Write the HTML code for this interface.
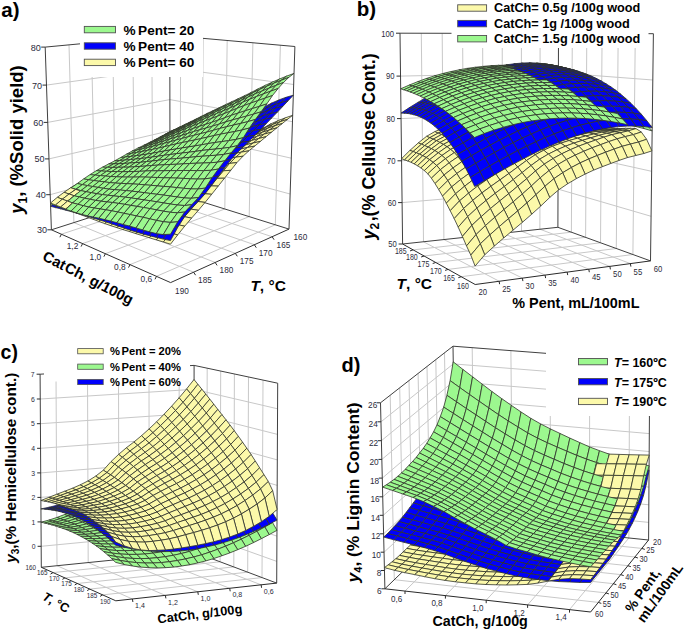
<!DOCTYPE html>
<html><head><meta charset="utf-8"><style>
html,body{margin:0;padding:0;background:#fff;}
svg{display:block;}
text{font-family:"Liberation Sans",sans-serif;}
.g{fill:#9cf88f}.b{fill:#0000fc}.y{fill:#fcf9aa}
</style></head><body>
<svg width="685" height="633" viewBox="0 0 685 633">
<rect width="685" height="633" fill="#fff"/>
<g id="pa">
<path d="M73.9,222.6 L193.6,272.2" stroke="#c8c8c8" stroke-width="1.0" fill="none"/>
<path d="M95.2,215.8 L215.1,262.4" stroke="#c8c8c8" stroke-width="1.0" fill="none"/>
<path d="M115.4,209.3 L235.3,253.3" stroke="#c8c8c8" stroke-width="1.0" fill="none"/>
<path d="M134.5,203.2 L254.3,244.7" stroke="#c8c8c8" stroke-width="1.0" fill="none"/>
<path d="M152.7,197.4 L272.1,236.7" stroke="#c8c8c8" stroke-width="1.0" fill="none"/>
<path d="M61.4,234.2 L180.3,195.1" stroke="#c8c8c8" stroke-width="1.0" fill="none"/>
<path d="M82.6,243.6 L201.8,201.8" stroke="#c8c8c8" stroke-width="1.0" fill="none"/>
<path d="M105.4,253.7 L224.8,209.0" stroke="#c8c8c8" stroke-width="1.0" fill="none"/>
<path d="M130.0,264.6 L249.2,216.6" stroke="#c8c8c8" stroke-width="1.0" fill="none"/>
<path d="M156.5,276.3 L275.3,224.8" stroke="#c8c8c8" stroke-width="1.0" fill="none"/>
<path d="M50.2,194.7 L169.9,161.6" stroke="#c8c8c8" stroke-width="1.0" fill="none"/>
<path d="M49.0,158.9 L169.9,130.8" stroke="#c8c8c8" stroke-width="1.0" fill="none"/>
<path d="M47.7,122.4 L169.9,99.6" stroke="#c8c8c8" stroke-width="1.0" fill="none"/>
<path d="M46.5,85.1 L169.9,67.8" stroke="#c8c8c8" stroke-width="1.0" fill="none"/>
<path d="M73.9,222.6 L69.0,44.9" stroke="#c8c8c8" stroke-width="1.0" fill="none"/>
<path d="M95.2,215.8 L91.4,42.8" stroke="#c8c8c8" stroke-width="1.0" fill="none"/>
<path d="M115.4,209.3 L112.7,40.8" stroke="#c8c8c8" stroke-width="1.0" fill="none"/>
<path d="M134.5,203.2 L132.8,38.9" stroke="#c8c8c8" stroke-width="1.0" fill="none"/>
<path d="M152.7,197.4 L151.8,37.1" stroke="#c8c8c8" stroke-width="1.0" fill="none"/>
<path d="M169.9,161.6 L290.1,194.0" stroke="#c8c8c8" stroke-width="1.0" fill="none"/>
<path d="M169.9,130.8 L291.3,158.2" stroke="#c8c8c8" stroke-width="1.0" fill="none"/>
<path d="M169.9,99.6 L292.5,121.7" stroke="#c8c8c8" stroke-width="1.0" fill="none"/>
<path d="M169.9,67.8 L293.7,84.5" stroke="#c8c8c8" stroke-width="1.0" fill="none"/>
<path d="M180.3,195.1 L180.6,36.4" stroke="#c8c8c8" stroke-width="1.0" fill="none"/>
<path d="M201.8,201.8 L203.2,38.4" stroke="#c8c8c8" stroke-width="1.0" fill="none"/>
<path d="M224.8,209.0 L227.2,40.5" stroke="#c8c8c8" stroke-width="1.0" fill="none"/>
<path d="M249.2,216.6 L252.9,42.8" stroke="#c8c8c8" stroke-width="1.0" fill="none"/>
<path d="M275.3,224.8 L280.4,45.2" stroke="#c8c8c8" stroke-width="1.0" fill="none"/>
<path d="M51.4,229.8 L45.2,47.1" stroke="#404040" stroke-width="1.0" fill="none"/>
<path d="M45.2,47.1 L169.8,35.4" stroke="#404040" stroke-width="1.0" fill="none"/>
<path d="M169.8,35.4 L294.9,46.5" stroke="#404040" stroke-width="1.0" fill="none"/>
<path d="M294.9,46.5 L289.0,229.1" stroke="#404040" stroke-width="1.0" fill="none"/>
<path d="M170.0,191.8 L169.8,35.4" stroke="#404040" stroke-width="1.0" fill="none"/>
<path d="M51.4,229.8 L170.0,191.8" stroke="#404040" stroke-width="1.0" fill="none"/>
<path d="M170.0,191.8 L289.0,229.1" stroke="#404040" stroke-width="1.0" fill="none"/>
<path d="M51.4,229.8 L170.6,282.6" stroke="#303030" stroke-width="1.0" fill="none"/>
<path d="M170.6,282.6 L289.0,229.1" stroke="#303030" stroke-width="1.0" fill="none"/>
<path d="M61.4,234.2 l-1.5,3" stroke="#303030" stroke-width="1"/>
<path d="M82.6,243.6 l-1.5,3" stroke="#303030" stroke-width="1"/>
<path d="M105.4,253.7 l-1.5,3" stroke="#303030" stroke-width="1"/>
<path d="M130.0,264.6 l-1.5,3" stroke="#303030" stroke-width="1"/>
<path d="M156.5,276.3 l-1.5,3" stroke="#303030" stroke-width="1"/>
<path d="M193.6,272.2 l2,3" stroke="#303030" stroke-width="1"/>
<path d="M215.1,262.4 l2,3" stroke="#303030" stroke-width="1"/>
<path d="M235.3,253.3 l2,3" stroke="#303030" stroke-width="1"/>
<path d="M254.3,244.7 l2,3" stroke="#303030" stroke-width="1"/>
<path d="M272.1,236.7 l2,3" stroke="#303030" stroke-width="1"/>
<path d="M51.4,229.8 l-4,0" stroke="#303030" stroke-width="1"/>
<path d="M50.2,194.7 l-4,0" stroke="#303030" stroke-width="1"/>
<path d="M49.0,158.9 l-4,0" stroke="#303030" stroke-width="1"/>
<path d="M47.7,122.4 l-4,0" stroke="#303030" stroke-width="1"/>
<path d="M46.5,85.1 l-4,0" stroke="#303030" stroke-width="1"/>
<path d="M45.2,47.1 l-4,0" stroke="#303030" stroke-width="1"/>
<g stroke="#30332a" stroke-width="0.8">
<path class=y d="M164.8 148.1 169.9 147.9 175.1 146 169.9 146.3z"/>
<path class=b d="M164.8 148.1 169.9 147.3 175.1 145.4 169.9 146.3z"/>
<path class=g d="M164.7 134.5 169.9 132.1 175.1 129.2 169.9 131.6z"/>
<path class=y d="M169.9 147.9 175.2 147.6 180.4 145.6 175.1 146z"/>
<path class=b d="M169.9 147.3 175.2 146.3 180.4 144.3 175.1 145.4z"/>
<path class=g d="M169.9 132.1 175.2 129.7 180.4 126.7 175.1 129.2z"/>
<path class=y d="M159.5 149.9 164.7 149.8 169.9 147.9 164.8 148.1z"/>
<path class=b d="M159.5 150.1 164.7 149.3 169.9 147.3 164.8 148.1z"/>
<path class=g d="M159.5 137.3 164.7 135 169.9 132.1 164.7 134.5z"/>
<path class=y d="M175.2 147.6 180.6 147.2 185.7 145.2 180.4 145.6z"/>
<path class=b d="M175.2 146.3 180.6 145.2 185.7 143 180.4 144.3z"/>
<path class=g d="M175.2 129.7 180.6 127.1 185.8 124.1 180.4 126.7z"/>
<path class=y d="M164.7 149.8 170 149.6 175.2 147.6 169.9 147.9z"/>
<path class=b d="M164.7 149.3 170 148.5 175.2 146.3 169.9 147.3z"/>
<path class=g d="M164.7 135 170 132.7 175.2 129.7 169.9 132.1z"/>
<path class=y d="M154.2 151.8 159.4 151.8 164.7 149.8 159.5 149.9z"/>
<path class=b d="M154.2 152.1 159.4 151.5 164.7 149.3 159.5 150.1z"/>
<path class=g d="M154.1 140.1 159.3 138 164.7 135 159.5 137.3z"/>
<path class=y d="M180.6 147.2 186 146.7 191.2 144.6 185.7 145.2z"/>
<path class=b d="M180.6 145.2 186 143.9 191.2 141.6 185.7 143z"/>
<path class=g d="M180.6 127.1 186.1 124.5 191.3 121.4 185.8 124.1z"/>
<path class=y d="M170 149.6 175.3 149.2 180.6 147.2 175.2 147.6z"/>
<path class=b d="M170 148.5 175.3 147.4 180.6 145.2 175.2 146.3z"/>
<path class=g d="M170 132.7 175.3 130.3 180.6 127.1 175.2 129.7z"/>
<path class=y d="M159.4 151.8 164.6 151.6 170 149.6 164.7 149.8z"/>
<path class=b d="M159.4 151.5 164.6 150.7 170 148.5 164.7 149.3z"/>
<path class=g d="M159.3 138 164.6 135.8 170 132.7 164.7 135z"/>
<path class=b d="M148.8 154.2 154 153.7 159.4 151.5 154.2 152.1z"/>
<path class=y d="M148.8 153.8 154 153.8 159.4 151.8 154.2 151.8z"/>
<path class=g d="M148.7 142.8 153.9 141 159.3 138 154.1 140.1z"/>
<path class=y d="M186 146.7 191.5 146.1 196.7 144 191.2 144.6z"/>
<path class=b d="M186 143.9 191.5 142.4 196.7 139.9 191.2 141.6z"/>
<path class=g d="M186.1 124.5 191.7 121.9 196.9 118.6 191.3 121.4z"/>
<path class=y d="M175.3 149.2 180.7 148.8 186 146.7 180.6 147.2z"/>
<path class=b d="M175.3 147.4 180.8 146.2 186 143.9 180.6 145.2z"/>
<path class=g d="M175.3 130.3 180.8 127.9 186.1 124.5 180.6 127.1z"/>
<path class=y d="M164.6 151.6 170 151.4 175.3 149.2 170 149.6z"/>
<path class=b d="M164.6 150.7 170 149.8 175.3 147.4 170 148.5z"/>
<path class=g d="M164.6 135.8 170 133.6 175.3 130.3 170 132.7z"/>
<path class=y d="M154 153.8 159.2 153.7 164.6 151.6 159.4 151.8z"/>
<path class=b d="M154 153.7 159.2 153 164.6 150.7 159.4 151.5z"/>
<path class=g d="M153.9 141 159.2 139 164.6 135.8 159.3 138z"/>
<path class=b d="M143.3 156.4 148.5 156 154 153.7 148.8 154.2z"/>
<path class=y d="M143.3 155.9 148.5 155.9 154 153.8 148.8 153.8z"/>
<path class=g d="M143.3 145.5 148.4 143.9 153.9 141 148.7 142.8z"/>
<path class=y d="M191.5 146.1 197.1 145.4 202.3 143.2 196.7 144z"/>
<path class=b d="M191.5 142.4 197.2 140.7 202.4 138.2 196.7 139.9z"/>
<path class=g d="M191.7 121.9 197.3 119.1 202.5 115.8 196.9 118.6z"/>
<path class=y d="M180.7 148.8 186.3 148.3 191.5 146.1 186 146.7z"/>
<path class=b d="M180.8 146.2 186.3 144.9 191.5 142.4 186 143.9z"/>
<path class=g d="M180.8 127.9 186.4 125.3 191.7 121.9 186.1 124.5z"/>
<path class=y d="M170 151.4 175.4 151 180.7 148.8 175.3 149.2z"/>
<path class=b d="M170 149.8 175.4 148.7 180.8 146.2 175.3 147.4z"/>
<path class=g d="M170 133.6 175.4 131.3 180.8 127.9 175.3 130.3z"/>
<path class=y d="M159.2 153.7 164.6 153.6 170 151.4 164.6 151.6z"/>
<path class=b d="M159.2 153 164.6 152.2 170 149.8 164.6 150.7z"/>
<path class=g d="M159.2 139 164.5 137 170 133.6 164.6 135.8z"/>
<path class=y d="M148.5 155.9 153.8 155.9 159.2 153.7 154 153.8z"/>
<path class=b d="M148.5 156 153.8 155.4 159.2 153 154 153.7z"/>
<path class=g d="M148.4 143.9 153.7 142.2 159.2 139 153.9 141z"/>
<path class=b d="M137.8 158.7 142.9 158.3 148.5 156 143.3 156.4z"/>
<path class=y d="M137.8 158 142.9 158.1 148.5 155.9 143.3 155.9z"/>
<path class=g d="M137.7 148.2 142.8 146.9 148.4 143.9 143.3 145.5z"/>
<path class=y d="M197.1 145.4 202.9 144.7 208 142.4 202.3 143.2z"/>
<path class=b d="M197.2 140.7 202.9 138.9 208.1 136.2 202.4 138.2z"/>
<path class=g d="M197.3 119.1 203.1 116.3 208.3 112.9 202.5 115.8z"/>
<path class=y d="M186.3 148.3 191.9 147.7 197.1 145.4 191.5 146.1z"/>
<path class=b d="M186.3 144.9 191.9 143.4 197.2 140.7 191.5 142.4z"/>
<path class=g d="M186.4 125.3 192 122.7 197.3 119.1 191.7 121.9z"/>
<path class=y d="M175.4 151 180.9 150.6 186.3 148.3 180.7 148.8z"/>
<path class=b d="M175.4 148.7 181 147.5 186.3 144.9 180.8 146.2z"/>
<path class=g d="M175.4 131.3 181 128.9 186.4 125.3 180.8 127.9z"/>
<path class=y d="M164.6 153.6 170 153.3 175.4 151 170 151.4z"/>
<path class=b d="M164.6 152.2 170 151.2 175.4 148.7 170 149.8z"/>
<path class=g d="M164.5 137 170 134.9 175.4 131.3 170 133.6z"/>
<path class=y d="M153.8 155.9 159.1 155.8 164.6 153.6 159.2 153.7z"/>
<path class=b d="M153.8 155.4 159.1 154.7 164.6 152.2 159.2 153z"/>
<path class=g d="M153.7 142.2 159 140.5 164.5 137 159.2 139z"/>
<path class=y d="M142.9 158.1 148.2 158.2 153.8 155.9 148.5 155.9z"/>
<path class=b d="M142.9 158.3 148.2 157.8 153.8 155.4 148.5 156z"/>
<path class=g d="M142.8 146.9 148.1 145.5 153.7 142.2 148.4 143.9z"/>
<path class=b d="M132.1 161.1 137.3 160.8 142.9 158.3 137.8 158.7z"/>
<path class=y d="M132.1 160.1 137.3 160.3 142.9 158.1 137.8 158z"/>
<path class=g d="M132 151.1 137.2 150 142.8 146.9 137.7 148.2z"/>
<path class=y d="M202.9 144.7 208.7 143.9 213.9 141.5 208 142.4z"/>
<path class=b d="M202.9 138.9 208.7 136.9 213.9 134 208.1 136.2z"/>
<path class=g d="M203.1 116.3 209 113.5 214.2 110.1 208.3 112.9z"/>
<path class=y d="M191.9 147.7 197.6 147.1 202.9 144.7 197.1 145.4z"/>
<path class=b d="M191.9 143.4 197.6 141.7 202.9 138.9 197.2 140.7z"/>
<path class=g d="M192 122.7 197.8 120 203.1 116.3 197.3 119.1z"/>
<path class=y d="M180.9 150.6 186.6 150.1 191.9 147.7 186.3 148.3z"/>
<path class=b d="M181 147.5 186.6 146.1 191.9 143.4 186.3 144.9z"/>
<path class=g d="M181 128.9 186.7 126.4 192 122.7 186.4 125.3z"/>
<path class=y d="M170 153.3 175.5 153 180.9 150.6 175.4 151z"/>
<path class=b d="M170 151.2 175.5 150.1 181 147.5 175.4 148.7z"/>
<path class=g d="M170 134.9 175.5 132.7 181 128.9 175.4 131.3z"/>
<path class=y d="M159.1 155.8 164.5 155.7 170 153.3 164.6 153.6z"/>
<path class=b d="M159.1 154.7 164.5 153.8 170 151.2 164.6 152.2z"/>
<path class=g d="M159 140.5 164.5 138.7 170 134.9 164.5 137z"/>
<path class=y d="M148.2 158.2 153.5 158.2 159.1 155.8 153.8 155.9z"/>
<path class=b d="M148.2 157.8 153.5 157.2 159.1 154.7 153.8 155.4z"/>
<path class=g d="M148.1 145.5 153.4 144 159 140.5 153.7 142.2z"/>
<path class=b d="M137.3 160.8 142.5 160.4 148.2 157.8 142.9 158.3z"/>
<path class=y d="M137.3 160.3 142.5 160.5 148.2 158.2 142.9 158.1z"/>
<path class=g d="M137.2 150 142.4 148.8 148.1 145.5 142.8 146.9z"/>
<path class=b d="M126.4 163.5 131.6 163.3 137.3 160.8 132.1 161.1z"/>
<path class=y d="M126.4 162.4 131.6 162.6 137.3 160.3 132.1 160.1z"/>
<path class=g d="M126.3 154.3 131.4 153.4 137.2 150 132 151.1z"/>
<path class=y d="M208.7 143.9 214.6 143 219.8 140.5 213.9 141.5z"/>
<path class=b d="M208.7 136.9 214.7 134.7 219.9 131.6 213.9 134z"/>
<path class=g d="M209 113.5 215 110.7 220.2 107.2 214.2 110.1z"/>
<path class=y d="M197.6 147.1 203.4 146.4 208.7 143.9 202.9 144.7z"/>
<path class=b d="M197.6 141.7 203.5 139.9 208.7 136.9 202.9 138.9z"/>
<path class=g d="M197.8 120 203.7 117.3 209 113.5 203.1 116.3z"/>
<path class=y d="M186.6 150.1 192.3 149.6 197.6 147.1 191.9 147.7z"/>
<path class=b d="M186.6 146.1 192.3 144.6 197.6 141.7 191.9 143.4z"/>
<path class=g d="M186.7 126.4 192.4 123.9 197.8 120 192 122.7z"/>
<path class=y d="M175.5 153 181.1 152.6 186.6 150.1 180.9 150.6z"/>
<path class=b d="M175.5 150.1 181.2 148.9 186.6 146.1 181 147.5z"/>
<path class=g d="M175.5 132.7 181.2 130.4 186.7 126.4 181 128.9z"/>
<path class=y d="M164.5 155.7 170 155.4 175.5 153 170 153.3z"/>
<path class=b d="M164.5 153.8 170 152.9 175.5 150.1 170 151.2z"/>
<path class=g d="M164.5 138.7 170 136.8 175.5 132.7 170 134.9z"/>
<path class=y d="M153.5 158.2 158.9 158.1 164.5 155.7 159.1 155.8z"/>
<path class=b d="M153.5 157.2 158.9 156.5 164.5 153.8 159.1 154.7z"/>
<path class=g d="M153.4 144 158.9 142.4 164.5 138.7 159 140.5z"/>
<path class=y d="M142.5 160.5 147.9 160.6 153.5 158.2 148.2 158.2z"/>
<path class=b d="M142.5 160.4 147.9 159.9 153.5 157.2 148.2 157.8z"/>
<path class=g d="M142.4 148.8 147.8 147.6 153.4 144 148.1 145.5z"/>
<path class=b d="M131.6 163.3 136.8 163 142.5 160.4 137.3 160.8z"/>
<path class=y d="M131.6 162.6 136.8 162.8 142.5 160.5 137.3 160.3z"/>
<path class=g d="M131.4 153.4 136.7 152.5 142.4 148.8 137.2 150z"/>
<path class=b d="M120.6 166 125.7 165.9 131.6 163.3 126.4 163.5z"/>
<path class=y d="M120.6 164.6 125.7 165 131.6 162.6 126.4 162.4z"/>
<path class=g d="M120.5 157.6 125.6 157 131.4 153.4 126.3 154.3z"/>
<path class=y d="M214.6 143 220.6 142 225.8 139.4 219.8 140.5z"/>
<path class=b d="M214.7 134.7 220.7 132.3 225.9 129 219.9 131.6z"/>
<path class=g d="M215 110.7 221.1 107.8 226.3 104.3 220.2 107.2z"/>
<path class=y d="M203.4 146.4 209.3 145.6 214.6 143 208.7 143.9z"/>
<path class=b d="M203.5 139.9 209.4 137.9 214.7 134.7 208.7 136.9z"/>
<path class=g d="M203.7 117.3 209.7 114.6 215 110.7 209 113.5z"/>
<path class=y d="M192.3 149.6 198.1 148.9 203.4 146.4 197.6 147.1z"/>
<path class=b d="M192.3 144.6 198.1 143 203.5 139.9 197.6 141.7z"/>
<path class=g d="M192.4 123.9 198.3 121.3 203.7 117.3 197.8 120z"/>
<path class=y d="M181.1 152.6 186.9 152.1 192.3 149.6 186.6 150.1z"/>
<path class=b d="M181.2 148.9 186.9 147.6 192.3 144.6 186.6 146.1z"/>
<path class=g d="M181.2 130.4 187 128.1 192.4 123.9 186.7 126.4z"/>
<path class=y d="M170 155.4 175.6 155.1 181.1 152.6 175.5 153z"/>
<path class=b d="M170 152.9 175.6 151.8 181.2 148.9 175.5 150.1z"/>
<path class=g d="M170 136.8 175.7 134.8 181.2 130.4 175.5 132.7z"/>
<path class=y d="M158.9 158.1 164.5 157.9 170 155.4 164.5 155.7z"/>
<path class=b d="M158.9 156.5 164.4 155.7 170 152.9 164.5 153.8z"/>
<path class=g d="M158.9 142.4 164.4 140.8 170 136.8 164.5 138.7z"/>
<path class=y d="M147.9 160.6 153.3 160.6 158.9 158.1 153.5 158.2z"/>
<path class=b d="M147.9 159.9 153.3 159.3 158.9 156.5 153.5 157.2z"/>
<path class=g d="M147.8 147.6 153.2 146.2 158.9 142.4 153.4 144z"/>
<path class=y d="M136.8 162.8 142.1 163 147.9 160.6 142.5 160.5z"/>
<path class=b d="M136.8 163 142.1 162.6 147.9 159.9 142.5 160.4z"/>
<path class=g d="M136.7 152.5 142 151.5 147.8 147.6 142.4 148.8z"/>
<path class=b d="M125.7 165.9 131 165.6 136.8 163 131.6 163.3z"/>
<path class=y d="M125.7 165 131 165.3 136.8 162.8 131.6 162.6z"/>
<path class=g d="M125.6 157 130.9 156.4 136.7 152.5 131.4 153.4z"/>
<path class=b d="M114.7 168.6 119.8 168.5 125.7 165.9 120.6 166z"/>
<path class=y d="M114.7 167 119.8 167.5 125.7 165 120.6 164.6z"/>
<path class=g d="M114.6 160.9 119.7 160.5 125.6 157 120.5 157.6z"/>
<path class=y d="M220.6 142 226.7 140.9 231.9 138.2 225.8 139.4z"/>
<path class=b d="M220.7 132.3 226.9 129.7 232.1 126.2 225.9 129z"/>
<path class=g d="M221.1 107.8 227.3 105 232.5 101.4 226.3 104.3z"/>
<path class=y d="M209.3 145.6 215.4 144.7 220.6 142 214.6 143z"/>
<path class=b d="M209.4 137.9 215.5 135.7 220.7 132.3 214.7 134.7z"/>
<path class=g d="M209.7 114.6 215.7 111.8 221.1 107.8 215 110.7z"/>
<path class=y d="M198.1 148.9 204 148.3 209.3 145.6 203.4 146.4z"/>
<path class=b d="M198.1 143 204.1 141.1 209.4 137.9 203.5 139.9z"/>
<path class=g d="M198.3 121.3 204.3 118.8 209.7 114.6 203.7 117.3z"/>
<path class=y d="M186.9 152.1 192.7 151.6 198.1 148.9 192.3 149.6z"/>
<path class=b d="M186.9 147.6 192.7 146.1 198.1 143 192.3 144.6z"/>
<path class=g d="M187 128.1 192.8 125.8 198.3 121.3 192.4 123.9z"/>
<path class=y d="M175.6 155.1 181.4 154.7 186.9 152.1 181.1 152.6z"/>
<path class=b d="M175.6 151.8 181.4 150.6 186.9 147.6 181.2 148.9z"/>
<path class=g d="M175.7 134.8 181.4 132.7 187 128.1 181.2 130.4z"/>
<path class=y d="M164.5 157.9 170.1 157.7 175.6 155.1 170 155.4z"/>
<path class=b d="M164.4 155.7 170.1 154.7 175.6 151.8 170 152.9z"/>
<path class=g d="M164.4 140.8 170 139 175.7 134.8 170 136.8z"/>
<path class=y d="M153.3 160.6 158.8 160.5 164.5 157.9 158.9 158.1z"/>
<path class=b d="M153.3 159.3 158.8 158.6 164.4 155.7 158.9 156.5z"/>
<path class=g d="M153.2 146.2 158.7 144.8 164.4 140.8 158.9 142.4z"/>
<path class=y d="M142.1 163 147.5 163.1 153.3 160.6 147.9 160.6z"/>
<path class=b d="M142.1 162.6 147.5 162.1 153.3 159.3 147.9 159.9z"/>
<path class=g d="M142 151.5 147.4 150.4 153.2 146.2 147.8 147.6z"/>
<path class=y d="M131 165.3 136.3 165.6 142.1 163 136.8 162.8z"/>
<path class=b d="M131 165.6 136.3 165.3 142.1 162.6 136.8 163z"/>
<path class=g d="M130.9 156.4 136.2 155.7 142 151.5 136.7 152.5z"/>
<path class=b d="M119.8 168.5 125 168.4 131 165.6 125.7 165.9z"/>
<path class=y d="M119.8 167.5 125 167.9 131 165.3 125.7 165z"/>
<path class=g d="M119.7 160.5 124.9 160.1 130.9 156.4 125.6 157z"/>
<path class=b d="M108.7 171.3 113.8 171.3 119.8 168.5 114.7 168.6z"/>
<path class=y d="M108.7 169.3 113.8 170 119.8 167.5 114.7 167z"/>
<path class=g d="M108.6 164 113.7 163.9 119.7 160.5 114.6 160.9z"/>
<path class=y d="M226.7 140.9 233 139.5 238.2 136.7 231.9 138.2z"/>
<path class=b d="M226.9 129.7 233.2 126.8 238.4 123.1 232.1 126.2z"/>
<path class=g d="M227.3 105 233.6 102.1 238.8 98.4 232.5 101.4z"/>
<path class=y d="M215.4 144.7 221.5 143.7 226.7 140.9 220.6 142z"/>
<path class=b d="M215.5 135.7 221.6 133.2 226.9 129.7 220.7 132.3z"/>
<path class=g d="M215.7 111.8 222 109.1 227.3 105 221.1 107.8z"/>
<path class=y d="M204 148.3 210 147.5 215.4 144.7 209.3 145.6z"/>
<path class=b d="M204.1 141.1 210.1 139.1 215.5 135.7 209.4 137.9z"/>
<path class=g d="M204.3 118.8 210.3 116.2 215.7 111.8 209.7 114.6z"/>
<path class=y d="M192.7 151.6 198.6 151 204 148.3 198.1 148.9z"/>
<path class=b d="M192.7 146.1 198.6 144.4 204.1 141.1 198.1 143z"/>
<path class=g d="M192.8 125.8 198.8 123.4 204.3 118.8 198.3 121.3z"/>
<path class=y d="M181.4 154.7 187.2 154.3 192.7 151.6 186.9 152.1z"/>
<path class=b d="M181.4 150.6 187.2 149.3 192.7 146.1 186.9 147.6z"/>
<path class=g d="M181.4 132.7 187.3 130.6 192.8 125.8 187 128.1z"/>
<path class=y d="M170.1 157.7 175.8 157.4 181.4 154.7 175.6 155.1z"/>
<path class=b d="M170.1 154.7 175.8 153.7 181.4 150.6 175.6 151.8z"/>
<path class=g d="M170 139 175.8 137.2 181.4 132.7 175.7 134.8z"/>
<path class=y d="M158.8 160.5 164.4 160.4 170.1 157.7 164.5 157.9z"/>
<path class=b d="M158.8 158.6 164.4 157.8 170.1 154.7 164.4 155.7z"/>
<path class=g d="M158.7 144.8 164.3 143.3 170 139 164.4 140.8z"/>
<path class=y d="M147.5 163.1 153 163.1 158.8 160.5 153.3 160.6z"/>
<path class=b d="M147.5 162.1 153 161.5 158.8 158.6 153.3 159.3z"/>
<path class=g d="M147.4 150.4 152.9 149.3 158.7 144.8 153.2 146.2z"/>
<path class=y d="M136.3 165.6 141.7 165.8 147.5 163.1 142.1 163z"/>
<path class=b d="M136.3 165.3 141.7 164.9 147.5 162.1 142.1 162.6z"/>
<path class=g d="M136.2 155.7 141.6 154.9 147.4 150.4 142 151.5z"/>
<path class=b d="M125 168.4 130.3 168.1 136.3 165.3 131 165.6z"/>
<path class=y d="M125 167.9 130.3 168.3 136.3 165.6 131 165.3z"/>
<path class=g d="M124.9 160.1 130.2 159.6 136.2 155.7 130.9 156.4z"/>
<path class=b d="M113.8 171.3 119 171.3 125 168.4 119.8 168.5z"/>
<path class=y d="M113.8 170 119 170.7 125 167.9 119.8 167.5z"/>
<path class=g d="M113.7 163.9 118.9 163.7 124.9 160.1 119.7 160.5z"/>
<path class=b d="M102.6 174.1 107.7 174.3 113.8 171.3 108.7 171.3z"/>
<path class=y d="M102.6 171.8 107.7 172.7 113.8 170 108.7 169.3z"/>
<path class=g d="M102.5 167.2 107.6 167.3 113.7 163.9 108.6 164z"/>
<path class=y d="M233 139.5 239.3 138 244.5 135.1 238.2 136.7z"/>
<path class=b d="M233.2 126.8 239.6 123.6 244.8 119.7 238.4 123.1z"/>
<path class=g d="M233.6 102.1 240.1 99.1 245.3 95.4 238.8 98.4z"/>
<path class=y d="M221.5 143.7 227.7 142.4 233 139.5 226.7 140.9z"/>
<path class=b d="M221.6 133.2 227.9 130.6 233.2 126.8 226.9 129.7z"/>
<path class=g d="M222 109.1 228.3 106.3 233.6 102.1 227.3 105z"/>
<path class=y d="M210 147.5 216.2 146.5 221.5 143.7 215.4 144.7z"/>
<path class=b d="M210.1 139.1 216.3 136.8 221.6 133.2 215.5 135.7z"/>
<path class=g d="M210.3 116.2 216.5 113.6 222 109.1 215.7 111.8z"/>
<path class=y d="M198.6 151 204.6 150.3 210 147.5 204 148.3z"/>
<path class=b d="M198.6 144.4 204.7 142.6 210.1 139.1 204.1 141.1z"/>
<path class=g d="M198.8 123.4 204.9 121 210.3 116.2 204.3 118.8z"/>
<path class=y d="M187.2 154.3 193.1 153.9 198.6 151 192.7 151.6z"/>
<path class=b d="M187.2 149.3 193.1 147.8 198.6 144.4 192.7 146.1z"/>
<path class=g d="M187.3 130.6 193.2 128.5 198.8 123.4 192.8 125.8z"/>
<path class=y d="M175.8 157.4 181.6 157.1 187.2 154.3 181.4 154.7z"/>
<path class=b d="M175.8 153.7 181.6 152.5 187.2 149.3 181.4 150.6z"/>
<path class=g d="M175.8 137.2 181.6 135.4 187.3 130.6 181.4 132.7z"/>
<path class=y d="M164.4 160.4 170.1 160.2 175.8 157.4 170.1 157.7z"/>
<path class=b d="M164.4 157.8 170.1 156.8 175.8 153.7 170.1 154.7z"/>
<path class=g d="M164.3 143.3 170.1 141.8 175.8 137.2 170 139z"/>
<path class=y d="M153 163.1 158.6 163.1 164.4 160.4 158.8 160.5z"/>
<path class=b d="M153 161.5 158.6 160.8 164.4 157.8 158.8 158.6z"/>
<path class=g d="M152.9 149.3 158.6 148.1 164.3 143.3 158.7 144.8z"/>
<path class=y d="M141.7 165.8 147.2 165.9 153 163.1 147.5 163.1z"/>
<path class=b d="M141.7 164.9 147.2 164.4 153 161.5 147.5 162.1z"/>
<path class=g d="M141.6 154.9 147.1 154.1 152.9 149.3 147.4 150.4z"/>
<path class=y d="M130.3 168.3 135.7 168.7 141.7 165.8 136.3 165.6z"/>
<path class=b d="M130.3 168.1 135.7 167.8 141.7 164.9 136.3 165.3z"/>
<path class=g d="M130.2 159.6 135.6 159.1 141.6 154.9 136.2 155.7z"/>
<path class=b d="M119 171.3 124.3 171.2 130.3 168.1 125 168.4z"/>
<path class=y d="M119 170.7 124.3 171.3 130.3 168.3 125 167.9z"/>
<path class=g d="M118.9 163.7 124.2 163.4 130.2 159.6 124.9 160.1z"/>
<path class=b d="M107.7 174.3 112.9 174.4 119 171.3 113.8 171.3z"/>
<path class=y d="M107.7 172.7 112.9 173.5 119 170.7 113.8 170z"/>
<path class=g d="M107.6 167.3 112.8 167.4 118.9 163.7 113.7 163.9z"/>
<path class=b d="M96.5 177.1 101.5 177.4 107.7 174.3 102.6 174.1z"/>
<path class=y d="M96.4 174.4 101.5 175.5 107.7 172.7 102.6 171.8z"/>
<path class=g d="M96.3 170.7 101.4 171 107.6 167.3 102.5 167.2z"/>
<path class=y d="M239.3 138 245.8 136.2 251 133.1 244.5 135.1z"/>
<path class=b d="M239.6 123.6 246.1 120.1 251.4 115.9 244.8 119.7z"/>
<path class=g d="M240.1 99.1 246.6 95.9 251.9 92.1 245.3 95.4z"/>
<path class=y d="M227.7 142.4 234.1 141 239.3 138 233 139.5z"/>
<path class=b d="M227.9 130.6 234.3 127.7 239.6 123.6 233.2 126.8z"/>
<path class=g d="M228.3 106.3 234.7 103.5 240.1 99.1 233.6 102.1z"/>
<path class=y d="M216.2 146.5 222.4 145.4 227.7 142.4 221.5 143.7z"/>
<path class=b d="M216.3 136.8 222.5 134.4 227.9 130.6 221.6 133.2z"/>
<path class=g d="M216.5 113.6 222.9 111 228.3 106.3 222 109.1z"/>
<path class=y d="M204.6 150.3 210.7 149.5 216.2 146.5 210 147.5z"/>
<path class=b d="M204.7 142.6 210.8 140.5 216.3 136.8 210.1 139.1z"/>
<path class=g d="M204.9 121 211.1 118.6 216.5 113.6 210.3 116.2z"/>
<path class=y d="M193.1 153.9 199.1 153.3 204.6 150.3 198.6 151z"/>
<path class=b d="M193.1 147.8 199.1 146.1 204.7 142.6 198.6 144.4z"/>
<path class=g d="M193.2 128.5 199.3 126.4 204.9 121 198.8 123.4z"/>
<path class=y d="M181.6 157.1 187.5 156.8 193.1 153.9 187.2 154.3z"/>
<path class=b d="M181.6 152.5 187.5 151.2 193.1 147.8 187.2 149.3z"/>
<path class=g d="M181.6 135.4 187.6 133.5 193.2 128.5 187.3 130.6z"/>
<path class=y d="M170.1 160.2 175.9 160 181.6 157.1 175.8 157.4z"/>
<path class=b d="M170.1 156.8 175.9 155.8 181.6 152.5 175.8 153.7z"/>
<path class=g d="M170.1 141.8 175.9 140.1 181.6 135.4 175.8 137.2z"/>
<path class=y d="M158.6 163.1 164.3 163 170.1 160.2 164.4 160.4z"/>
<path class=b d="M158.6 160.8 164.3 160.1 170.1 156.8 164.4 157.8z"/>
<path class=g d="M158.6 148.1 164.3 146.7 170.1 141.8 164.3 143.3z"/>
<path class=y d="M147.2 165.9 152.8 166 158.6 163.1 153 163.1z"/>
<path class=b d="M147.2 164.4 152.7 163.9 158.6 160.8 153 161.5z"/>
<path class=g d="M147.1 154.1 152.7 153.2 158.6 148.1 152.9 149.3z"/>
<path class=y d="M135.7 168.7 141.2 169 147.2 165.9 141.7 165.8z"/>
<path class=b d="M135.7 167.8 141.2 167.5 147.2 164.4 141.7 164.9z"/>
<path class=g d="M135.6 159.1 141.1 158.5 147.1 154.1 141.6 154.9z"/>
<path class=y d="M124.3 171.3 129.7 171.8 135.7 168.7 130.3 168.3z"/>
<path class=b d="M124.3 171.2 129.7 171 135.7 167.8 130.3 168.1z"/>
<path class=g d="M124.2 163.4 129.6 163.1 135.6 159.1 130.2 159.6z"/>
<path class=b d="M112.9 174.4 118.2 174.5 124.3 171.2 119 171.3z"/>
<path class=y d="M112.9 173.5 118.2 174.3 124.3 171.3 119 170.7z"/>
<path class=g d="M112.8 167.4 118.1 167.3 124.2 163.4 118.9 163.7z"/>
<path class=b d="M101.5 177.4 106.7 177.7 112.9 174.4 107.7 174.3z"/>
<path class=y d="M101.5 175.5 106.7 176.5 112.9 173.5 107.7 172.7z"/>
<path class=g d="M101.4 171 106.6 171.3 112.8 167.4 107.6 167.3z"/>
<path class=b d="M90.2 180.2 95.3 180.7 101.5 177.4 96.5 177.1z"/>
<path class=y d="M90.1 177.2 95.2 178.4 101.5 175.5 96.4 174.4z"/>
<path class=g d="M90 174.6 95.1 175.1 101.4 171 96.3 170.7z"/>
<path class=y d="M245.8 136.2 252.4 134 257.6 130.8 251 133.1z"/>
<path class=b d="M246.1 120.1 252.8 115.6 258 111.1 251.4 115.9z"/>
<path class=g d="M246.6 95.9 253.3 92.5 258.6 88.6 251.9 92.1z"/>
<path class=y d="M234.1 141 240.6 139.3 245.8 136.2 239.3 138z"/>
<path class=b d="M234.3 127.7 240.8 124.4 246.1 120.1 239.6 123.6z"/>
<path class=g d="M234.7 103.5 241.3 100.4 246.6 95.9 240.1 99.1z"/>
<path class=y d="M222.4 145.4 228.7 144.1 234.1 141 227.7 142.4z"/>
<path class=b d="M222.5 134.4 228.9 131.7 234.3 127.7 227.9 130.6z"/>
<path class=g d="M222.9 111 229.3 108.3 234.7 103.5 228.3 106.3z"/>
<path class=y d="M210.7 149.5 217 148.5 222.4 145.4 216.2 146.5z"/>
<path class=b d="M210.8 140.5 217.1 138.3 222.5 134.4 216.3 136.8z"/>
<path class=g d="M211.1 118.6 217.4 116.2 222.9 111 216.5 113.6z"/>
<path class=y d="M199.1 153.3 205.2 152.6 210.7 149.5 204.6 150.3z"/>
<path class=b d="M199.1 146.1 205.3 144.3 210.8 140.5 204.7 142.6z"/>
<path class=g d="M199.3 126.4 205.5 124.4 211.1 118.6 204.9 121z"/>
<path class=y d="M187.5 156.8 193.5 156.3 199.1 153.3 193.1 153.9z"/>
<path class=b d="M187.5 151.2 193.5 149.7 199.1 146.1 193.1 147.8z"/>
<path class=g d="M187.6 133.5 193.6 131.6 199.3 126.4 193.2 128.5z"/>
<path class=y d="M175.9 160 181.8 159.7 187.5 156.8 181.6 157.1z"/>
<path class=b d="M175.9 155.8 181.8 154.7 187.5 151.2 181.6 152.5z"/>
<path class=g d="M175.9 140.1 181.8 138.5 187.6 133.5 181.6 135.4z"/>
<path class=y d="M164.3 163 170.1 162.9 175.9 160 170.1 160.2z"/>
<path class=b d="M164.3 160.1 170.1 159.2 175.9 155.8 170.1 156.8z"/>
<path class=g d="M164.3 146.7 170.1 145.3 175.9 140.1 170.1 141.8z"/>
<path class=y d="M152.8 166 158.5 166 164.3 163 158.6 163.1z"/>
<path class=b d="M152.7 163.9 158.4 163.3 164.3 160.1 158.6 160.8z"/>
<path class=g d="M152.7 153.2 158.4 152.1 164.3 146.7 158.6 148.1z"/>
<path class=y d="M141.2 169 146.8 169.2 152.8 166 147.2 165.9z"/>
<path class=b d="M141.2 167.5 146.8 167.1 152.7 163.9 147.2 164.4z"/>
<path class=g d="M141.1 158.5 146.7 157.8 152.7 153.2 147.1 154.1z"/>
<path class=y d="M129.7 171.8 135.2 172.3 141.2 169 135.7 168.7z"/>
<path class=b d="M129.7 171 135.2 170.8 141.2 167.5 135.7 167.8z"/>
<path class=g d="M129.6 163.1 135.1 162.7 141.1 158.5 135.6 159.1z"/>
<path class=y d="M118.2 174.3 123.6 175.1 129.7 171.8 124.3 171.3z"/>
<path class=b d="M118.2 174.5 123.6 174.5 129.7 171 124.3 171.2z"/>
<path class=g d="M118.1 167.3 123.5 167.2 129.6 163.1 124.2 163.4z"/>
<path class=b d="M106.7 177.7 112 177.9 118.2 174.5 112.9 174.4z"/>
<path class=y d="M106.7 176.5 112 177.5 118.2 174.3 112.9 173.5z"/>
<path class=g d="M106.6 171.3 111.9 171.5 118.1 167.3 112.8 167.4z"/>
<path class=b d="M95.3 180.7 100.4 181.1 106.7 177.7 101.5 177.4z"/>
<path class=y d="M95.2 178.4 100.4 179.6 106.7 176.5 101.5 175.5z"/>
<path class=g d="M95.1 175.1 100.3 175.6 106.6 171.3 101.4 171z"/>
<path class=b d="M83.8 183.5 88.9 184.2 95.3 180.7 90.2 180.2z"/>
<path class=y d="M83.7 180.3 88.8 181.7 95.2 178.4 90.1 177.2z"/>
<path class=g d="M83.7 178.9 88.8 179.8 95.1 175.1 90 174.6z"/>
<path class=y d="M252.4 134 259.2 130.8 264.3 127.4 257.6 130.8z"/>
<path class=b d="M252.8 115.6 259.6 111.3 264.9 106.5 258 111.1z"/>
<path class=g d="M253.3 92.5 260.2 89.2 265.4 85.3 258.6 88.6z"/>
<path class=y d="M240.6 139.3 247.2 137.3 252.4 134 245.8 136.2z"/>
<path class=b d="M240.8 124.4 247.5 120.2 252.8 115.6 246.1 120.1z"/>
<path class=g d="M241.3 100.4 248 97.1 253.3 92.5 246.6 95.9z"/>
<path class=y d="M228.7 144.1 235.2 142.5 240.6 139.3 234.1 141z"/>
<path class=b d="M228.9 131.7 235.5 128.8 240.8 124.4 234.3 127.7z"/>
<path class=g d="M229.3 108.3 235.9 105.4 241.3 100.4 234.7 103.5z"/>
<path class=y d="M217 148.5 223.3 147.3 228.7 144.1 222.4 145.4z"/>
<path class=b d="M217.1 138.3 223.5 135.9 228.9 131.7 222.5 134.4z"/>
<path class=g d="M217.4 116.2 223.8 113.8 229.3 108.3 222.9 111z"/>
<path class=y d="M205.2 152.6 211.5 151.7 217 148.5 210.7 149.5z"/>
<path class=b d="M205.3 144.3 211.6 142.3 217.1 138.3 210.8 140.5z"/>
<path class=g d="M205.5 124.4 211.8 122.3 217.4 116.2 211.1 118.6z"/>
<path class=y d="M193.5 156.3 199.6 155.7 205.2 152.6 199.1 153.3z"/>
<path class=b d="M193.5 149.7 199.7 148.1 205.3 144.3 199.1 146.1z"/>
<path class=g d="M193.6 131.6 199.8 129.8 205.5 124.4 199.3 126.4z"/>
<path class=y d="M181.8 159.7 187.8 159.4 193.5 156.3 187.5 156.8z"/>
<path class=b d="M181.8 154.7 187.8 153.4 193.5 149.7 187.5 151.2z"/>
<path class=g d="M181.8 138.5 187.9 136.8 193.6 131.6 187.6 133.5z"/>
<path class=y d="M170.1 162.9 176 162.7 181.8 159.7 175.9 160z"/>
<path class=b d="M170.1 159.2 176 158.2 181.8 154.7 175.9 155.8z"/>
<path class=g d="M170.1 145.3 176 143.9 181.8 138.5 175.9 140.1z"/>
<path class=y d="M158.5 166 164.2 166 170.1 162.9 164.3 163z"/>
<path class=b d="M158.4 163.3 164.2 162.6 170.1 159.2 164.3 160.1z"/>
<path class=g d="M158.4 152.1 164.2 151 170.1 145.3 164.3 146.7z"/>
<path class=y d="M146.8 169.2 152.5 169.4 158.5 166 152.8 166z"/>
<path class=b d="M146.8 167.1 152.5 166.6 158.4 163.3 152.7 163.9z"/>
<path class=g d="M146.7 157.8 152.4 157 158.4 152.1 152.7 153.2z"/>
<path class=y d="M135.2 172.3 140.8 172.8 146.8 169.2 141.2 169z"/>
<path class=b d="M135.2 170.8 140.7 170.5 146.8 167.1 141.2 167.5z"/>
<path class=g d="M135.1 162.7 140.7 162.3 146.7 157.8 141.1 158.5z"/>
<path class=y d="M123.6 175.1 129.1 175.8 135.2 172.3 129.7 171.8z"/>
<path class=b d="M123.6 174.5 129 174.5 135.2 170.8 129.7 171z"/>
<path class=g d="M123.5 167.2 129 167.1 135.1 162.7 129.6 163.1z"/>
<path class=y d="M112 177.5 117.4 178.4 123.6 175.1 118.2 174.3z"/>
<path class=b d="M112 177.9 117.4 178.2 123.6 174.5 118.2 174.5z"/>
<path class=g d="M111.9 171.5 117.3 171.6 123.5 167.2 118.1 167.3z"/>
<path class=b d="M100.4 181.1 105.7 181.6 112 177.9 106.7 177.7z"/>
<path class=y d="M100.4 179.6 105.7 180.8 112 177.5 106.7 176.5z"/>
<path class=g d="M100.3 175.6 105.6 176.1 111.9 171.5 106.6 171.3z"/>
<path class=b d="M88.9 184.2 94 184.8 100.4 181.1 95.3 180.7z"/>
<path class=y d="M88.8 181.7 94 183.1 100.4 179.6 95.2 178.4z"/>
<path class=g d="M88.8 179.8 93.9 180.5 100.3 175.6 95.1 175.1z"/>
<path class=b d="M77.3 187.2 82.4 187.9 88.9 184.2 83.8 183.5z"/>
<path class=y d="M77.3 183.7 82.3 185.3 88.8 181.7 83.7 180.3z"/>
<path class=g d="M77.3 183.5 82.3 184.6 88.8 179.8 83.7 178.9z"/>
<path class=y d="M259.2 130.8 266.1 127.3 271.2 123.7 264.3 127.4z"/>
<path class=b d="M259.6 111.3 266.6 108 271.8 103 264.9 106.5z"/>
<path class=g d="M260.2 89.2 267.1 86.1 272.4 82.1 265.4 85.3z"/>
<path class=y d="M247.2 137.3 253.9 134.3 259.2 130.8 252.4 134z"/>
<path class=b d="M247.5 120.2 254.3 116.2 259.6 111.3 252.8 115.6z"/>
<path class=g d="M248 97.1 254.8 94 260.2 89.2 253.3 92.5z"/>
<path class=y d="M235.2 142.5 241.8 140.7 247.2 137.3 240.6 139.3z"/>
<path class=b d="M235.5 128.8 242.1 124.8 247.5 120.2 240.8 124.4z"/>
<path class=g d="M235.9 105.4 242.6 102.3 248 97.1 241.3 100.4z"/>
<path class=y d="M223.3 147.3 229.8 145.9 235.2 142.5 228.7 144.1z"/>
<path class=b d="M223.5 135.9 230 133.2 235.5 128.8 228.9 131.7z"/>
<path class=g d="M223.8 113.8 230.4 111.1 235.9 105.4 229.3 108.3z"/>
<path class=y d="M211.5 151.7 217.8 150.6 223.3 147.3 217 148.5z"/>
<path class=b d="M211.6 142.3 217.9 140.1 223.5 135.9 217.1 138.3z"/>
<path class=g d="M211.8 122.3 218.2 120.1 223.8 113.8 217.4 116.2z"/>
<path class=y d="M199.6 155.7 205.9 154.9 211.5 151.7 205.2 152.6z"/>
<path class=b d="M199.7 148.1 205.9 146.3 211.6 142.3 205.3 144.3z"/>
<path class=g d="M199.8 129.8 206.1 128 211.8 122.3 205.5 124.4z"/>
<path class=y d="M187.8 159.4 193.9 158.9 199.6 155.7 193.5 156.3z"/>
<path class=b d="M187.8 153.4 194 152 199.7 148.1 193.5 149.7z"/>
<path class=g d="M187.9 136.8 194.1 135.3 199.8 129.8 193.6 131.6z"/>
<path class=y d="M176 162.7 182 162.5 187.8 159.4 181.8 159.7z"/>
<path class=b d="M176 158.2 182 157.1 187.8 153.4 181.8 154.7z"/>
<path class=g d="M176 143.9 182.1 142.6 187.9 136.8 181.8 138.5z"/>
<path class=y d="M164.2 166 170.1 166 176 162.7 170.1 162.9z"/>
<path class=b d="M164.2 162.6 170.1 161.8 176 158.2 170.1 159.2z"/>
<path class=g d="M164.2 151 170.1 149.9 176 143.9 170.1 145.3z"/>
<path class=y d="M152.5 169.4 158.3 169.6 164.2 166 158.5 166z"/>
<path class=b d="M152.5 166.6 158.3 166 164.2 162.6 158.4 163.3z"/>
<path class=g d="M152.4 157 158.2 156.2 164.2 151 158.4 152.1z"/>
<path class=y d="M140.8 172.8 146.4 173.2 152.5 169.4 146.8 169.2z"/>
<path class=b d="M140.7 170.5 146.4 170.2 152.5 166.6 146.8 167.1z"/>
<path class=g d="M140.7 162.3 146.4 161.6 152.4 157 146.7 157.8z"/>
<path class=y d="M129.1 175.8 134.6 176.5 140.8 172.8 135.2 172.3z"/>
<path class=b d="M129 174.5 134.6 174.4 140.7 170.5 135.2 170.8z"/>
<path class=g d="M129 167.1 134.5 166.8 140.7 162.3 135.1 162.7z"/>
<path class=y d="M117.4 178.4 122.8 179.4 129.1 175.8 123.6 175.1z"/>
<path class=b d="M117.4 178.2 122.8 178.4 129 174.5 123.6 174.5z"/>
<path class=g d="M117.3 171.6 122.7 171.7 129 167.1 123.5 167.2z"/>
<path class=b d="M105.7 181.6 111 182 117.4 178.2 112 177.9z"/>
<path class=y d="M105.7 180.8 111 182 117.4 178.4 112 177.5z"/>
<path class=g d="M105.6 176.1 110.9 176.5 117.3 171.6 111.9 171.5z"/>
<path class=b d="M94 184.8 99.3 185.4 105.7 181.6 100.4 181.1z"/>
<path class=y d="M94 183.1 99.3 184.4 105.7 180.8 100.4 179.6z"/>
<path class=g d="M93.9 180.5 99.2 181.3 105.6 176.1 100.3 175.6z"/>
<path class=b d="M82.4 187.9 87.5 188.6 94 184.8 88.9 184.2z"/>
<path class=y d="M82.3 185.3 87.5 186.8 94 183.1 88.8 181.7z"/>
<path class=g d="M82.3 184.6 87.5 185.6 93.9 180.5 88.8 179.8z"/>
<path class=b d="M70.8 191.4 75.8 192.1 82.4 187.9 77.3 187.2z"/>
<path class=y d="M70.7 187.7 75.8 189.4 82.3 185.3 77.3 183.7z"/>
<path class=g d="M70.7 188.2 75.8 189.4 82.3 184.6 77.3 183.5z"/>
<path class=y d="M266.1 127.3 273.1 124.3 278.3 120.6 271.2 123.7z"/>
<path class=b d="M266.6 108 273.6 105.2 278.9 99.9 271.8 103z"/>
<path class=g d="M267.1 86.1 274.2 83.1 279.5 79 272.4 82.1z"/>
<path class=y d="M253.9 134.3 260.8 131 266.1 127.3 259.2 130.8z"/>
<path class=b d="M254.3 116.2 261.3 113.1 266.6 108 259.6 111.3z"/>
<path class=g d="M254.8 94 261.8 91.1 267.1 86.1 260.2 89.2z"/>
<path class=y d="M241.8 140.7 248.6 137.9 253.9 134.3 247.2 137.3z"/>
<path class=b d="M242.1 124.8 248.9 121.1 254.3 116.2 247.5 120.2z"/>
<path class=g d="M242.6 102.3 249.4 99.4 254.8 94 248 97.1z"/>
<path class=y d="M229.8 145.9 236.4 144.2 241.8 140.7 235.2 142.5z"/>
<path class=b d="M230 133.2 236.7 129.5 242.1 124.8 235.5 128.8z"/>
<path class=g d="M230.4 111.1 237 108.3 242.6 102.3 235.9 105.4z"/>
<path class=y d="M217.8 150.6 224.3 149.3 229.8 145.9 223.3 147.3z"/>
<path class=b d="M217.9 140.1 224.5 137.6 230 133.2 223.5 135.9z"/>
<path class=g d="M218.2 120.1 224.7 117.8 230.4 111.1 223.8 113.8z"/>
<path class=y d="M205.9 154.9 212.2 154 217.8 150.6 211.5 151.7z"/>
<path class=b d="M205.9 146.3 212.3 144.4 217.9 140.1 211.6 142.3z"/>
<path class=g d="M206.1 128 212.5 126.1 218.2 120.1 211.8 122.3z"/>
<path class=y d="M193.9 158.9 200.2 158.2 205.9 154.9 199.6 155.7z"/>
<path class=b d="M194 152 200.2 150.4 205.9 146.3 199.7 148.1z"/>
<path class=g d="M194.1 135.3 200.3 133.7 206.1 128 199.8 129.8z"/>
<path class=y d="M182 162.5 188.1 162.1 193.9 158.9 187.8 159.4z"/>
<path class=b d="M182 157.1 188.2 155.9 194 152 187.8 153.4z"/>
<path class=g d="M182.1 142.6 188.2 141.3 194.1 135.3 187.9 136.8z"/>
<path class=y d="M170.1 166 176.1 165.9 182 162.5 176 162.7z"/>
<path class=b d="M170.1 161.8 176.1 160.8 182 157.1 176 158.2z"/>
<path class=g d="M170.1 149.9 176.2 148.9 182.1 142.6 176 143.9z"/>
<path class=y d="M158.3 169.6 164.2 169.8 170.1 166 164.2 166z"/>
<path class=b d="M158.3 166 164.2 165.4 170.1 161.8 164.2 162.6z"/>
<path class=g d="M158.2 156.2 164.1 155.3 170.1 149.9 164.2 151z"/>
<path class=y d="M146.4 173.2 152.2 173.6 158.3 169.6 152.5 169.4z"/>
<path class=b d="M146.4 170.2 152.2 169.8 158.3 166 152.5 166.6z"/>
<path class=g d="M146.4 161.6 152.2 161 158.2 156.2 152.4 157z"/>
<path class=y d="M134.6 176.5 140.3 177.1 146.4 173.2 140.8 172.8z"/>
<path class=b d="M134.6 174.4 140.3 174.3 146.4 170.2 140.7 170.5z"/>
<path class=g d="M134.5 166.8 140.2 166.4 146.4 161.6 140.7 162.3z"/>
<path class=y d="M122.8 179.4 128.4 180.3 134.6 176.5 129.1 175.8z"/>
<path class=b d="M122.8 178.4 128.4 178.5 134.6 174.4 129 174.5z"/>
<path class=g d="M122.7 171.7 128.3 171.7 134.5 166.8 129 167.1z"/>
<path class=y d="M111 182 116.5 183.1 122.8 179.4 117.4 178.4z"/>
<path class=b d="M111 182 116.5 182.4 122.8 178.4 117.4 178.2z"/>
<path class=g d="M110.9 176.5 116.4 176.8 122.7 171.7 117.3 171.6z"/>
<path class=b d="M99.3 185.4 104.6 186 111 182 105.7 181.6z"/>
<path class=y d="M99.3 184.4 104.6 185.8 111 182 105.7 180.8z"/>
<path class=g d="M99.2 181.3 104.5 181.9 110.9 176.5 105.6 176.1z"/>
<path class=b d="M87.5 188.6 92.8 189.3 99.3 185.4 94 184.8z"/>
<path class=y d="M87.5 186.8 92.8 188.4 99.3 184.4 94 183.1z"/>
<path class=g d="M87.5 185.6 92.7 186.5 99.2 181.3 93.9 180.5z"/>
<path class=b d="M75.8 192.1 81 192.9 87.5 188.6 82.4 187.9z"/>
<path class=y d="M75.8 189.4 80.9 191.1 87.5 186.8 82.3 185.3z"/>
<path class=g d="M75.8 189.4 80.9 190.6 87.5 185.6 82.3 184.6z"/>
<path class=b d="M64.2 196.1 69.2 196.9 75.8 192.1 70.8 191.4z"/>
<path class=g d="M64.1 193.2 69.1 194.6 75.8 189.4 70.7 188.2z"/>
<path class=y d="M64 192.3 69.1 194 75.8 189.4 70.7 187.7z"/>
<path class=y d="M273.1 124.3 280.2 121.7 285.4 117.8 278.3 120.6z"/>
<path class=b d="M273.6 105.2 280.8 102.7 286 97.3 278.9 99.9z"/>
<path class=g d="M274.2 83.1 281.5 80.2 286.7 76.1 279.5 79z"/>
<path class=y d="M260.8 131 267.8 128.2 273.1 124.3 266.1 127.3z"/>
<path class=b d="M261.3 113.1 268.3 110.5 273.6 105.2 266.6 108z"/>
<path class=g d="M261.8 91.1 268.9 88.2 274.2 83.1 267.1 86.1z"/>
<path class=y d="M248.6 137.9 255.5 134.8 260.8 131 253.9 134.3z"/>
<path class=b d="M248.9 121.1 255.9 118.2 261.3 113.1 254.3 116.2z"/>
<path class=g d="M249.4 99.4 256.3 96.6 261.8 91.1 254.8 94z"/>
<path class=y d="M236.4 144.2 243.2 141.6 248.6 137.9 241.8 140.7z"/>
<path class=b d="M236.7 129.5 243.5 126.1 248.9 121.1 242.1 124.8z"/>
<path class=g d="M237 108.3 243.9 105.6 249.4 99.4 242.6 102.3z"/>
<path class=y d="M224.3 149.3 230.9 147.7 236.4 144.2 229.8 145.9z"/>
<path class=b d="M224.5 137.6 231.1 134.3 236.7 129.5 230 133.2z"/>
<path class=g d="M224.7 117.8 231.4 115.3 237 108.3 230.4 111.1z"/>
<path class=y d="M212.2 154 218.7 152.8 224.3 149.3 217.8 150.6z"/>
<path class=b d="M212.3 144.4 218.8 142.2 224.5 137.6 217.9 140.1z"/>
<path class=g d="M212.5 126.1 219.1 124.1 224.7 117.8 218.2 120.1z"/>
<path class=y d="M200.2 158.2 206.5 157.4 212.2 154 205.9 154.9z"/>
<path class=b d="M200.2 150.4 206.6 148.7 212.3 144.4 205.9 146.3z"/>
<path class=g d="M200.3 133.7 206.8 132.1 212.5 126.1 206.1 128z"/>
<path class=y d="M188.1 162.1 194.4 161.6 200.2 158.2 193.9 158.9z"/>
<path class=b d="M188.2 155.9 194.4 154.6 200.2 150.4 194 152z"/>
<path class=g d="M188.2 141.3 194.5 140 200.3 133.7 194.1 135.3z"/>
<path class=y d="M176.1 165.9 182.3 165.7 188.1 162.1 182 162.5z"/>
<path class=b d="M176.1 160.8 182.3 159.8 188.2 155.9 182 157.1z"/>
<path class=g d="M176.2 148.9 182.3 147.9 188.2 141.3 182.1 142.6z"/>
<path class=y d="M164.2 169.8 170.2 169.9 176.1 165.9 170.1 166z"/>
<path class=b d="M164.2 165.4 170.2 164.7 176.1 160.8 170.1 161.8z"/>
<path class=g d="M164.1 155.3 170.2 154.5 176.2 148.9 170.1 149.9z"/>
<path class=y d="M152.2 173.6 158.1 174 164.2 169.8 158.3 169.6z"/>
<path class=b d="M152.2 169.8 158.1 169.4 164.2 165.4 158.3 166z"/>
<path class=g d="M152.2 161 158.1 160.3 164.1 155.3 158.2 156.2z"/>
<path class=y d="M140.3 177.1 146.1 177.8 152.2 173.6 146.4 173.2z"/>
<path class=b d="M140.3 174.3 146 174.2 152.2 169.8 146.4 170.2z"/>
<path class=g d="M140.2 166.4 146 166 152.2 161 146.4 161.6z"/>
<path class=y d="M128.4 180.3 134.1 181.2 140.3 177.1 134.6 176.5z"/>
<path class=b d="M128.4 178.5 134 178.7 140.3 174.3 134.6 174.4z"/>
<path class=g d="M128.3 171.7 134 171.5 140.2 166.4 134.5 166.8z"/>
<path class=y d="M116.5 183.1 122.1 184.3 128.4 180.3 122.8 179.4z"/>
<path class=b d="M116.5 182.4 122 182.8 128.4 178.5 122.8 178.4z"/>
<path class=g d="M116.4 176.8 122 177 128.3 171.7 122.7 171.7z"/>
<path class=y d="M104.6 185.8 110.1 187.2 116.5 183.1 111 182z"/>
<path class=b d="M104.6 186 110.1 186.6 116.5 182.4 111 182z"/>
<path class=g d="M104.5 181.9 110 182.6 116.4 176.8 110.9 176.5z"/>
<path class=b d="M92.8 189.3 98.1 190 104.6 186 99.3 185.4z"/>
<path class=y d="M92.8 188.4 98.1 189.9 104.6 185.8 99.3 184.4z"/>
<path class=g d="M92.7 186.5 98.1 187.4 104.5 181.9 99.2 181.3z"/>
<path class=b d="M81 192.9 86.2 193.7 92.8 189.3 87.5 188.6z"/>
<path class=y d="M80.9 191.1 86.2 192.7 92.8 188.4 87.5 186.8z"/>
<path class=g d="M80.9 190.6 86.1 191.7 92.7 186.5 87.5 185.6z"/>
<path class=b d="M69.2 196.9 74.3 197.7 81 192.9 75.8 192.1z"/>
<path class=g d="M69.1 194.6 74.2 195.8 80.9 190.6 75.8 189.4z"/>
<path class=y d="M69.1 194 74.2 195.8 80.9 191.1 75.8 189.4z"/>
<path class=b d="M57.4 201 62.4 202 69.2 196.9 64.2 196.1z"/>
<path class=g d="M57.3 198.4 62.4 200 69.1 194.6 64.1 193.2z"/>
<path class=y d="M57.3 197.3 62.3 199.2 69.1 194 64 192.3z"/>
<path class=y d="M280.2 121.7 287.5 119.3 292.7 115.3 285.4 117.8z"/>
<path class=b d="M280.8 102.7 288.1 100.8 293.3 95.2 286 97.3z"/>
<path class=g d="M281.5 80.2 288.8 77.4 294 73.4 286.7 76.1z"/>
<path class=y d="M267.8 128.2 275 125.7 280.2 121.7 273.1 124.3z"/>
<path class=b d="M268.3 110.5 275.5 108.2 280.8 102.7 273.6 105.2z"/>
<path class=g d="M268.9 88.2 276.1 85.3 281.5 80.2 274.2 83.1z"/>
<path class=y d="M255.5 134.8 262.5 132.2 267.8 128.2 260.8 131z"/>
<path class=b d="M255.9 118.2 262.9 115.8 268.3 110.5 261.3 113.1z"/>
<path class=g d="M256.3 96.6 263.4 93.9 268.9 88.2 261.8 91.1z"/>
<path class=y d="M243.2 141.6 250.1 138.7 255.5 134.8 248.6 137.9z"/>
<path class=b d="M243.5 126.1 250.4 123.4 255.9 118.2 248.9 121.1z"/>
<path class=g d="M243.9 105.6 250.8 103.1 256.3 96.6 249.4 99.4z"/>
<path class=y d="M230.9 147.7 237.6 145.3 243.2 141.6 236.4 144.2z"/>
<path class=b d="M231.1 134.3 237.9 131.1 243.5 126.1 236.7 129.5z"/>
<path class=g d="M231.4 115.3 238.2 113 243.9 105.6 237 108.3z"/>
<path class=y d="M218.7 152.8 225.3 151.4 230.9 147.7 224.3 149.3z"/>
<path class=b d="M218.8 142.2 225.5 139.1 231.1 134.3 224.5 137.6z"/>
<path class=g d="M219.1 124.1 225.7 121.9 231.4 115.3 224.7 117.8z"/>
<path class=y d="M206.5 157.4 213 156.4 218.7 152.8 212.2 154z"/>
<path class=b d="M206.6 148.7 213.1 146.7 218.8 142.2 212.3 144.4z"/>
<path class=g d="M206.8 132.1 213.3 130.3 219.1 124.1 212.5 126.1z"/>
<path class=y d="M194.4 161.6 200.7 160.9 206.5 157.4 200.2 158.2z"/>
<path class=b d="M194.4 154.6 200.8 153.1 206.6 148.7 200.2 150.4z"/>
<path class=g d="M194.5 140 200.9 138.6 206.8 132.1 200.3 133.7z"/>
<path class=y d="M182.3 165.7 188.5 165.3 194.4 161.6 188.1 162.1z"/>
<path class=b d="M182.3 159.8 188.5 158.7 194.4 154.6 188.2 155.9z"/>
<path class=g d="M182.3 147.9 188.6 146.9 194.5 140 188.2 141.3z"/>
<path class=y d="M170.2 169.9 176.3 169.8 182.3 165.7 176.1 165.9z"/>
<path class=b d="M170.2 164.7 176.3 163.8 182.3 159.8 176.1 160.8z"/>
<path class=g d="M170.2 154.5 176.3 153.7 182.3 147.9 176.2 148.9z"/>
<path class=y d="M158.1 174 164.1 174.4 170.2 169.9 164.2 169.8z"/>
<path class=b d="M158.1 169.4 164.1 168.9 170.2 164.7 164.2 165.4z"/>
<path class=g d="M158.1 160.3 164.1 159.6 170.2 154.5 164.1 155.3z"/>
<path class=y d="M146.1 177.8 151.9 178.4 158.1 174 152.2 173.6z"/>
<path class=b d="M146 174.2 151.9 174 158.1 169.4 152.2 169.8z"/>
<path class=g d="M146 166 151.9 165.5 158.1 160.3 152.2 161z"/>
<path class=y d="M134.1 181.2 139.8 182.1 146.1 177.8 140.3 177.1z"/>
<path class=b d="M134 178.7 139.8 178.8 146 174.2 140.3 174.3z"/>
<path class=g d="M134 171.5 139.7 171.3 146 166 140.2 166.4z"/>
<path class=y d="M122.1 184.3 127.7 185.4 134.1 181.2 128.4 180.3z"/>
<path class=b d="M122 182.8 127.7 183.2 134 178.7 128.4 178.5z"/>
<path class=g d="M122 177 127.6 177.1 134 171.5 128.3 171.7z"/>
<path class=y d="M110.1 187.2 115.6 188.5 122.1 184.3 116.5 183.1z"/>
<path class=b d="M110.1 186.6 115.6 187.2 122 182.8 116.5 182.4z"/>
<path class=g d="M110 182.6 115.5 183.1 122 177 116.4 176.8z"/>
<path class=y d="M98.1 189.9 103.5 191.4 110.1 187.2 104.6 185.8z"/>
<path class=b d="M98.1 190 103.5 190.8 110.1 186.6 104.6 186z"/>
<path class=g d="M98.1 187.4 103.5 188.3 110 182.6 104.5 181.9z"/>
<path class=b d="M86.2 193.7 91.5 194.5 98.1 190 92.8 189.3z"/>
<path class=y d="M86.2 192.7 91.5 194.4 98.1 189.9 92.8 188.4z"/>
<path class=g d="M86.1 191.7 91.4 192.7 98.1 187.4 92.7 186.5z"/>
<path class=b d="M74.3 197.7 79.5 198.6 86.2 193.7 81 192.9z"/>
<path class=y d="M74.2 195.8 79.5 197.6 86.2 192.7 80.9 191.1z"/>
<path class=g d="M74.2 195.8 79.4 197 86.1 191.7 80.9 190.6z"/>
<path class=b d="M62.4 202 67.5 203 74.3 197.7 69.2 196.9z"/>
<path class=g d="M62.4 200 67.5 201.5 74.2 195.8 69.1 194.6z"/>
<path class=y d="M62.3 199.2 67.5 201.1 74.2 195.8 69.1 194z"/>
<path class=b d="M50.6 206.3 55.6 207.6 62.4 202 57.4 201z"/>
<path class=g d="M50.5 203.9 55.5 205.8 62.4 200 57.3 198.4z"/>
<path class=y d="M50.5 203 55.5 205 62.3 199.2 57.3 197.3z"/>
<path class=y d="M275 125.7 282.3 123.5 287.5 119.3 280.2 121.7z"/>
<path class=b d="M275.5 108.2 282.8 106.4 288.1 100.8 280.8 102.7z"/>
<path class=g d="M276.1 85.3 283.5 82.5 288.8 77.4 281.5 80.2z"/>
<path class=y d="M262.5 132.2 269.7 129.9 275 125.7 267.8 128.2z"/>
<path class=b d="M262.9 115.8 270.1 113.7 275.5 108.2 268.3 110.5z"/>
<path class=g d="M263.4 93.9 270.7 91.2 276.1 85.3 268.9 88.2z"/>
<path class=y d="M250.1 138.7 257.1 136.3 262.5 132.2 255.5 134.8z"/>
<path class=b d="M250.4 123.4 257.4 121.2 262.9 115.8 255.9 118.2z"/>
<path class=g d="M250.8 103.1 257.9 100.6 263.4 93.9 256.3 96.6z"/>
<path class=y d="M237.6 145.3 244.5 142.7 250.1 138.7 243.2 141.6z"/>
<path class=b d="M237.9 131.1 244.8 128.7 250.4 123.4 243.5 126.1z"/>
<path class=g d="M238.2 113 245.2 110.8 250.8 103.1 243.9 105.6z"/>
<path class=y d="M225.3 151.4 232 149.2 237.6 145.3 230.9 147.7z"/>
<path class=b d="M225.5 139.1 232.3 136.2 237.9 131.1 231.1 134.3z"/>
<path class=g d="M225.7 121.9 232.5 119.9 238.2 113 231.4 115.3z"/>
<path class=y d="M213 156.4 219.6 155.1 225.3 151.4 218.7 152.8z"/>
<path class=b d="M213.1 146.7 219.7 144 225.5 139.1 218.8 142.2z"/>
<path class=g d="M213.3 130.3 219.9 128.4 225.7 121.9 219.1 124.1z"/>
<path class=y d="M200.7 160.9 207.2 160 213 156.4 206.5 157.4z"/>
<path class=b d="M200.8 153.1 207.3 151.4 213.1 146.7 206.6 148.7z"/>
<path class=g d="M200.9 138.6 207.4 137.1 213.3 130.3 206.8 132.1z"/>
<path class=y d="M188.5 165.3 194.8 164.7 200.7 160.9 194.4 161.6z"/>
<path class=b d="M188.5 158.7 194.9 157.4 200.8 153.1 194.4 154.6z"/>
<path class=g d="M188.6 146.9 194.9 145.9 200.9 138.6 194.5 140z"/>
<path class=y d="M176.3 169.8 182.5 169.6 188.5 165.3 182.3 165.7z"/>
<path class=b d="M176.3 163.8 182.5 162.9 188.5 158.7 182.3 159.8z"/>
<path class=g d="M176.3 153.7 182.5 153 188.6 146.9 182.3 147.9z"/>
<path class=y d="M164.1 174.4 170.2 174.6 176.3 169.8 170.2 169.9z"/>
<path class=b d="M164.1 168.9 170.2 168.3 176.3 163.8 170.2 164.7z"/>
<path class=g d="M164.1 159.6 170.2 159.1 176.3 153.7 170.2 154.5z"/>
<path class=y d="M151.9 178.4 157.9 179 164.1 174.4 158.1 174z"/>
<path class=b d="M151.9 174 157.9 173.7 164.1 168.9 158.1 169.4z"/>
<path class=g d="M151.9 165.5 157.9 165.1 164.1 159.6 158.1 160.3z"/>
<path class=y d="M139.8 182.1 145.7 182.9 151.9 178.4 146.1 177.8z"/>
<path class=b d="M139.8 178.8 145.7 178.9 151.9 174 146 174.2z"/>
<path class=g d="M139.7 171.3 145.6 171 151.9 165.5 146 166z"/>
<path class=y d="M127.7 185.4 133.5 186.5 139.8 182.1 134.1 181.2z"/>
<path class=b d="M127.7 183.2 133.4 183.5 139.8 178.8 134 178.7z"/>
<path class=g d="M127.6 177.1 133.4 177.1 139.7 171.3 134 171.5z"/>
<path class=y d="M115.6 188.5 121.3 189.8 127.7 185.4 122.1 184.3z"/>
<path class=b d="M115.6 187.2 121.2 187.8 127.7 183.2 122 182.8z"/>
<path class=g d="M115.5 183.1 121.2 183.4 127.6 177.1 122 177z"/>
<path class=y d="M103.5 191.4 109.1 192.9 115.6 188.5 110.1 187.2z"/>
<path class=b d="M103.5 190.8 109.1 191.5 115.6 187.2 110.1 186.6z"/>
<path class=g d="M103.5 188.3 109 189.1 115.5 183.1 110 182.6z"/>
<path class=y d="M91.5 194.4 96.9 196 103.5 191.4 98.1 189.9z"/>
<path class=b d="M91.5 194.5 96.9 195.3 103.5 190.8 98.1 190z"/>
<path class=g d="M91.4 192.7 96.9 193.7 103.5 188.3 98.1 187.4z"/>
<path class=b d="M79.5 198.6 84.8 199.5 91.5 194.5 86.2 193.7z"/>
<path class=y d="M79.5 197.6 84.8 199.4 91.5 194.4 86.2 192.7z"/>
<path class=g d="M79.4 197 84.7 198.2 91.4 192.7 86.1 191.7z"/>
<path class=b d="M67.5 203 72.7 204.1 79.5 198.6 74.3 197.7z"/>
<path class=y d="M67.5 201.1 72.7 203 79.5 197.6 74.2 195.8z"/>
<path class=g d="M67.5 201.5 72.7 202.9 79.4 197 74.2 195.8z"/>
<path class=b d="M55.6 207.6 60.6 208.8 67.5 203 62.4 202z"/>
<path class=g d="M55.5 205.8 60.6 207.6 67.5 201.5 62.4 200z"/>
<path class=y d="M55.5 205 60.6 207 67.5 201.1 62.3 199.2z"/>
<path class=y d="M269.7 129.9 276.9 127.8 282.3 123.5 275 125.7z"/>
<path class=b d="M270.1 113.7 277.4 112.1 282.8 106.4 275.5 108.2z"/>
<path class=g d="M270.7 91.2 278.1 88.5 283.5 82.5 276.1 85.3z"/>
<path class=y d="M257.1 136.3 264.2 134.1 269.7 129.9 262.5 132.2z"/>
<path class=b d="M257.4 121.2 264.6 119.3 270.1 113.7 262.9 115.8z"/>
<path class=g d="M257.9 100.6 265.1 98.1 270.7 91.2 263.4 93.9z"/>
<path class=y d="M244.5 142.7 251.6 140.5 257.1 136.3 250.1 138.7z"/>
<path class=b d="M244.8 128.7 251.8 126.7 257.4 121.2 250.4 123.4z"/>
<path class=g d="M245.2 110.8 252.2 108.6 257.9 100.6 250.8 103.1z"/>
<path class=y d="M232 149.2 238.9 146.8 244.5 142.7 237.6 145.3z"/>
<path class=b d="M232.3 136.2 239.2 134 244.8 128.7 237.9 131.1z"/>
<path class=g d="M232.5 119.9 239.4 118 245.2 110.8 238.2 113z"/>
<path class=y d="M219.6 155.1 226.3 153.1 232 149.2 225.3 151.4z"/>
<path class=b d="M219.7 144 226.5 141.4 232.3 136.2 225.5 139.1z"/>
<path class=g d="M219.9 128.4 226.7 126.7 232.5 119.9 225.7 121.9z"/>
<path class=y d="M207.2 160 213.8 158.9 219.6 155.1 213 156.4z"/>
<path class=b d="M207.3 151.4 213.9 149 219.7 144 213.1 146.7z"/>
<path class=g d="M207.4 137.1 214.1 135.6 219.9 128.4 213.3 130.3z"/>
<path class=y d="M194.8 164.7 201.3 164 207.2 160 200.7 160.9z"/>
<path class=b d="M194.9 157.4 201.4 156 207.3 151.4 200.8 153.1z"/>
<path class=g d="M194.9 145.9 201.5 144.8 207.4 137.1 200.9 138.6z"/>
<path class=y d="M182.5 169.6 188.8 169.3 194.8 164.7 188.5 165.3z"/>
<path class=b d="M182.5 162.9 188.9 161.9 194.9 157.4 188.5 158.7z"/>
<path class=g d="M182.5 153 188.9 152.2 194.9 145.9 188.6 146.9z"/>
<path class=y d="M170.2 174.6 176.4 174.6 182.5 169.6 176.3 169.8z"/>
<path class=b d="M170.2 168.3 176.4 167.7 182.5 162.9 176.3 163.8z"/>
<path class=g d="M170.2 159.1 176.4 158.6 182.5 153 176.3 153.7z"/>
<path class=y d="M157.9 179 164 179.5 170.2 174.6 164.1 174.4z"/>
<path class=b d="M157.9 173.7 164 173.5 170.2 168.3 164.1 168.9z"/>
<path class=g d="M157.9 165.1 164 164.8 170.2 159.1 164.1 159.6z"/>
<path class=y d="M145.7 182.9 151.7 183.8 157.9 179 151.9 178.4z"/>
<path class=b d="M145.7 178.9 151.6 178.9 157.9 173.7 151.9 174z"/>
<path class=g d="M145.6 171 151.6 170.8 157.9 165.1 151.9 165.5z"/>
<path class=y d="M133.5 186.5 139.3 187.6 145.7 182.9 139.8 182.1z"/>
<path class=b d="M133.4 183.5 139.3 183.9 145.7 178.9 139.8 178.8z"/>
<path class=g d="M133.4 177.1 139.2 177 145.6 171 139.7 171.3z"/>
<path class=y d="M121.3 189.8 127 191.2 133.5 186.5 127.7 185.4z"/>
<path class=b d="M121.2 187.8 127 188.4 133.4 183.5 127.7 183.2z"/>
<path class=g d="M121.2 183.4 126.9 183.7 133.4 177.1 127.6 177.1z"/>
<path class=y d="M109.1 192.9 114.7 194.4 121.3 189.8 115.6 188.5z"/>
<path class=b d="M109.1 191.5 114.7 192.3 121.2 187.8 115.6 187.2z"/>
<path class=g d="M109 189.1 114.6 189.7 121.2 183.4 115.5 183.1z"/>
<path class=y d="M96.9 196 102.4 197.7 109.1 192.9 103.5 191.4z"/>
<path class=b d="M96.9 195.3 102.4 196.1 109.1 191.5 103.5 190.8z"/>
<path class=g d="M96.9 193.7 102.4 194.6 109 189.1 103.5 188.3z"/>
<path class=y d="M84.8 199.4 90.2 201.2 96.9 196 91.5 194.4z"/>
<path class=b d="M84.8 199.5 90.2 200.4 96.9 195.3 91.5 194.5z"/>
<path class=g d="M84.7 198.2 90.1 199.3 96.9 193.7 91.4 192.7z"/>
<path class=b d="M72.7 204.1 78 205.2 84.8 199.5 79.5 198.6z"/>
<path class=y d="M72.7 203 78 204.9 84.8 199.4 79.5 197.6z"/>
<path class=g d="M72.7 202.9 77.9 204.3 84.7 198.2 79.4 197z"/>
<path class=b d="M60.6 208.8 65.8 210.2 72.7 204.1 67.5 203z"/>
<path class=g d="M60.6 207.6 65.8 209.4 72.7 202.9 67.5 201.5z"/>
<path class=y d="M60.6 207 65.8 209 72.7 203 67.5 201.1z"/>
<path class=y d="M264.2 134.1 271.5 132.2 276.9 127.8 269.7 129.9z"/>
<path class=b d="M264.6 119.3 271.9 117.8 277.4 112.1 270.1 113.7z"/>
<path class=g d="M265.1 98.1 272.5 95.5 278.1 88.5 270.7 91.2z"/>
<path class=y d="M251.6 140.5 258.7 138.5 264.2 134.1 257.1 136.3z"/>
<path class=b d="M251.8 126.7 259 124.9 264.6 119.3 257.4 121.2z"/>
<path class=g d="M252.2 108.6 259.5 106.4 265.1 98.1 257.9 100.6z"/>
<path class=y d="M238.9 146.8 245.9 144.8 251.6 140.5 244.5 142.7z"/>
<path class=b d="M239.2 134 246.2 132.2 251.8 126.7 244.8 128.7z"/>
<path class=g d="M239.4 118 246.5 116.1 252.2 108.6 245.2 110.8z"/>
<path class=y d="M226.3 153.1 233.2 150.9 238.9 146.8 232 149.2z"/>
<path class=b d="M226.5 141.4 233.4 139.4 239.2 134 232.3 136.2z"/>
<path class=g d="M226.7 126.7 233.6 125 239.4 118 232.5 119.9z"/>
<path class=y d="M213.8 158.9 220.5 157.1 226.3 153.1 219.6 155.1z"/>
<path class=b d="M213.9 149 220.7 146.6 226.5 141.4 219.7 144z"/>
<path class=g d="M214.1 135.6 220.8 134.1 226.7 126.7 219.9 128.4z"/>
<path class=y d="M201.3 164 207.9 163.1 213.8 158.9 207.2 160z"/>
<path class=b d="M201.4 156 208 153.8 213.9 149 207.3 151.4z"/>
<path class=g d="M201.5 144.8 208.1 143.6 214.1 135.6 207.4 137.1z"/>
<path class=y d="M188.8 169.3 195.3 168.8 201.3 164 194.8 164.7z"/>
<path class=b d="M188.9 161.9 195.4 160.7 201.4 156 194.9 157.4z"/>
<path class=g d="M188.9 152.2 195.4 151.4 201.5 144.8 194.9 145.9z"/>
<path class=y d="M176.4 174.6 182.7 174.6 188.8 169.3 182.5 169.6z"/>
<path class=b d="M176.4 167.7 182.8 166.9 188.9 161.9 182.5 162.9z"/>
<path class=g d="M176.4 158.6 182.8 158 188.9 152.2 182.5 153z"/>
<path class=y d="M164 179.5 170.2 179.8 176.4 174.6 170.2 174.6z"/>
<path class=b d="M164 173.5 170.2 173.1 176.4 167.7 170.2 168.3z"/>
<path class=g d="M164 164.8 170.2 164.5 176.4 158.6 170.2 159.1z"/>
<path class=y d="M151.7 183.8 157.7 184.5 164 179.5 157.9 179z"/>
<path class=b d="M151.6 178.9 157.7 178.9 164 173.5 157.9 173.7z"/>
<path class=g d="M151.6 170.8 157.7 170.8 164 164.8 157.9 165.1z"/>
<path class=y d="M139.3 187.6 145.3 188.7 151.7 183.8 145.7 182.9z"/>
<path class=b d="M139.3 183.9 145.3 184.2 151.6 178.9 145.7 178.9z"/>
<path class=g d="M139.2 177 145.2 177.1 151.6 170.8 145.6 171z"/>
<path class=y d="M127 191.2 132.9 192.5 139.3 187.6 133.5 186.5z"/>
<path class=b d="M127 188.4 132.8 189 139.3 183.9 133.4 183.5z"/>
<path class=g d="M126.9 183.7 132.8 183.9 139.2 177 133.4 177.1z"/>
<path class=y d="M114.7 194.4 120.4 196 127 191.2 121.3 189.8z"/>
<path class=b d="M114.7 192.3 120.4 193.1 127 188.4 121.2 187.8z"/>
<path class=g d="M114.6 189.7 120.4 190.1 126.9 183.7 121.2 183.4z"/>
<path class=y d="M102.4 197.7 108.1 199.4 114.7 194.4 109.1 192.9z"/>
<path class=b d="M102.4 196.1 108 197 114.7 192.3 109.1 191.5z"/>
<path class=g d="M102.4 194.6 108 195.3 114.6 189.7 109 189.1z"/>
<path class=y d="M90.2 201.2 95.7 202.9 102.4 197.7 96.9 196z"/>
<path class=b d="M90.2 200.4 95.7 201.4 102.4 196.1 96.9 195.3z"/>
<path class=g d="M90.1 199.3 95.6 200.4 102.4 194.6 96.9 193.7z"/>
<path class=y d="M78 204.9 83.4 206.8 90.2 201.2 84.8 199.4z"/>
<path class=b d="M78 205.2 83.3 206.4 90.2 200.4 84.8 199.5z"/>
<path class=g d="M77.9 204.3 83.3 205.7 90.1 199.3 84.7 198.2z"/>
<path class=b d="M65.8 210.2 71.1 211.6 78 205.2 72.7 204.1z"/>
<path class=y d="M65.8 209 71.1 211 78 204.9 72.7 203z"/>
<path class=g d="M65.8 209.4 71.1 211.1 77.9 204.3 72.7 202.9z"/>
<path class=y d="M258.7 138.5 266 136.7 271.5 132.2 264.2 134.1z"/>
<path class=b d="M259 124.9 266.3 123.6 271.9 117.8 264.6 119.3z"/>
<path class=g d="M259.5 106.4 266.8 103.9 272.5 95.5 265.1 98.1z"/>
<path class=y d="M245.9 144.8 253.1 143 258.7 138.5 251.6 140.5z"/>
<path class=b d="M246.2 132.2 253.4 130.6 259 124.9 251.8 126.7z"/>
<path class=g d="M246.5 116.1 253.7 114.1 259.5 106.4 252.2 108.6z"/>
<path class=y d="M233.2 150.9 240.2 149.1 245.9 144.8 238.9 146.8z"/>
<path class=b d="M233.4 139.4 240.4 137.8 246.2 132.2 239.2 134z"/>
<path class=g d="M233.6 125 240.7 123.4 246.5 116.1 239.4 118z"/>
<path class=y d="M220.5 157.1 227.4 155.1 233.2 150.9 226.3 153.1z"/>
<path class=b d="M220.7 146.6 227.6 144.9 233.4 139.4 226.5 141.4z"/>
<path class=g d="M220.8 134.1 227.8 132.8 233.6 125 226.7 126.7z"/>
<path class=y d="M207.9 163.1 214.6 161.6 220.5 157.1 213.8 158.9z"/>
<path class=b d="M208 153.8 214.7 151.7 220.7 146.6 213.9 149z"/>
<path class=g d="M208.1 143.6 214.9 142.5 220.8 134.1 214.1 135.6z"/>
<path class=y d="M195.3 168.8 201.9 168.1 207.9 163.1 201.3 164z"/>
<path class=b d="M195.4 160.7 202 158.8 208 153.8 201.4 156z"/>
<path class=g d="M195.4 151.4 202 150.4 208.1 143.6 201.5 144.8z"/>
<path class=y d="M182.7 174.6 189.2 174.4 195.3 168.8 188.8 169.3z"/>
<path class=b d="M182.8 166.9 189.2 166 195.4 160.7 188.9 161.9z"/>
<path class=g d="M182.8 158 189.3 157.4 195.4 151.4 188.9 152.2z"/>
<path class=y d="M170.2 179.8 176.6 180 182.7 174.6 176.4 174.6z"/>
<path class=b d="M170.2 173.1 176.6 172.7 182.8 166.9 176.4 167.7z"/>
<path class=g d="M170.2 164.5 176.6 164.2 182.8 158 176.4 158.6z"/>
<path class=y d="M157.7 184.5 163.9 185.1 170.2 179.8 164 179.5z"/>
<path class=b d="M157.7 178.9 163.9 178.9 170.2 173.1 164 173.5z"/>
<path class=g d="M157.7 170.8 163.9 170.7 170.2 164.5 164 164.8z"/>
<path class=y d="M145.3 188.7 151.4 189.7 157.7 184.5 151.7 183.8z"/>
<path class=b d="M145.3 184.2 151.3 184.5 157.7 178.9 151.6 178.9z"/>
<path class=g d="M145.2 177.1 151.3 177.3 157.7 170.8 151.6 170.8z"/>
<path class=y d="M132.9 192.5 138.8 193.8 145.3 188.7 139.3 187.6z"/>
<path class=b d="M132.8 189 138.8 189.6 145.3 184.2 139.3 183.9z"/>
<path class=g d="M132.8 183.9 138.7 184.3 145.2 177.1 139.2 177z"/>
<path class=y d="M120.4 196 126.3 197.5 132.9 192.5 127 191.2z"/>
<path class=b d="M120.4 193.1 126.2 193.9 132.8 189 127 188.4z"/>
<path class=g d="M120.4 190.1 126.2 190.6 132.8 183.9 126.9 183.7z"/>
<path class=y d="M108.1 199.4 113.8 201.1 120.4 196 114.7 194.4z"/>
<path class=b d="M108 197 113.7 197.9 120.4 193.1 114.7 192.3z"/>
<path class=g d="M108 195.3 113.7 195.9 120.4 190.1 114.6 189.7z"/>
<path class=y d="M95.7 202.9 101.3 204.8 108.1 199.4 102.4 197.7z"/>
<path class=b d="M95.7 201.4 101.3 202.5 108 197 102.4 196.1z"/>
<path class=g d="M95.6 200.4 101.2 201.2 108 195.3 102.4 194.6z"/>
<path class=y d="M83.4 206.8 88.8 208.7 95.7 202.9 90.2 201.2z"/>
<path class=b d="M83.3 206.4 88.8 207.6 95.7 201.4 90.2 200.4z"/>
<path class=g d="M83.3 205.7 88.8 207 95.6 200.4 90.1 199.3z"/>
<path class=b d="M71.1 211.6 76.4 213.1 83.3 206.4 78 205.2z"/>
<path class=y d="M71.1 211 76.4 213.1 83.4 206.8 78 204.9z"/>
<path class=g d="M71.1 211.1 76.4 212.8 83.3 205.7 77.9 204.3z"/>
<path class=y d="M253.1 143 260.4 141.4 266 136.7 258.7 138.5z"/>
<path class=b d="M253.4 130.6 260.7 129.4 266.3 123.6 259 124.9z"/>
<path class=g d="M253.7 114.1 261.1 111.8 266.8 103.9 259.5 106.4z"/>
<path class=y d="M240.2 149.1 247.4 147.5 253.1 143 245.9 144.8z"/>
<path class=b d="M240.4 137.8 247.6 136.4 253.4 130.6 246.2 132.2z"/>
<path class=g d="M240.7 123.4 247.9 121.6 253.7 114.1 246.5 116.1z"/>
<path class=y d="M227.4 155.1 234.4 153.5 240.2 149.1 233.2 150.9z"/>
<path class=b d="M227.6 144.9 234.6 143.4 240.4 137.8 233.4 139.4z"/>
<path class=g d="M227.8 132.8 234.8 131.5 240.7 123.4 233.6 125z"/>
<path class=y d="M214.6 161.6 221.5 159.8 227.4 155.1 220.5 157.1z"/>
<path class=b d="M214.7 151.7 221.6 150.2 227.6 144.9 220.7 146.6z"/>
<path class=g d="M214.9 142.5 221.8 141.6 227.8 132.8 220.8 134.1z"/>
<path class=y d="M201.9 168.1 208.6 166.9 214.6 161.6 207.9 163.1z"/>
<path class=b d="M202 158.8 208.7 157 214.7 151.7 208 153.8z"/>
<path class=g d="M202 150.4 208.8 149.7 214.9 142.5 208.1 143.6z"/>
<path class=y d="M189.2 174.4 195.8 174 201.9 168.1 195.3 168.8z"/>
<path class=b d="M189.2 166 195.9 164.4 202 158.8 195.4 160.7z"/>
<path class=g d="M189.3 157.4 195.9 156.7 202 150.4 195.4 151.4z"/>
<path class=y d="M176.6 180 183 180.1 189.2 174.4 182.7 174.6z"/>
<path class=b d="M176.6 172.7 183 172.1 189.2 166 182.8 166.9z"/>
<path class=g d="M176.6 164.2 183.1 163.9 189.3 157.4 182.8 158z"/>
<path class=y d="M163.9 185.1 170.3 185.5 176.6 180 170.2 179.8z"/>
<path class=b d="M163.9 178.9 170.3 178.8 176.6 172.7 170.2 173.1z"/>
<path class=g d="M163.9 170.7 170.3 170.7 176.6 164.2 170.2 164.5z"/>
<path class=y d="M151.4 189.7 157.6 190.5 163.9 185.1 157.7 184.5z"/>
<path class=b d="M151.3 184.5 157.5 184.8 163.9 178.9 157.7 178.9z"/>
<path class=g d="M151.3 177.3 157.5 177.5 163.9 170.7 157.7 170.8z"/>
<path class=y d="M138.8 193.8 144.9 195 151.4 189.7 145.3 188.7z"/>
<path class=b d="M138.8 189.6 144.8 190.2 151.3 184.5 145.3 184.2z"/>
<path class=g d="M138.7 184.3 144.8 184.8 151.3 177.3 145.2 177.1z"/>
<path class=y d="M126.3 197.5 132.2 199 138.8 193.8 132.9 192.5z"/>
<path class=b d="M126.2 193.9 132.2 194.7 138.8 189.6 132.8 189z"/>
<path class=g d="M126.2 190.6 132.1 191.2 138.7 184.3 132.8 183.9z"/>
<path class=y d="M113.8 201.1 119.6 202.7 126.3 197.5 120.4 196z"/>
<path class=b d="M113.7 197.9 119.6 198.9 126.2 193.9 120.4 193.1z"/>
<path class=g d="M113.7 195.9 119.5 196.5 126.2 190.6 120.4 190.1z"/>
<path class=y d="M101.3 204.8 107 206.6 113.8 201.1 108.1 199.4z"/>
<path class=b d="M101.3 202.5 107 203.5 113.7 197.9 108 197z"/>
<path class=g d="M101.2 201.2 106.9 201.9 113.7 195.9 108 195.3z"/>
<path class=y d="M88.8 208.7 94.4 210.7 101.3 204.8 95.7 202.9z"/>
<path class=b d="M88.8 207.6 94.4 208.9 101.3 202.5 95.7 201.4z"/>
<path class=g d="M88.8 207 94.4 208 101.2 201.2 95.6 200.4z"/>
<path class=y d="M76.4 213.1 81.9 215.1 88.8 208.7 83.4 206.8z"/>
<path class=b d="M76.4 213.1 81.9 214.6 88.8 207.6 83.3 206.4z"/>
<path class=g d="M76.4 212.8 81.9 214.4 88.8 207 83.3 205.7z"/>
<path class=y d="M247.4 147.5 254.7 146.1 260.4 141.4 253.1 143z"/>
<path class=b d="M247.6 136.4 254.9 135.3 260.7 129.4 253.4 130.6z"/>
<path class=g d="M247.9 121.6 255.3 119.5 261.1 111.8 253.7 114.1z"/>
<path class=y d="M234.4 153.5 241.6 152.1 247.4 147.5 240.2 149.1z"/>
<path class=b d="M234.6 143.4 241.8 142.2 247.6 136.4 240.4 137.8z"/>
<path class=g d="M234.8 131.5 242 130 247.9 121.6 240.7 123.4z"/>
<path class=y d="M221.5 159.8 228.5 158.4 234.4 153.5 227.4 155.1z"/>
<path class=b d="M221.6 150.2 228.7 148.9 234.6 143.4 227.6 144.9z"/>
<path class=g d="M221.8 141.6 228.8 140.6 234.8 131.5 227.8 132.8z"/>
<path class=y d="M208.6 166.9 215.5 165.5 221.5 159.8 214.6 161.6z"/>
<path class=b d="M208.7 157 215.6 155.7 221.6 150.2 214.7 151.7z"/>
<path class=g d="M208.8 149.7 215.7 149 221.8 141.6 214.9 142.5z"/>
<path class=y d="M195.8 174 202.5 173.1 208.6 166.9 201.9 168.1z"/>
<path class=b d="M195.9 164.4 202.6 162.9 208.7 157 202 158.8z"/>
<path class=g d="M195.9 156.7 202.6 156.2 208.8 149.7 202 150.4z"/>
<path class=y d="M183 180.1 189.6 180 195.8 174 189.2 174.4z"/>
<path class=b d="M183 172.1 189.6 170.9 195.9 164.4 189.2 166z"/>
<path class=g d="M183.1 163.9 189.7 163.5 195.9 156.7 189.3 157.4z"/>
<path class=y d="M170.3 185.5 176.7 185.9 183 180.1 176.6 180z"/>
<path class=b d="M170.3 178.8 176.7 178.6 183 172.1 176.6 172.7z"/>
<path class=g d="M170.3 170.7 176.7 170.6 183.1 163.9 176.6 164.2z"/>
<path class=y d="M157.6 190.5 163.9 191.3 170.3 185.5 163.9 185.1z"/>
<path class=b d="M157.5 184.8 163.9 185.1 170.3 178.8 163.9 178.9z"/>
<path class=g d="M157.5 177.5 163.8 177.8 170.3 170.7 163.9 170.7z"/>
<path class=y d="M144.9 195 151.1 196.1 157.6 190.5 151.4 189.7z"/>
<path class=b d="M144.8 190.2 151 190.9 157.5 184.8 151.3 184.5z"/>
<path class=g d="M144.8 184.8 151 185.3 157.5 177.5 151.3 177.3z"/>
<path class=y d="M132.2 199 138.3 200.4 144.9 195 138.8 193.8z"/>
<path class=b d="M132.2 194.7 138.2 195.5 144.8 190.2 138.8 189.6z"/>
<path class=g d="M132.1 191.2 138.2 191.9 144.8 184.8 138.7 184.3z"/>
<path class=y d="M119.6 202.7 125.5 204.4 132.2 199 126.3 197.5z"/>
<path class=b d="M119.6 198.9 125.5 199.8 132.2 194.7 126.2 193.9z"/>
<path class=g d="M119.5 196.5 125.4 197.2 132.1 191.2 126.2 190.6z"/>
<path class=y d="M107 206.6 112.8 208.4 119.6 202.7 113.8 201.1z"/>
<path class=b d="M107 203.5 112.8 204.6 119.6 198.9 113.7 197.9z"/>
<path class=g d="M106.9 201.9 112.7 202.5 119.5 196.5 113.7 195.9z"/>
<path class=y d="M94.4 210.7 100.1 212.7 107 206.6 101.3 204.8z"/>
<path class=b d="M94.4 208.9 100.1 210.2 107 203.5 101.3 202.5z"/>
<path class=g d="M94.4 208 100.1 208.9 106.9 201.9 101.2 201.2z"/>
<path class=y d="M81.9 215.1 87.5 217.2 94.4 210.7 88.8 208.7z"/>
<path class=b d="M81.9 214.6 87.5 216.3 94.4 208.9 88.8 207.6z"/>
<path class=g d="M81.9 214.4 87.4 215.8 94.4 208 88.8 207z"/>
<path class=y d="M241.6 152.1 248.9 150.8 254.7 146.1 247.4 147.5z"/>
<path class=b d="M241.8 142.2 249.1 141.3 254.9 135.3 247.6 136.4z"/>
<path class=g d="M242 130 249.4 128 255.3 119.5 247.9 121.6z"/>
<path class=y d="M228.5 158.4 235.7 157.2 241.6 152.1 234.4 153.5z"/>
<path class=b d="M228.7 148.9 235.8 147.9 241.8 142.2 234.6 143.4z"/>
<path class=g d="M228.8 140.6 236 139.4 242 130 234.8 131.5z"/>
<path class=y d="M215.5 165.5 222.5 164.4 228.5 158.4 221.5 159.8z"/>
<path class=b d="M215.6 155.7 222.6 154.6 228.7 148.9 221.6 150.2z"/>
<path class=g d="M215.7 149 222.7 148.3 228.8 140.6 221.8 141.6z"/>
<path class=y d="M202.5 173.1 209.4 172.1 215.5 165.5 208.6 166.9z"/>
<path class=b d="M202.6 162.9 209.5 161.9 215.6 155.7 208.7 157z"/>
<path class=g d="M202.6 156.2 209.5 155.7 215.7 149 208.8 149.7z"/>
<path class=y d="M189.6 180 196.3 179.5 202.5 173.1 195.8 174z"/>
<path class=b d="M189.6 170.9 196.4 169.8 202.6 162.9 195.9 164.4z"/>
<path class=g d="M189.7 163.5 196.4 163.2 202.6 156.2 195.9 156.7z"/>
<path class=y d="M176.7 185.9 183.3 186.2 189.6 180 183 180.1z"/>
<path class=b d="M176.7 178.6 183.3 177.8 189.6 170.9 183 172.1z"/>
<path class=g d="M176.7 170.6 183.3 170.5 189.7 163.5 183.1 163.9z"/>
<path class=y d="M163.9 191.3 170.3 191.9 176.7 185.9 170.3 185.5z"/>
<path class=b d="M163.9 185.1 170.3 185.2 176.7 178.6 170.3 178.8z"/>
<path class=g d="M163.8 177.8 170.3 177.9 176.7 170.6 170.3 170.7z"/>
<path class=y d="M151.1 196.1 157.4 197.1 163.9 191.3 157.6 190.5z"/>
<path class=b d="M151 190.9 157.3 191.5 163.9 185.1 157.5 184.8z"/>
<path class=g d="M151 185.3 157.3 185.9 163.8 177.8 157.5 177.5z"/>
<path class=y d="M138.3 200.4 144.5 201.7 151.1 196.1 144.9 195z"/>
<path class=b d="M138.2 195.5 144.4 196.4 151 190.9 144.8 190.2z"/>
<path class=g d="M138.2 191.9 144.4 192.7 151 185.3 144.8 184.8z"/>
<path class=y d="M125.5 204.4 131.6 206 138.3 200.4 132.2 199z"/>
<path class=b d="M125.5 199.8 131.5 200.8 138.2 195.5 132.2 194.7z"/>
<path class=g d="M125.4 197.2 131.5 198 138.2 191.9 132.1 191.2z"/>
<path class=y d="M112.8 208.4 118.7 210.3 125.5 204.4 119.6 202.7z"/>
<path class=b d="M112.8 204.6 118.7 205.8 125.5 199.8 119.6 198.9z"/>
<path class=g d="M112.7 202.5 118.6 203.4 125.4 197.2 119.5 196.5z"/>
<path class=y d="M100.1 212.7 105.9 214.6 112.8 208.4 107 206.6z"/>
<path class=b d="M100.1 210.2 105.9 211.6 112.8 204.6 107 203.5z"/>
<path class=g d="M100.1 208.9 105.8 209.8 112.7 202.5 106.9 201.9z"/>
<path class=y d="M87.5 217.2 93.2 219.3 100.1 212.7 94.4 210.7z"/>
<path class=b d="M87.5 216.3 93.1 218 100.1 210.2 94.4 208.9z"/>
<path class=g d="M87.4 215.8 93.1 217 100.1 208.9 94.4 208z"/>
<path class=y d="M235.7 157.2 243 156.2 248.9 150.8 241.6 152.1z"/>
<path class=b d="M235.8 147.9 243.1 147 249.1 141.3 241.8 142.2z"/>
<path class=g d="M236 139.4 243.3 137.7 249.4 128 242 130z"/>
<path class=y d="M222.5 164.4 229.6 163.4 235.7 157.2 228.5 158.4z"/>
<path class=b d="M222.6 154.6 229.8 153.7 235.8 147.9 228.7 148.9z"/>
<path class=g d="M222.7 148.3 229.9 147.3 236 139.4 228.8 140.6z"/>
<path class=y d="M209.4 172.1 216.4 171.3 222.5 164.4 215.5 165.5z"/>
<path class=b d="M209.5 161.9 216.5 161 222.6 154.6 215.6 155.7z"/>
<path class=g d="M209.5 155.7 216.5 155.2 222.7 148.3 215.7 149z"/>
<path class=y d="M196.3 179.5 203.1 178.9 209.4 172.1 202.5 173.1z"/>
<path class=b d="M196.4 169.8 203.2 169.1 209.5 161.9 202.6 162.9z"/>
<path class=g d="M196.4 163.2 203.3 163 209.5 155.7 202.6 156.2z"/>
<path class=y d="M183.3 186.2 190 186 196.3 179.5 189.6 180z"/>
<path class=b d="M183.3 177.8 190 177.1 196.4 169.8 189.6 170.9z"/>
<path class=g d="M183.3 170.5 190 170.5 196.4 163.2 189.7 163.5z"/>
<path class=y d="M170.3 191.9 176.9 192.5 183.3 186.2 176.7 185.9z"/>
<path class=b d="M170.3 185.2 176.9 184.9 183.3 177.8 176.7 178.6z"/>
<path class=g d="M170.3 177.9 176.9 178.1 183.3 170.5 176.7 170.6z"/>
<path class=y d="M157.4 197.1 163.8 198 170.3 191.9 163.9 191.3z"/>
<path class=b d="M157.3 191.5 163.8 191.9 170.3 185.2 163.9 185.1z"/>
<path class=g d="M157.3 185.9 163.8 186.4 170.3 177.9 163.8 177.8z"/>
<path class=y d="M144.5 201.7 150.8 203 157.4 197.1 151.1 196.1z"/>
<path class=b d="M144.4 196.4 150.7 197.3 157.3 191.5 151 190.9z"/>
<path class=g d="M144.4 192.7 150.7 193.5 157.3 185.9 151 185.3z"/>
<path class=y d="M131.6 206 137.8 207.5 144.5 201.7 138.3 200.4z"/>
<path class=b d="M131.5 200.8 137.7 201.9 144.4 196.4 138.2 195.5z"/>
<path class=g d="M131.5 198 137.7 198.9 144.4 192.7 138.2 191.9z"/>
<path class=y d="M118.7 210.3 124.8 212 131.6 206 125.5 204.4z"/>
<path class=b d="M118.7 205.8 124.7 207 131.5 200.8 125.5 199.8z"/>
<path class=g d="M118.6 203.4 124.7 204.3 131.5 198 125.4 197.2z"/>
<path class=y d="M105.9 214.6 111.8 216.7 118.7 210.3 112.8 208.4z"/>
<path class=b d="M105.9 211.6 111.8 213.1 118.7 205.8 112.8 204.6z"/>
<path class=g d="M105.8 209.8 111.7 210.8 118.6 203.4 112.7 202.5z"/>
<path class=y d="M93.2 219.3 98.9 221.5 105.9 214.6 100.1 212.7z"/>
<path class=b d="M93.1 218 98.9 219.7 105.9 211.6 100.1 210.2z"/>
<path class=g d="M93.1 217 98.9 218.2 105.8 209.8 100.1 208.9z"/>
<path class=y d="M229.6 163.4 236.9 162.6 243 156.2 235.7 157.2z"/>
<path class=b d="M229.8 153.7 237.1 153 243.1 147 235.8 147.9z"/>
<path class=g d="M229.9 147.3 237.2 145.7 243.3 137.7 236 139.4z"/>
<path class=y d="M216.4 171.3 223.5 170.8 229.6 163.4 222.5 164.4z"/>
<path class=b d="M216.5 161 223.6 160.4 229.8 153.7 222.6 154.6z"/>
<path class=g d="M216.5 155.2 223.7 154.4 229.9 147.3 222.7 148.3z"/>
<path class=y d="M203.1 178.9 210.1 178.5 216.4 171.3 209.4 172.1z"/>
<path class=b d="M203.2 169.1 210.2 168.5 216.5 161 209.5 161.9z"/>
<path class=g d="M203.3 163 210.3 162.8 216.5 155.2 209.5 155.7z"/>
<path class=y d="M190 186 196.8 185.8 203.1 178.9 196.3 179.5z"/>
<path class=b d="M190 177.1 196.9 176.7 203.2 169.1 196.4 169.8z"/>
<path class=g d="M190 170.5 196.9 170.6 203.3 163 196.4 163.2z"/>
<path class=y d="M176.9 192.5 183.5 192.7 190 186 183.3 186.2z"/>
<path class=b d="M176.9 184.9 183.6 184.6 190 177.1 183.3 177.8z"/>
<path class=g d="M176.9 178.1 183.6 178.4 190 170.5 183.3 170.5z"/>
<path class=y d="M163.8 198 170.3 198.9 176.9 192.5 170.3 191.9z"/>
<path class=b d="M163.8 191.9 170.3 192 176.9 184.9 170.3 185.2z"/>
<path class=g d="M163.8 186.4 170.3 186.9 176.9 178.1 170.3 177.9z"/>
<path class=y d="M150.8 203 157.2 204.1 163.8 198 157.4 197.1z"/>
<path class=b d="M150.7 197.3 157.1 198 163.8 191.9 157.3 191.5z"/>
<path class=g d="M150.7 193.5 157.1 194.3 163.8 186.4 157.3 185.9z"/>
<path class=y d="M137.8 207.5 144 208.9 150.8 203 144.5 201.7z"/>
<path class=b d="M137.7 201.9 144 202.9 150.7 197.3 144.4 196.4z"/>
<path class=g d="M137.7 198.9 144 199.9 150.7 193.5 144.4 192.7z"/>
<path class=y d="M124.8 212 130.9 213.7 137.8 207.5 131.6 206z"/>
<path class=b d="M124.7 207 130.9 208.3 137.7 201.9 131.5 200.8z"/>
<path class=g d="M124.7 204.3 130.8 205.4 137.7 198.9 131.5 198z"/>
<path class=y d="M111.8 216.7 117.9 218.6 124.8 212 118.7 210.3z"/>
<path class=b d="M111.8 213.1 117.8 214.7 124.7 207 118.7 205.8z"/>
<path class=g d="M111.7 210.8 117.8 212 124.7 204.3 118.6 203.4z"/>
<path class=y d="M98.9 221.5 104.8 223.6 111.8 216.7 105.9 214.6z"/>
<path class=b d="M98.9 219.7 104.8 221.6 111.8 213.1 105.9 211.6z"/>
<path class=g d="M98.9 218.2 104.8 219.6 111.7 210.8 105.8 209.8z"/>
<path class=y d="M223.5 170.8 230.8 170.3 236.9 162.6 229.6 163.4z"/>
<path class=b d="M223.6 160.4 230.9 159.8 237.1 153 229.8 153.7z"/>
<path class=g d="M223.7 154.4 231 153 237.2 145.7 229.9 147.3z"/>
<path class=y d="M210.1 178.5 217.2 178.3 223.5 170.8 216.4 171.3z"/>
<path class=b d="M210.2 168.5 217.4 168.1 223.6 160.4 216.5 161z"/>
<path class=g d="M210.3 162.8 217.4 162.2 223.7 154.4 216.5 155.2z"/>
<path class=y d="M196.8 185.8 203.8 185.8 210.1 178.5 203.1 178.9z"/>
<path class=b d="M196.9 176.7 203.9 176.5 210.2 168.5 203.2 169.1z"/>
<path class=g d="M196.9 170.6 203.9 170.6 210.3 162.8 203.3 163z"/>
<path class=y d="M183.5 192.7 190.4 192.9 196.8 185.8 190 186z"/>
<path class=b d="M183.6 184.6 190.4 184.5 196.9 176.7 190 177.1z"/>
<path class=g d="M183.6 178.4 190.4 178.8 196.9 170.6 190 170.5z"/>
<path class=y d="M170.3 198.9 177 199.5 183.5 192.7 176.9 192.5z"/>
<path class=b d="M170.3 192 177 192.1 183.6 184.6 176.9 184.9z"/>
<path class=g d="M170.3 186.9 177 187.6 183.6 178.4 176.9 178.1z"/>
<path class=y d="M157.2 204.1 163.7 205.3 170.3 198.9 163.8 198z"/>
<path class=b d="M157.1 198 163.7 198.5 170.3 192 163.8 191.9z"/>
<path class=g d="M157.1 194.3 163.7 195.1 170.3 186.9 163.8 186.4z"/>
<path class=y d="M144 208.9 150.4 210.3 157.2 204.1 150.8 203z"/>
<path class=b d="M144 202.9 150.4 203.9 157.1 198 150.7 197.3z"/>
<path class=g d="M144 199.9 150.4 200.8 157.1 194.3 150.7 193.5z"/>
<path class=y d="M130.9 213.7 137.2 215.3 144 208.9 137.8 207.5z"/>
<path class=b d="M130.9 208.3 137.1 209.6 144 202.9 137.7 201.9z"/>
<path class=g d="M130.8 205.4 137.1 206.4 144 199.9 137.7 198.9z"/>
<path class=y d="M117.9 218.6 124 220.4 130.9 213.7 124.8 212z"/>
<path class=b d="M117.8 214.7 123.9 216.3 130.9 208.3 124.7 207z"/>
<path class=g d="M117.8 212 123.9 213.3 130.8 205.4 124.7 204.3z"/>
<path class=y d="M104.8 223.6 110.8 225.7 117.9 218.6 111.8 216.7z"/>
<path class=b d="M104.8 221.6 110.8 223.6 117.8 214.7 111.8 213.1z"/>
<path class=g d="M104.8 219.6 110.8 221.1 117.8 212 111.7 210.8z"/>
<path class=y d="M217.2 178.3 224.5 178.2 230.8 170.3 223.5 170.8z"/>
<path class=b d="M217.4 168.1 224.7 167.8 230.9 159.8 223.6 160.4z"/>
<path class=g d="M217.4 162.2 224.8 160.8 231 153 223.7 154.4z"/>
<path class=y d="M203.8 185.8 210.9 185.9 217.2 178.3 210.1 178.5z"/>
<path class=b d="M203.9 176.5 211 176.4 217.4 168.1 210.2 168.5z"/>
<path class=g d="M203.9 170.6 211.1 170.3 217.4 162.2 210.3 162.8z"/>
<path class=y d="M190.4 192.9 197.3 193.2 203.8 185.8 196.8 185.8z"/>
<path class=b d="M190.4 184.5 197.4 184.6 203.9 176.5 196.9 176.7z"/>
<path class=g d="M190.4 178.8 197.4 179.1 203.9 170.6 196.9 170.6z"/>
<path class=y d="M177 199.5 183.8 200 190.4 192.9 183.5 192.7z"/>
<path class=b d="M177 192.1 183.9 192.4 190.4 184.5 183.6 184.6z"/>
<path class=g d="M177 187.6 183.9 188.3 190.4 178.8 183.6 178.4z"/>
<path class=y d="M163.7 205.3 170.4 206.2 177 199.5 170.3 198.9z"/>
<path class=b d="M163.7 198.5 170.4 198.8 177 192.1 170.3 192z"/>
<path class=g d="M163.7 195.1 170.4 196 177 187.6 170.3 186.9z"/>
<path class=y d="M150.4 210.3 157 211.7 163.7 205.3 157.2 204.1z"/>
<path class=b d="M150.4 203.9 156.9 204.6 163.7 198.5 157.1 198z"/>
<path class=g d="M150.4 200.8 156.9 201.8 163.7 195.1 157.1 194.3z"/>
<path class=y d="M137.2 215.3 143.6 216.8 150.4 210.3 144 208.9z"/>
<path class=b d="M137.1 209.6 143.5 210.8 150.4 203.9 144 202.9z"/>
<path class=g d="M137.1 206.4 143.5 207.5 150.4 200.8 144 199.9z"/>
<path class=y d="M124 220.4 130.3 222.2 137.2 215.3 130.9 213.7z"/>
<path class=b d="M123.9 216.3 130.2 218 137.1 209.6 130.9 208.3z"/>
<path class=g d="M123.9 213.3 130.2 214.6 137.1 206.4 130.8 205.4z"/>
<path class=y d="M110.8 225.7 117 227.7 124 220.4 117.9 218.6z"/>
<path class=b d="M110.8 223.6 116.9 225.7 123.9 216.3 117.8 214.7z"/>
<path class=g d="M110.8 221.1 116.9 222.7 123.9 213.3 117.8 212z"/>
<path class=y d="M210.9 185.9 218.2 186.1 224.5 178.2 217.2 178.3z"/>
<path class=b d="M211 176.4 218.3 176.3 224.7 167.8 217.4 168.1z"/>
<path class=g d="M211.1 170.3 218.4 169 224.8 160.8 217.4 162.2z"/>
<path class=y d="M197.3 193.2 204.4 193.7 210.9 185.9 203.8 185.8z"/>
<path class=b d="M197.4 184.6 204.5 184.8 211 176.4 203.9 176.5z"/>
<path class=g d="M197.4 179.1 204.6 178.9 211.1 170.3 203.9 170.6z"/>
<path class=y d="M183.8 200 190.8 200.7 197.3 193.2 190.4 192.9z"/>
<path class=b d="M183.9 192.4 190.8 192.8 197.4 184.6 190.4 184.5z"/>
<path class=g d="M183.9 188.3 190.8 188.9 197.4 179.1 190.4 178.8z"/>
<path class=y d="M170.4 206.2 177.2 207.1 183.8 200 177 199.5z"/>
<path class=b d="M170.4 198.8 177.2 199.4 183.9 192.4 177 192.1z"/>
<path class=g d="M170.4 196 177.2 197 183.9 188.3 177 187.6z"/>
<path class=y d="M157 211.7 163.6 212.9 170.4 206.2 163.7 205.3z"/>
<path class=b d="M156.9 204.6 163.6 205.2 170.4 198.8 163.7 198.5z"/>
<path class=g d="M156.9 201.8 163.6 202.9 170.4 196 163.7 195.1z"/>
<path class=y d="M143.6 216.8 150.1 218.4 157 211.7 150.4 210.3z"/>
<path class=b d="M143.5 210.8 150.1 211.9 156.9 204.6 150.4 203.9z"/>
<path class=g d="M143.5 207.5 150 208.6 156.9 201.8 150.4 200.8z"/>
<path class=y d="M130.3 222.2 136.6 224 143.6 216.8 137.2 215.3z"/>
<path class=b d="M130.2 218 136.6 219.6 143.5 210.8 137.1 209.6z"/>
<path class=g d="M130.2 214.6 136.5 215.9 143.5 207.5 137.1 206.4z"/>
<path class=y d="M117 227.7 123.2 229.7 130.3 222.2 124 220.4z"/>
<path class=b d="M116.9 225.7 123.2 227.8 130.2 218 123.9 216.3z"/>
<path class=g d="M116.9 222.7 123.1 224.4 130.2 214.6 123.9 213.3z"/>
<path class=y d="M204.4 193.7 211.7 194.3 218.2 186.1 210.9 185.9z"/>
<path class=b d="M204.5 184.8 211.8 185 218.3 176.3 211 176.4z"/>
<path class=g d="M204.6 178.9 211.9 177.9 218.4 169 211.1 170.3z"/>
<path class=y d="M190.8 200.7 197.9 201.5 204.4 193.7 197.3 193.2z"/>
<path class=b d="M190.8 192.8 197.9 193.2 204.5 184.8 197.4 184.6z"/>
<path class=g d="M190.8 188.9 198 189 204.6 178.9 197.4 179.1z"/>
<path class=y d="M177.2 207.1 184.1 208.1 190.8 200.7 183.8 200z"/>
<path class=b d="M177.2 199.4 184.1 200 190.8 192.8 183.9 192.4z"/>
<path class=g d="M177.2 197 184.2 197.9 190.8 188.9 183.9 188.3z"/>
<path class=y d="M163.6 212.9 170.4 214.1 177.2 207.1 170.4 206.2z"/>
<path class=b d="M163.6 205.2 170.4 206 177.2 199.4 170.4 198.8z"/>
<path class=g d="M163.6 202.9 170.4 204 177.2 197 170.4 196z"/>
<path class=y d="M150.1 218.4 156.8 219.9 163.6 212.9 157 211.7z"/>
<path class=b d="M150.1 211.9 156.7 212.8 163.6 205.2 156.9 204.6z"/>
<path class=g d="M150 208.6 156.7 209.9 163.6 202.9 156.9 201.8z"/>
<path class=y d="M136.6 224 143.1 225.8 150.1 218.4 143.6 216.8z"/>
<path class=b d="M136.6 219.6 143.1 221.1 150.1 211.9 143.5 210.8z"/>
<path class=g d="M136.5 215.9 143.1 217.3 150 208.6 143.5 207.5z"/>
<path class=y d="M123.2 229.7 129.6 231.6 136.6 224 130.3 222.2z"/>
<path class=b d="M123.2 227.8 129.5 230 136.6 219.6 130.2 218z"/>
<path class=g d="M123.1 224.4 129.5 226.1 136.5 215.9 130.2 214.6z"/>
<path class=y d="M197.9 201.5 205.1 202.4 211.7 194.3 204.4 193.7z"/>
<path class=b d="M197.9 193.2 205.2 193.7 211.8 185 204.5 184.8z"/>
<path class=g d="M198 189 205.3 188.1 211.9 177.9 204.6 178.9z"/>
<path class=y d="M184.1 208.1 191.2 209.2 197.9 201.5 190.8 200.7z"/>
<path class=b d="M184.1 200 191.3 200.6 197.9 193.2 190.8 192.8z"/>
<path class=g d="M184.2 197.9 191.3 198.3 198 189 190.8 188.9z"/>
<path class=y d="M170.4 214.1 177.3 215.4 184.1 208.1 177.2 207.1z"/>
<path class=b d="M170.4 206 177.4 206.7 184.1 200 177.2 199.4z"/>
<path class=g d="M170.4 204 177.4 205 184.2 197.9 177.2 197z"/>
<path class=y d="M156.8 219.9 163.5 221.4 170.4 214.1 163.6 212.9z"/>
<path class=b d="M156.7 212.8 163.5 213.7 170.4 206 163.6 205.2z"/>
<path class=g d="M156.7 209.9 163.5 211.2 170.4 204 163.6 202.9z"/>
<path class=y d="M143.1 225.8 149.8 227.5 156.8 219.9 150.1 218.4z"/>
<path class=b d="M143.1 221.1 149.7 222.5 156.7 212.8 150.1 211.9z"/>
<path class=g d="M143.1 217.3 149.7 218.8 156.7 209.9 150 208.6z"/>
<path class=y d="M129.6 231.6 136 233.7 143.1 225.8 136.6 224z"/>
<path class=b d="M129.5 230 136 232 143.1 221.1 136.6 219.6z"/>
<path class=g d="M129.5 226.1 136 227.9 143.1 217.3 136.5 215.9z"/>
<path class=y d="M191.2 209.2 198.4 210.3 205.1 202.4 197.9 201.5z"/>
<path class=b d="M191.3 200.6 198.5 201.2 205.2 193.7 197.9 193.2z"/>
<path class=g d="M191.3 198.3 198.5 197.5 205.3 188.1 198 189z"/>
<path class=y d="M177.3 215.4 184.4 216.7 191.2 209.2 184.1 208.1z"/>
<path class=b d="M177.4 206.7 184.5 207.5 191.3 200.6 184.1 200z"/>
<path class=g d="M177.4 205 184.5 205.5 191.3 198.3 184.2 197.9z"/>
<path class=y d="M163.5 221.4 170.5 223 177.3 215.4 170.4 214.1z"/>
<path class=b d="M163.5 213.7 170.5 214.7 177.4 206.7 170.4 206z"/>
<path class=g d="M163.5 211.2 170.4 212.3 177.4 205 170.4 204z"/>
<path class=y d="M149.8 227.5 156.5 229.3 163.5 221.4 156.8 219.9z"/>
<path class=b d="M149.7 222.5 156.5 223.8 163.5 213.7 156.7 212.8z"/>
<path class=g d="M149.7 218.8 156.5 220.4 163.5 211.2 156.7 209.9z"/>
<path class=y d="M136 233.7 142.7 235.7 149.8 227.5 143.1 225.8z"/>
<path class=b d="M136 232 142.6 233.9 149.7 222.5 143.1 221.1z"/>
<path class=g d="M136 227.9 142.6 229.9 149.7 218.8 143.1 217.3z"/>
<path class=y d="M184.4 216.7 191.6 218.1 198.4 210.3 191.2 209.2z"/>
<path class=b d="M184.5 207.5 191.7 208.1 198.5 201.2 191.3 200.6z"/>
<path class=g d="M184.5 205.5 191.7 204.7 198.5 197.5 191.3 198.3z"/>
<path class=y d="M170.5 223 177.5 224.6 184.4 216.7 177.3 215.4z"/>
<path class=b d="M170.5 214.7 177.5 215.6 184.5 207.5 177.4 206.7z"/>
<path class=g d="M170.4 212.3 177.5 212.8 184.5 205.5 177.4 205z"/>
<path class=y d="M156.5 229.3 163.4 231.1 170.5 223 163.5 221.4z"/>
<path class=b d="M156.5 223.8 163.4 225.1 170.5 214.7 163.5 213.7z"/>
<path class=g d="M156.5 220.4 163.4 221.7 170.4 212.3 163.5 211.2z"/>
<path class=y d="M142.7 235.7 149.4 237.8 156.5 229.3 149.8 227.5z"/>
<path class=b d="M142.6 233.9 149.4 235.7 156.5 223.8 149.7 222.5z"/>
<path class=g d="M142.6 229.9 149.4 231.8 156.5 220.4 149.7 218.8z"/>
<path class=y d="M177.5 224.6 184.7 226.2 191.6 218.1 184.4 216.7z"/>
<path class=b d="M177.5 215.6 184.8 216.4 191.7 208.1 184.5 207.5z"/>
<path class=g d="M177.5 212.8 184.8 212 191.7 204.7 184.5 205.5z"/>
<path class=y d="M163.4 231.1 170.5 233 177.5 224.6 170.5 223z"/>
<path class=b d="M163.4 225.1 170.5 226.3 177.5 215.6 170.5 214.7z"/>
<path class=g d="M163.4 221.7 170.5 222.4 177.5 212.8 170.4 212.3z"/>
<path class=y d="M149.4 237.8 156.3 239.9 163.4 231.1 156.5 229.3z"/>
<path class=b d="M149.4 235.7 156.3 237.4 163.4 225.1 156.5 223.8z"/>
<path class=g d="M149.4 231.8 156.3 233.6 163.4 221.7 156.5 220.4z"/>
<path class=y d="M170.5 233 177.7 234.9 184.7 226.2 177.5 224.6z"/>
<path class=b d="M170.5 226.3 177.7 227.4 184.8 216.4 177.5 215.6z"/>
<path class=g d="M170.5 222.4 177.7 221.8 184.8 212 177.5 212.8z"/>
<path class=y d="M156.3 239.9 163.4 242 170.5 233 163.4 231.1z"/>
<path class=b d="M156.3 237.4 163.3 239.1 170.5 226.3 163.4 225.1z"/>
<path class=g d="M156.3 233.6 163.3 234.6 170.5 222.4 163.4 221.7z"/>
<path class=y d="M163.4 242 170.5 244.2 177.7 234.9 170.5 233z"/>
<path class=b d="M163.3 239.1 170.5 240.6 177.7 227.4 170.5 226.3z"/>
<path class=g d="M163.3 234.6 170.5 234.2 177.7 221.8 170.5 222.4z"/>
</g>
<text x="1.3" y="16.6" font-size="20.5" font-weight="bold">a)</text>
<rect x="80" y="20" width="123" height="57" fill="#fff"/>
<rect x="84.3" y="26.4" width="31.2" height="6.4" fill="#9cf88f" stroke="#505050" stroke-width="0.9"/>
<text x="123.5" y="34.5" font-size="13.6" font-weight="bold">%<tspan dx="2.5">Pent= 20</tspan></text>
<rect x="84.3" y="42.8" width="31.2" height="6.4" fill="#0000fc" stroke="#505050" stroke-width="0.9"/>
<text x="123.5" y="50.9" font-size="13.6" font-weight="bold">%<tspan dx="2.5">Pent= 40</tspan></text>
<rect x="84.3" y="59.2" width="31.2" height="6.4" fill="#fcf9aa" stroke="#505050" stroke-width="0.9"/>
<text x="123.5" y="67.3" font-size="13.6" font-weight="bold">%<tspan dx="2.5">Pent= 60</tspan></text>
<text x="47.0" y="233.2" font-size="9.5" fill="#2a2a3a" text-anchor="end" textLength="10.1" lengthAdjust="spacingAndGlyphs">30</text>
<text x="45.8" y="198.1" font-size="9.5" fill="#2a2a3a" text-anchor="end" textLength="10.1" lengthAdjust="spacingAndGlyphs">40</text>
<text x="44.6" y="162.3" font-size="9.5" fill="#2a2a3a" text-anchor="end" textLength="10.1" lengthAdjust="spacingAndGlyphs">50</text>
<text x="43.3" y="125.8" font-size="9.5" fill="#2a2a3a" text-anchor="end" textLength="10.1" lengthAdjust="spacingAndGlyphs">60</text>
<text x="42.1" y="88.5" font-size="9.5" fill="#2a2a3a" text-anchor="end" textLength="10.1" lengthAdjust="spacingAndGlyphs">70</text>
<text x="40.8" y="50.5" font-size="9.5" fill="#2a2a3a" text-anchor="end" textLength="10.1" lengthAdjust="spacingAndGlyphs">80</text>
<text x="78.3" y="249.4" font-size="9.5" fill="#2a2a3a" text-anchor="end" textLength="11.6" lengthAdjust="spacingAndGlyphs">1,2</text>
<text x="101.1" y="259.5" font-size="9.5" fill="#2a2a3a" text-anchor="end" textLength="11.6" lengthAdjust="spacingAndGlyphs">1,0</text>
<text x="125.7" y="270.4" font-size="9.5" fill="#2a2a3a" text-anchor="end" textLength="11.6" lengthAdjust="spacingAndGlyphs">0,8</text>
<text x="152.2" y="282.1" font-size="9.5" fill="#2a2a3a" text-anchor="end" textLength="11.6" lengthAdjust="spacingAndGlyphs">0,6</text>
<text x="175.1" y="293.6" font-size="9.5" fill="#2a2a3a" textLength="13.7" lengthAdjust="spacingAndGlyphs">190</text>
<text x="198.1" y="283.2" font-size="9.5" fill="#2a2a3a" textLength="13.7" lengthAdjust="spacingAndGlyphs">185</text>
<text x="219.6" y="273.4" font-size="9.5" fill="#2a2a3a" textLength="13.7" lengthAdjust="spacingAndGlyphs">180</text>
<text x="239.8" y="264.3" font-size="9.5" fill="#2a2a3a" textLength="13.7" lengthAdjust="spacingAndGlyphs">175</text>
<text x="258.8" y="255.7" font-size="9.5" fill="#2a2a3a" textLength="13.7" lengthAdjust="spacingAndGlyphs">170</text>
<text x="276.6" y="247.7" font-size="9.5" fill="#2a2a3a" textLength="13.7" lengthAdjust="spacingAndGlyphs">165</text>
<text x="293.5" y="240.1" font-size="9.5" fill="#2a2a3a" textLength="13.7" lengthAdjust="spacingAndGlyphs">160</text>
<text transform="translate(23,213.8) rotate(-90)" font-size="18.5" font-weight="bold"><tspan font-style="italic">y</tspan><tspan font-size="12" dy="4">1</tspan><tspan dy="-4">, (%Solid yield)</tspan></text>
<text transform="translate(41.5,259.5) rotate(27.2)" font-size="14.8" font-weight="bold">Cat<tspan dx="1">Ch, g/100g</tspan></text>
<text x="250.4" y="290.6" font-size="15.5" font-weight="bold"><tspan font-style="italic">T</tspan>, °C</text>
</g>
<g id="pb">
<path d="M413.0,249.9 L571.4,232.2" stroke="#c8c8c8" stroke-width="1.0" fill="none"/>
<path d="M424.1,256.0 L585.6,237.3" stroke="#c8c8c8" stroke-width="1.0" fill="none"/>
<path d="M435.7,262.5 L600.5,242.8" stroke="#c8c8c8" stroke-width="1.0" fill="none"/>
<path d="M448.1,269.4 L616.3,248.5" stroke="#c8c8c8" stroke-width="1.0" fill="none"/>
<path d="M461.3,276.7 L632.9,254.5" stroke="#c8c8c8" stroke-width="1.0" fill="none"/>
<path d="M423.5,241.8 L499.1,281.2" stroke="#c8c8c8" stroke-width="1.0" fill="none"/>
<path d="M443.9,239.6 L522.4,278.1" stroke="#c8c8c8" stroke-width="1.0" fill="none"/>
<path d="M463.9,237.4 L545.1,275.1" stroke="#c8c8c8" stroke-width="1.0" fill="none"/>
<path d="M483.5,235.3 L567.2,272.1" stroke="#c8c8c8" stroke-width="1.0" fill="none"/>
<path d="M502.7,233.2 L588.8,269.2" stroke="#c8c8c8" stroke-width="1.0" fill="none"/>
<path d="M521.5,231.2 L609.9,266.4" stroke="#c8c8c8" stroke-width="1.0" fill="none"/>
<path d="M539.9,229.2 L630.4,263.6" stroke="#c8c8c8" stroke-width="1.0" fill="none"/>
<path d="M402.1,202.6 L558.0,189.1" stroke="#c8c8c8" stroke-width="1.0" fill="none"/>
<path d="M401.5,160.8 L558.1,150.6" stroke="#c8c8c8" stroke-width="1.0" fill="none"/>
<path d="M401.0,118.6 L558.3,111.9" stroke="#c8c8c8" stroke-width="1.0" fill="none"/>
<path d="M400.5,76.1 L558.4,72.8" stroke="#c8c8c8" stroke-width="1.0" fill="none"/>
<path d="M423.5,241.8 L421.3,33.3" stroke="#c8c8c8" stroke-width="1.0" fill="none"/>
<path d="M443.9,239.6 L442.2,33.3" stroke="#c8c8c8" stroke-width="1.0" fill="none"/>
<path d="M463.9,237.4 L462.6,33.3" stroke="#c8c8c8" stroke-width="1.0" fill="none"/>
<path d="M483.5,235.3 L482.6,33.4" stroke="#c8c8c8" stroke-width="1.0" fill="none"/>
<path d="M502.7,233.2 L502.2,33.4" stroke="#c8c8c8" stroke-width="1.0" fill="none"/>
<path d="M521.5,231.2 L521.4,33.4" stroke="#c8c8c8" stroke-width="1.0" fill="none"/>
<path d="M539.9,229.2 L540.1,33.5" stroke="#c8c8c8" stroke-width="1.0" fill="none"/>
<path d="M558.0,189.1 L651.1,216.3" stroke="#c8c8c8" stroke-width="1.0" fill="none"/>
<path d="M558.1,150.6 L651.6,171.3" stroke="#c8c8c8" stroke-width="1.0" fill="none"/>
<path d="M558.3,111.9 L652.2,125.8" stroke="#c8c8c8" stroke-width="1.0" fill="none"/>
<path d="M558.4,72.8 L652.8,80.0" stroke="#c8c8c8" stroke-width="1.0" fill="none"/>
<path d="M571.4,232.2 L572.3,33.5" stroke="#c8c8c8" stroke-width="1.0" fill="none"/>
<path d="M585.6,237.3 L586.8,33.5" stroke="#c8c8c8" stroke-width="1.0" fill="none"/>
<path d="M600.5,242.8 L602.1,33.6" stroke="#c8c8c8" stroke-width="1.0" fill="none"/>
<path d="M616.3,248.5 L618.2,33.6" stroke="#c8c8c8" stroke-width="1.0" fill="none"/>
<path d="M632.9,254.5 L635.3,33.6" stroke="#c8c8c8" stroke-width="1.0" fill="none"/>
<path d="M402.6,244.0 L400.0,33.2" stroke="#404040" stroke-width="1.0" fill="none"/>
<path d="M400.0,33.2 L558.5,33.5" stroke="#404040" stroke-width="1.0" fill="none"/>
<path d="M558.5,33.5 L653.4,33.7" stroke="#404040" stroke-width="1.0" fill="none"/>
<path d="M653.4,33.7 L650.5,260.9" stroke="#404040" stroke-width="1.0" fill="none"/>
<path d="M557.9,227.3 L558.5,33.5" stroke="#404040" stroke-width="1.0" fill="none"/>
<path d="M402.6,244.0 L557.9,227.3" stroke="#404040" stroke-width="1.0" fill="none"/>
<path d="M557.9,227.3 L650.5,260.9" stroke="#404040" stroke-width="1.0" fill="none"/>
<path d="M402.6,244.0 L475.2,284.5" stroke="#2a2a2a" stroke-width="1.0" fill="none"/>
<path d="M475.2,284.5 L650.5,260.9" stroke="#2a2a2a" stroke-width="1.0" fill="none"/>
<path d="M413.0,249.9 l-3,1" stroke="#2a2a2a" stroke-width="1"/>
<path d="M424.1,256.0 l-3,1" stroke="#2a2a2a" stroke-width="1"/>
<path d="M435.7,262.5 l-3,1" stroke="#2a2a2a" stroke-width="1"/>
<path d="M448.1,269.4 l-3,1" stroke="#2a2a2a" stroke-width="1"/>
<path d="M461.3,276.7 l-3,1" stroke="#2a2a2a" stroke-width="1"/>
<path d="M499.1,281.2 l0.5,3" stroke="#2a2a2a" stroke-width="1"/>
<path d="M522.4,278.1 l0.5,3" stroke="#2a2a2a" stroke-width="1"/>
<path d="M545.1,275.1 l0.5,3" stroke="#2a2a2a" stroke-width="1"/>
<path d="M567.2,272.1 l0.5,3" stroke="#2a2a2a" stroke-width="1"/>
<path d="M588.8,269.2 l0.5,3" stroke="#2a2a2a" stroke-width="1"/>
<path d="M609.9,266.4 l0.5,3" stroke="#2a2a2a" stroke-width="1"/>
<path d="M630.4,263.6 l0.5,3" stroke="#2a2a2a" stroke-width="1"/>
<path d="M402.6,244.0 l-4,0" stroke="#2a2a2a" stroke-width="1"/>
<path d="M402.1,202.6 l-4,0" stroke="#2a2a2a" stroke-width="1"/>
<path d="M401.5,160.8 l-4,0" stroke="#2a2a2a" stroke-width="1"/>
<path d="M401.0,118.6 l-4,0" stroke="#2a2a2a" stroke-width="1"/>
<path d="M400.5,76.1 l-4,0" stroke="#2a2a2a" stroke-width="1"/>
<path d="M400.0,33.2 l-4,0" stroke="#2a2a2a" stroke-width="1"/>
<g stroke="#30332a" stroke-width="0.8">
<path class=y d="M551 113.4 555 114.9 562.3 115.3 558.3 113.8z"/>
<path class=g d="M551.1 67.9 555.1 68.7 562.4 69.7 558.4 68.9z"/>
<path class=b d="M551.1 64.9 555.1 65.6 562.5 67.4 558.4 66.6z"/>
<path class=y d="M543.7 113.1 547.7 114.5 555 114.9 551 113.4z"/>
<path class=g d="M543.8 67.1 547.8 67.8 555.1 68.7 551.1 67.9z"/>
<path class=b d="M543.8 63.7 547.8 64.4 555.1 65.6 551.1 64.9z"/>
<path class=y d="M555 114.9 559 116.3 566.4 116.7 562.3 115.3z"/>
<path class=g d="M555.1 68.7 559.2 69.7 566.5 70.7 562.4 69.7z"/>
<path class=b d="M555.1 65.6 559.2 66.5 566.6 68.2 562.5 67.4z"/>
<path class=y d="M536.3 113 540.2 114.3 547.7 114.5 543.7 113.1z"/>
<path class=g d="M536.4 66.4 540.3 67.1 547.8 67.8 543.8 67.1z"/>
<path class=b d="M536.4 63 540.3 63.7 547.8 64.4 543.8 63.7z"/>
<path class=y d="M547.7 114.5 551.7 115.8 559 116.3 555 114.9z"/>
<path class=g d="M547.8 67.8 551.8 68.8 559.2 69.7 555.1 68.7z"/>
<path class=b d="M547.8 64.4 551.8 65.2 559.2 66.5 555.1 65.6z"/>
<path class=y d="M528.9 113.2 532.8 114.4 540.2 114.3 536.3 113z"/>
<path class=g d="M528.9 65.8 532.8 66.5 540.3 67.1 536.4 66.4z"/>
<path class=b d="M528.9 62.8 532.8 63.5 540.3 63.7 536.4 63z"/>
<path class=y d="M559 116.3 563.2 117.6 570.5 118.1 566.4 116.7z"/>
<path class=g d="M559.2 69.7 563.3 70.8 570.7 71.9 566.5 70.7z"/>
<path class=b d="M559.2 66.5 563.3 67.5 570.7 69.2 566.6 68.2z"/>
<path class=y d="M540.2 114.3 544.2 115.6 551.7 115.8 547.7 114.5z"/>
<path class=g d="M540.3 67.1 544.3 68 551.8 68.8 547.8 67.8z"/>
<path class=b d="M540.3 63.7 544.3 64.5 551.8 65.2 547.8 64.4z"/>
<path class=y d="M521.4 113.5 525.2 114.7 532.8 114.4 528.9 113.2z"/>
<path class=g d="M521.4 65.4 525.2 66.1 532.8 66.5 528.9 65.8z"/>
<path class=b d="M521.4 63.1 525.2 63.7 532.8 63.5 528.9 62.8z"/>
<path class=y d="M551.7 115.8 555.7 117.2 563.2 117.6 559 116.3z"/>
<path class=g d="M551.8 68.8 555.9 69.9 563.3 70.8 559.2 69.7z"/>
<path class=b d="M551.8 65.2 555.9 66.2 563.3 67.5 559.2 66.5z"/>
<path class=y d="M532.8 114.4 536.7 115.7 544.2 115.6 540.2 114.3z"/>
<path class=g d="M532.8 66.5 536.8 67.4 544.3 68 540.3 67.1z"/>
<path class=b d="M532.8 63.5 536.8 64.2 544.3 64.5 540.3 63.7z"/>
<path class=y d="M513.9 113.8 517.6 115 525.2 114.7 521.4 113.5z"/>
<path class=g d="M513.8 65.2 517.6 65.9 525.2 66.1 521.4 65.4z"/>
<path class=b d="M513.8 63.8 517.6 64.4 525.2 63.7 521.4 63.1z"/>
<path class=y d="M563.2 117.6 567.3 118.9 574.7 119.4 570.5 118.1z"/>
<path class=g d="M563.3 70.8 567.5 72.1 574.9 73.3 570.7 71.9z"/>
<path class=b d="M563.3 67.5 567.5 68.6 575 70.3 570.7 69.2z"/>
<path class=y d="M544.2 115.6 548.2 116.9 555.7 117.2 551.7 115.8z"/>
<path class=g d="M544.3 68 548.3 69.1 555.9 69.9 551.8 68.8z"/>
<path class=b d="M544.3 64.5 548.4 65.4 555.9 66.2 551.8 65.2z"/>
<path class=y d="M525.2 114.7 529.1 115.9 536.7 115.7 532.8 114.4z"/>
<path class=g d="M525.2 66.1 529.1 67 536.8 67.4 532.8 66.5z"/>
<path class=b d="M525.2 63.7 529.1 64.4 536.8 64.2 532.8 63.5z"/>
<path class=y d="M506.2 114.1 510 115.3 517.6 115 513.9 113.8z"/>
<path class=g d="M506.1 65.2 509.9 65.9 517.6 65.9 513.8 65.2z"/>
<path class=b d="M506.1 64.9 509.9 65.5 517.6 64.4 513.8 63.8z"/>
<path class=y d="M555.7 117.2 559.9 118.4 567.3 118.9 563.2 117.6z"/>
<path class=g d="M555.9 69.9 560 71.2 567.5 72.1 563.3 70.8z"/>
<path class=b d="M555.9 66.2 560 67.3 567.5 68.6 563.3 67.5z"/>
<path class=y d="M536.7 115.7 540.7 116.9 548.2 116.9 544.2 115.6z"/>
<path class=g d="M536.8 67.4 540.8 68.5 548.3 69.1 544.3 68z"/>
<path class=b d="M536.8 64.2 540.8 65.1 548.4 65.4 544.3 64.5z"/>
<path class=y d="M517.6 115 521.5 116.2 529.1 115.9 525.2 114.7z"/>
<path class=g d="M517.6 65.9 521.5 66.7 529.1 67 525.2 66.1z"/>
<path class=b d="M517.6 64.4 521.5 65.1 529.1 64.4 525.2 63.7z"/>
<path class=y d="M498.6 114.5 502.3 115.6 510 115.3 506.2 114.1z"/>
<path class=b d="M498.4 66.5 502.1 67 509.9 65.5 506.1 64.9z"/>
<path class=g d="M498.4 65.3 502.1 66 509.9 65.9 506.1 65.2z"/>
<path class=y d="M567.3 118.9 571.6 120.2 579 120.6 574.7 119.4z"/>
<path class=g d="M567.5 72.1 571.8 73.7 579.2 74.8 574.9 73.3z"/>
<path class=b d="M567.5 68.6 571.8 69.8 579.2 71.6 575 70.3z"/>
<path class=y d="M548.2 116.9 552.3 118.1 559.9 118.4 555.7 117.2z"/>
<path class=g d="M548.3 69.1 552.5 70.4 560 71.2 555.9 69.9z"/>
<path class=b d="M548.4 65.4 552.5 66.5 560 67.3 555.9 66.2z"/>
<path class=y d="M529.1 115.9 533.1 117.1 540.7 116.9 536.7 115.7z"/>
<path class=g d="M529.1 67 533.1 68 540.8 68.5 536.8 67.4z"/>
<path class=b d="M529.1 64.4 533.1 65.3 540.8 65.1 536.8 64.2z"/>
<path class=y d="M510 115.3 513.8 116.4 521.5 116.2 517.6 115z"/>
<path class=g d="M509.9 65.9 513.7 66.7 521.5 66.7 517.6 65.9z"/>
<path class=b d="M509.9 65.5 513.7 66.2 521.5 65.1 517.6 64.4z"/>
<path class=y d="M490.8 115.1 494.5 116.3 502.3 115.6 498.6 114.5z"/>
<path class=b d="M490.6 68.5 494.3 69 502.1 67 498.4 66.5z"/>
<path class=g d="M490.6 65.7 494.3 66.4 502.1 66 498.4 65.3z"/>
<path class=y d="M559.9 118.4 564.1 119.7 571.6 120.2 567.3 118.9z"/>
<path class=g d="M560 71.2 564.2 72.7 571.8 73.7 567.5 72.1z"/>
<path class=b d="M560 67.3 564.2 68.5 571.8 69.8 567.5 68.6z"/>
<path class=y d="M540.7 116.9 544.7 118.1 552.3 118.1 548.2 116.9z"/>
<path class=g d="M540.8 68.5 544.8 69.7 552.5 70.4 548.3 69.1z"/>
<path class=b d="M540.8 65.1 544.8 66.2 552.5 66.5 548.4 65.4z"/>
<path class=y d="M521.5 116.2 525.4 117.3 533.1 117.1 529.1 115.9z"/>
<path class=g d="M521.5 66.7 525.4 67.8 533.1 68 529.1 67z"/>
<path class=b d="M521.5 65.1 525.4 66 533.1 65.3 529.1 64.4z"/>
<path class=y d="M502.3 115.6 506 116.7 513.8 116.4 510 115.3z"/>
<path class=b d="M502.1 67 505.9 67.7 513.7 66.2 509.9 65.5z"/>
<path class=g d="M502.1 66 505.9 66.9 513.7 66.7 509.9 65.9z"/>
<path class=y d="M483 116.4 486.6 117.6 494.5 116.3 490.8 115.1z"/>
<path class=b d="M482.8 70.9 486.4 71.4 494.3 69 490.6 68.5z"/>
<path class=g d="M482.8 66.4 486.4 67.1 494.3 66.4 490.6 65.7z"/>
<path class=y d="M571.6 120.2 575.9 121.3 583.3 121.7 579 120.6z"/>
<path class=g d="M571.8 73.7 576.1 75.4 583.6 76.6 579.2 74.8z"/>
<path class=b d="M571.8 69.8 576.1 71.3 583.6 73.1 579.2 71.6z"/>
<path class=y d="M552.3 118.1 556.5 119.3 564.1 119.7 559.9 118.4z"/>
<path class=g d="M552.5 70.4 556.6 71.8 564.2 72.7 560 71.2z"/>
<path class=b d="M552.5 66.5 556.6 67.8 564.2 68.5 560 67.3z"/>
<path class=y d="M533.1 117.1 537.1 118.3 544.7 118.1 540.7 116.9z"/>
<path class=g d="M533.1 68 537.1 69.2 544.8 69.7 540.8 68.5z"/>
<path class=b d="M533.1 65.3 537.1 66.4 544.8 66.2 540.8 65.1z"/>
<path class=y d="M513.8 116.4 517.6 117.6 525.4 117.3 521.5 116.2z"/>
<path class=g d="M513.7 66.7 517.6 67.7 525.4 67.8 521.5 66.7z"/>
<path class=b d="M513.7 66.2 517.6 67 525.4 66 521.5 65.1z"/>
<path class=y d="M494.5 116.3 498.2 117.4 506 116.7 502.3 115.6z"/>
<path class=b d="M494.3 69 498 69.6 505.9 67.7 502.1 67z"/>
<path class=g d="M494.3 66.4 498 67.3 505.9 66.9 502.1 66z"/>
<path class=y d="M475.1 118.1 478.7 119.2 486.6 117.6 483 116.4z"/>
<path class=b d="M474.9 73.7 478.5 74.1 486.4 71.4 482.8 70.9z"/>
<path class=g d="M474.9 67.3 478.4 68 486.4 67.1 482.8 66.4z"/>
<path class=y d="M564.1 119.7 568.3 120.8 575.9 121.3 571.6 120.2z"/>
<path class=g d="M564.2 72.7 568.5 74.4 576.1 75.4 571.8 73.7z"/>
<path class=b d="M564.2 68.5 568.5 70 576.1 71.3 571.8 69.8z"/>
<path class=y d="M544.7 118.1 548.9 119.3 556.5 119.3 552.3 118.1z"/>
<path class=g d="M544.8 69.7 549 71.1 556.6 71.8 552.5 70.4z"/>
<path class=b d="M544.8 66.2 549 67.4 556.6 67.8 552.5 66.5z"/>
<path class=y d="M525.4 117.3 529.4 118.5 537.1 118.3 533.1 117.1z"/>
<path class=g d="M525.4 67.8 529.4 69 537.1 69.2 533.1 68z"/>
<path class=b d="M525.4 66 529.4 67 537.1 66.4 533.1 65.3z"/>
<path class=y d="M506 116.7 509.8 117.9 517.6 117.6 513.8 116.4z"/>
<path class=b d="M505.9 67.7 509.8 68.5 517.6 67 513.7 66.2z"/>
<path class=g d="M505.9 66.9 509.8 67.9 517.6 67.7 513.7 66.7z"/>
<path class=y d="M486.6 117.6 490.3 118.7 498.2 117.4 494.5 116.3z"/>
<path class=b d="M486.4 71.4 490.1 72 498 69.6 494.3 69z"/>
<path class=g d="M486.4 67.1 490.1 67.9 498 67.3 494.3 66.4z"/>
<path class=y d="M575.9 121.3 580.2 122.5 587.7 122.8 583.3 121.7z"/>
<path class=g d="M576.1 75.4 580.5 77.4 588 78.6 583.6 76.6z"/>
<path class=b d="M576.1 71.3 580.5 73 588 74.7 583.6 73.1z"/>
<path class=y d="M467.2 119.9 470.7 121.1 478.7 119.2 475.1 118.1z"/>
<path class=b d="M466.9 76.8 470.5 77.2 478.5 74.1 474.9 73.7z"/>
<path class=g d="M466.9 68.4 470.4 69.1 478.4 68 474.9 67.3z"/>
<path class=y d="M556.5 119.3 560.7 120.5 568.3 120.8 564.1 119.7z"/>
<path class=g d="M556.6 71.8 560.9 73.5 568.5 74.4 564.2 72.7z"/>
<path class=b d="M556.6 67.8 560.9 69.2 568.5 70 564.2 68.5z"/>
<path class=y d="M537.1 118.3 541.2 119.5 548.9 119.3 544.7 118.1z"/>
<path class=g d="M537.1 69.2 541.2 70.6 549 71.1 544.8 69.7z"/>
<path class=b d="M537.1 66.4 541.2 67.6 549 67.4 544.8 66.2z"/>
<path class=y d="M517.6 117.6 521.6 118.8 529.4 118.5 525.4 117.3z"/>
<path class=g d="M517.6 67.7 521.5 68.9 529.4 69 525.4 67.8z"/>
<path class=b d="M517.6 67 521.5 68.1 529.4 67 525.4 66z"/>
<path class=y d="M498.2 117.4 502 118.6 509.8 117.9 506 116.7z"/>
<path class=b d="M498 69.6 501.8 70.4 509.8 68.5 505.9 67.7z"/>
<path class=g d="M498 67.3 501.8 68.3 509.8 67.9 505.9 66.9z"/>
<path class=y d="M478.7 119.2 482.3 120.4 490.3 118.7 486.6 117.6z"/>
<path class=b d="M478.5 74.1 482.1 74.7 490.1 72 486.4 71.4z"/>
<path class=g d="M478.4 68 482.1 68.8 490.1 67.9 486.4 67.1z"/>
<path class=y d="M568.3 120.8 572.6 122 580.2 122.5 575.9 121.3z"/>
<path class=g d="M568.5 74.4 572.9 76.3 580.5 77.4 576.1 75.4z"/>
<path class=b d="M568.5 70 572.9 71.7 580.5 73 576.1 71.3z"/>
<path class=y d="M459.2 122.1 462.7 123.4 470.7 121.1 467.2 119.9z"/>
<path class=b d="M458.9 80.3 462.4 80.6 470.5 77.2 466.9 76.8z"/>
<path class=g d="M458.8 69.9 462.3 70.6 470.4 69.1 466.9 68.4z"/>
<path class=y d="M548.9 119.3 553 120.5 560.7 120.5 556.5 119.3z"/>
<path class=g d="M549 71.1 553.2 72.8 560.9 73.5 556.6 71.8z"/>
<path class=b d="M549 67.4 553.2 68.9 560.9 69.2 556.6 67.8z"/>
<path class=y d="M529.4 118.5 533.4 119.7 541.2 119.5 537.1 118.3z"/>
<path class=g d="M529.4 69 533.4 70.3 541.2 70.6 537.1 69.2z"/>
<path class=b d="M529.4 67 533.4 68.2 541.2 67.6 537.1 66.4z"/>
<path class=y d="M509.8 117.9 513.7 119.1 521.6 118.8 517.6 117.6z"/>
<path class=g d="M509.8 67.9 513.6 69 521.5 68.9 517.6 67.7z"/>
<path class=b d="M509.8 68.5 513.6 69.5 521.5 68.1 517.6 67z"/>
<path class=y d="M490.3 118.7 494 119.9 502 118.6 498.2 117.4z"/>
<path class=b d="M490.1 72 493.9 72.7 501.8 70.4 498 69.6z"/>
<path class=g d="M490.1 67.9 493.8 68.9 501.8 68.3 498 67.3z"/>
<path class=y d="M580.2 122.5 584.7 123.6 592.2 123.9 587.7 122.8z"/>
<path class=g d="M580.5 77.4 584.9 79.6 592.5 80.9 588 78.6z"/>
<path class=b d="M580.5 73 584.9 74.9 592.5 76.6 588 74.7z"/>
<path class=y d="M470.7 121.1 474.3 122.4 482.3 120.4 478.7 119.2z"/>
<path class=b d="M470.5 77.2 474 77.7 482.1 74.7 478.5 74.1z"/>
<path class=g d="M470.4 69.1 474 70 482.1 68.8 478.4 68z"/>
<path class=y d="M560.7 120.5 565 121.7 572.6 122 568.3 120.8z"/>
<path class=g d="M560.9 73.5 565.2 75.4 572.9 76.3 568.5 74.4z"/>
<path class=b d="M560.9 69.2 565.2 70.9 572.9 71.7 568.5 70z"/>
<path class=y d="M451.1 124.9 454.5 126.2 462.7 123.4 459.2 122.1z"/>
<path class=b d="M450.8 84.1 454.2 84.4 462.4 80.6 458.9 80.3z"/>
<path class=g d="M450.7 71.6 454.2 72.3 462.3 70.6 458.8 69.9z"/>
<path class=y d="M541.2 119.5 545.3 120.7 553 120.5 548.9 119.3z"/>
<path class=g d="M541.2 70.6 545.4 72.2 553.2 72.8 549 71.1z"/>
<path class=b d="M541.2 67.6 545.4 69.1 553.2 68.9 549 67.4z"/>
<path class=y d="M521.6 118.8 525.6 120 533.4 119.7 529.4 118.5z"/>
<path class=g d="M521.5 68.9 525.6 70.2 533.4 70.3 529.4 69z"/>
<path class=b d="M521.5 68.1 525.6 69.3 533.4 68.2 529.4 67z"/>
<path class=y d="M502 118.6 505.8 119.9 513.7 119.1 509.8 117.9z"/>
<path class=b d="M501.8 70.4 505.7 71.4 513.6 69.5 509.8 68.5z"/>
<path class=g d="M501.8 68.3 505.7 69.4 513.6 69 509.8 67.9z"/>
<path class=y d="M482.3 120.4 486 121.7 494 119.9 490.3 118.7z"/>
<path class=b d="M482.1 74.7 485.8 75.4 493.9 72.7 490.1 72z"/>
<path class=g d="M482.1 68.8 485.8 69.8 493.8 68.9 490.1 67.9z"/>
<path class=y d="M572.6 122 577 123.2 584.7 123.6 580.2 122.5z"/>
<path class=g d="M572.9 76.3 577.3 78.5 584.9 79.6 580.5 77.4z"/>
<path class=b d="M572.9 71.7 577.3 73.6 584.9 74.9 580.5 73z"/>
<path class=y d="M462.7 123.4 466.2 124.8 474.3 122.4 470.7 121.1z"/>
<path class=b d="M462.4 80.6 465.9 81.2 474 77.7 470.5 77.2z"/>
<path class=g d="M462.3 70.6 465.9 71.4 474 70 470.4 69.1z"/>
<path class=y d="M553 120.5 557.3 121.7 565 121.7 560.7 120.5z"/>
<path class=g d="M553.2 72.8 557.4 74.6 565.2 75.4 560.9 73.5z"/>
<path class=b d="M553.2 68.9 557.4 70.6 565.2 70.9 560.9 69.2z"/>
<path class=y d="M443 128.1 446.4 129.5 454.5 126.2 451.1 124.9z"/>
<path class=b d="M442.7 88.2 446 88.5 454.2 84.4 450.8 84.1z"/>
<path class=g d="M442.5 73.6 445.9 74.4 454.2 72.3 450.7 71.6z"/>
<path class=y d="M533.4 119.7 537.5 120.9 545.3 120.7 541.2 119.5z"/>
<path class=g d="M533.4 70.3 537.5 71.9 545.4 72.2 541.2 70.6z"/>
<path class=b d="M533.4 68.2 537.5 69.7 545.4 69.1 541.2 67.6z"/>
<path class=y d="M513.7 119.1 517.7 120.4 525.6 120 521.6 118.8z"/>
<path class=g d="M513.6 69 517.6 70.4 525.6 70.2 521.5 68.9z"/>
<path class=b d="M513.6 69.5 517.6 70.8 525.6 69.3 521.5 68.1z"/>
<path class=y d="M494 119.9 497.8 121.2 505.8 119.9 502 118.6z"/>
<path class=b d="M493.9 72.7 497.7 73.7 505.7 71.4 501.8 70.4z"/>
<path class=g d="M493.8 68.9 497.6 70 505.7 69.4 501.8 68.3z"/>
<path class=y d="M584.7 123.6 589.2 124.8 596.8 124.9 592.2 123.9z"/>
<path class=g d="M584.9 79.6 589.4 82 597.1 83.4 592.5 80.9z"/>
<path class=b d="M584.9 74.9 589.5 77 597.1 78.8 592.5 76.6z"/>
<path class=y d="M474.3 122.4 477.9 123.7 486 121.7 482.3 120.4z"/>
<path class=b d="M474 77.7 477.7 78.5 485.8 75.4 482.1 74.7z"/>
<path class=g d="M474 70 477.7 71 485.8 69.8 482.1 68.8z"/>
<path class=y d="M565 121.7 569.4 122.9 577 123.2 572.6 122z"/>
<path class=g d="M565.2 75.4 569.6 77.5 577.3 78.5 572.9 76.3z"/>
<path class=b d="M565.2 70.9 569.6 72.8 577.3 73.6 572.9 71.7z"/>
<path class=y d="M454.5 126.2 458 127.7 466.2 124.8 462.7 123.4z"/>
<path class=b d="M454.2 84.4 457.7 84.9 465.9 81.2 462.4 80.6z"/>
<path class=g d="M454.2 72.3 457.6 73.2 465.9 71.4 462.3 70.6z"/>
<path class=y d="M545.3 120.7 549.5 122 557.3 121.7 553 120.5z"/>
<path class=g d="M545.4 72.2 549.6 74 557.4 74.6 553.2 72.8z"/>
<path class=b d="M545.4 69.1 549.6 70.8 557.4 70.6 553.2 68.9z"/>
<path class=y d="M434.8 131.6 438.1 133.1 446.4 129.5 443 128.1z"/>
<path class=b d="M434.4 92.7 437.8 92.9 446 88.5 442.7 88.2z"/>
<path class=g d="M434.3 75.9 437.6 76.7 445.9 74.4 442.5 73.6z"/>
<path class=y d="M525.6 120 529.6 121.3 537.5 120.9 533.4 119.7z"/>
<path class=g d="M525.6 70.2 529.6 71.8 537.5 71.9 533.4 70.3z"/>
<path class=b d="M525.6 69.3 529.6 70.7 537.5 69.7 533.4 68.2z"/>
<path class=y d="M505.8 119.9 509.7 121.1 517.7 120.4 513.7 119.1z"/>
<path class=b d="M505.7 71.4 509.6 72.6 517.6 70.8 513.6 69.5z"/>
<path class=g d="M505.7 69.4 509.6 70.7 517.6 70.4 513.6 69z"/>
<path class=y d="M486 121.7 489.7 123 497.8 121.2 494 119.9z"/>
<path class=b d="M485.8 75.4 489.6 76.4 497.7 73.7 493.9 72.7z"/>
<path class=g d="M485.8 69.8 489.5 70.9 497.6 70 493.8 68.9z"/>
<path class=y d="M577 123.2 581.5 124.5 589.2 124.8 584.7 123.6z"/>
<path class=g d="M577.3 78.5 581.8 80.8 589.4 82 584.9 79.6z"/>
<path class=b d="M577.3 73.6 581.8 75.8 589.5 77 584.9 74.9z"/>
<path class=y d="M466.2 124.8 469.8 126.3 477.9 123.7 474.3 122.4z"/>
<path class=b d="M465.9 81.2 469.5 81.9 477.7 78.5 474 77.7z"/>
<path class=g d="M465.9 71.4 469.5 72.4 477.7 71 474 70z"/>
<path class=y d="M557.3 121.7 561.6 123.1 569.4 122.9 565 121.7z"/>
<path class=g d="M557.4 74.6 561.8 76.7 569.6 77.5 565.2 75.4z"/>
<path class=b d="M557.4 70.6 561.8 72.5 569.6 72.8 565.2 70.9z"/>
<path class=y d="M446.4 129.5 449.8 131 458 127.7 454.5 126.2z"/>
<path class=b d="M446 88.5 449.5 89 457.7 84.9 454.2 84.4z"/>
<path class=g d="M445.9 74.4 449.4 75.2 457.6 73.2 454.2 72.3z"/>
<path class=y d="M537.5 120.9 541.6 122.3 549.5 122 545.3 120.7z"/>
<path class=g d="M537.5 71.9 541.7 73.7 549.6 74 545.4 72.2z"/>
<path class=b d="M537.5 69.7 541.7 71.4 549.6 70.8 545.4 69.1z"/>
<path class=y d="M426.6 136.3 429.8 137.7 438.1 133.1 434.8 131.6z"/>
<path class=b d="M426.2 97.4 429.4 97.6 437.8 92.9 434.4 92.7z"/>
<path class=g d="M426 78.6 429.3 79.4 437.6 76.7 434.3 75.9z"/>
<path class=y d="M517.7 120.4 521.7 121.7 529.6 121.3 525.6 120z"/>
<path class=g d="M517.6 70.4 521.6 71.9 529.6 71.8 525.6 70.2z"/>
<path class=b d="M517.6 70.8 521.6 72.2 529.6 70.7 525.6 69.3z"/>
<path class=y d="M497.8 121.2 501.6 122.5 509.7 121.1 505.8 119.9z"/>
<path class=b d="M497.7 73.7 501.5 74.9 509.6 72.6 505.7 71.4z"/>
<path class=g d="M497.6 70 501.5 71.3 509.6 70.7 505.7 69.4z"/>
<path class=y d="M589.2 124.8 593.8 126 601.4 125.9 596.8 124.9z"/>
<path class=g d="M589.4 82 594 84.7 601.7 86.1 597.1 83.4z"/>
<path class=b d="M589.5 77 594.1 79.5 601.7 81.2 597.1 78.8z"/>
<path class=y d="M477.9 123.7 481.6 125.2 489.7 123 486 121.7z"/>
<path class=b d="M477.7 78.5 481.4 79.4 489.6 76.4 485.8 75.4z"/>
<path class=g d="M477.7 71 481.4 72.1 489.5 70.9 485.8 69.8z"/>
<path class=y d="M569.4 122.9 573.8 124.3 581.5 124.5 577 123.2z"/>
<path class=g d="M569.6 77.5 574 79.8 581.8 80.8 577.3 78.5z"/>
<path class=b d="M569.6 72.8 574 75 581.8 75.8 577.3 73.6z"/>
<path class=y d="M458 127.7 461.5 129.3 469.8 126.3 466.2 124.8z"/>
<path class=b d="M457.7 84.9 461.3 85.6 469.5 81.9 465.9 81.2z"/>
<path class=g d="M457.6 73.2 461.2 74.2 469.5 72.4 465.9 71.4z"/>
<path class=y d="M549.5 122 553.8 123.4 561.6 123.1 557.3 121.7z"/>
<path class=g d="M549.6 74 553.9 76.1 561.8 76.7 557.4 74.6z"/>
<path class=b d="M549.6 70.8 553.9 72.7 561.8 72.5 557.4 70.6z"/>
<path class=y d="M438.1 133.1 441.5 134.6 449.8 131 446.4 129.5z"/>
<path class=b d="M437.8 92.9 441.1 93.3 449.5 89 446 88.5z"/>
<path class=g d="M437.6 76.7 441 77.6 449.4 75.2 445.9 74.4z"/>
<path class=y d="M529.6 121.3 533.7 122.7 541.6 122.3 537.5 120.9z"/>
<path class=g d="M529.6 71.8 533.8 73.5 541.7 73.7 537.5 71.9z"/>
<path class=b d="M529.6 70.7 533.8 72.4 541.7 71.4 537.5 69.7z"/>
<path class=y d="M418.3 142.9 421.5 144.2 429.8 137.7 426.6 136.3z"/>
<path class=b d="M417.8 102.4 421 102.6 429.4 97.6 426.2 97.4z"/>
<path class=g d="M417.6 81.7 420.8 82.5 429.3 79.4 426 78.6z"/>
<path class=y d="M509.7 121.1 513.6 122.5 521.7 121.7 517.7 120.4z"/>
<path class=b d="M509.6 72.6 513.6 74.1 521.6 72.2 517.6 70.8z"/>
<path class=g d="M509.6 70.7 513.6 72.2 521.6 71.9 517.6 70.4z"/>
<path class=y d="M489.7 123 493.5 124.4 501.6 122.5 497.8 121.2z"/>
<path class=b d="M489.6 76.4 493.4 77.6 501.5 74.9 497.7 73.7z"/>
<path class=g d="M489.5 70.9 493.4 72.2 501.5 71.3 497.6 70z"/>
<path class=y d="M581.5 124.5 586.1 125.9 593.8 126 589.2 124.8z"/>
<path class=g d="M581.8 80.8 586.3 83.5 594 84.7 589.4 82z"/>
<path class=b d="M581.8 75.8 586.3 78.3 594.1 79.5 589.5 77z"/>
<path class=y d="M469.8 126.3 473.4 127.8 481.6 125.2 477.9 123.7z"/>
<path class=b d="M469.5 81.9 473.2 82.8 481.4 79.4 477.7 78.5z"/>
<path class=g d="M469.5 72.4 473.1 73.5 481.4 72.1 477.7 71z"/>
<path class=y d="M561.6 123.1 566 124.6 573.8 124.3 569.4 122.9z"/>
<path class=g d="M561.8 76.7 566.2 79 574 79.8 569.6 77.5z"/>
<path class=b d="M561.8 72.5 566.2 74.8 574 75 569.6 72.8z"/>
<path class=y d="M449.8 131 453.3 132.6 461.5 129.3 458 127.7z"/>
<path class=b d="M449.5 89 453 89.6 461.3 85.6 457.7 84.9z"/>
<path class=g d="M449.4 75.2 452.9 76.2 461.2 74.2 457.6 73.2z"/>
<path class=y d="M541.6 122.3 545.9 123.8 553.8 123.4 549.5 122z"/>
<path class=g d="M541.7 73.7 546 75.6 553.9 76.1 549.6 74z"/>
<path class=b d="M541.7 71.4 546 73.3 553.9 72.7 549.6 70.8z"/>
<path class=y d="M429.8 137.7 433.1 139.2 441.5 134.6 438.1 133.1z"/>
<path class=b d="M429.4 97.6 432.8 98 441.1 93.3 437.8 92.9z"/>
<path class=g d="M429.3 79.4 432.6 80.4 441 77.6 437.6 76.7z"/>
<path class=y d="M521.7 121.7 525.7 123.2 533.7 122.7 529.6 121.3z"/>
<path class=g d="M521.6 71.9 525.7 73.6 533.8 73.5 529.6 71.8z"/>
<path class=b d="M521.6 72.2 525.7 73.9 533.8 72.4 529.6 70.7z"/>
<path class=y d="M409.9 150.4 413.1 151.5 421.5 144.2 418.3 142.9z"/>
<path class=b d="M409.4 107.6 412.6 107.7 421 102.6 417.8 102.4z"/>
<path class=g d="M409.2 85.1 412.3 86 420.8 82.5 417.6 81.7z"/>
<path class=y d="M501.6 122.5 505.5 124 513.6 122.5 509.7 121.1z"/>
<path class=b d="M501.5 74.9 505.4 76.4 513.6 74.1 509.6 72.6z"/>
<path class=g d="M501.5 71.3 505.4 72.8 513.6 72.2 509.6 70.7z"/>
<path class=y d="M593.8 126 598.4 127.2 606.1 126.9 601.4 125.9z"/>
<path class=g d="M594 84.7 598.7 87.7 606.4 89.2 601.7 86.1z"/>
<path class=b d="M594.1 79.5 598.7 82.3 606.4 84 601.7 81.2z"/>
<path class=y d="M481.6 125.2 485.3 126.7 493.5 124.4 489.7 123z"/>
<path class=b d="M481.4 79.4 485.2 80.6 493.4 77.6 489.6 76.4z"/>
<path class=g d="M481.4 72.1 485.1 73.4 493.4 72.2 489.5 70.9z"/>
<path class=y d="M573.8 124.3 578.3 125.9 586.1 125.9 581.5 124.5z"/>
<path class=g d="M574 79.8 578.5 82.4 586.3 83.5 581.8 80.8z"/>
<path class=b d="M574 75 578.5 77.5 586.3 78.3 581.8 75.8z"/>
<path class=y d="M461.5 129.3 465.1 130.9 473.4 127.8 469.8 126.3z"/>
<path class=b d="M461.3 85.6 464.9 86.5 473.2 82.8 469.5 81.9z"/>
<path class=g d="M461.2 74.2 464.8 75.3 473.1 73.5 469.5 72.4z"/>
<path class=y d="M553.8 123.4 558.1 125.1 566 124.6 561.6 123.1z"/>
<path class=g d="M553.9 76.1 558.3 78.3 566.2 79 561.8 76.7z"/>
<path class=b d="M553.9 72.7 558.3 75 566.2 74.8 561.8 72.5z"/>
<path class=y d="M441.5 134.6 444.9 136.2 453.3 132.6 449.8 131z"/>
<path class=b d="M441.1 93.3 444.6 94 453 89.6 449.5 89z"/>
<path class=g d="M441 77.6 444.5 78.7 452.9 76.2 449.4 75.2z"/>
<path class=y d="M533.7 122.7 537.9 124.2 545.9 123.8 541.6 122.3z"/>
<path class=g d="M533.8 73.5 538 75.4 546 75.6 541.7 73.7z"/>
<path class=b d="M533.8 72.4 538 74.4 546 73.3 541.7 71.4z"/>
<path class=y d="M421.5 144.2 424.7 145.6 433.1 139.2 429.8 137.7z"/>
<path class=b d="M421 102.6 424.3 102.9 432.8 98 429.4 97.6z"/>
<path class=g d="M420.8 82.5 424.1 83.5 432.6 80.4 429.3 79.4z"/>
<path class=y d="M513.6 122.5 517.7 124.1 525.7 123.2 521.7 121.7z"/>
<path class=b d="M513.6 74.1 517.6 75.8 525.7 73.9 521.6 72.2z"/>
<path class=g d="M513.6 72.2 517.6 73.9 525.7 73.6 521.6 71.9z"/>
<path class=y d="M401.5 158.7 404.6 159.8 413.1 151.5 409.9 150.4z"/>
<path class=b d="M401 113.1 404 113.2 412.6 107.7 409.4 107.6z"/>
<path class=g d="M400.7 88.8 403.8 89.8 412.3 86 409.2 85.1z"/>
<path class=y d="M493.5 124.4 497.4 125.9 505.5 124 501.6 122.5z"/>
<path class=b d="M493.4 77.6 497.3 79 505.4 76.4 501.5 74.9z"/>
<path class=g d="M493.4 72.2 497.2 73.7 505.4 72.8 501.5 71.3z"/>
<path class=y d="M586.1 125.9 590.7 127.2 598.4 127.2 593.8 126z"/>
<path class=g d="M586.3 83.5 590.9 86.4 598.7 87.7 594 84.7z"/>
<path class=b d="M586.3 78.3 591 81.1 598.7 82.3 594.1 79.5z"/>
<path class=y d="M473.4 127.8 477.1 129.5 485.3 126.7 481.6 125.2z"/>
<path class=b d="M473.2 82.8 476.9 84 485.2 80.6 481.4 79.4z"/>
<path class=g d="M473.1 73.5 476.8 74.8 485.1 73.4 481.4 72.1z"/>
<path class=y d="M566 124.6 570.4 126.3 578.3 125.9 573.8 124.3z"/>
<path class=g d="M566.2 79 570.6 81.5 578.5 82.4 574 79.8z"/>
<path class=b d="M566.2 74.8 570.6 77.3 578.5 77.5 574 75z"/>
<path class=y d="M453.3 132.6 456.8 134.3 465.1 130.9 461.5 129.3z"/>
<path class=b d="M453 89.6 456.5 90.5 464.9 86.5 461.3 85.6z"/>
<path class=g d="M452.9 76.2 456.4 77.4 464.8 75.3 461.2 74.2z"/>
<path class=y d="M545.9 123.8 550.2 125.6 558.1 125.1 553.8 123.4z"/>
<path class=g d="M546 75.6 550.3 77.8 558.3 78.3 553.9 76.1z"/>
<path class=b d="M546 73.3 550.3 75.6 558.3 75 553.9 72.7z"/>
<path class=y d="M433.1 139.2 436.5 140.7 444.9 136.2 441.5 134.6z"/>
<path class=b d="M432.8 98 436.1 98.6 444.6 94 441.1 93.3z"/>
<path class=g d="M432.6 80.4 436 81.4 444.5 78.7 441 77.6z"/>
<path class=y d="M525.7 123.2 529.9 124.9 537.9 124.2 533.7 122.7z"/>
<path class=g d="M525.7 73.6 529.9 75.5 538 75.4 533.8 73.5z"/>
<path class=b d="M525.7 73.9 529.9 75.9 538 74.4 533.8 72.4z"/>
<path class=y d="M413.1 151.5 416.3 152.8 424.7 145.6 421.5 144.2z"/>
<path class=b d="M412.6 107.7 415.8 108.1 424.3 102.9 421 102.6z"/>
<path class=g d="M412.3 86 415.6 86.9 424.1 83.5 420.8 82.5z"/>
<path class=y d="M505.5 124 509.5 125.7 517.7 124.1 513.6 122.5z"/>
<path class=b d="M505.4 76.4 509.4 78.1 517.6 75.8 513.6 74.1z"/>
<path class=g d="M505.4 72.8 509.4 74.4 517.6 73.9 513.6 72.2z"/>
<path class=y d="M598.4 127.2 603.1 128.4 610.9 127.8 606.1 126.9z"/>
<path class=g d="M598.7 87.7 603.4 91 611.2 92.5 606.4 89.2z"/>
<path class=b d="M598.7 82.3 603.5 85.4 611.2 87.1 606.4 84z"/>
<path class=y d="M485.3 126.7 489.2 128.4 497.4 125.9 493.5 124.4z"/>
<path class=b d="M485.2 80.6 489 82 497.3 79 493.4 77.6z"/>
<path class=g d="M485.1 73.4 489 74.8 497.2 73.7 493.4 72.2z"/>
<path class=y d="M578.3 125.9 582.8 127.4 590.7 127.2 586.1 125.9z"/>
<path class=g d="M578.5 82.4 583.1 85.2 590.9 86.4 586.3 83.5z"/>
<path class=b d="M578.5 77.5 583.1 80.4 591 81.1 586.3 78.3z"/>
<path class=y d="M465.1 130.9 468.8 132.7 477.1 129.5 473.4 127.8z"/>
<path class=b d="M464.9 86.5 468.5 87.6 476.9 84 473.2 82.8z"/>
<path class=g d="M464.8 75.3 468.5 76.6 476.8 74.8 473.1 73.5z"/>
<path class=y d="M558.1 125.1 562.5 126.9 570.4 126.3 566 124.6z"/>
<path class=g d="M558.3 78.3 562.7 80.8 570.6 81.5 566.2 79z"/>
<path class=b d="M558.3 75 562.7 77.5 570.6 77.3 566.2 74.8z"/>
<path class=y d="M444.9 136.2 448.4 138 456.8 134.3 453.3 132.6z"/>
<path class=b d="M444.6 94 448.1 94.8 456.5 90.5 453 89.6z"/>
<path class=g d="M444.5 78.7 448 79.8 456.4 77.4 452.9 76.2z"/>
<path class=y d="M537.9 124.2 542.1 126.2 550.2 125.6 545.9 123.8z"/>
<path class=g d="M538 75.4 542.2 77.6 550.3 77.8 546 75.6z"/>
<path class=b d="M538 74.4 542.2 76.7 550.3 75.6 546 73.3z"/>
<path class=y d="M424.7 145.6 428.1 147.1 436.5 140.7 433.1 139.2z"/>
<path class=b d="M424.3 102.9 427.6 103.5 436.1 98.6 432.8 98z"/>
<path class=g d="M424.1 83.5 427.4 84.5 436 81.4 432.6 80.4z"/>
<path class=y d="M517.7 124.1 521.7 125.9 529.9 124.9 525.7 123.2z"/>
<path class=b d="M517.6 75.8 521.7 77.8 529.9 75.9 525.7 73.9z"/>
<path class=g d="M517.6 73.9 521.7 75.8 529.9 75.5 525.7 73.6z"/>
<path class=y d="M404.6 159.8 407.8 161 416.3 152.8 413.1 151.5z"/>
<path class=b d="M404 113.2 407.2 113.4 415.8 108.1 412.6 107.7z"/>
<path class=g d="M403.8 89.8 406.9 90.8 415.6 86.9 412.3 86z"/>
<path class=y d="M497.4 125.9 501.3 127.8 509.5 125.7 505.5 124z"/>
<path class=b d="M497.3 79 501.2 80.7 509.4 78.1 505.4 76.4z"/>
<path class=g d="M497.2 73.7 501.2 75.3 509.4 74.4 505.4 72.8z"/>
<path class=y d="M590.7 127.2 595.4 128.6 603.1 128.4 598.4 127.2z"/>
<path class=g d="M590.9 86.4 595.6 89.6 603.4 91 598.7 87.7z"/>
<path class=b d="M591 81.1 595.7 84.3 603.5 85.4 598.7 82.3z"/>
<path class=y d="M477.1 129.5 480.9 131.4 489.2 128.4 485.3 126.7z"/>
<path class=b d="M476.9 84 480.7 85.4 489 82 485.2 80.6z"/>
<path class=g d="M476.8 74.8 480.6 76.2 489 74.8 485.1 73.4z"/>
<path class=y d="M570.4 126.3 575 128 582.8 127.4 578.3 125.9z"/>
<path class=g d="M570.6 81.5 575.2 84.3 583.1 85.2 578.5 82.4z"/>
<path class=b d="M570.6 77.3 575.2 80.2 583.1 80.4 578.5 77.5z"/>
<path class=y d="M456.8 134.3 460.4 136.2 468.8 132.7 465.1 130.9z"/>
<path class=b d="M456.5 90.5 460.1 91.6 468.5 87.6 464.9 86.5z"/>
<path class=g d="M456.4 77.4 460 78.7 468.5 76.6 464.8 75.3z"/>
<path class=y d="M550.2 125.6 554.5 127.6 562.5 126.9 558.1 125.1z"/>
<path class=g d="M550.3 77.8 554.7 80.3 562.7 80.8 558.3 78.3z"/>
<path class=b d="M550.3 75.6 554.7 78.2 562.7 77.5 558.3 75z"/>
<path class=y d="M436.5 140.7 439.9 142.5 448.4 138 444.9 136.2z"/>
<path class=b d="M436.1 98.6 439.6 99.4 448.1 94.8 444.6 94z"/>
<path class=g d="M436 81.4 439.4 82.6 448 79.8 444.5 78.7z"/>
<path class=y d="M529.9 124.9 534.1 127 542.1 126.2 537.9 124.2z"/>
<path class=g d="M529.9 75.5 534.1 77.6 542.2 77.6 538 75.4z"/>
<path class=b d="M529.9 75.9 534.1 78.2 542.2 76.7 538 74.4z"/>
<path class=y d="M416.3 152.8 419.5 154.2 428.1 147.1 424.7 145.6z"/>
<path class=b d="M415.8 108.1 419 108.6 427.6 103.5 424.3 102.9z"/>
<path class=g d="M415.6 86.9 418.8 88.1 427.4 84.5 424.1 83.5z"/>
<path class=y d="M509.5 125.7 513.6 127.6 521.7 125.9 517.7 124.1z"/>
<path class=b d="M509.4 78.1 513.5 80.1 521.7 77.8 517.6 75.8z"/>
<path class=g d="M509.4 74.4 513.5 76.3 521.7 75.8 517.6 73.9z"/>
<path class=y d="M603.1 128.4 608 129.4 615.7 128.5 610.9 127.8z"/>
<path class=g d="M603.4 91 608.2 94.5 616 96.1 611.2 92.5z"/>
<path class=b d="M603.5 85.4 608.3 88.9 616.1 90.5 611.2 87.1z"/>
<path class=y d="M489.2 128.4 493 130.4 501.3 127.8 497.4 125.9z"/>
<path class=b d="M489 82 492.9 83.7 501.2 80.7 497.3 79z"/>
<path class=g d="M489 74.8 492.9 76.4 501.2 75.3 497.2 73.7z"/>
<path class=y d="M582.8 127.4 587.5 129 595.4 128.6 590.7 127.2z"/>
<path class=g d="M583.1 85.2 587.7 88.4 595.6 89.6 590.9 86.4z"/>
<path class=b d="M583.1 80.4 587.8 83.6 595.7 84.3 591 81.1z"/>
<path class=y d="M468.8 132.7 472.5 134.8 480.9 131.4 477.1 129.5z"/>
<path class=b d="M468.5 87.6 472.2 89.1 480.7 85.4 476.9 84z"/>
<path class=g d="M468.5 76.6 472.2 78 480.6 76.2 476.8 74.8z"/>
<path class=y d="M562.5 126.9 567 128.9 575 128 570.4 126.3z"/>
<path class=g d="M562.7 80.8 567.2 83.5 575.2 84.3 570.6 81.5z"/>
<path class=b d="M562.7 77.5 567.2 80.4 575.2 80.2 570.6 77.3z"/>
<path class=y d="M448.4 138 451.9 139.9 460.4 136.2 456.8 134.3z"/>
<path class=b d="M448.1 94.8 451.6 95.9 460.1 91.6 456.5 90.5z"/>
<path class=g d="M448 79.8 451.5 81.1 460 78.7 456.4 77.4z"/>
<path class=y d="M542.1 126.2 546.5 128.5 554.5 127.6 550.2 125.6z"/>
<path class=g d="M542.2 77.6 546.6 80 554.7 80.3 550.3 77.8z"/>
<path class=b d="M542.2 76.7 546.6 79.3 554.7 78.2 550.3 75.6z"/>
<path class=y d="M428.1 147.1 431.4 148.7 439.9 142.5 436.5 140.7z"/>
<path class=b d="M427.6 103.5 431 104.3 439.6 99.4 436.1 98.6z"/>
<path class=g d="M427.4 84.5 430.8 85.7 439.4 82.6 436 81.4z"/>
<path class=y d="M521.7 125.9 525.9 128.2 534.1 127 529.9 124.9z"/>
<path class=b d="M521.7 77.8 525.9 80.1 534.1 78.2 529.9 75.9z"/>
<path class=g d="M521.7 75.8 525.9 77.8 534.1 77.6 529.9 75.5z"/>
<path class=y d="M407.8 161 411 162.3 419.5 154.2 416.3 152.8z"/>
<path class=b d="M407.2 113.4 410.4 113.9 419 108.6 415.8 108.1z"/>
<path class=g d="M406.9 90.8 410.1 92 418.8 88.1 415.6 86.9z"/>
<path class=y d="M501.3 127.8 505.3 129.9 513.6 127.6 509.5 125.7z"/>
<path class=b d="M501.2 80.7 505.2 82.7 513.5 80.1 509.4 78.1z"/>
<path class=g d="M501.2 75.3 505.2 77.1 513.5 76.3 509.4 74.4z"/>
<path class=y d="M595.4 128.6 600.1 129.9 608 129.4 603.1 128.4z"/>
<path class=g d="M595.6 89.6 600.4 93.1 608.2 94.5 603.4 91z"/>
<path class=b d="M595.7 84.3 600.4 87.8 608.3 88.9 603.5 85.4z"/>
<path class=y d="M480.9 131.4 484.7 133.7 493 130.4 489.2 128.4z"/>
<path class=b d="M480.7 85.4 484.5 87.1 492.9 83.7 489 82z"/>
<path class=g d="M480.6 76.2 484.5 77.9 492.9 76.4 489 74.8z"/>
<path class=y d="M575 128 579.6 129.8 587.5 129 582.8 127.4z"/>
<path class=g d="M575.2 84.3 579.8 87.3 587.7 88.4 583.1 85.2z"/>
<path class=b d="M575.2 80.2 579.8 83.4 587.8 83.6 583.1 80.4z"/>
<path class=y d="M460.4 136.2 464.1 138.4 472.5 134.8 468.8 132.7z"/>
<path class=b d="M460.1 91.6 463.8 93.1 472.2 89.1 468.5 87.6z"/>
<path class=g d="M460 78.7 463.7 80.1 472.2 78 468.5 76.6z"/>
<path class=y d="M554.5 127.6 559 129.8 567 128.9 562.5 126.9z"/>
<path class=g d="M554.7 80.3 559.1 83 567.2 83.5 562.7 80.8z"/>
<path class=b d="M554.7 78.2 559.1 81.1 567.2 80.4 562.7 77.5z"/>
<path class=y d="M439.9 142.5 443.4 144.4 451.9 139.9 448.4 138z"/>
<path class=b d="M439.6 99.4 443.1 100.5 451.6 95.9 448.1 94.8z"/>
<path class=g d="M439.4 82.6 442.9 83.9 451.5 81.1 448 79.8z"/>
<path class=y d="M534.1 127 538.3 129.5 546.5 128.5 542.1 126.2z"/>
<path class=g d="M534.1 77.6 538.4 79.9 546.6 80 542.2 77.6z"/>
<path class=b d="M534.1 78.2 538.4 80.8 546.6 79.3 542.2 76.7z"/>
<path class=y d="M419.5 154.2 422.8 155.7 431.4 148.7 428.1 147.1z"/>
<path class=b d="M419 108.6 422.4 109.4 431 104.3 427.6 103.5z"/>
<path class=g d="M418.8 88.1 422.2 89.3 430.8 85.7 427.4 84.5z"/>
<path class=y d="M513.6 127.6 517.7 130.1 525.9 128.2 521.7 125.9z"/>
<path class=b d="M513.5 80.1 517.6 82.4 525.9 80.1 521.7 77.8z"/>
<path class=g d="M513.5 76.3 517.6 78.4 525.9 77.8 521.7 75.8z"/>
<path class=y d="M608 129.4 612.9 129.7 620.7 128.5 615.7 128.5z"/>
<path class=g d="M608.2 94.5 613.1 98.4 620.9 100 616 96.1z"/>
<path class=b d="M608.3 88.9 613.2 92.8 621 94.4 616.1 90.5z"/>
<path class=y d="M493 130.4 497 132.7 505.3 129.9 501.3 127.8z"/>
<path class=b d="M492.9 83.7 496.8 85.8 505.2 82.7 501.2 80.7z"/>
<path class=g d="M492.9 76.4 496.8 78.2 505.2 77.1 501.2 75.3z"/>
<path class=y d="M587.5 129 592.2 130.5 600.1 129.9 595.4 128.6z"/>
<path class=g d="M587.7 88.4 592.5 91.8 600.4 93.1 595.6 89.6z"/>
<path class=b d="M587.8 83.6 592.5 87.2 600.4 87.8 595.7 84.3z"/>
<path class=y d="M472.5 134.8 476.3 137.2 484.7 133.7 480.9 131.4z"/>
<path class=b d="M472.2 89.1 476 90.8 484.5 87.1 480.7 85.4z"/>
<path class=g d="M472.2 78 476 79.6 484.5 77.9 480.6 76.2z"/>
<path class=y d="M567 128.9 571.5 130.9 579.6 129.8 575 128z"/>
<path class=g d="M567.2 83.5 571.7 86.5 579.8 87.3 575.2 84.3z"/>
<path class=b d="M567.2 80.4 571.8 83.7 579.8 83.4 575.2 80.2z"/>
<path class=y d="M451.9 139.9 455.6 142.1 464.1 138.4 460.4 136.2z"/>
<path class=b d="M451.6 95.9 455.2 97.3 463.8 93.1 460.1 91.6z"/>
<path class=g d="M451.5 81.1 455.1 82.5 463.7 80.1 460 78.7z"/>
<path class=y d="M546.5 128.5 550.8 130.8 559 129.8 554.5 127.6z"/>
<path class=g d="M546.6 80 551 82.6 559.1 83 554.7 80.3z"/>
<path class=b d="M546.6 79.3 551 82.3 559.1 81.1 554.7 78.2z"/>
<path class=y d="M431.4 148.7 434.9 150.6 443.4 144.4 439.9 142.5z"/>
<path class=b d="M431 104.3 434.4 105.3 443.1 100.5 439.6 99.4z"/>
<path class=g d="M430.8 85.7 434.3 87.1 442.9 83.9 439.4 82.6z"/>
<path class=y d="M525.9 128.2 530.1 131 538.3 129.5 534.1 127z"/>
<path class=b d="M525.9 80.1 530.1 82.8 538.4 80.8 534.1 78.2z"/>
<path class=g d="M525.9 77.8 530.1 80.2 538.4 79.9 534.1 77.6z"/>
<path class=y d="M411 162.3 414.2 163.9 422.8 155.7 419.5 154.2z"/>
<path class=b d="M410.4 113.9 413.7 114.7 422.4 109.4 419 108.6z"/>
<path class=g d="M410.1 92 413.4 93.2 422.2 89.3 418.8 88.1z"/>
<path class=y d="M505.3 129.9 509.4 132.5 517.7 130.1 513.6 127.6z"/>
<path class=b d="M505.2 82.7 509.3 85.1 517.6 82.4 513.5 80.1z"/>
<path class=g d="M505.2 77.1 509.3 79.2 517.6 78.4 513.5 76.3z"/>
<path class=y d="M600.1 129.9 605 130.5 612.9 129.7 608 129.4z"/>
<path class=g d="M600.4 93.1 605.2 96.8 613.1 98.4 608.2 94.5z"/>
<path class=b d="M600.4 87.8 605.3 91.8 613.2 92.8 608.3 88.9z"/>
<path class=y d="M484.7 133.7 488.6 136.2 497 132.7 493 130.4z"/>
<path class=b d="M484.5 87.1 488.4 89.1 496.8 85.8 492.9 83.7z"/>
<path class=g d="M484.5 77.9 488.4 79.7 496.8 78.2 492.9 76.4z"/>
<path class=y d="M579.6 129.8 584.2 131.6 592.2 130.5 587.5 129z"/>
<path class=g d="M579.8 87.3 584.5 90.7 592.5 91.8 587.7 88.4z"/>
<path class=b d="M579.8 83.4 584.5 87.1 592.5 87.2 587.8 83.6z"/>
<path class=y d="M464.1 138.4 467.8 140.9 476.3 137.2 472.5 134.8z"/>
<path class=b d="M463.8 93.1 467.5 94.8 476 90.8 472.2 89.1z"/>
<path class=g d="M463.7 80.1 467.4 81.7 476 79.6 472.2 78z"/>
<path class=y d="M559 129.8 563.5 132.1 571.5 130.9 567 128.9z"/>
<path class=g d="M559.1 83 563.6 85.9 571.7 86.5 567.2 83.5z"/>
<path class=b d="M559.1 81.1 563.6 84.5 571.8 83.7 567.2 80.4z"/>
<path class=y d="M443.4 144.4 447 146.7 455.6 142.1 451.9 139.9z"/>
<path class=b d="M443.1 100.5 446.6 101.9 455.2 97.3 451.6 95.9z"/>
<path class=g d="M442.9 83.9 446.5 85.4 455.1 82.5 451.5 81.1z"/>
<path class=y d="M538.3 129.5 542.7 132.1 550.8 130.8 546.5 128.5z"/>
<path class=b d="M538.4 80.8 542.7 83.9 551 82.3 546.6 79.3z"/>
<path class=g d="M538.4 79.9 542.7 82.5 551 82.6 546.6 80z"/>
<path class=y d="M422.8 155.7 426.2 157.5 434.9 150.6 431.4 148.7z"/>
<path class=b d="M422.4 109.4 425.7 110.4 434.4 105.3 431 104.3z"/>
<path class=g d="M422.2 89.3 425.5 90.6 434.3 87.1 430.8 85.7z"/>
<path class=y d="M517.7 130.1 521.8 133.1 530.1 131 525.9 128.2z"/>
<path class=b d="M517.6 82.4 521.8 85.1 530.1 82.8 525.9 80.1z"/>
<path class=g d="M517.6 78.4 521.8 80.6 530.1 80.2 525.9 77.8z"/>
<path class=y d="M612.9 129.7 617.8 129.8 625.7 128.3 620.7 128.5z"/>
<path class=g d="M613.1 98.4 618.1 102.5 625.9 104.3 620.9 100z"/>
<path class=b d="M613.2 92.8 618.1 97.2 626 98.7 621 94.4z"/>
<path class=y d="M497 132.7 501 135.7 509.4 132.5 505.3 129.9z"/>
<path class=b d="M496.8 85.8 500.9 88.1 509.3 85.1 505.2 82.7z"/>
<path class=g d="M496.8 78.2 500.8 80.2 509.3 79.2 505.2 77.1z"/>
<path class=y d="M592.2 130.5 597 131.4 605 130.5 600.1 129.9z"/>
<path class=g d="M592.5 91.8 597.3 95.5 605.2 96.8 600.4 93.1z"/>
<path class=b d="M592.5 87.2 597.3 91.2 605.3 91.8 600.4 87.8z"/>
<path class=y d="M476.3 137.2 480.1 139.9 488.6 136.2 484.7 133.7z"/>
<path class=b d="M476 90.8 479.9 92.8 488.4 89.1 484.5 87.1z"/>
<path class=g d="M476 79.6 479.8 81.4 488.4 79.7 484.5 77.9z"/>
<path class=y d="M571.5 130.9 576.2 133 584.2 131.6 579.6 129.8z"/>
<path class=g d="M571.7 86.5 576.4 89.8 584.5 90.7 579.8 87.3z"/>
<path class=b d="M571.8 83.7 576.4 87.4 584.5 87.1 579.8 83.4z"/>
<path class=y d="M455.6 142.1 459.2 144.8 467.8 140.9 464.1 138.4z"/>
<path class=b d="M455.2 97.3 458.9 99 467.5 94.8 463.8 93.1z"/>
<path class=g d="M455.1 82.5 458.8 84.1 467.4 81.7 463.7 80.1z"/>
<path class=y d="M550.8 130.8 555.3 133.4 563.5 132.1 559 129.8z"/>
<path class=g d="M551 82.6 555.4 85.5 563.6 85.9 559.1 83z"/>
<path class=b d="M551 82.3 555.4 85.7 563.6 84.5 559.1 81.1z"/>
<path class=y d="M434.9 150.6 438.3 152.8 447 146.7 443.4 144.4z"/>
<path class=b d="M434.4 105.3 437.9 106.7 446.6 101.9 443.1 100.5z"/>
<path class=g d="M434.3 87.1 437.8 88.5 446.5 85.4 442.9 83.9z"/>
<path class=y d="M530.1 131 534.4 133.8 542.7 132.1 538.3 129.5z"/>
<path class=b d="M530.1 82.8 534.4 85.8 542.7 83.9 538.4 80.8z"/>
<path class=g d="M530.1 80.2 534.5 82.7 542.7 82.5 538.4 79.9z"/>
<path class=y d="M414.2 163.9 417.5 165.7 426.2 157.5 422.8 155.7z"/>
<path class=b d="M413.7 114.7 417 115.7 425.7 110.4 422.4 109.4z"/>
<path class=g d="M413.4 93.2 416.7 94.6 425.5 90.6 422.2 89.3z"/>
<path class=y d="M509.4 132.5 513.5 135.8 521.8 133.1 517.7 130.1z"/>
<path class=b d="M509.3 85.1 513.4 87.8 521.8 85.1 517.6 82.4z"/>
<path class=g d="M509.3 79.2 513.4 81.4 521.8 80.6 517.6 78.4z"/>
<path class=y d="M605 130.5 609.9 131 617.8 129.8 612.9 129.7z"/>
<path class=g d="M605.2 96.8 610.2 100.9 618.1 102.5 613.1 98.4z"/>
<path class=b d="M605.3 91.8 610.2 96.2 618.1 97.2 613.2 92.8z"/>
<path class=y d="M488.6 136.2 492.5 139.5 501 135.7 497 132.7z"/>
<path class=b d="M488.4 89.1 492.4 91.5 500.9 88.1 496.8 85.8z"/>
<path class=g d="M488.4 79.7 492.3 81.6 500.8 80.2 496.8 78.2z"/>
<path class=y d="M584.2 131.6 589 132.8 597 131.4 592.2 130.5z"/>
<path class=g d="M584.5 90.7 589.2 94.3 597.3 95.5 592.5 91.8z"/>
<path class=b d="M584.5 87.1 589.3 91.2 597.3 91.2 592.5 87.2z"/>
<path class=y d="M467.8 140.9 471.6 143.8 480.1 139.9 476.3 137.2z"/>
<path class=b d="M467.5 94.8 471.3 96.8 479.9 92.8 476 90.8z"/>
<path class=g d="M467.4 81.7 471.2 83.5 479.8 81.4 476 79.6z"/>
<path class=y d="M563.5 132.1 568 134.4 576.2 133 571.5 130.9z"/>
<path class=g d="M563.6 85.9 568.2 89.1 576.4 89.8 571.7 86.5z"/>
<path class=b d="M563.6 84.5 568.2 88.2 576.4 87.4 571.8 83.7z"/>
<path class=y d="M447 146.7 450.6 149.4 459.2 144.8 455.6 142.1z"/>
<path class=b d="M446.6 101.9 450.2 103.6 458.9 99 455.2 97.3z"/>
<path class=g d="M446.5 85.4 450.1 87 458.8 84.1 455.1 82.5z"/>
<path class=y d="M542.7 132.1 547.1 134.9 555.3 133.4 550.8 130.8z"/>
<path class=b d="M542.7 83.9 547.2 87.3 555.4 85.7 551 82.3z"/>
<path class=g d="M542.7 82.5 547.2 85.4 555.4 85.5 551 82.6z"/>
<path class=y d="M426.2 157.5 429.6 159.7 438.3 152.8 434.9 150.6z"/>
<path class=b d="M425.7 110.4 429.2 111.8 437.9 106.7 434.4 105.3z"/>
<path class=g d="M425.5 90.6 429 92.1 437.8 88.5 434.3 87.1z"/>
<path class=y d="M521.8 133.1 526.1 136.2 534.4 133.8 530.1 131z"/>
<path class=b d="M521.8 85.1 526.1 88.2 534.4 85.8 530.1 82.8z"/>
<path class=g d="M521.8 80.6 526.1 83.1 534.5 82.7 530.1 80.2z"/>
<path class=y d="M617.8 129.8 622.9 130.3 630.8 128.3 625.7 128.3z"/>
<path class=g d="M618.1 102.5 623.1 107 631 108.9 625.9 104.3z"/>
<path class=b d="M618.1 97.2 623.2 102 631.1 103.4 626 98.7z"/>
<path class=y d="M501 135.7 505 139.3 513.5 135.8 509.4 132.5z"/>
<path class=b d="M500.9 88.1 504.9 90.9 513.4 87.8 509.3 85.1z"/>
<path class=g d="M500.8 80.2 504.9 82.5 513.4 81.4 509.3 79.2z"/>
<path class=y d="M597 131.4 601.9 132.2 609.9 131 605 130.5z"/>
<path class=g d="M597.3 95.5 602.2 99.5 610.2 100.9 605.2 96.8z"/>
<path class=b d="M597.3 91.2 602.2 95.7 610.2 96.2 605.3 91.8z"/>
<path class=y d="M480.1 139.9 484 143.4 492.5 139.5 488.6 136.2z"/>
<path class=b d="M479.9 92.8 483.8 95.2 492.4 91.5 488.4 89.1z"/>
<path class=g d="M479.8 81.4 483.8 83.4 492.3 81.6 488.4 79.7z"/>
<path class=y d="M576.2 133 580.9 134.5 589 132.8 584.2 131.6z"/>
<path class=g d="M576.4 89.8 581.1 93.3 589.2 94.3 584.5 90.7z"/>
<path class=b d="M576.4 87.4 581.1 91.6 589.3 91.2 584.5 87.1z"/>
<path class=y d="M459.2 144.8 462.9 147.9 471.6 143.8 467.8 140.9z"/>
<path class=b d="M458.9 99 462.6 101.1 471.3 96.8 467.5 94.8z"/>
<path class=g d="M458.8 84.1 462.6 85.9 471.2 83.5 467.4 81.7z"/>
<path class=y d="M555.3 133.4 559.8 136 568 134.4 563.5 132.1z"/>
<path class=g d="M555.4 85.5 560 88.7 568.2 89.1 563.6 85.9z"/>
<path class=b d="M555.4 85.7 560 89.5 568.2 88.2 563.6 84.5z"/>
<path class=y d="M438.3 152.8 441.9 155.5 450.6 149.4 447 146.7z"/>
<path class=b d="M437.9 106.7 441.5 108.4 450.2 103.6 446.6 101.9z"/>
<path class=g d="M437.8 88.5 441.3 90.2 450.1 87 446.5 85.4z"/>
<path class=y d="M534.4 133.8 538.8 137 547.1 134.9 542.7 132.1z"/>
<path class=b d="M534.4 85.8 538.8 89.3 547.2 87.3 542.7 83.9z"/>
<path class=g d="M534.5 82.7 538.8 85.5 547.2 85.4 542.7 82.5z"/>
<path class=y d="M417.5 165.7 420.9 167.9 429.6 159.7 426.2 157.5z"/>
<path class=b d="M417 115.7 420.4 117 429.2 111.8 425.7 110.4z"/>
<path class=g d="M416.7 94.6 420.1 96.1 429 92.1 425.5 90.6z"/>
<path class=y d="M513.5 135.8 517.7 139.2 526.1 136.2 521.8 133.1z"/>
<path class=b d="M513.4 87.8 517.6 90.9 526.1 88.2 521.8 85.1z"/>
<path class=g d="M513.4 81.4 517.6 83.9 526.1 83.1 521.8 80.6z"/>
<path class=y d="M609.9 131 614.9 131.7 622.9 130.3 617.8 129.8z"/>
<path class=g d="M610.2 100.9 615.2 105.3 623.1 107 618.1 102.5z"/>
<path class=b d="M610.2 96.2 615.2 101.1 623.2 102 618.1 97.2z"/>
<path class=y d="M492.5 139.5 496.5 143.4 505 139.3 501 135.7z"/>
<path class=b d="M492.4 91.5 496.4 94.3 504.9 90.9 500.9 88.1z"/>
<path class=g d="M492.3 81.6 496.4 83.8 504.9 82.5 500.8 80.2z"/>
<path class=y d="M589 132.8 593.8 134 601.9 132.2 597 131.4z"/>
<path class=g d="M589.2 94.3 594.1 98.2 602.2 99.5 597.3 95.5z"/>
<path class=b d="M589.3 91.2 594.1 95.7 602.2 95.7 597.3 91.2z"/>
<path class=y d="M471.6 143.8 475.4 147.6 484 143.4 480.1 139.9z"/>
<path class=b d="M471.3 96.8 475.2 99.2 483.8 95.2 479.9 92.8z"/>
<path class=g d="M471.2 83.5 475.1 85.4 483.8 83.4 479.8 81.4z"/>
<path class=y d="M568 134.4 572.7 136.3 580.9 134.5 576.2 133z"/>
<path class=g d="M568.2 89.1 572.9 92.6 581.1 93.3 576.4 89.8z"/>
<path class=b d="M568.2 88.2 572.9 92.4 581.1 91.6 576.4 87.4z"/>
<path class=y d="M450.6 149.4 454.3 152.6 462.9 147.9 459.2 144.8z"/>
<path class=b d="M450.2 103.6 453.9 105.7 462.6 101.1 458.9 99z"/>
<path class=g d="M450.1 87 453.8 88.7 462.6 85.9 458.8 84.1z"/>
<path class=y d="M547.1 134.9 551.6 137.9 559.8 136 555.3 133.4z"/>
<path class=b d="M547.2 87.3 551.7 91.1 560 89.5 555.4 85.7z"/>
<path class=g d="M547.2 85.4 551.7 88.5 560 88.7 555.4 85.5z"/>
<path class=y d="M429.6 159.7 433.1 162.4 441.9 155.5 438.3 152.8z"/>
<path class=b d="M429.2 111.8 432.7 113.5 441.5 108.4 437.9 106.7z"/>
<path class=g d="M429 92.1 432.5 93.8 441.3 90.2 437.8 88.5z"/>
<path class=y d="M526.1 136.2 530.4 139.6 538.8 137 534.4 133.8z"/>
<path class=b d="M526.1 88.2 530.4 91.7 538.8 89.3 534.4 85.8z"/>
<path class=g d="M526.1 83.1 530.4 85.9 538.8 85.5 534.5 82.7z"/>
<path class=y d="M622.9 130.3 628.1 130.9 636 128.6 630.8 128.3z"/>
<path class=g d="M623.1 107 628.2 111.9 636.2 113.8 631 108.9z"/>
<path class=b d="M623.2 102 628.3 107.3 636.2 108.6 631.1 103.4z"/>
<path class=y d="M505 139.3 509.2 143.1 517.7 139.2 513.5 135.8z"/>
<path class=b d="M504.9 90.9 509.1 94 517.6 90.9 513.4 87.8z"/>
<path class=g d="M504.9 82.5 509.1 84.9 517.6 83.9 513.4 81.4z"/>
<path class=y d="M601.9 132.2 606.9 133.3 614.9 131.7 609.9 131z"/>
<path class=g d="M602.2 99.5 607.1 103.8 615.2 105.3 610.2 100.9z"/>
<path class=b d="M602.2 95.7 607.1 100.7 615.2 101.1 610.2 96.2z"/>
<path class=y d="M484 143.4 488 147.7 496.5 143.4 492.5 139.5z"/>
<path class=b d="M483.8 95.2 487.8 98 496.4 94.3 492.4 91.5z"/>
<path class=g d="M483.8 83.4 487.7 85.5 496.4 83.8 492.3 81.6z"/>
<path class=y d="M580.9 134.5 585.7 136 593.8 134 589 132.8z"/>
<path class=g d="M581.1 93.3 585.9 97.2 594.1 98.2 589.2 94.3z"/>
<path class=b d="M581.1 91.6 585.9 96.2 594.1 95.7 589.3 91.2z"/>
<path class=y d="M462.9 147.9 466.7 151.8 475.4 147.6 471.6 143.8z"/>
<path class=b d="M462.6 101.1 466.5 103.5 475.2 99.2 471.3 96.8z"/>
<path class=g d="M462.6 85.9 466.4 87.9 475.1 85.4 471.2 83.5z"/>
<path class=y d="M559.8 136 564.5 138.2 572.7 136.3 568 134.4z"/>
<path class=b d="M560 89.5 564.6 93.7 572.9 92.4 568.2 88.2z"/>
<path class=g d="M560 88.7 564.6 92.1 572.9 92.6 568.2 89.1z"/>
<path class=y d="M441.9 155.5 445.5 158.7 454.3 152.6 450.6 149.4z"/>
<path class=b d="M441.5 108.4 445.1 110.5 453.9 105.7 450.2 103.6z"/>
<path class=g d="M441.3 90.2 445 91.9 453.8 88.7 450.1 87z"/>
<path class=y d="M538.8 137 543.2 140.3 551.6 137.9 547.1 134.9z"/>
<path class=b d="M538.8 89.3 543.3 93.2 551.7 91.1 547.2 87.3z"/>
<path class=g d="M538.8 85.5 543.3 88.5 551.7 88.5 547.2 85.4z"/>
<path class=y d="M420.9 167.9 424.3 170.6 433.1 162.4 429.6 159.7z"/>
<path class=b d="M420.4 117 423.8 118.7 432.7 113.5 429.2 111.8z"/>
<path class=g d="M420.1 96.1 423.6 97.8 432.5 93.8 429 92.1z"/>
<path class=y d="M517.7 139.2 521.9 143 530.4 139.6 526.1 136.2z"/>
<path class=b d="M517.6 90.9 521.9 94.5 530.4 91.7 526.1 88.2z"/>
<path class=g d="M517.6 83.9 521.9 86.6 530.4 85.9 526.1 83.1z"/>
<path class=y d="M614.9 131.7 620 132.8 628.1 130.9 622.9 130.3z"/>
<path class=g d="M615.2 105.3 620.2 110.1 628.2 111.9 623.1 107z"/>
<path class=b d="M615.2 101.1 620.3 106.5 628.3 107.3 623.2 102z"/>
<path class=y d="M496.5 143.4 500.6 147.6 509.2 143.1 505 139.3z"/>
<path class=b d="M496.4 94.3 500.5 97.5 509.1 94 504.9 90.9z"/>
<path class=g d="M496.4 83.8 500.5 86.2 509.1 84.9 504.9 82.5z"/>
<path class=y d="M593.8 134 598.8 135.4 606.9 133.3 601.9 132.2z"/>
<path class=g d="M594.1 98.2 599 102.5 607.1 103.8 602.2 99.5z"/>
<path class=b d="M594.1 95.7 599 100.8 607.1 100.7 602.2 95.7z"/>
<path class=y d="M475.4 147.6 479.3 152.1 488 147.7 484 143.4z"/>
<path class=b d="M475.2 99.2 479.1 102 487.8 98 483.8 95.2z"/>
<path class=g d="M475.1 85.4 479 87.6 487.7 85.5 483.8 83.4z"/>
<path class=y d="M572.7 136.3 577.5 138.2 585.7 136 580.9 134.5z"/>
<path class=g d="M572.9 92.6 577.7 96.4 585.9 97.2 581.1 93.3z"/>
<path class=b d="M572.9 92.4 577.7 97.1 585.9 96.2 581.1 91.6z"/>
<path class=y d="M454.3 152.6 458 156.7 466.7 151.8 462.9 147.9z"/>
<path class=b d="M453.9 105.7 457.7 108.1 466.5 103.5 462.6 101.1z"/>
<path class=g d="M453.8 88.7 457.5 90.7 466.4 87.9 462.6 85.9z"/>
<path class=y d="M551.6 137.9 556.1 140.5 564.5 138.2 559.8 136z"/>
<path class=b d="M551.7 91.1 556.3 95.4 564.6 93.7 560 89.5z"/>
<path class=g d="M551.7 88.5 556.3 91.8 564.6 92.1 560 88.7z"/>
<path class=y d="M433.1 162.4 436.7 165.5 445.5 158.7 441.9 155.5z"/>
<path class=b d="M432.7 113.5 436.2 115.5 445.1 110.5 441.5 108.4z"/>
<path class=g d="M432.5 93.8 436.1 95.6 445 91.9 441.3 90.2z"/>
<path class=y d="M530.4 139.6 534.8 143.3 543.2 140.3 538.8 137z"/>
<path class=b d="M530.4 91.7 534.8 95.6 543.3 93.2 538.8 89.3z"/>
<path class=g d="M530.4 85.9 534.8 88.9 543.3 88.5 538.8 85.5z"/>
<path class=y d="M628.1 130.9 633.3 134.6 641.3 132 636 128.6z"/>
<path class=g d="M628.2 111.9 633.5 117.1 641.4 119.1 636.2 113.8z"/>
<path class=b d="M628.3 107.3 633.5 113.1 641.5 114.4 636.2 108.6z"/>
<path class=y d="M509.2 143.1 513.4 147.2 521.9 143 517.7 139.2z"/>
<path class=b d="M509.1 94 513.3 97.6 521.9 94.5 517.6 90.9z"/>
<path class=g d="M509.1 84.9 513.3 87.6 521.9 86.6 517.6 83.9z"/>
<path class=y d="M606.9 133.3 611.9 134.7 620 132.8 614.9 131.7z"/>
<path class=g d="M607.1 103.8 612.2 108.5 620.2 110.1 615.2 105.3z"/>
<path class=b d="M607.1 100.7 612.2 106.2 620.3 106.5 615.2 101.1z"/>
<path class=y d="M488 147.7 492 152.2 500.6 147.6 496.5 143.4z"/>
<path class=b d="M487.8 98 491.8 101.2 500.5 97.5 496.4 94.3z"/>
<path class=g d="M487.7 85.5 491.8 87.9 500.5 86.2 496.4 83.8z"/>
<path class=y d="M585.7 136 590.6 137.9 598.8 135.4 593.8 134z"/>
<path class=g d="M585.9 97.2 590.8 101.4 599 102.5 594.1 98.2z"/>
<path class=b d="M585.9 96.2 590.8 101.3 599 100.8 594.1 95.7z"/>
<path class=y d="M466.7 151.8 470.6 156.6 479.3 152.1 475.4 147.6z"/>
<path class=b d="M466.5 103.5 470.3 106.3 479.1 102 475.2 99.2z"/>
<path class=g d="M466.4 87.9 470.2 90 479 87.6 475.1 85.4z"/>
<path class=y d="M564.5 138.2 569.1 140.5 577.5 138.2 572.7 136.3z"/>
<path class=b d="M564.6 93.7 569.3 98.5 577.7 97.1 572.9 92.4z"/>
<path class=g d="M564.6 92.1 569.3 95.8 577.7 96.4 572.9 92.6z"/>
<path class=y d="M445.5 158.7 449.2 162.8 458 156.7 454.3 152.6z"/>
<path class=b d="M445.1 110.5 448.8 112.9 457.7 108.1 453.9 105.7z"/>
<path class=g d="M445 91.9 448.7 93.9 457.5 90.7 453.8 88.7z"/>
<path class=y d="M543.2 140.3 547.7 143.2 556.1 140.5 551.6 137.9z"/>
<path class=b d="M543.3 93.2 547.8 97.6 556.3 95.4 551.7 91.1z"/>
<path class=g d="M543.3 88.5 547.8 91.8 556.3 91.8 551.7 88.5z"/>
<path class=y d="M424.3 170.6 427.8 173.8 436.7 165.5 433.1 162.4z"/>
<path class=b d="M423.8 118.7 427.3 120.8 436.2 115.5 432.7 113.5z"/>
<path class=g d="M423.6 97.8 427.1 99.6 436.1 95.6 432.5 93.8z"/>
<path class=y d="M521.9 143 526.3 147 534.8 143.3 530.4 139.6z"/>
<path class=b d="M521.9 94.5 526.3 98.5 534.8 95.6 530.4 91.7z"/>
<path class=g d="M521.9 86.6 526.3 89.5 534.8 88.9 530.4 85.9z"/>
<path class=y d="M620 132.8 625.2 136.6 633.3 134.6 628.1 130.9z"/>
<path class=g d="M620.2 110.1 625.4 115.2 633.5 117.1 628.2 111.9z"/>
<path class=b d="M620.3 106.5 625.4 112.4 633.5 113.1 628.3 107.3z"/>
<path class=y d="M500.6 147.6 504.8 152.2 513.4 147.2 509.2 143.1z"/>
<path class=b d="M500.5 97.5 504.7 101.1 513.3 97.6 509.1 94z"/>
<path class=g d="M500.5 86.2 504.7 88.9 513.3 87.6 509.1 84.9z"/>
<path class=y d="M598.8 135.4 603.8 137.2 611.9 134.7 606.9 133.3z"/>
<path class=g d="M599 102.5 604 107.1 612.2 108.5 607.1 103.8z"/>
<path class=b d="M599 100.8 604 106.3 612.2 106.2 607.1 100.7z"/>
<path class=y d="M479.3 152.1 483.3 157 492 152.2 488 147.7z"/>
<path class=b d="M479.1 102 483.1 105.3 491.8 101.2 487.8 98z"/>
<path class=g d="M479 87.6 483 90 491.8 87.9 487.7 85.5z"/>
<path class=y d="M577.5 138.2 582.3 140.4 590.6 137.9 585.7 136z"/>
<path class=b d="M577.7 97.1 582.5 102.3 590.8 101.3 585.9 96.2z"/>
<path class=g d="M577.7 96.4 582.5 100.5 590.8 101.4 585.9 97.2z"/>
<path class=y d="M458 156.7 461.8 161.7 470.6 156.6 466.7 151.8z"/>
<path class=b d="M457.7 108.1 461.5 110.9 470.3 106.3 466.5 103.5z"/>
<path class=g d="M457.5 90.7 461.4 92.8 470.2 90 466.4 87.9z"/>
<path class=y d="M556.1 140.5 560.8 143.2 569.1 140.5 564.5 138.2z"/>
<path class=b d="M556.3 95.4 560.9 100.3 569.3 98.5 564.6 93.7z"/>
<path class=g d="M556.3 91.8 560.9 95.5 569.3 95.8 564.6 92.1z"/>
<path class=y d="M436.7 165.5 440.3 169.7 449.2 162.8 445.5 158.7z"/>
<path class=b d="M436.2 115.5 439.9 118 448.8 112.9 445.1 110.5z"/>
<path class=g d="M436.1 95.6 439.7 97.5 448.7 93.9 445 91.9z"/>
<path class=y d="M534.8 143.3 539.2 146.6 547.7 143.2 543.2 140.3z"/>
<path class=b d="M534.8 95.6 539.3 100.1 547.8 97.6 543.3 93.2z"/>
<path class=g d="M534.8 88.9 539.3 92.1 547.8 91.8 543.3 88.5z"/>
<path class=y d="M633.3 134.6 638.5 142 646.6 139.3 641.3 132z"/>
<path class=g d="M633.5 117.1 638.7 122.7 646.7 124.8 641.4 119.1z"/>
<path class=b d="M633.5 113.1 638.8 119.6 646.8 120.7 641.5 114.4z"/>
<path class=y d="M513.4 147.2 517.7 151.7 526.3 147 521.9 143z"/>
<path class=b d="M513.3 97.6 517.6 101.7 526.3 98.5 521.9 94.5z"/>
<path class=g d="M513.3 87.6 517.6 90.5 526.3 89.5 521.9 86.6z"/>
<path class=y d="M611.9 134.7 617.1 138.8 625.2 136.6 620 132.8z"/>
<path class=g d="M612.2 108.5 617.3 113.5 625.4 115.2 620.2 110.1z"/>
<path class=b d="M612.2 106.2 617.3 112.2 625.4 112.4 620.3 106.5z"/>
<path class=y d="M492 152.2 496.1 157.2 504.8 152.2 500.6 147.6z"/>
<path class=b d="M491.8 101.2 496 104.9 504.7 101.1 500.5 97.5z"/>
<path class=g d="M491.8 87.9 495.9 90.5 504.7 88.9 500.5 86.2z"/>
<path class=y d="M590.6 137.9 595.5 140.1 603.8 137.2 598.8 135.4z"/>
<path class=g d="M590.8 101.4 595.7 105.9 604 107.1 599 102.5z"/>
<path class=b d="M590.8 101.3 595.7 107 604 106.3 599 100.8z"/>
<path class=y d="M470.6 156.6 474.5 161.8 483.3 157 479.3 152.1z"/>
<path class=b d="M470.3 106.3 474.3 109.6 483.1 105.3 479.1 102z"/>
<path class=g d="M470.2 90 474.2 92.4 483 90 479 87.6z"/>
<path class=y d="M569.1 140.5 573.9 143.1 582.3 140.4 577.5 138.2z"/>
<path class=b d="M569.3 98.5 574.1 103.8 582.5 102.3 577.7 97.1z"/>
<path class=g d="M569.3 95.8 574.1 99.8 582.5 100.5 577.7 96.4z"/>
<path class=y d="M449.2 162.8 452.9 168 461.8 161.7 458 156.7z"/>
<path class=b d="M448.8 112.9 452.6 115.8 461.5 110.9 457.7 108.1z"/>
<path class=g d="M448.7 93.9 452.4 96 461.4 92.8 457.5 90.7z"/>
<path class=y d="M547.7 143.2 552.3 146.3 560.8 143.2 556.1 140.5z"/>
<path class=b d="M547.8 97.6 552.4 102.5 560.9 100.3 556.3 95.4z"/>
<path class=g d="M547.8 91.8 552.4 95.4 560.9 95.5 556.3 91.8z"/>
<path class=y d="M427.8 173.8 431.4 178.2 440.3 169.7 436.7 165.5z"/>
<path class=b d="M427.3 120.8 430.9 123.2 439.9 118 436.2 115.5z"/>
<path class=g d="M427.1 99.6 430.7 101.6 439.7 97.5 436.1 95.6z"/>
<path class=y d="M526.3 147 530.7 150.8 539.2 146.6 534.8 143.3z"/>
<path class=b d="M526.3 98.5 530.7 103 539.3 100.1 534.8 95.6z"/>
<path class=g d="M526.3 89.5 530.7 92.7 539.3 92.1 534.8 88.9z"/>
<path class=y d="M625.2 136.6 630.4 144.1 638.5 142 633.3 134.6z"/>
<path class=g d="M625.4 115.2 630.7 120.7 638.7 122.7 633.5 117.1z"/>
<path class=b d="M625.4 112.4 630.7 118.9 638.8 119.6 633.5 113.1z"/>
<path class=y d="M504.8 152.2 509 157.1 517.7 151.7 513.4 147.2z"/>
<path class=b d="M504.7 101.1 508.9 105.2 517.6 101.7 513.3 97.6z"/>
<path class=g d="M504.7 88.9 508.9 91.7 517.6 90.5 513.3 87.6z"/>
<path class=y d="M603.8 137.2 608.8 141.6 617.1 138.8 611.9 134.7z"/>
<path class=g d="M604 107.1 609.1 112 617.3 113.5 612.2 108.5z"/>
<path class=b d="M604 106.3 609.1 112.5 617.3 112.2 612.2 106.2z"/>
<path class=y d="M483.3 157 487.4 162.3 496.1 157.2 492 152.2z"/>
<path class=b d="M483.1 105.3 487.2 109 496 104.9 491.8 101.2z"/>
<path class=g d="M483 90 487.1 92.5 495.9 90.5 491.8 87.9z"/>
<path class=y d="M582.3 140.4 587.2 143 595.5 140.1 590.6 137.9z"/>
<path class=b d="M582.5 102.3 587.4 108.1 595.7 107 590.8 101.3z"/>
<path class=g d="M582.5 100.5 587.4 104.9 595.7 105.9 590.8 101.4z"/>
<path class=y d="M461.8 161.7 465.7 167.1 474.5 161.8 470.6 156.6z"/>
<path class=b d="M461.5 110.9 465.4 114.2 474.3 109.6 470.3 106.3z"/>
<path class=g d="M461.4 92.8 465.2 95.2 474.2 92.4 470.2 90z"/>
<path class=y d="M560.8 143.2 565.5 146.2 573.9 143.1 569.1 140.5z"/>
<path class=b d="M560.9 100.3 565.6 105.6 574.1 103.8 569.3 98.5z"/>
<path class=g d="M560.9 95.5 565.7 99.5 574.1 99.8 569.3 95.8z"/>
<path class=y d="M440.3 169.7 444 175 452.9 168 449.2 162.8z"/>
<path class=b d="M439.9 118 443.6 120.8 452.6 115.8 448.8 112.9z"/>
<path class=g d="M439.7 97.5 443.4 99.7 452.4 96 448.7 93.9z"/>
<path class=y d="M539.2 146.6 543.8 150.2 552.3 146.3 547.7 143.2z"/>
<path class=b d="M539.3 100.1 543.8 105 552.4 102.5 547.8 97.6z"/>
<path class=g d="M539.3 92.1 543.9 95.7 552.4 95.4 547.8 91.8z"/>
<path class=y d="M638.5 142 643.8 153.5 651.9 150.9 646.6 139.3z"/>
<path class=g d="M638.7 122.7 644.1 128.6 652.1 130.9 646.7 124.8z"/>
<path class=b d="M638.8 119.6 644.1 126.6 652.2 127.6 646.8 120.7z"/>
<path class=y d="M517.7 151.7 522 156 530.7 150.8 526.3 147z"/>
<path class=b d="M517.6 101.7 522 106.2 530.7 103 526.3 98.5z"/>
<path class=g d="M517.6 90.5 522 93.6 530.7 92.7 526.3 89.5z"/>
<path class=y d="M617.1 138.8 622.2 146.3 630.4 144.1 625.2 136.6z"/>
<path class=g d="M617.3 113.5 622.5 118.9 630.7 120.7 625.4 115.2z"/>
<path class=b d="M617.3 112.2 622.5 118.8 630.7 118.9 625.4 112.4z"/>
<path class=y d="M496.1 157.2 500.3 162.6 509 157.1 504.8 152.2z"/>
<path class=b d="M496 104.9 500.2 109 508.9 105.2 504.7 101.1z"/>
<path class=g d="M495.9 90.5 500.1 93.4 508.9 91.7 504.7 88.9z"/>
<path class=y d="M595.5 140.1 600.5 144.7 608.8 141.6 603.8 137.2z"/>
<path class=b d="M595.7 107 600.8 113.2 609.1 112.5 604 106.3z"/>
<path class=g d="M595.7 105.9 600.8 110.7 609.1 112 604 107.1z"/>
<path class=y d="M474.5 161.8 478.5 167.4 487.4 162.3 483.3 157z"/>
<path class=b d="M474.3 109.6 478.3 113.3 487.2 109 483.1 105.3z"/>
<path class=g d="M474.2 92.4 478.2 94.9 487.1 92.5 483 90z"/>
<path class=y d="M573.9 143.1 578.8 146.1 587.2 143 582.3 140.4z"/>
<path class=b d="M574.1 103.8 579 109.6 587.4 108.1 582.5 102.3z"/>
<path class=g d="M574.1 99.8 579 104.2 587.4 104.9 582.5 100.5z"/>
<path class=y d="M452.9 168 456.8 173.5 465.7 167.1 461.8 161.7z"/>
<path class=b d="M452.6 115.8 456.4 119.1 465.4 114.2 461.5 110.9z"/>
<path class=g d="M452.4 96 456.2 98.4 465.2 95.2 461.4 92.8z"/>
<path class=y d="M552.3 146.3 557 149.8 565.5 146.2 560.8 143.2z"/>
<path class=b d="M552.4 102.5 557.1 107.9 565.6 105.6 560.9 100.3z"/>
<path class=g d="M552.4 95.4 557.1 99.3 565.7 99.5 560.9 95.5z"/>
<path class=y d="M431.4 178.2 435 183.6 444 175 440.3 169.7z"/>
<path class=b d="M430.9 123.2 434.5 126.1 443.6 120.8 439.9 118z"/>
<path class=g d="M430.7 101.6 434.3 103.7 443.4 99.7 439.7 97.5z"/>
<path class=y d="M530.7 150.8 535.2 154.8 543.8 150.2 539.2 146.6z"/>
<path class=b d="M530.7 103 535.2 108 543.8 105 539.3 100.1z"/>
<path class=g d="M530.7 92.7 535.2 96.2 543.9 95.7 539.3 92.1z"/>
<path class=y d="M630.4 144.1 635.7 155.5 643.8 153.5 638.5 142z"/>
<path class=g d="M630.7 120.7 636 126.6 644.1 128.6 638.7 122.7z"/>
<path class=b d="M630.7 118.9 636 126.1 644.1 126.6 638.8 119.6z"/>
<path class=y d="M509 157.1 513.3 161.9 522 156 517.7 151.7z"/>
<path class=b d="M508.9 105.2 513.3 109.8 522 106.2 517.6 101.7z"/>
<path class=g d="M508.9 91.7 513.2 94.9 522 93.6 517.6 90.5z"/>
<path class=y d="M608.8 141.6 614 149.1 622.2 146.3 617.1 138.8z"/>
<path class=b d="M609.1 112.5 614.2 119.2 622.5 118.8 617.3 112.2z"/>
<path class=g d="M609.1 112 614.2 117.3 622.5 118.9 617.3 113.5z"/>
<path class=y d="M487.4 162.3 491.5 168 500.3 162.6 496.1 157.2z"/>
<path class=b d="M487.2 109 491.3 113.1 500.2 109 496 104.9z"/>
<path class=g d="M487.1 92.5 491.2 95.4 500.1 93.4 495.9 90.5z"/>
<path class=y d="M587.2 143 592.1 147.8 600.5 144.7 595.5 140.1z"/>
<path class=b d="M587.4 108.1 592.4 114.4 600.8 113.2 595.7 107z"/>
<path class=g d="M587.4 104.9 592.4 109.7 600.8 110.7 595.7 105.9z"/>
<path class=y d="M465.7 167.1 469.6 173 478.5 167.4 474.5 161.8z"/>
<path class=b d="M465.4 114.2 469.3 118 478.3 113.3 474.3 109.6z"/>
<path class=g d="M465.2 95.2 469.2 97.7 478.2 94.9 474.2 92.4z"/>
<path class=y d="M565.5 146.2 570.3 149.7 578.8 146.1 573.9 143.1z"/>
<path class=b d="M565.6 105.6 570.4 111.5 579 109.6 574.1 103.8z"/>
<path class=g d="M565.7 99.5 570.5 103.7 579 104.2 574.1 99.8z"/>
<path class=y d="M444 175 447.8 180.6 456.8 173.5 452.9 168z"/>
<path class=b d="M443.6 120.8 447.3 124.2 456.4 119.1 452.6 115.8z"/>
<path class=g d="M443.4 99.7 447.2 102 456.2 98.4 452.4 96z"/>
<path class=y d="M543.8 150.2 548.4 154.1 557 149.8 552.3 146.3z"/>
<path class=b d="M543.8 105 548.5 110.5 557.1 107.9 552.4 102.5z"/>
<path class=g d="M543.9 95.7 548.5 99.5 557.1 99.3 552.4 95.4z"/>
<path class=y d="M522 156 526.5 160.5 535.2 154.8 530.7 150.8z"/>
<path class=b d="M522 106.2 526.5 111.3 535.2 108 530.7 103z"/>
<path class=g d="M522 93.6 526.5 97.1 535.2 96.2 530.7 92.7z"/>
<path class=y d="M622.2 146.3 627.4 157.6 635.7 155.5 630.4 144.1z"/>
<path class=g d="M622.5 118.9 627.8 124.7 636 126.6 630.7 120.7z"/>
<path class=b d="M622.5 118.8 627.8 126.1 636 126.1 630.7 118.9z"/>
<path class=y d="M500.3 162.6 504.5 167.9 513.3 161.9 509 157.1z"/>
<path class=b d="M500.2 109 504.4 113.7 513.3 109.8 508.9 105.2z"/>
<path class=g d="M500.1 93.4 504.4 96.5 513.2 94.9 508.9 91.7z"/>
<path class=y d="M600.5 144.7 605.6 152.2 614 149.1 608.8 141.6z"/>
<path class=b d="M600.8 113.2 605.9 120 614.2 119.2 609.1 112.5z"/>
<path class=g d="M600.8 110.7 605.9 115.9 614.2 117.3 609.1 112z"/>
<path class=y d="M478.5 167.4 482.6 173.5 491.5 168 487.4 162.3z"/>
<path class=b d="M478.3 113.3 482.4 117.6 491.3 113.1 487.2 109z"/>
<path class=g d="M478.2 94.9 482.3 97.7 491.2 95.4 487.1 92.5z"/>
<path class=y d="M578.8 146.1 583.7 151.3 592.1 147.8 587.2 143z"/>
<path class=b d="M579 109.6 583.9 116 592.4 114.4 587.4 108.1z"/>
<path class=g d="M579 104.2 583.9 108.9 592.4 109.7 587.4 104.9z"/>
<path class=y d="M456.8 173.5 460.6 179.6 469.6 173 465.7 167.1z"/>
<path class=b d="M456.4 119.1 460.3 122.9 469.3 118 465.4 114.2z"/>
<path class=g d="M456.2 98.4 460.1 100.9 469.2 97.7 465.2 95.2z"/>
<path class=y d="M557 149.8 561.7 153.8 570.3 149.7 565.5 146.2z"/>
<path class=b d="M557.1 107.9 561.9 113.9 570.4 111.5 565.6 105.6z"/>
<path class=g d="M557.1 99.3 561.9 103.5 570.5 103.7 565.7 99.5z"/>
<path class=y d="M435 183.6 438.7 189.5 447.8 180.6 444 175z"/>
<path class=b d="M434.5 126.1 438.2 129.4 447.3 124.2 443.6 120.8z"/>
<path class=g d="M434.3 103.7 438 106.1 447.2 102 443.4 99.7z"/>
<path class=y d="M535.2 154.8 539.7 159.2 548.4 154.1 543.8 150.2z"/>
<path class=b d="M535.2 108 539.8 113.6 548.5 110.5 543.8 105z"/>
<path class=g d="M535.2 96.2 539.8 100 548.5 99.5 543.9 95.7z"/>
<path class=y d="M513.3 161.9 517.7 167 526.5 160.5 522 156z"/>
<path class=b d="M513.3 109.8 517.7 114.9 526.5 111.3 522 106.2z"/>
<path class=g d="M513.2 94.9 517.6 98.3 526.5 97.1 522 93.6z"/>
<path class=y d="M614 149.1 619.1 160.4 627.4 157.6 622.2 146.3z"/>
<path class=b d="M614.2 119.2 619.5 126.6 627.8 126.1 622.5 118.8z"/>
<path class=g d="M614.2 117.3 619.5 123 627.8 124.7 622.5 118.9z"/>
<path class=y d="M491.5 168 495.7 173.8 504.5 167.9 500.3 162.6z"/>
<path class=b d="M491.3 113.1 495.5 117.9 504.4 113.7 500.2 109z"/>
<path class=g d="M491.2 95.4 495.4 98.4 504.4 96.5 500.1 93.4z"/>
<path class=y d="M592.1 147.8 597.2 155.5 605.6 152.2 600.5 144.7z"/>
<path class=b d="M592.4 114.4 597.4 121.3 605.9 120 600.8 113.2z"/>
<path class=g d="M592.4 109.7 597.5 114.8 605.9 115.9 600.8 110.7z"/>
<path class=y d="M469.6 173 473.6 179.4 482.6 173.5 478.5 167.4z"/>
<path class=b d="M469.3 118 473.3 122.2 482.4 117.6 478.3 113.3z"/>
<path class=g d="M469.2 97.7 473.2 100.5 482.3 97.7 478.2 94.9z"/>
<path class=y d="M570.3 149.7 575.2 155.1 583.7 151.3 578.8 146.1z"/>
<path class=b d="M570.4 111.5 575.3 118 583.9 116 579 109.6z"/>
<path class=g d="M570.5 103.7 575.4 108.3 583.9 108.9 579 104.2z"/>
<path class=y d="M447.8 180.6 451.6 186.9 460.6 179.6 456.8 173.5z"/>
<path class=b d="M447.3 124.2 451.2 128 460.3 122.9 456.4 119.1z"/>
<path class=g d="M447.2 102 451 104.5 460.1 100.9 456.2 98.4z"/>
<path class=y d="M548.4 154.1 553.1 158.5 561.7 153.8 557 149.8z"/>
<path class=b d="M548.5 110.5 553.2 116.6 561.9 113.9 557.1 107.9z"/>
<path class=g d="M548.5 99.5 553.2 103.6 561.9 103.5 557.1 99.3z"/>
<path class=y d="M526.5 160.5 531 165.5 539.7 159.2 535.2 154.8z"/>
<path class=b d="M526.5 111.3 531 116.9 539.8 113.6 535.2 108z"/>
<path class=g d="M526.5 97.1 531 100.8 539.8 100 535.2 96.2z"/>
<path class=y d="M504.5 167.9 508.9 173.5 517.7 167 513.3 161.9z"/>
<path class=b d="M504.4 113.7 508.8 118.9 517.7 114.9 513.3 109.8z"/>
<path class=g d="M504.4 96.5 508.7 99.8 517.6 98.3 513.2 94.9z"/>
<path class=y d="M605.6 152.2 610.7 163.5 619.1 160.4 614 149.1z"/>
<path class=b d="M605.9 120 611.1 127.5 619.5 126.6 614.2 119.2z"/>
<path class=g d="M605.9 115.9 611.1 121.5 619.5 123 614.2 117.3z"/>
<path class=y d="M482.6 173.5 486.7 179.7 495.7 173.8 491.5 168z"/>
<path class=b d="M482.4 117.6 486.5 122.3 495.5 117.9 491.3 113.1z"/>
<path class=g d="M482.3 97.7 486.4 100.8 495.4 98.4 491.2 95.4z"/>
<path class=y d="M583.7 151.3 588.7 159 597.2 155.5 592.1 147.8z"/>
<path class=b d="M583.9 116 588.9 123.1 597.4 121.3 592.4 114.4z"/>
<path class=g d="M583.9 108.9 589 113.9 597.5 114.8 592.4 109.7z"/>
<path class=y d="M460.6 179.6 464.6 186.2 473.6 179.4 469.6 173z"/>
<path class=b d="M460.3 122.9 464.2 127.2 473.3 122.2 469.3 118z"/>
<path class=g d="M460.1 100.9 464.1 103.7 473.2 100.5 469.2 97.7z"/>
<path class=y d="M561.7 153.8 566.5 159.5 575.2 155.1 570.3 149.7z"/>
<path class=b d="M561.9 113.9 566.7 120.5 575.3 118 570.4 111.5z"/>
<path class=g d="M561.9 103.5 566.7 108.1 575.4 108.3 570.5 103.7z"/>
<path class=y d="M438.7 189.5 442.5 196.1 451.6 186.9 447.8 180.6z"/>
<path class=b d="M438.2 129.4 442 133.3 451.2 128 447.3 124.2z"/>
<path class=g d="M438 106.1 441.8 108.6 451 104.5 447.2 102z"/>
<path class=y d="M539.7 159.2 544.3 164.1 553.1 158.5 548.4 154.1z"/>
<path class=b d="M539.8 113.6 544.4 119.7 553.2 116.6 548.5 110.5z"/>
<path class=g d="M539.8 100 544.5 104.1 553.2 103.6 548.5 99.5z"/>
<path class=y d="M517.7 167 522.1 172.6 531 165.5 526.5 160.5z"/>
<path class=b d="M517.7 114.9 522.1 120.7 531 116.9 526.5 111.3z"/>
<path class=g d="M517.6 98.3 522.1 101.9 531 100.8 526.5 97.1z"/>
<path class=y d="M495.7 173.8 499.9 179.9 508.9 173.5 504.5 167.9z"/>
<path class=b d="M495.5 117.9 499.8 123.1 508.8 118.9 504.4 113.7z"/>
<path class=g d="M495.4 98.4 499.7 101.7 508.7 99.8 504.4 96.5z"/>
<path class=y d="M597.2 155.5 602.3 166.7 610.7 163.5 605.6 152.2z"/>
<path class=b d="M597.4 121.3 602.6 128.9 611.1 127.5 605.9 120z"/>
<path class=g d="M597.5 114.8 602.6 120.3 611.1 121.5 605.9 115.9z"/>
<path class=y d="M473.6 179.4 477.7 186 486.7 179.7 482.6 173.5z"/>
<path class=b d="M473.3 122.2 477.4 127.1 486.5 122.3 482.4 117.6z"/>
<path class=g d="M473.2 100.5 477.3 103.5 486.4 100.8 482.3 97.7z"/>
<path class=y d="M575.2 155.1 580.1 162.9 588.7 159 583.7 151.3z"/>
<path class=b d="M575.3 118 580.3 125.2 588.9 123.1 583.9 116z"/>
<path class=g d="M575.4 108.3 580.4 113.3 589 113.9 583.9 108.9z"/>
<path class=y d="M451.6 186.9 455.5 193.8 464.6 186.2 460.6 179.6z"/>
<path class=b d="M451.2 128 455.1 132.3 464.2 127.2 460.3 122.9z"/>
<path class=g d="M451 104.5 454.9 107.3 464.1 103.7 460.1 100.9z"/>
<path class=y d="M553.1 158.5 557.8 164.6 566.5 159.5 561.7 153.8z"/>
<path class=b d="M553.2 116.6 558 123.3 566.7 120.5 561.9 113.9z"/>
<path class=g d="M553.2 103.6 558 108.1 566.7 108.1 561.9 103.5z"/>
<path class=y d="M531 165.5 535.5 170.9 544.3 164.1 539.7 159.2z"/>
<path class=b d="M531 116.9 535.6 123.2 544.4 119.7 539.8 113.6z"/>
<path class=g d="M531 100.8 535.6 104.8 544.5 104.1 539.8 100z"/>
<path class=y d="M508.9 173.5 513.2 179.6 522.1 172.6 517.7 167z"/>
<path class=b d="M508.8 118.9 513.2 124.7 522.1 120.7 517.7 114.9z"/>
<path class=g d="M508.7 99.8 513.1 103.4 522.1 101.9 517.6 98.3z"/>
<path class=y d="M486.7 179.7 490.9 186.3 499.9 179.9 495.7 173.8z"/>
<path class=b d="M486.5 122.3 490.7 127.7 499.8 123.1 495.5 117.9z"/>
<path class=g d="M486.4 100.8 490.6 104 499.7 101.7 495.4 98.4z"/>
<path class=y d="M588.7 159 593.7 170.1 602.3 166.7 597.2 155.5z"/>
<path class=b d="M588.9 123.1 594 130.8 602.6 128.9 597.4 121.3z"/>
<path class=g d="M589 113.9 594.1 119.3 602.6 120.3 597.5 114.8z"/>
<path class=y d="M464.6 186.2 468.6 193.1 477.7 186 473.6 179.4z"/>
<path class=b d="M464.2 127.2 468.3 132 477.4 127.1 473.3 122.2z"/>
<path class=g d="M464.1 103.7 468.1 106.7 477.3 103.5 473.2 100.5z"/>
<path class=y d="M566.5 159.5 571.4 167.5 580.1 162.9 575.2 155.1z"/>
<path class=b d="M566.7 120.5 571.6 127.8 580.3 125.2 575.3 118z"/>
<path class=g d="M566.7 108.1 571.7 112.9 580.4 113.3 575.4 108.3z"/>
<path class=y d="M442.5 196.1 446.3 203.2 455.5 193.8 451.6 186.9z"/>
<path class=b d="M442 133.3 445.8 137.7 455.1 132.3 451.2 128z"/>
<path class=g d="M441.8 108.6 445.6 111.3 454.9 107.3 451 104.5z"/>
<path class=y d="M544.3 164.1 549.1 170.5 557.8 164.6 553.1 158.5z"/>
<path class=b d="M544.4 119.7 549.2 126.5 558 123.3 553.2 116.6z"/>
<path class=g d="M544.5 104.1 549.2 108.5 558 108.1 553.2 103.6z"/>
<path class=y d="M522.1 172.6 526.7 178.7 535.5 170.9 531 165.5z"/>
<path class=b d="M522.1 120.7 526.7 127 535.6 123.2 531 116.9z"/>
<path class=g d="M522.1 101.9 526.7 105.9 535.6 104.8 531 100.8z"/>
<path class=y d="M499.9 179.9 504.3 186.5 513.2 179.6 508.9 173.5z"/>
<path class=b d="M499.8 123.1 504.1 129 513.2 124.7 508.8 118.9z"/>
<path class=g d="M499.7 101.7 504.1 105.3 513.1 103.4 508.7 99.8z"/>
<path class=y d="M477.7 186 481.9 192.9 490.9 186.3 486.7 179.7z"/>
<path class=b d="M477.4 127.1 481.6 132.5 490.7 127.7 486.5 122.3z"/>
<path class=g d="M477.3 103.5 481.5 106.7 490.6 104 486.4 100.8z"/>
<path class=y d="M580.1 162.9 585.1 174.1 593.7 170.1 588.7 159z"/>
<path class=b d="M580.3 125.2 585.3 133 594 130.8 588.9 123.1z"/>
<path class=g d="M580.4 113.3 585.4 118.6 594.1 119.3 589 113.9z"/>
<path class=y d="M455.5 193.8 459.5 200.9 468.6 193.1 464.6 186.2z"/>
<path class=b d="M455.1 132.3 459 137.2 468.3 132 464.2 127.2z"/>
<path class=g d="M454.9 107.3 458.8 110.3 468.1 106.7 464.1 103.7z"/>
<path class=y d="M557.8 164.6 562.7 172.7 571.4 167.5 566.5 159.5z"/>
<path class=b d="M558 123.3 562.8 130.7 571.6 127.8 566.7 120.5z"/>
<path class=g d="M558 108.1 562.9 112.9 571.7 112.9 566.7 108.1z"/>
<path class=y d="M535.5 170.9 540.2 177.8 549.1 170.5 544.3 164.1z"/>
<path class=b d="M535.6 123.2 540.3 130.1 549.2 126.5 544.4 119.7z"/>
<path class=g d="M535.6 104.8 540.3 109.1 549.2 108.5 544.5 104.1z"/>
<path class=y d="M513.2 179.6 517.7 186.2 526.7 178.7 522.1 172.6z"/>
<path class=b d="M513.2 124.7 517.7 131.1 526.7 127 522.1 120.7z"/>
<path class=g d="M513.1 103.4 517.6 107.3 526.7 105.9 522.1 101.9z"/>
<path class=y d="M490.9 186.3 495.2 193.3 504.3 186.5 499.9 179.9z"/>
<path class=b d="M490.7 127.7 495 133.6 504.1 129 499.8 123.1z"/>
<path class=g d="M490.6 104 494.9 107.6 504.1 105.3 499.7 101.7z"/>
<path class=y d="M468.6 193.1 472.7 200.4 481.9 192.9 477.7 186z"/>
<path class=b d="M468.3 132 472.4 137.5 481.6 132.5 477.4 127.1z"/>
<path class=g d="M468.1 106.7 472.2 109.9 481.5 106.7 477.3 103.5z"/>
<path class=y d="M571.4 167.5 576.4 178.6 585.1 174.1 580.1 162.9z"/>
<path class=b d="M571.6 127.8 576.6 135.7 585.3 133 580.3 125.2z"/>
<path class=g d="M571.7 112.9 576.7 118.2 585.4 118.6 580.4 113.3z"/>
<path class=y d="M446.3 203.2 450.2 210.7 459.5 200.9 455.5 193.8z"/>
<path class=b d="M445.8 137.7 449.7 142.6 459 137.2 455.1 132.3z"/>
<path class=g d="M445.6 111.3 449.5 114.3 458.8 110.3 454.9 107.3z"/>
<path class=y d="M549.1 170.5 553.9 178.7 562.7 172.7 557.8 164.6z"/>
<path class=b d="M549.2 126.5 554 134 562.8 130.7 558 123.3z"/>
<path class=g d="M549.2 108.5 554 113.2 562.9 112.9 558 108.1z"/>
<path class=y d="M526.7 178.7 531.3 186 540.2 177.8 535.5 170.9z"/>
<path class=b d="M526.7 127 531.3 134 540.3 130.1 535.6 123.2z"/>
<path class=g d="M526.7 105.9 531.3 110.2 540.3 109.1 535.6 104.8z"/>
<path class=y d="M504.3 186.5 508.7 193.7 517.7 186.2 513.2 179.6z"/>
<path class=b d="M504.1 129 508.6 135.5 517.7 131.1 513.2 124.7z"/>
<path class=g d="M504.1 105.3 508.5 109.2 517.6 107.3 513.1 103.4z"/>
<path class=y d="M481.9 192.9 486.1 200.4 495.2 193.3 490.9 186.3z"/>
<path class=b d="M481.6 132.5 485.8 138.5 495 133.6 490.7 127.7z"/>
<path class=g d="M481.5 106.7 485.7 110.3 494.9 107.6 490.6 104z"/>
<path class=y d="M459.5 200.9 463.5 208.5 472.7 200.4 468.6 193.1z"/>
<path class=b d="M459 137.2 463.1 142.8 472.4 137.5 468.3 132z"/>
<path class=g d="M458.8 110.3 462.9 113.5 472.2 109.9 468.1 106.7z"/>
<path class=y d="M562.7 172.7 567.6 183.8 576.4 178.6 571.4 167.5z"/>
<path class=b d="M562.8 130.7 567.8 138.8 576.6 135.7 571.6 127.8z"/>
<path class=g d="M562.9 112.9 567.9 118 576.7 118.2 571.7 112.9z"/>
<path class=y d="M540.2 177.8 544.9 186.3 553.9 178.7 549.1 170.5z"/>
<path class=b d="M540.3 130.1 545 137.7 554 134 549.2 126.5z"/>
<path class=g d="M540.3 109.1 545.1 113.8 554 113.2 549.2 108.5z"/>
<path class=y d="M517.7 186.2 522.3 194 531.3 186 526.7 178.7z"/>
<path class=b d="M517.7 131.1 522.2 138.2 531.3 134 526.7 127z"/>
<path class=g d="M517.6 107.3 522.2 111.5 531.3 110.2 526.7 105.9z"/>
<path class=y d="M495.2 193.3 499.6 201 508.7 193.7 504.3 186.5z"/>
<path class=b d="M495 133.6 499.4 140.2 508.6 135.5 504.1 129z"/>
<path class=g d="M494.9 107.6 499.3 111.4 508.5 109.2 504.1 105.3z"/>
<path class=y d="M472.7 200.4 476.9 208.1 486.1 200.4 481.9 192.9z"/>
<path class=b d="M472.4 137.5 476.6 143.6 485.8 138.5 481.6 132.5z"/>
<path class=g d="M472.2 109.9 476.4 113.4 485.7 110.3 481.5 106.7z"/>
<path class=y d="M450.2 210.7 454.2 218.6 463.5 208.5 459.5 200.9z"/>
<path class=b d="M449.7 142.6 453.7 148.2 463.1 142.8 459 137.2z"/>
<path class=g d="M449.5 114.3 453.5 117.5 462.9 113.5 458.8 110.3z"/>
<path class=y d="M553.9 178.7 558.7 189.8 567.6 183.8 562.7 172.7z"/>
<path class=b d="M554 134 558.9 142.2 567.8 138.8 562.8 130.7z"/>
<path class=g d="M554 113.2 558.9 118.2 567.9 118 562.9 112.9z"/>
<path class=y d="M531.3 186 535.9 194.7 544.9 186.3 540.2 177.8z"/>
<path class=b d="M531.3 134 536 141.7 545 137.7 540.3 130.1z"/>
<path class=g d="M531.3 110.2 536 114.7 545.1 113.8 540.3 109.1z"/>
<path class=y d="M508.7 193.7 513.2 201.8 522.3 194 517.7 186.2z"/>
<path class=b d="M508.6 135.5 513.1 142.7 522.2 138.2 517.7 131.1z"/>
<path class=g d="M508.5 109.2 513.1 113.3 522.2 111.5 517.6 107.3z"/>
<path class=y d="M486.1 200.4 490.4 208.6 499.6 201 495.2 193.3z"/>
<path class=b d="M485.8 138.5 490.2 145.2 499.4 140.2 495 133.6z"/>
<path class=g d="M485.7 110.3 490 114 499.3 111.4 494.9 107.6z"/>
<path class=y d="M463.5 208.5 467.6 216.6 476.9 208.1 472.7 200.4z"/>
<path class=b d="M463.1 142.8 467.2 148.9 476.6 143.6 472.4 137.5z"/>
<path class=g d="M462.9 113.5 467 116.9 476.4 113.4 472.2 109.9z"/>
<path class=y d="M544.9 186.3 549.7 197.5 558.7 189.8 553.9 178.7z"/>
<path class=b d="M545 137.7 549.9 146 558.9 142.2 554 134z"/>
<path class=g d="M545.1 113.8 549.9 118.8 558.9 118.2 554 113.2z"/>
<path class=y d="M522.3 194 526.9 202.9 535.9 194.7 531.3 186z"/>
<path class=b d="M522.2 138.2 526.9 146 536 141.7 531.3 134z"/>
<path class=g d="M522.2 111.5 526.9 116.1 536 114.7 531.3 110.2z"/>
<path class=y d="M499.6 201 504 209.5 513.2 201.8 508.7 193.7z"/>
<path class=b d="M499.4 140.2 503.9 147.5 513.1 142.7 508.6 135.5z"/>
<path class=g d="M499.3 111.4 503.8 115.5 513.1 113.3 508.5 109.2z"/>
<path class=y d="M476.9 208.1 481.1 216.7 490.4 208.6 486.1 200.4z"/>
<path class=b d="M476.6 143.6 480.8 150.3 490.2 145.2 485.8 138.5z"/>
<path class=g d="M476.4 113.4 480.7 117.1 490 114 485.7 110.3z"/>
<path class=y d="M454.2 218.6 458.2 227.1 467.6 216.6 463.5 208.5z"/>
<path class=b d="M453.7 148.2 457.7 154.4 467.2 148.9 463.1 142.8z"/>
<path class=g d="M453.5 117.5 457.5 121 467 116.9 462.9 113.5z"/>
<path class=y d="M535.9 194.7 540.7 206.1 549.7 197.5 544.9 186.3z"/>
<path class=b d="M536 141.7 540.8 150.1 549.9 146 545 137.7z"/>
<path class=g d="M536 114.7 540.8 119.7 549.9 118.8 545.1 113.8z"/>
<path class=y d="M513.2 201.8 517.7 210.9 526.9 202.9 522.3 194z"/>
<path class=b d="M513.1 142.7 517.7 150.6 526.9 146 522.2 138.2z"/>
<path class=g d="M513.1 113.3 517.7 117.8 526.9 116.1 522.2 111.5z"/>
<path class=y d="M490.4 208.6 494.8 217.3 504 209.5 499.6 201z"/>
<path class=b d="M490.2 145.2 494.5 152.5 503.9 147.5 499.4 140.2z"/>
<path class=g d="M490 114 494.4 118.1 503.8 115.5 499.3 111.4z"/>
<path class=y d="M467.6 216.6 471.8 225.4 481.1 216.7 476.9 208.1z"/>
<path class=b d="M467.2 148.9 471.4 155.7 480.8 150.3 476.6 143.6z"/>
<path class=g d="M467 116.9 471.2 120.7 480.7 117.1 476.4 113.4z"/>
<path class=y d="M526.9 202.9 531.6 214.3 540.7 206.1 535.9 194.7z"/>
<path class=b d="M526.9 146 531.6 154.6 540.8 150.1 536 141.7z"/>
<path class=g d="M526.9 116.1 531.6 120.9 540.8 119.7 536 114.7z"/>
<path class=y d="M504 209.5 508.5 218.7 517.7 210.9 513.2 201.8z"/>
<path class=b d="M503.9 147.5 508.4 155.5 517.7 150.6 513.1 142.7z"/>
<path class=g d="M503.8 115.5 508.3 119.9 517.7 117.8 513.1 113.3z"/>
<path class=y d="M481.1 216.7 485.4 225.6 494.8 217.3 490.4 208.6z"/>
<path class=b d="M480.8 150.3 485.1 157.8 494.5 152.5 490.2 145.2z"/>
<path class=g d="M480.7 117.1 485 121.1 494.4 118.1 490 114z"/>
<path class=y d="M458.2 227.1 462.4 236.4 471.8 225.4 467.6 216.6z"/>
<path class=b d="M457.7 154.4 461.9 161.3 471.4 155.7 467.2 148.9z"/>
<path class=g d="M457.5 121 461.6 124.7 471.2 120.7 467 116.9z"/>
<path class=y d="M517.7 210.9 522.4 222.3 531.6 214.3 526.9 202.9z"/>
<path class=b d="M517.7 150.6 522.4 159.3 531.6 154.6 526.9 146z"/>
<path class=g d="M517.7 117.8 522.3 122.6 531.6 120.9 526.9 116.1z"/>
<path class=y d="M494.8 217.3 499.2 226.6 508.5 218.7 504 209.5z"/>
<path class=b d="M494.5 152.5 499 160.6 508.4 155.5 503.9 147.5z"/>
<path class=g d="M494.4 118.1 498.9 122.5 508.3 119.9 503.8 115.5z"/>
<path class=y d="M471.8 225.4 476 234.6 485.4 225.6 481.1 216.7z"/>
<path class=b d="M471.4 155.7 475.7 163.3 485.1 157.8 480.8 150.3z"/>
<path class=g d="M471.2 120.7 475.5 124.7 485 121.1 480.7 117.1z"/>
<path class=y d="M508.5 218.7 513.1 230.1 522.4 222.3 517.7 210.9z"/>
<path class=b d="M508.4 155.5 513 164.3 522.4 159.3 517.7 150.6z"/>
<path class=g d="M508.3 119.9 513 124.7 522.3 122.6 517.7 117.8z"/>
<path class=y d="M485.4 225.6 489.8 234.9 499.2 226.6 494.8 217.3z"/>
<path class=b d="M485.1 157.8 489.6 166 499 160.6 494.5 152.5z"/>
<path class=g d="M485 121.1 489.4 125.5 498.9 122.5 494.4 118.1z"/>
<path class=y d="M462.4 236.4 466.5 245.9 476 234.6 471.8 225.4z"/>
<path class=b d="M461.9 161.3 466.1 169 475.7 163.3 471.4 155.7z"/>
<path class=g d="M461.6 124.7 465.8 128.6 475.5 124.7 471.2 120.7z"/>
<path class=y d="M499.2 226.6 503.7 238 513.1 230.1 508.5 218.7z"/>
<path class=b d="M499 160.6 503.6 169.5 513 164.3 508.4 155.5z"/>
<path class=g d="M498.9 122.5 503.5 127.2 513 124.7 508.3 119.9z"/>
<path class=y d="M476 234.6 480.3 243.8 489.8 234.9 485.4 225.6z"/>
<path class=b d="M475.7 163.3 480 171.6 489.6 166 485.1 157.8z"/>
<path class=g d="M475.5 124.7 479.8 128.9 489.4 125.5 485 121.1z"/>
<path class=y d="M489.8 234.9 494.3 246.1 503.7 238 499.2 226.6z"/>
<path class=b d="M489.6 166 494 175 503.6 169.5 499 160.6z"/>
<path class=g d="M489.4 125.5 493.9 130.1 503.5 127.2 498.9 122.5z"/>
<path class=y d="M466.5 245.9 470.8 255.1 480.3 243.8 476 234.6z"/>
<path class=b d="M466.1 169 470.4 177.4 480 171.6 475.7 163.3z"/>
<path class=g d="M465.8 128.6 470.1 132.9 479.8 128.9 475.5 124.7z"/>
<path class=y d="M480.3 243.8 484.7 254.8 494.3 246.1 489.8 234.9z"/>
<path class=b d="M480 171.6 484.4 180.7 494 175 489.6 166z"/>
<path class=g d="M479.8 128.9 484.2 133.5 493.9 130.1 489.4 125.5z"/>
<path class=y d="M470.8 255.1 475.1 266.1 484.7 254.8 480.3 243.8z"/>
<path class=b d="M470.4 177.4 474.7 186.6 484.4 180.7 480 171.6z"/>
<path class=g d="M470.1 132.9 474.5 137.5 484.2 133.5 479.8 128.9z"/>
</g>
<text x="356.8" y="15.8" font-size="20.5" font-weight="bold">b)</text>
<rect x="451.5" y="0" width="197" height="48" fill="#fff"/>
<rect x="457.7" y="4.8" width="28.9" height="6.4" fill="#fcf9aa" stroke="#505050" stroke-width="0.9"/>
<text x="494" y="12.4" font-size="12.7" font-weight="bold">CatCh= 0.5g /100g wood</text>
<rect x="457.7" y="20.4" width="28.9" height="6.4" fill="#0000fc" stroke="#505050" stroke-width="0.9"/>
<text x="494" y="28.0" font-size="12.7" font-weight="bold">CatCh= 1g /100g wood</text>
<rect x="457.7" y="35.5" width="28.9" height="6.4" fill="#9cf88f" stroke="#505050" stroke-width="0.9"/>
<text x="494" y="43.1" font-size="12.7" font-weight="bold">CatCh= 1.5g /100g wood</text>
<text x="396.7" y="247.3" font-size="9.2" fill="#2a2a3a" text-anchor="end" textLength="8.5" lengthAdjust="spacingAndGlyphs">50</text>
<text x="396.2" y="205.9" font-size="9.2" fill="#2a2a3a" text-anchor="end" textLength="8.5" lengthAdjust="spacingAndGlyphs">60</text>
<text x="395.6" y="164.1" font-size="9.2" fill="#2a2a3a" text-anchor="end" textLength="8.5" lengthAdjust="spacingAndGlyphs">70</text>
<text x="395.1" y="121.9" font-size="9.2" fill="#2a2a3a" text-anchor="end" textLength="8.5" lengthAdjust="spacingAndGlyphs">80</text>
<text x="394.6" y="79.4" font-size="9.2" fill="#2a2a3a" text-anchor="end" textLength="8.5" lengthAdjust="spacingAndGlyphs">90</text>
<text x="394.1" y="36.5" font-size="9.2" fill="#2a2a3a" text-anchor="end" textLength="12.8" lengthAdjust="spacingAndGlyphs">100</text>
<text x="406.6" y="254.0" font-size="9.0" fill="#2a2a3a" text-anchor="end" textLength="11.7" lengthAdjust="spacingAndGlyphs">185</text>
<text x="417.7" y="260.1" font-size="9.0" fill="#2a2a3a" text-anchor="end" textLength="11.7" lengthAdjust="spacingAndGlyphs">180</text>
<text x="429.3" y="266.6" font-size="9.0" fill="#2a2a3a" text-anchor="end" textLength="11.7" lengthAdjust="spacingAndGlyphs">175</text>
<text x="441.7" y="273.5" font-size="9.0" fill="#2a2a3a" text-anchor="end" textLength="11.7" lengthAdjust="spacingAndGlyphs">170</text>
<text x="454.9" y="280.8" font-size="9.0" fill="#2a2a3a" text-anchor="end" textLength="11.7" lengthAdjust="spacingAndGlyphs">165</text>
<text x="468.8" y="288.6" font-size="9.0" fill="#2a2a3a" text-anchor="end" textLength="11.7" lengthAdjust="spacingAndGlyphs">160</text>
<text x="478.4" y="295.4" font-size="9.2" fill="#2a2a3a" textLength="8.6" lengthAdjust="spacingAndGlyphs">20</text>
<text x="502.3" y="292.1" font-size="9.2" fill="#2a2a3a" textLength="8.6" lengthAdjust="spacingAndGlyphs">25</text>
<text x="525.6" y="289.0" font-size="9.2" fill="#2a2a3a" textLength="8.6" lengthAdjust="spacingAndGlyphs">30</text>
<text x="548.3" y="286.0" font-size="9.2" fill="#2a2a3a" textLength="8.6" lengthAdjust="spacingAndGlyphs">35</text>
<text x="570.4" y="283.0" font-size="9.2" fill="#2a2a3a" textLength="8.6" lengthAdjust="spacingAndGlyphs">40</text>
<text x="592.0" y="280.1" font-size="9.2" fill="#2a2a3a" textLength="8.6" lengthAdjust="spacingAndGlyphs">45</text>
<text x="613.1" y="277.3" font-size="9.2" fill="#2a2a3a" textLength="8.6" lengthAdjust="spacingAndGlyphs">50</text>
<text x="633.6" y="274.5" font-size="9.2" fill="#2a2a3a" textLength="8.6" lengthAdjust="spacingAndGlyphs">55</text>
<text x="653.7" y="271.8" font-size="9.2" fill="#2a2a3a" textLength="8.6" lengthAdjust="spacingAndGlyphs">60</text>
<text transform="translate(374.5,239.5) rotate(-90)" font-size="17.9" font-weight="bold"><tspan font-style="italic">y</tspan><tspan font-size="12" dy="4">2</tspan><tspan dy="-4" dx="1.5">,(% Cellulose Cont.)</tspan></text>
<text x="512.3" y="307.6" font-size="14.4" font-weight="bold">% Pent, mL/100mL</text>
<text x="396.6" y="289.2" font-size="15.5" font-weight="bold"><tspan font-style="italic">T</tspan>, °C</text>
</g>
<g id="pc">
<path d="M53.0,572.6 L206.8,556.8" stroke="#c8c8c8" stroke-width="1.0" fill="none"/>
<path d="M64.9,577.9 L220.1,561.8" stroke="#c8c8c8" stroke-width="1.0" fill="none"/>
<path d="M77.2,583.5 L233.8,566.9" stroke="#c8c8c8" stroke-width="1.0" fill="none"/>
<path d="M89.7,589.1 L247.7,572.2" stroke="#c8c8c8" stroke-width="1.0" fill="none"/>
<path d="M102.6,594.9 L262.0,577.6" stroke="#c8c8c8" stroke-width="1.0" fill="none"/>
<path d="M57.0,565.7 L132.4,599.0" stroke="#c8c8c8" stroke-width="1.0" fill="none"/>
<path d="M88.2,562.6 L165.4,595.4" stroke="#c8c8c8" stroke-width="1.0" fill="none"/>
<path d="M118.9,559.5 L197.8,591.8" stroke="#c8c8c8" stroke-width="1.0" fill="none"/>
<path d="M149.2,556.4 L229.7,588.3" stroke="#c8c8c8" stroke-width="1.0" fill="none"/>
<path d="M179.0,553.4 L261.1,584.8" stroke="#c8c8c8" stroke-width="1.0" fill="none"/>
<path d="M41.1,546.3 L193.8,531.7" stroke="#c8c8c8" stroke-width="1.0" fill="none"/>
<path d="M41.0,521.9 L193.9,508.1" stroke="#c8c8c8" stroke-width="1.0" fill="none"/>
<path d="M40.9,497.4 L193.9,484.4" stroke="#c8c8c8" stroke-width="1.0" fill="none"/>
<path d="M40.7,472.9 L193.9,460.7" stroke="#c8c8c8" stroke-width="1.0" fill="none"/>
<path d="M40.6,448.3 L194.0,437.0" stroke="#c8c8c8" stroke-width="1.0" fill="none"/>
<path d="M40.4,423.7 L194.0,413.2" stroke="#c8c8c8" stroke-width="1.0" fill="none"/>
<path d="M40.3,399.0 L194.0,389.3" stroke="#c8c8c8" stroke-width="1.0" fill="none"/>
<path d="M57.0,565.7 L56.0,373.3" stroke="#c8c8c8" stroke-width="1.0" fill="none"/>
<path d="M88.2,562.6 L87.5,371.5" stroke="#c8c8c8" stroke-width="1.0" fill="none"/>
<path d="M118.9,559.5 L118.5,369.7" stroke="#c8c8c8" stroke-width="1.0" fill="none"/>
<path d="M149.2,556.4 L149.0,368.0" stroke="#c8c8c8" stroke-width="1.0" fill="none"/>
<path d="M179.0,553.4 L179.2,366.3" stroke="#c8c8c8" stroke-width="1.0" fill="none"/>
<path d="M193.8,531.7 L276.8,561.4" stroke="#c8c8c8" stroke-width="1.0" fill="none"/>
<path d="M193.9,508.1 L276.9,536.1" stroke="#c8c8c8" stroke-width="1.0" fill="none"/>
<path d="M193.9,484.4 L277.1,510.8" stroke="#c8c8c8" stroke-width="1.0" fill="none"/>
<path d="M193.9,460.7 L277.2,485.4" stroke="#c8c8c8" stroke-width="1.0" fill="none"/>
<path d="M194.0,437.0 L277.3,459.9" stroke="#c8c8c8" stroke-width="1.0" fill="none"/>
<path d="M194.0,413.2 L277.5,434.4" stroke="#c8c8c8" stroke-width="1.0" fill="none"/>
<path d="M194.0,389.3 L277.6,408.8" stroke="#c8c8c8" stroke-width="1.0" fill="none"/>
<path d="M206.8,556.8 L207.2,368.2" stroke="#c8c8c8" stroke-width="1.0" fill="none"/>
<path d="M220.1,561.8 L220.7,371.1" stroke="#c8c8c8" stroke-width="1.0" fill="none"/>
<path d="M233.8,566.9 L234.4,374.0" stroke="#c8c8c8" stroke-width="1.0" fill="none"/>
<path d="M247.7,572.2 L248.5,377.0" stroke="#c8c8c8" stroke-width="1.0" fill="none"/>
<path d="M262.0,577.6 L263.0,380.0" stroke="#c8c8c8" stroke-width="1.0" fill="none"/>
<path d="M41.3,567.3 L40.1,374.2" stroke="#404040" stroke-width="1.0" fill="none"/>
<path d="M40.1,374.2 L194.1,365.4" stroke="#404040" stroke-width="1.0" fill="none"/>
<path d="M194.1,365.4 L277.7,383.2" stroke="#404040" stroke-width="1.0" fill="none"/>
<path d="M277.7,383.2 L276.7,583.1" stroke="#404040" stroke-width="1.0" fill="none"/>
<path d="M193.8,551.9 L194.1,365.4" stroke="#404040" stroke-width="1.0" fill="none"/>
<path d="M41.3,567.3 L193.8,551.9" stroke="#404040" stroke-width="1.0" fill="none"/>
<path d="M193.8,551.9 L276.7,583.1" stroke="#404040" stroke-width="1.0" fill="none"/>
<path d="M41.3,567.3 L115.8,600.8" stroke="#2a2a2a" stroke-width="1.0" fill="none"/>
<path d="M115.8,600.8 L276.7,583.1" stroke="#2a2a2a" stroke-width="1.0" fill="none"/>
<path d="M53.0,572.6 l-2.5,1.5" stroke="#2a2a2a" stroke-width="1"/>
<path d="M64.9,577.9 l-2.5,1.5" stroke="#2a2a2a" stroke-width="1"/>
<path d="M77.2,583.5 l-2.5,1.5" stroke="#2a2a2a" stroke-width="1"/>
<path d="M89.7,589.1 l-2.5,1.5" stroke="#2a2a2a" stroke-width="1"/>
<path d="M102.6,594.9 l-2.5,1.5" stroke="#2a2a2a" stroke-width="1"/>
<path d="M132.4,599.0 l0.5,3" stroke="#2a2a2a" stroke-width="1"/>
<path d="M165.4,595.4 l0.5,3" stroke="#2a2a2a" stroke-width="1"/>
<path d="M197.8,591.8 l0.5,3" stroke="#2a2a2a" stroke-width="1"/>
<path d="M229.7,588.3 l0.5,3" stroke="#2a2a2a" stroke-width="1"/>
<path d="M261.1,584.8 l0.5,3" stroke="#2a2a2a" stroke-width="1"/>
<path d="M41.1,546.3 l-3.5,0" stroke="#2a2a2a" stroke-width="1"/>
<path d="M41.0,521.9 l-3.5,0" stroke="#2a2a2a" stroke-width="1"/>
<path d="M40.9,497.4 l-3.5,0" stroke="#2a2a2a" stroke-width="1"/>
<path d="M40.7,472.9 l-3.5,0" stroke="#2a2a2a" stroke-width="1"/>
<path d="M40.6,448.3 l-3.5,0" stroke="#2a2a2a" stroke-width="1"/>
<path d="M40.4,423.7 l-3.5,0" stroke="#2a2a2a" stroke-width="1"/>
<path d="M40.3,399.0 l-3.5,0" stroke="#2a2a2a" stroke-width="1"/>
<path d="M40.1,374.2 l-3.5,0" stroke="#2a2a2a" stroke-width="1"/>
<g stroke="#30332a" stroke-width="0.8">
<path class=b d="M186.6 424.1 190.4 427.4 197.9 420.4 194 417z"/>
<path class=g d="M186.6 421.6 190.4 425.8 197.9 418.2 194 413.8z"/>
<path class=y d="M186.6 388.9 190.5 393.6 197.9 384.3 194 379.5z"/>
<path class=b d="M179.1 431 183 434.2 190.4 427.4 186.6 424.1z"/>
<path class=g d="M179.1 429.2 183 433.3 190.4 425.8 186.6 421.6z"/>
<path class=y d="M179.1 397.8 183 402.3 190.5 393.6 186.6 388.9z"/>
<path class=b d="M190.4 427.4 194.3 430.8 201.8 424 197.9 420.4z"/>
<path class=g d="M190.4 425.8 194.3 430.2 201.8 422.7 197.9 418.2z"/>
<path class=y d="M190.5 393.6 194.4 398.3 201.9 389.2 197.9 384.3z"/>
<path class=b d="M171.6 437.7 175.5 440.7 183 434.2 179.1 431z"/>
<path class=g d="M171.6 436.7 175.5 440.6 183 433.3 179.1 429.2z"/>
<path class=y d="M171.6 406.2 175.5 410.5 183 402.3 179.1 397.8z"/>
<path class=b d="M183 434.2 186.9 437.4 194.3 430.8 190.4 427.4z"/>
<path class=g d="M183 433.3 186.9 437.5 194.3 430.2 190.4 425.8z"/>
<path class=y d="M183 402.3 186.9 406.9 194.4 398.3 190.5 393.6z"/>
<path class=b d="M164.1 444.2 168 447 175.5 440.7 171.6 437.7z"/>
<path class=g d="M164.1 444 168 447.8 175.5 440.6 171.6 436.7z"/>
<path class=y d="M164.1 414.2 168 418.3 175.5 410.5 171.6 406.2z"/>
<path class=b d="M194.3 430.8 198.3 434.3 205.8 427.7 201.8 424z"/>
<path class=g d="M194.3 430.2 198.3 434.6 205.8 427.3 201.8 422.7z"/>
<path class=y d="M194.4 398.3 198.3 403.1 205.8 394.1 201.9 389.2z"/>
<path class=g d="M175.5 440.6 179.3 444.6 186.9 437.5 183 433.3z"/>
<path class=b d="M175.5 440.7 179.3 443.8 186.9 437.4 183 434.2z"/>
<path class=y d="M175.5 410.5 179.4 414.9 186.9 406.9 183 402.3z"/>
<path class=g d="M156.6 451.1 160.4 454.7 168 447.8 164.1 444z"/>
<path class=b d="M156.6 450.4 160.4 453 168 447 164.1 444.2z"/>
<path class=y d="M156.6 421.8 160.4 425.7 168 418.3 164.1 414.2z"/>
<path class=g d="M186.9 437.5 190.8 441.7 198.3 434.6 194.3 430.2z"/>
<path class=b d="M186.9 437.4 190.8 440.8 198.3 434.3 194.3 430.8z"/>
<path class=y d="M186.9 406.9 190.8 411.5 198.3 403.1 194.4 398.3z"/>
<path class=g d="M168 447.8 171.8 451.6 179.3 444.6 175.5 440.6z"/>
<path class=b d="M168 447 171.8 449.9 179.3 443.8 175.5 440.7z"/>
<path class=y d="M168 418.3 171.8 422.5 179.4 414.9 175.5 410.5z"/>
<path class=g d="M149.1 458 152.9 461.4 160.4 454.7 156.6 451.1z"/>
<path class=b d="M149.1 456.3 152.9 458.8 160.4 453 156.6 450.4z"/>
<path class=y d="M149.1 428.9 152.9 432.7 160.4 425.7 156.6 421.8z"/>
<path class=g d="M198.3 434.6 202.2 439.1 209.7 432 205.8 427.3z"/>
<path class=b d="M198.3 434.3 202.2 438 209.7 431.5 205.8 427.7z"/>
<path class=y d="M198.3 403.1 202.3 408 209.8 399.1 205.8 394.1z"/>
<path class=g d="M179.3 444.6 183.2 448.7 190.8 441.7 186.9 437.5z"/>
<path class=b d="M179.3 443.8 183.2 447 190.8 440.8 186.9 437.4z"/>
<path class=y d="M179.4 414.9 183.3 419.4 190.8 411.5 186.9 406.9z"/>
<path class=g d="M160.4 454.7 164.3 458.3 171.8 451.6 168 447.8z"/>
<path class=b d="M160.4 453 164.3 455.8 171.8 449.9 168 447z"/>
<path class=y d="M160.4 425.7 164.3 429.7 171.8 422.5 168 418.3z"/>
<path class=g d="M141.5 464.6 145.3 467.8 152.9 461.4 149.1 458z"/>
<path class=b d="M141.5 462 145.3 464.4 152.9 458.8 149.1 456.3z"/>
<path class=y d="M141.5 435.7 145.3 439.3 152.9 432.7 149.1 428.9z"/>
<path class=g d="M190.8 441.7 194.7 446.1 202.2 439.1 198.3 434.6z"/>
<path class=b d="M190.8 440.8 194.7 444.4 202.2 438 198.3 434.3z"/>
<path class=y d="M190.8 411.5 194.7 416.3 202.3 408 198.3 403.1z"/>
<path class=g d="M171.8 451.6 175.7 455.5 183.2 448.7 179.3 444.6z"/>
<path class=b d="M171.8 449.9 175.7 453 183.2 447 179.3 443.8z"/>
<path class=y d="M171.8 422.5 175.7 426.8 183.3 419.4 179.4 414.9z"/>
<path class=g d="M152.9 461.4 156.7 464.8 164.3 458.3 160.4 454.7z"/>
<path class=b d="M152.9 458.8 156.7 461.5 164.3 455.8 160.4 453z"/>
<path class=y d="M152.9 432.7 156.7 436.5 164.3 429.7 160.4 425.7z"/>
<path class=g d="M133.9 471 137.7 474 145.3 467.8 141.5 464.6z"/>
<path class=b d="M133.9 467.4 137.7 469.6 145.3 464.4 141.5 462z"/>
<path class=y d="M133.9 442 137.7 445.3 145.3 439.3 141.5 435.7z"/>
<path class=g d="M202.2 439.1 206.2 443.8 213.7 436.8 209.7 432z"/>
<path class=b d="M202.2 438 206.2 441.9 213.7 435.5 209.7 431.5z"/>
<path class=y d="M202.3 408 206.3 413 213.8 404.2 209.8 399.1z"/>
<path class=g d="M183.2 448.7 187.2 452.9 194.7 446.1 190.8 441.7z"/>
<path class=b d="M183.2 447 187.2 450.4 194.7 444.4 190.8 440.8z"/>
<path class=y d="M183.3 419.4 187.2 424 194.7 416.3 190.8 411.5z"/>
<path class=g d="M164.3 458.3 168.1 462.1 175.7 455.5 171.8 451.6z"/>
<path class=b d="M164.3 455.8 168.1 458.8 175.7 453 171.8 449.9z"/>
<path class=y d="M164.3 429.7 168.1 433.8 175.7 426.8 171.8 422.5z"/>
<path class=g d="M145.3 467.8 149.1 471.1 156.7 464.8 152.9 461.4z"/>
<path class=b d="M145.3 464.4 149.1 466.8 156.7 461.5 152.9 458.8z"/>
<path class=y d="M145.3 439.3 149.1 442.9 156.7 436.5 152.9 432.7z"/>
<path class=g d="M126.3 477.1 130.1 480 137.7 474 133.9 471z"/>
<path class=b d="M126.3 472.6 130.1 474.6 137.7 469.6 133.9 467.4z"/>
<path class=y d="M126.3 447.8 130 451 137.7 445.3 133.9 442z"/>
<path class=g d="M194.7 446.1 198.7 450.6 206.2 443.8 202.2 439.1z"/>
<path class=b d="M194.7 444.4 198.7 448.1 206.2 441.9 202.2 438z"/>
<path class=y d="M194.7 416.3 198.7 421.1 206.3 413 202.3 408z"/>
<path class=g d="M175.7 455.5 179.6 459.5 187.2 452.9 183.2 448.7z"/>
<path class=b d="M175.7 453 179.6 456.3 187.2 450.4 183.2 447z"/>
<path class=y d="M175.7 426.8 179.6 431.2 187.2 424 183.3 419.4z"/>
<path class=g d="M156.7 464.8 160.5 468.4 168.1 462.1 164.3 458.3z"/>
<path class=b d="M156.7 461.5 160.5 464.3 168.1 458.8 164.3 455.8z"/>
<path class=y d="M156.7 436.5 160.5 440.4 168.1 433.8 164.3 429.7z"/>
<path class=g d="M137.7 474 141.5 477.1 149.1 471.1 145.3 467.8z"/>
<path class=b d="M137.7 469.6 141.4 472 149.1 466.8 145.3 464.4z"/>
<path class=y d="M137.7 445.3 141.4 448.7 149.1 442.9 145.3 439.3z"/>
<path class=g d="M118.7 482.9 122.4 485.6 130.1 480 126.3 477.1z"/>
<path class=b d="M118.7 477.4 122.4 479.3 130.1 474.6 126.3 472.6z"/>
<path class=y d="M118.6 454.4 122.4 457.3 130 451 126.3 447.8z"/>
<path class=g d="M206.2 443.8 210.2 448.6 217.8 441.8 213.7 436.8z"/>
<path class=b d="M206.2 441.9 210.2 445.9 217.8 439.7 213.7 435.5z"/>
<path class=y d="M206.3 413 210.3 418 217.8 409.4 213.8 404.2z"/>
<path class=g d="M187.2 452.9 191.1 457.2 198.7 450.6 194.7 446.1z"/>
<path class=b d="M187.2 450.4 191.1 454 198.7 448.1 194.7 444.4z"/>
<path class=y d="M187.2 424 191.1 428.6 198.7 421.1 194.7 416.3z"/>
<path class=g d="M168.1 462.1 172 465.9 179.6 459.5 175.7 455.5z"/>
<path class=b d="M168.1 458.8 172 461.9 179.6 456.3 175.7 453z"/>
<path class=y d="M168.1 433.8 172 438 179.6 431.2 175.7 426.8z"/>
<path class=g d="M149.1 471.1 152.9 474.5 160.5 468.4 156.7 464.8z"/>
<path class=b d="M149.1 466.8 152.9 469.5 160.5 464.3 156.7 461.5z"/>
<path class=y d="M149.1 442.9 152.9 446.6 160.5 440.4 156.7 436.5z"/>
<path class=g d="M130.1 480 133.8 482.9 141.5 477.1 137.7 474z"/>
<path class=b d="M130.1 474.6 133.8 476.8 141.4 472 137.7 469.6z"/>
<path class=y d="M130 451 133.8 454.3 141.4 448.7 137.7 445.3z"/>
<path class=g d="M111.1 488.5 114.7 491 122.4 485.6 118.7 482.9z"/>
<path class=b d="M111 482 114.7 483.7 122.4 479.3 118.7 477.4z"/>
<path class=y d="M111 461.6 114.7 464.2 122.4 457.3 118.6 454.4z"/>
<path class=g d="M198.7 450.6 202.7 455.2 210.2 448.6 206.2 443.8z"/>
<path class=b d="M198.7 448.1 202.7 451.9 210.2 445.9 206.2 441.9z"/>
<path class=y d="M198.7 421.1 202.7 426 210.3 418 206.3 413z"/>
<path class=g d="M179.6 459.5 183.5 463.6 191.1 457.2 187.2 452.9z"/>
<path class=b d="M179.6 456.3 183.5 459.7 191.1 454 187.2 450.4z"/>
<path class=y d="M179.6 431.2 183.5 435.7 191.1 428.6 187.2 424z"/>
<path class=g d="M160.5 468.4 164.4 472.1 172 465.9 168.1 462.1z"/>
<path class=b d="M160.5 464.3 164.4 467.2 172 461.9 168.1 458.8z"/>
<path class=y d="M160.5 440.4 164.4 444.4 172 438 168.1 433.8z"/>
<path class=g d="M141.5 477.1 145.2 480.3 152.9 474.5 149.1 471.1z"/>
<path class=b d="M141.4 472 145.2 474.4 152.9 469.5 149.1 466.8z"/>
<path class=y d="M141.4 448.7 145.2 452.3 152.9 446.6 149.1 442.9z"/>
<path class=g d="M122.4 485.6 126.1 488.4 133.8 482.9 130.1 480z"/>
<path class=b d="M122.4 479.3 126.1 481.3 133.8 476.8 130.1 474.6z"/>
<path class=y d="M122.4 457.3 126.1 460.3 133.8 454.3 130 451z"/>
<path class=g d="M103.4 493.7 107 496 114.7 491 111.1 488.5z"/>
<path class=b d="M103.4 486.3 107 487.9 114.7 483.7 111 482z"/>
<path class=y d="M103.3 470.2 107 472.5 114.7 464.2 111 461.6z"/>
<path class=g d="M210.2 448.6 214.2 453.5 221.8 446.9 217.8 441.8z"/>
<path class=b d="M210.2 445.9 214.3 450.1 221.8 444.1 217.8 439.7z"/>
<path class=y d="M210.3 418 214.3 423.1 221.9 414.6 217.8 409.4z"/>
<path class=g d="M191.1 457.2 195.1 461.7 202.7 455.2 198.7 450.6z"/>
<path class=b d="M191.1 454 195.1 457.7 202.7 451.9 198.7 448.1z"/>
<path class=y d="M191.1 428.6 195.1 433.3 202.7 426 198.7 421.1z"/>
<path class=g d="M172 465.9 175.9 469.9 183.5 463.6 179.6 459.5z"/>
<path class=b d="M172 461.9 175.9 465.1 183.5 459.7 179.6 456.3z"/>
<path class=y d="M172 438 175.9 442.3 183.5 435.7 179.6 431.2z"/>
<path class=g d="M152.9 474.5 156.7 478 164.4 472.1 160.5 468.4z"/>
<path class=b d="M152.9 469.5 156.7 472.3 164.4 467.2 160.5 464.3z"/>
<path class=y d="M152.9 446.6 156.7 450.4 164.4 444.4 160.5 440.4z"/>
<path class=g d="M133.8 482.9 137.6 485.9 145.2 480.3 141.5 477.1z"/>
<path class=b d="M133.8 476.8 137.6 479.1 145.2 474.4 141.4 472z"/>
<path class=y d="M133.8 454.3 137.5 457.6 145.2 452.3 141.4 448.7z"/>
<path class=g d="M114.7 491 118.4 493.5 126.1 488.4 122.4 485.6z"/>
<path class=b d="M114.7 483.7 118.4 485.6 126.1 481.3 122.4 479.3z"/>
<path class=y d="M114.7 464.2 118.4 467 126.1 460.3 122.4 457.3z"/>
<path class=g d="M95.7 498.6 99.3 500.7 107 496 103.4 493.7z"/>
<path class=b d="M95.6 490.3 99.3 491.7 107 487.9 103.4 486.3z"/>
<path class=y d="M95.6 476.2 99.2 478.3 107 472.5 103.3 470.2z"/>
<path class=g d="M202.7 455.2 206.7 460 214.2 453.5 210.2 448.6z"/>
<path class=b d="M202.7 451.9 206.7 456 214.3 450.1 210.2 445.9z"/>
<path class=y d="M202.7 426 206.7 430.9 214.3 423.1 210.3 418z"/>
<path class=g d="M183.5 463.6 187.5 467.9 195.1 461.7 191.1 457.2z"/>
<path class=b d="M183.5 459.7 187.5 463.2 195.1 457.7 191.1 454z"/>
<path class=y d="M183.5 435.7 187.5 440.2 195.1 433.3 191.1 428.6z"/>
<path class=g d="M164.4 472.1 168.3 475.8 175.9 469.9 172 465.9z"/>
<path class=b d="M164.4 467.2 168.3 470.3 175.9 465.1 172 461.9z"/>
<path class=y d="M164.4 444.4 168.3 448.5 175.9 442.3 172 438z"/>
<path class=g d="M145.2 480.3 149.1 483.7 156.7 478 152.9 474.5z"/>
<path class=b d="M145.2 474.4 149.1 477.1 156.7 472.3 152.9 469.5z"/>
<path class=y d="M145.2 452.3 149 455.9 156.7 450.4 152.9 446.6z"/>
<path class=g d="M126.1 488.4 129.9 491.2 137.6 485.9 133.8 482.9z"/>
<path class=b d="M126.1 481.3 129.9 483.5 137.6 479.1 133.8 476.8z"/>
<path class=y d="M126.1 460.3 129.8 463.4 137.5 457.6 133.8 454.3z"/>
<path class=g d="M107 496 110.7 498.4 118.4 493.5 114.7 491z"/>
<path class=b d="M107 487.9 110.7 489.6 118.4 485.6 114.7 483.7z"/>
<path class=y d="M107 472.5 110.7 474.9 118.4 467 114.7 464.2z"/>
<path class=g d="M87.9 503.1 91.6 505.1 99.3 500.7 95.7 498.6z"/>
<path class=b d="M87.9 493.9 91.5 495.2 99.3 491.7 95.6 490.3z"/>
<path class=y d="M87.9 481 91.5 482.9 99.2 478.3 95.6 476.2z"/>
<path class=g d="M214.2 453.5 218.3 458.6 225.9 452.1 221.8 446.9z"/>
<path class=b d="M214.3 450.1 218.3 454.5 225.9 448.6 221.8 444.1z"/>
<path class=y d="M214.3 423.1 218.4 428.2 226 419.8 221.9 414.6z"/>
<path class=g d="M195.1 461.7 199.1 466.2 206.7 460 202.7 455.2z"/>
<path class=b d="M195.1 457.7 199.1 461.6 206.7 456 202.7 451.9z"/>
<path class=y d="M195.1 433.3 199.1 438.1 206.7 430.9 202.7 426z"/>
<path class=g d="M175.9 469.9 179.8 473.9 187.5 467.9 183.5 463.6z"/>
<path class=b d="M175.9 465.1 179.8 468.5 187.5 463.2 183.5 459.7z"/>
<path class=y d="M175.9 442.3 179.8 446.7 187.5 440.2 183.5 435.7z"/>
<path class=g d="M156.7 478 160.6 481.6 168.3 475.8 164.4 472.1z"/>
<path class=b d="M156.7 472.3 160.6 475.2 168.3 470.3 164.4 467.2z"/>
<path class=y d="M156.7 450.4 160.6 454.3 168.3 448.5 164.4 444.4z"/>
<path class=g d="M137.6 485.9 141.4 489 149.1 483.7 145.2 480.3z"/>
<path class=b d="M137.6 479.1 141.4 481.6 149.1 477.1 145.2 474.4z"/>
<path class=y d="M137.5 457.6 141.3 461 149 455.9 145.2 452.3z"/>
<path class=g d="M118.4 493.5 122.2 496.2 129.9 491.2 126.1 488.4z"/>
<path class=b d="M118.4 485.6 122.2 487.6 129.9 483.5 126.1 481.3z"/>
<path class=y d="M118.4 467 122.1 469.8 129.8 463.4 126.1 460.3z"/>
<path class=g d="M99.3 500.7 103 502.9 110.7 498.4 107 496z"/>
<path class=b d="M99.3 491.7 102.9 493.2 110.7 489.6 107 487.9z"/>
<path class=y d="M99.2 478.3 102.9 480.5 110.7 474.9 107 472.5z"/>
<path class=g d="M80.2 507.3 83.8 509.1 91.6 505.1 87.9 503.1z"/>
<path class=b d="M80.2 497.3 83.7 498.4 91.5 495.2 87.9 493.9z"/>
<path class=y d="M80.1 484.9 83.7 486.7 91.5 482.9 87.9 481z"/>
<path class=g d="M206.7 460 210.7 464.8 218.3 458.6 214.2 453.5z"/>
<path class=b d="M206.7 456 210.7 460.2 218.3 454.5 214.3 450.1z"/>
<path class=y d="M206.7 430.9 210.8 435.9 218.4 428.2 214.3 423.1z"/>
<path class=g d="M187.5 467.9 191.4 472.3 199.1 466.2 195.1 461.7z"/>
<path class=b d="M187.5 463.2 191.4 467 199.1 461.6 195.1 457.7z"/>
<path class=y d="M187.5 440.2 191.5 444.8 199.1 438.1 195.1 433.3z"/>
<path class=g d="M168.3 475.8 172.2 479.7 179.8 473.9 175.9 469.9z"/>
<path class=b d="M168.3 470.3 172.2 473.5 179.8 468.5 175.9 465.1z"/>
<path class=y d="M168.3 448.5 172.2 452.7 179.8 446.7 175.9 442.3z"/>
<path class=g d="M149.1 483.7 152.9 487.1 160.6 481.6 156.7 478z"/>
<path class=b d="M149.1 477.1 152.9 479.8 160.6 475.2 156.7 472.3z"/>
<path class=y d="M149 455.9 152.9 459.6 160.6 454.3 156.7 450.4z"/>
<path class=g d="M129.9 491.2 133.7 494.2 141.4 489 137.6 485.9z"/>
<path class=b d="M129.9 483.5 133.7 485.8 141.4 481.6 137.6 479.1z"/>
<path class=y d="M129.8 463.4 133.6 466.6 141.3 461 137.5 457.6z"/>
<path class=g d="M110.7 498.4 114.4 500.9 122.2 496.2 118.4 493.5z"/>
<path class=b d="M110.7 489.6 114.4 491.4 122.2 487.6 118.4 485.6z"/>
<path class=y d="M110.7 474.9 114.4 477.4 122.1 469.8 118.4 467z"/>
<path class=g d="M91.6 505.1 95.2 507.1 103 502.9 99.3 500.7z"/>
<path class=b d="M91.5 495.2 95.2 496.5 102.9 493.2 99.3 491.7z"/>
<path class=y d="M91.5 482.9 95.1 484.8 102.9 480.5 99.2 478.3z"/>
<path class=g d="M72.4 511.1 76 512.7 83.8 509.1 80.2 507.3z"/>
<path class=b d="M72.4 500.3 75.9 501.2 83.7 498.4 80.2 497.3z"/>
<path class=y d="M72.3 488.3 75.9 489.9 83.7 486.7 80.1 484.9z"/>
<path class=g d="M218.3 458.6 222.4 463.8 230 457.5 225.9 452.1z"/>
<path class=b d="M218.3 454.5 222.4 459.1 230 453.3 225.9 448.6z"/>
<path class=y d="M218.4 428.2 222.5 433.5 230.1 425.1 226 419.8z"/>
<path class=g d="M199.1 466.2 203.1 470.9 210.7 464.8 206.7 460z"/>
<path class=b d="M199.1 461.6 203.1 465.7 210.7 460.2 206.7 456z"/>
<path class=y d="M199.1 438.1 203.1 442.9 210.8 435.9 206.7 430.9z"/>
<path class=g d="M179.8 473.9 183.8 478.1 191.4 472.3 187.5 467.9z"/>
<path class=b d="M179.8 468.5 183.8 472.1 191.4 467 187.5 463.2z"/>
<path class=y d="M179.8 446.7 183.8 451.1 191.5 444.8 187.5 440.2z"/>
<path class=g d="M160.6 481.6 164.5 485.3 172.2 479.7 168.3 475.8z"/>
<path class=b d="M160.6 475.2 164.5 478.3 172.2 473.5 168.3 470.3z"/>
<path class=y d="M160.6 454.3 164.5 458.3 172.2 452.7 168.3 448.5z"/>
<path class=g d="M141.4 489 145.2 492.3 152.9 487.1 149.1 483.7z"/>
<path class=b d="M141.4 481.6 145.2 484.2 152.9 479.8 149.1 477.1z"/>
<path class=y d="M141.3 461 145.2 464.6 152.9 459.6 149 455.9z"/>
<path class=g d="M122.2 496.2 125.9 499 133.7 494.2 129.9 491.2z"/>
<path class=b d="M122.2 487.6 125.9 489.7 133.7 485.8 129.9 483.5z"/>
<path class=y d="M122.1 469.8 125.9 472.7 133.6 466.6 129.8 463.4z"/>
<path class=g d="M103 502.9 106.7 505.2 114.4 500.9 110.7 498.4z"/>
<path class=b d="M102.9 493.2 106.6 494.9 114.4 491.4 110.7 489.6z"/>
<path class=y d="M102.9 480.5 106.6 482.7 114.4 477.4 110.7 474.9z"/>
<path class=g d="M83.8 509.1 87.4 510.9 95.2 507.1 91.6 505.1z"/>
<path class=b d="M83.7 498.4 87.4 499.6 95.2 496.5 91.5 495.2z"/>
<path class=y d="M83.7 486.7 87.3 488.5 95.1 484.8 91.5 482.9z"/>
<path class=g d="M64.6 514.5 68.1 515.9 76 512.7 72.4 511.1z"/>
<path class=b d="M64.5 503 68.1 503.7 75.9 501.2 72.4 500.3z"/>
<path class=y d="M64.5 491.3 68 492.7 75.9 489.9 72.3 488.3z"/>
<path class=g d="M210.7 464.8 214.8 469.9 222.4 463.8 218.3 458.6z"/>
<path class=b d="M210.7 460.2 214.8 464.7 222.4 459.1 218.3 454.5z"/>
<path class=y d="M210.8 435.9 214.8 440.9 222.5 433.5 218.4 428.2z"/>
<path class=g d="M191.4 472.3 195.4 476.8 203.1 470.9 199.1 466.2z"/>
<path class=b d="M191.4 467 195.4 470.9 203.1 465.7 199.1 461.6z"/>
<path class=y d="M191.5 444.8 195.5 449.4 203.1 442.9 199.1 438.1z"/>
<path class=g d="M172.2 479.7 176.1 483.8 183.8 478.1 179.8 473.9z"/>
<path class=b d="M172.2 473.5 176.1 477 183.8 472.1 179.8 468.5z"/>
<path class=y d="M172.2 452.7 176.1 456.9 183.8 451.1 179.8 446.7z"/>
<path class=g d="M152.9 487.1 156.8 490.6 164.5 485.3 160.6 481.6z"/>
<path class=b d="M152.9 479.8 156.8 482.8 164.5 478.3 160.6 475.2z"/>
<path class=y d="M152.9 459.6 156.8 463.4 164.5 458.3 160.6 454.3z"/>
<path class=g d="M133.7 494.2 137.5 497.2 145.2 492.3 141.4 489z"/>
<path class=b d="M133.7 485.8 137.5 488.3 145.2 484.2 141.4 481.6z"/>
<path class=y d="M133.6 466.6 137.4 470 145.2 464.6 141.3 461z"/>
<path class=g d="M114.4 500.9 118.2 503.4 125.9 499 122.2 496.2z"/>
<path class=b d="M114.4 491.4 118.1 493.4 125.9 489.7 122.2 487.6z"/>
<path class=y d="M114.4 477.4 118.1 480 125.9 472.7 122.1 469.8z"/>
<path class=g d="M95.2 507.1 98.9 509.2 106.7 505.2 103 502.9z"/>
<path class=b d="M95.2 496.5 98.8 498.1 106.6 494.9 102.9 493.2z"/>
<path class=y d="M95.1 484.8 98.8 486.9 106.6 482.7 102.9 480.5z"/>
<path class=g d="M76 512.7 79.6 514.3 87.4 510.9 83.8 509.1z"/>
<path class=b d="M75.9 501.2 79.5 502.2 87.4 499.6 83.7 498.4z"/>
<path class=y d="M75.9 489.9 79.5 491.6 87.3 488.5 83.7 486.7z"/>
<path class=g d="M56.8 517.5 60.3 518.7 68.1 515.9 64.6 514.5z"/>
<path class=b d="M56.7 505.3 60.2 505.9 68.1 503.7 64.5 503z"/>
<path class=y d="M56.6 494.3 60.2 495.5 68 492.7 64.5 491.3z"/>
<path class=g d="M222.4 463.8 226.5 469.2 234.1 463.1 230 457.5z"/>
<path class=b d="M222.4 459.1 226.5 463.9 234.1 458.3 230 453.3z"/>
<path class=y d="M222.5 433.5 226.6 438.9 234.2 430.6 230.1 425.1z"/>
<path class=g d="M203.1 470.9 207.1 475.8 214.8 469.9 210.7 464.8z"/>
<path class=b d="M203.1 465.7 207.1 470 214.8 464.7 210.7 460.2z"/>
<path class=y d="M203.1 442.9 207.2 447.8 214.8 440.9 210.8 435.9z"/>
<path class=g d="M183.8 478.1 187.8 482.5 195.4 476.8 191.4 472.3z"/>
<path class=b d="M183.8 472.1 187.8 475.9 195.4 470.9 191.4 467z"/>
<path class=y d="M183.8 451.1 187.8 455.5 195.5 449.4 191.5 444.8z"/>
<path class=g d="M164.5 485.3 168.4 489.2 176.1 483.8 172.2 479.7z"/>
<path class=b d="M164.5 478.3 168.4 481.6 176.1 477 172.2 473.5z"/>
<path class=y d="M164.5 458.3 168.4 462.3 176.1 456.9 172.2 452.7z"/>
<path class=g d="M145.2 492.3 149.1 495.6 156.8 490.6 152.9 487.1z"/>
<path class=b d="M145.2 484.2 149 487 156.8 482.8 152.9 479.8z"/>
<path class=y d="M145.2 464.6 149 468.2 156.8 463.4 152.9 459.6z"/>
<path class=g d="M125.9 499 129.7 501.8 137.5 497.2 133.7 494.2z"/>
<path class=b d="M125.9 489.7 129.7 492 137.5 488.3 133.7 485.8z"/>
<path class=y d="M125.9 472.7 129.7 475.8 137.4 470 133.6 466.6z"/>
<path class=g d="M106.7 505.2 110.4 507.6 118.2 503.4 114.4 500.9z"/>
<path class=b d="M106.6 494.9 110.3 496.7 118.1 493.4 114.4 491.4z"/>
<path class=y d="M106.6 482.7 110.3 485.1 118.1 480 114.4 477.4z"/>
<path class=g d="M87.4 510.9 91 512.8 98.9 509.2 95.2 507.1z"/>
<path class=b d="M87.4 499.6 91 500.9 98.8 498.1 95.2 496.5z"/>
<path class=y d="M87.3 488.5 91 490.4 98.8 486.9 95.1 484.8z"/>
<path class=g d="M68.1 515.9 71.7 517.3 79.6 514.3 76 512.7z"/>
<path class=b d="M68.1 503.7 71.7 504.6 79.5 502.2 75.9 501.2z"/>
<path class=y d="M68 492.7 71.6 494.2 79.5 491.6 75.9 489.9z"/>
<path class=g d="M48.9 520.1 52.4 521.1 60.3 518.7 56.8 517.5z"/>
<path class=b d="M48.8 507.3 52.3 507.7 60.2 505.9 56.7 505.3z"/>
<path class=y d="M48.8 497.4 52.3 498.3 60.2 495.5 56.6 494.3z"/>
<path class=g d="M214.8 469.9 218.9 475.1 226.5 469.2 222.4 463.8z"/>
<path class=b d="M214.8 464.7 218.9 469.3 226.5 463.9 222.4 459.1z"/>
<path class=y d="M214.8 440.9 218.9 446.2 226.6 438.9 222.5 433.5z"/>
<path class=g d="M195.4 476.8 199.5 481.5 207.1 475.8 203.1 470.9z"/>
<path class=b d="M195.4 470.9 199.5 475 207.1 470 203.1 465.7z"/>
<path class=y d="M195.5 449.4 199.5 454.2 207.2 447.8 203.1 442.9z"/>
<path class=g d="M176.1 483.8 180.1 487.9 187.8 482.5 183.8 478.1z"/>
<path class=b d="M176.1 477 180.1 480.6 187.8 475.9 183.8 472.1z"/>
<path class=y d="M176.1 456.9 180.1 461.2 187.8 455.5 183.8 451.1z"/>
<path class=g d="M156.8 490.6 160.7 494.3 168.4 489.2 164.5 485.3z"/>
<path class=b d="M156.8 482.8 160.7 485.9 168.4 481.6 164.5 478.3z"/>
<path class=y d="M156.8 463.4 160.7 467.3 168.4 462.3 164.5 458.3z"/>
<path class=g d="M137.5 497.2 141.3 500.4 149.1 495.6 145.2 492.3z"/>
<path class=b d="M137.5 488.3 141.3 490.9 149 487 145.2 484.2z"/>
<path class=y d="M137.4 470 141.3 473.4 149 468.2 145.2 464.6z"/>
<path class=g d="M118.2 503.4 121.9 506.1 129.7 501.8 125.9 499z"/>
<path class=b d="M118.1 493.4 121.9 495.5 129.7 492 125.9 489.7z"/>
<path class=y d="M118.1 480 121.9 482.7 129.7 475.8 125.9 472.7z"/>
<path class=g d="M98.9 509.2 102.6 511.4 110.4 507.6 106.7 505.2z"/>
<path class=b d="M98.8 498.1 102.5 499.7 110.3 496.7 106.6 494.9z"/>
<path class=y d="M98.8 486.9 102.5 489.1 110.3 485.1 106.6 482.7z"/>
<path class=g d="M79.6 514.3 83.2 516 91 512.8 87.4 510.9z"/>
<path class=b d="M79.5 502.2 83.2 503.4 91 500.9 87.4 499.6z"/>
<path class=y d="M79.5 491.6 83.1 493.3 91 490.4 87.3 488.5z"/>
<path class=g d="M60.3 518.7 63.8 520 71.7 517.3 68.1 515.9z"/>
<path class=b d="M60.2 505.9 63.8 506.6 71.7 504.6 68.1 503.7z"/>
<path class=y d="M60.2 495.5 63.7 496.8 71.6 494.2 68 492.7z"/>
<path class=g d="M41 522.2 44.5 523 52.4 521.1 48.9 520.1z"/>
<path class=b d="M40.9 508.9 44.4 509.1 52.3 507.7 48.8 507.3z"/>
<path class=y d="M40.9 500.5 44.4 501.1 52.3 498.3 48.8 497.4z"/>
<path class=g d="M226.5 469.2 230.6 474.8 238.3 468.9 234.1 463.1z"/>
<path class=b d="M226.5 463.9 230.7 468.9 238.3 463.4 234.1 458.3z"/>
<path class=y d="M226.6 438.9 230.7 444.4 238.4 436.3 234.2 430.6z"/>
<path class=g d="M207.1 475.8 211.2 480.8 218.9 475.1 214.8 469.9z"/>
<path class=b d="M207.1 470 211.2 474.4 218.9 469.3 214.8 464.7z"/>
<path class=y d="M207.2 447.8 211.3 452.8 218.9 446.2 214.8 440.9z"/>
<path class=g d="M187.8 482.5 191.8 487 199.5 481.5 195.4 476.8z"/>
<path class=b d="M187.8 475.9 191.8 479.8 199.5 475 195.4 470.9z"/>
<path class=y d="M187.8 455.5 191.8 460.1 199.5 454.2 195.5 449.4z"/>
<path class=g d="M168.4 489.2 172.3 493.1 180.1 487.9 176.1 483.8z"/>
<path class=b d="M168.4 481.6 172.4 485 180.1 480.6 176.1 477z"/>
<path class=y d="M168.4 462.3 172.4 466.4 180.1 461.2 176.1 456.9z"/>
<path class=g d="M149.1 495.6 152.9 499.1 160.7 494.3 156.8 490.6z"/>
<path class=b d="M149 487 152.9 489.9 160.7 485.9 156.8 482.8z"/>
<path class=y d="M149 468.2 152.9 471.8 160.7 467.3 156.8 463.4z"/>
<path class=g d="M129.7 501.8 133.5 504.8 141.3 500.4 137.5 497.2z"/>
<path class=b d="M129.7 492 133.5 494.5 141.3 490.9 137.5 488.3z"/>
<path class=y d="M129.7 475.8 133.5 478.9 141.3 473.4 137.4 470z"/>
<path class=g d="M110.4 507.6 114.1 510.1 121.9 506.1 118.2 503.4z"/>
<path class=b d="M110.3 496.7 114.1 498.7 121.9 495.5 118.1 493.4z"/>
<path class=y d="M110.3 485.1 114.1 487.6 121.9 482.7 118.1 480z"/>
<path class=g d="M91 512.8 94.7 514.8 102.6 511.4 98.9 509.2z"/>
<path class=b d="M91 500.9 94.7 502.4 102.5 499.7 98.8 498.1z"/>
<path class=y d="M91 490.4 94.6 492.4 102.5 489.1 98.8 486.9z"/>
<path class=g d="M71.7 517.3 75.3 518.9 83.2 516 79.6 514.3z"/>
<path class=b d="M71.7 504.6 75.3 505.6 83.2 503.4 79.5 502.2z"/>
<path class=y d="M71.6 494.2 75.2 495.8 83.1 493.3 79.5 491.6z"/>
<path class=g d="M52.4 521.1 55.9 522.1 63.8 520 60.3 518.7z"/>
<path class=b d="M52.3 507.7 55.9 508.2 63.8 506.6 60.2 505.9z"/>
<path class=y d="M52.3 498.3 55.8 499.3 63.7 496.8 60.2 495.5z"/>
<path class=g d="M218.9 475.1 223 480.5 230.6 474.8 226.5 469.2z"/>
<path class=b d="M218.9 469.3 223 474.1 230.7 468.9 226.5 463.9z"/>
<path class=y d="M218.9 446.2 223.1 451.6 230.7 444.4 226.6 438.9z"/>
<path class=g d="M199.5 481.5 203.5 486.4 211.2 480.8 207.1 475.8z"/>
<path class=b d="M199.5 475 203.5 479.3 211.2 474.4 207.1 470z"/>
<path class=y d="M199.5 454.2 203.6 459 211.3 452.8 207.2 447.8z"/>
<path class=g d="M180.1 487.9 184.1 492.3 191.8 487 187.8 482.5z"/>
<path class=b d="M180.1 480.6 184.1 484.4 191.8 479.8 187.8 475.9z"/>
<path class=y d="M180.1 461.2 184.1 465.5 191.8 460.1 187.8 455.5z"/>
<path class=g d="M160.7 494.3 164.6 498.1 172.3 493.1 168.4 489.2z"/>
<path class=b d="M160.7 485.9 164.6 489.2 172.4 485 168.4 481.6z"/>
<path class=y d="M160.7 467.3 164.6 471.2 172.4 466.4 168.4 462.3z"/>
<path class=g d="M141.3 500.4 145.2 503.7 152.9 499.1 149.1 495.6z"/>
<path class=b d="M141.3 490.9 145.1 493.7 152.9 489.9 149 487z"/>
<path class=y d="M141.3 473.4 145.1 476.8 152.9 471.8 149 468.2z"/>
<path class=g d="M121.9 506.1 125.7 508.9 133.5 504.8 129.7 501.8z"/>
<path class=b d="M121.9 495.5 125.7 497.8 133.5 494.5 129.7 492z"/>
<path class=y d="M121.9 482.7 125.7 485.5 133.5 478.9 129.7 475.8z"/>
<path class=g d="M102.6 511.4 106.3 513.7 114.1 510.1 110.4 507.6z"/>
<path class=b d="M102.5 499.7 106.2 501.5 114.1 498.7 110.3 496.7z"/>
<path class=y d="M102.5 489.1 106.2 491.4 114.1 487.6 110.3 485.1z"/>
<path class=g d="M83.2 516 86.8 517.9 94.7 514.8 91 512.8z"/>
<path class=b d="M83.2 503.4 86.8 504.7 94.7 502.4 91 500.9z"/>
<path class=y d="M83.1 493.3 86.8 495.2 94.6 492.4 91 490.4z"/>
<path class=g d="M63.8 520 67.4 521.3 75.3 518.9 71.7 517.3z"/>
<path class=b d="M63.8 506.6 67.4 507.4 75.3 505.6 71.7 504.6z"/>
<path class=y d="M63.7 496.8 67.3 498.2 75.2 495.8 71.6 494.2z"/>
<path class=g d="M44.5 523 48 523.9 55.9 522.1 52.4 521.1z"/>
<path class=b d="M44.4 509.1 47.9 509.5 55.9 508.2 52.3 507.7z"/>
<path class=y d="M44.4 501.1 47.9 501.8 55.8 499.3 52.3 498.3z"/>
<path class=g d="M230.6 474.8 234.8 480.5 242.5 474.8 238.3 468.9z"/>
<path class=b d="M230.7 468.9 234.8 474.1 242.5 468.7 238.3 463.4z"/>
<path class=y d="M230.7 444.4 234.9 450.2 242.6 442.2 238.4 436.3z"/>
<path class=g d="M211.2 480.8 215.3 486.1 223 480.5 218.9 475.1z"/>
<path class=b d="M211.2 474.4 215.3 479.1 223 474.1 218.9 469.3z"/>
<path class=y d="M211.3 452.8 215.4 458.1 223.1 451.6 218.9 446.2z"/>
<path class=g d="M191.8 487 195.8 491.7 203.5 486.4 199.5 481.5z"/>
<path class=b d="M191.8 479.8 195.8 484 203.5 479.3 199.5 475z"/>
<path class=y d="M191.8 460.1 195.9 464.8 203.6 459 199.5 454.2z"/>
<path class=g d="M172.3 493.1 176.3 497.3 184.1 492.3 180.1 487.9z"/>
<path class=b d="M172.4 485 176.3 488.6 184.1 484.4 180.1 480.6z"/>
<path class=y d="M172.4 466.4 176.3 470.6 184.1 465.5 180.1 461.2z"/>
<path class=g d="M152.9 499.1 156.8 502.7 164.6 498.1 160.7 494.3z"/>
<path class=b d="M152.9 489.9 156.8 493 164.6 489.2 160.7 485.9z"/>
<path class=y d="M152.9 471.8 156.8 475.6 164.6 471.2 160.7 467.3z"/>
<path class=g d="M133.5 504.8 137.4 507.9 145.2 503.7 141.3 500.4z"/>
<path class=b d="M133.5 494.5 137.3 497.1 145.1 493.7 141.3 490.9z"/>
<path class=y d="M133.5 478.9 137.3 482.1 145.1 476.8 141.3 473.4z"/>
<path class=g d="M114.1 510.1 117.9 512.7 125.7 508.9 121.9 506.1z"/>
<path class=b d="M114.1 498.7 117.9 500.8 125.7 497.8 121.9 495.5z"/>
<path class=y d="M114.1 487.6 117.8 490.2 125.7 485.5 121.9 482.7z"/>
<path class=g d="M94.7 514.8 98.4 516.9 106.3 513.7 102.6 511.4z"/>
<path class=b d="M94.7 502.4 98.4 504 106.2 501.5 102.5 499.7z"/>
<path class=y d="M94.6 492.4 98.3 494.6 106.2 491.4 102.5 489.1z"/>
<path class=g d="M75.3 518.9 78.9 520.5 86.8 517.9 83.2 516z"/>
<path class=b d="M75.3 505.6 78.9 506.7 86.8 504.7 83.2 503.4z"/>
<path class=y d="M75.2 495.8 78.9 497.5 86.8 495.2 83.1 493.3z"/>
<path class=g d="M55.9 522.1 59.5 523.3 67.4 521.3 63.8 520z"/>
<path class=b d="M55.9 508.2 59.4 508.9 67.4 507.4 63.8 506.6z"/>
<path class=y d="M55.8 499.3 59.4 500.4 67.3 498.2 63.7 496.8z"/>
<path class=g d="M223 480.5 227.1 486.1 234.8 480.5 230.6 474.8z"/>
<path class=b d="M223 474.1 227.2 479.1 234.8 474.1 230.7 468.9z"/>
<path class=y d="M223.1 451.6 227.2 457.2 234.9 450.2 230.7 444.4z"/>
<path class=g d="M203.5 486.4 207.6 491.4 215.3 486.1 211.2 480.8z"/>
<path class=b d="M203.5 479.3 207.6 483.8 215.3 479.1 211.2 474.4z"/>
<path class=y d="M203.6 459 207.7 464.1 215.4 458.1 211.3 452.8z"/>
<path class=g d="M184.1 492.3 188.1 496.8 195.8 491.7 191.8 487z"/>
<path class=b d="M184.1 484.4 188.1 488.4 195.8 484 191.8 479.8z"/>
<path class=y d="M184.1 465.5 188.1 470 195.9 464.8 191.8 460.1z"/>
<path class=g d="M164.6 498.1 168.6 502 176.3 497.3 172.3 493.1z"/>
<path class=b d="M164.6 489.2 168.6 492.6 176.3 488.6 172.4 485z"/>
<path class=y d="M164.6 471.2 168.6 475.1 176.3 470.6 172.4 466.4z"/>
<path class=g d="M145.2 503.7 149 507.1 156.8 502.7 152.9 499.1z"/>
<path class=b d="M145.1 493.7 149 496.6 156.8 493 152.9 489.9z"/>
<path class=y d="M145.1 476.8 149 480.3 156.8 475.6 152.9 471.8z"/>
<path class=g d="M125.7 508.9 129.5 511.8 137.4 507.9 133.5 504.8z"/>
<path class=b d="M125.7 497.8 129.5 500.2 137.3 497.1 133.5 494.5z"/>
<path class=y d="M125.7 485.5 129.5 488.3 137.3 482.1 133.5 478.9z"/>
<path class=g d="M106.3 513.7 110 516.1 117.9 512.7 114.1 510.1z"/>
<path class=b d="M106.2 501.5 110 503.4 117.9 500.8 114.1 498.7z"/>
<path class=y d="M106.2 491.4 110 493.8 117.8 490.2 114.1 487.6z"/>
<path class=g d="M86.8 517.9 90.5 519.8 98.4 516.9 94.7 514.8z"/>
<path class=b d="M86.8 504.7 90.5 506.2 98.4 504 94.7 502.4z"/>
<path class=y d="M86.8 495.2 90.4 497.3 98.3 494.6 94.6 492.4z"/>
<path class=g d="M67.4 521.3 71 522.7 78.9 520.5 75.3 518.9z"/>
<path class=b d="M67.4 507.4 71 508.4 78.9 506.7 75.3 505.6z"/>
<path class=y d="M67.3 498.2 70.9 499.7 78.9 497.5 75.2 495.8z"/>
<path class=g d="M48 523.9 51.5 524.8 59.5 523.3 55.9 522.1z"/>
<path class=b d="M47.9 509.5 51.4 509.9 59.4 508.9 55.9 508.2z"/>
<path class=y d="M47.9 501.8 51.4 502.6 59.4 500.4 55.8 499.3z"/>
<path class=g d="M234.8 480.5 239 486.5 246.7 480.9 242.5 474.8z"/>
<path class=b d="M234.8 474.1 239 479.5 246.7 474.3 242.5 468.7z"/>
<path class=y d="M234.9 450.2 239.1 456.1 246.8 448.2 242.6 442.2z"/>
<path class=g d="M215.3 486.1 219.4 491.4 227.1 486.1 223 480.5z"/>
<path class=b d="M215.3 479.1 219.5 484 227.2 479.1 223 474.1z"/>
<path class=y d="M215.4 458.1 219.5 463.5 227.2 457.2 223.1 451.6z"/>
<path class=g d="M195.8 491.7 199.9 496.5 207.6 491.4 203.5 486.4z"/>
<path class=b d="M195.8 484 199.9 488.3 207.6 483.8 203.5 479.3z"/>
<path class=y d="M195.9 464.8 199.9 469.6 207.7 464.1 203.6 459z"/>
<path class=g d="M176.3 497.3 180.3 501.6 188.1 496.8 184.1 492.3z"/>
<path class=b d="M176.3 488.6 180.3 492.5 188.1 488.4 184.1 484.4z"/>
<path class=y d="M176.3 470.6 180.3 474.8 188.1 470 184.1 465.5z"/>
<path class=g d="M156.8 502.7 160.8 506.5 168.6 502 164.6 498.1z"/>
<path class=b d="M156.8 493 160.8 496.4 168.6 492.6 164.6 489.2z"/>
<path class=y d="M156.8 475.6 160.8 479.3 168.6 475.1 164.6 471.2z"/>
<path class=g d="M137.4 507.9 141.2 511.2 149 507.1 145.2 503.7z"/>
<path class=b d="M137.3 497.1 141.2 499.9 149 496.6 145.1 493.7z"/>
<path class=y d="M137.3 482.1 141.2 485.3 149 480.3 145.1 476.8z"/>
<path class=g d="M117.9 512.7 121.7 515.4 129.5 511.8 125.7 508.9z"/>
<path class=b d="M117.9 500.8 121.7 503.1 129.5 500.2 125.7 497.8z"/>
<path class=y d="M117.8 490.2 121.6 492.8 129.5 488.3 125.7 485.5z"/>
<path class=g d="M98.4 516.9 102.1 519.1 110 516.1 106.3 513.7z"/>
<path class=b d="M98.4 504 102.1 505.8 110 503.4 106.2 501.5z"/>
<path class=y d="M98.3 494.6 102.1 496.8 110 493.8 106.2 491.4z"/>
<path class=g d="M78.9 520.5 82.6 522.2 90.5 519.8 86.8 517.9z"/>
<path class=b d="M78.9 506.7 82.5 508 90.5 506.2 86.8 504.7z"/>
<path class=y d="M78.9 497.5 82.5 499.4 90.4 497.3 86.8 495.2z"/>
<path class=g d="M59.5 523.3 63.1 524.5 71 522.7 67.4 521.3z"/>
<path class=b d="M59.4 508.9 63 509.6 71 508.4 67.4 507.4z"/>
<path class=y d="M59.4 500.4 63 501.7 70.9 499.7 67.3 498.2z"/>
<path class=g d="M227.1 486.1 231.3 491.9 239 486.5 234.8 480.5z"/>
<path class=b d="M227.2 479.1 231.3 484.4 239 479.5 234.8 474.1z"/>
<path class=y d="M227.2 457.2 231.4 463 239.1 456.1 234.9 450.2z"/>
<path class=g d="M207.6 491.4 211.7 496.6 219.4 491.4 215.3 486.1z"/>
<path class=b d="M207.6 483.8 211.7 488.6 219.5 484 215.3 479.1z"/>
<path class=y d="M207.7 464.1 211.8 469.4 219.5 463.5 215.4 458.1z"/>
<path class=g d="M188.1 496.8 192.1 501.4 199.9 496.5 195.8 491.7z"/>
<path class=b d="M188.1 488.4 192.1 492.6 199.9 488.3 195.8 484z"/>
<path class=y d="M188.1 470 192.2 474.7 199.9 469.6 195.9 464.8z"/>
<path class=g d="M168.6 502 172.5 506.2 180.3 501.6 176.3 497.3z"/>
<path class=b d="M168.6 492.6 172.5 496.3 180.3 492.5 176.3 488.6z"/>
<path class=y d="M168.6 475.1 172.5 479.2 180.3 474.8 176.3 470.6z"/>
<path class=g d="M149 507.1 152.9 510.7 160.8 506.5 156.8 502.7z"/>
<path class=b d="M149 496.6 152.9 499.8 160.8 496.4 156.8 493z"/>
<path class=y d="M149 480.3 152.9 483.8 160.8 479.3 156.8 475.6z"/>
<path class=g d="M129.5 511.8 133.4 514.9 141.2 511.2 137.4 507.9z"/>
<path class=b d="M129.5 500.2 133.4 502.9 141.2 499.9 137.3 497.1z"/>
<path class=y d="M129.5 488.3 133.3 491.2 141.2 485.3 137.3 482.1z"/>
<path class=g d="M110 516.1 113.8 518.6 121.7 515.4 117.9 512.7z"/>
<path class=b d="M110 503.4 113.8 505.6 121.7 503.1 117.9 500.8z"/>
<path class=y d="M110 493.8 113.7 496.3 121.6 492.8 117.8 490.2z"/>
<path class=g d="M90.5 519.8 94.2 521.8 102.1 519.1 98.4 516.9z"/>
<path class=b d="M90.5 506.2 94.2 507.8 102.1 505.8 98.4 504z"/>
<path class=y d="M90.4 497.3 94.1 499.4 102.1 496.8 98.3 494.6z"/>
<path class=g d="M71 522.7 74.7 524.2 82.6 522.2 78.9 520.5z"/>
<path class=b d="M71 508.4 74.6 509.5 82.5 508 78.9 506.7z"/>
<path class=y d="M70.9 499.7 74.6 501.4 82.5 499.4 78.9 497.5z"/>
<path class=g d="M51.5 524.8 55.1 525.8 63.1 524.5 59.5 523.3z"/>
<path class=b d="M51.4 509.9 55 510.6 63 509.6 59.4 508.9z"/>
<path class=y d="M51.4 502.6 55 503.5 63 501.7 59.4 500.4z"/>
<path class=g d="M239 486.5 243.2 492.6 250.9 487.3 246.7 480.9z"/>
<path class=b d="M239 479.5 243.3 485.1 251 480.1 246.7 474.3z"/>
<path class=y d="M239.1 456.1 243.3 462.3 251.1 454.5 246.8 448.2z"/>
<path class=g d="M219.4 491.4 223.6 497 231.3 491.9 227.1 486.1z"/>
<path class=b d="M219.5 484 223.6 489.1 231.3 484.4 227.2 479.1z"/>
<path class=y d="M219.5 463.5 223.7 469.2 231.4 463 227.2 457.2z"/>
<path class=g d="M199.9 496.5 204 501.6 211.7 496.6 207.6 491.4z"/>
<path class=b d="M199.9 488.3 204 492.9 211.7 488.6 207.6 483.8z"/>
<path class=y d="M199.9 469.6 204 474.7 211.8 469.4 207.7 464.1z"/>
<path class=g d="M180.3 501.6 184.3 506.1 192.1 501.4 188.1 496.8z"/>
<path class=b d="M180.3 492.5 184.4 496.5 192.1 492.6 188.1 488.4z"/>
<path class=y d="M180.3 474.8 184.4 479.3 192.2 474.7 188.1 470z"/>
<path class=g d="M160.8 506.5 164.7 510.5 172.5 506.2 168.6 502z"/>
<path class=b d="M160.8 496.4 164.7 499.9 172.5 496.3 168.6 492.6z"/>
<path class=y d="M160.8 479.3 164.7 483.2 172.5 479.2 168.6 475.1z"/>
<path class=g d="M141.2 511.2 145.1 514.6 152.9 510.7 149 507.1z"/>
<path class=b d="M141.2 499.9 145.1 502.9 152.9 499.8 149 496.6z"/>
<path class=y d="M141.2 485.3 145.1 488.6 152.9 483.8 149 480.3z"/>
<path class=g d="M121.7 515.4 125.5 518.3 133.4 514.9 129.5 511.8z"/>
<path class=b d="M121.7 503.1 125.5 505.5 133.4 502.9 129.5 500.2z"/>
<path class=y d="M121.6 492.8 125.5 495.5 133.3 491.2 129.5 488.3z"/>
<path class=g d="M102.1 519.1 105.9 521.5 113.8 518.6 110 516.1z"/>
<path class=b d="M102.1 505.8 105.8 507.7 113.8 505.6 110 503.4z"/>
<path class=y d="M102.1 496.8 105.8 499.1 113.7 496.3 110 493.8z"/>
<path class=g d="M82.6 522.2 86.3 524 94.2 521.8 90.5 519.8z"/>
<path class=b d="M82.5 508 86.2 509.4 94.2 507.8 90.5 506.2z"/>
<path class=y d="M82.5 499.4 86.2 501.3 94.1 499.4 90.4 497.3z"/>
<path class=g d="M63.1 524.5 66.7 525.8 74.7 524.2 71 522.7z"/>
<path class=b d="M63 509.6 66.6 510.6 74.6 509.5 71 508.4z"/>
<path class=y d="M63 501.7 66.6 503.1 74.6 501.4 70.9 499.7z"/>
<path class=g d="M231.3 491.9 235.5 497.8 243.2 492.6 239 486.5z"/>
<path class=b d="M231.3 484.4 235.5 489.9 243.3 485.1 239 479.5z"/>
<path class=y d="M231.4 463 235.6 469 243.3 462.3 239.1 456.1z"/>
<path class=g d="M211.7 496.6 215.9 502 223.6 497 219.4 491.4z"/>
<path class=b d="M211.7 488.6 215.9 493.5 223.6 489.1 219.5 484z"/>
<path class=y d="M211.8 469.4 215.9 474.8 223.7 469.2 219.5 463.5z"/>
<path class=g d="M192.1 501.4 196.2 506.3 204 501.6 199.9 496.5z"/>
<path class=b d="M192.1 492.6 196.2 497 204 492.9 199.9 488.3z"/>
<path class=y d="M192.2 474.7 196.2 479.6 204 474.7 199.9 469.6z"/>
<path class=g d="M172.5 506.2 176.5 510.5 184.3 506.1 180.3 501.6z"/>
<path class=b d="M172.5 496.3 176.5 500.2 184.4 496.5 180.3 492.5z"/>
<path class=y d="M172.5 479.2 176.6 483.5 184.4 479.3 180.3 474.8z"/>
<path class=g d="M152.9 510.7 156.9 514.4 164.7 510.5 160.8 506.5z"/>
<path class=b d="M152.9 499.8 156.9 503.1 164.7 499.9 160.8 496.4z"/>
<path class=y d="M152.9 483.8 156.9 487.5 164.7 483.2 160.8 479.3z"/>
<path class=g d="M133.4 514.9 137.2 518.1 145.1 514.6 141.2 511.2z"/>
<path class=b d="M133.4 502.9 137.2 505.7 145.1 502.9 141.2 499.9z"/>
<path class=y d="M133.3 491.2 137.2 494.2 145.1 488.6 141.2 485.3z"/>
<path class=g d="M113.8 518.6 117.6 521.3 125.5 518.3 121.7 515.4z"/>
<path class=b d="M113.8 505.6 117.6 507.9 125.5 505.5 121.7 503.1z"/>
<path class=y d="M113.7 496.3 117.5 498.7 125.5 495.5 121.6 492.8z"/>
<path class=g d="M94.2 521.8 98 524 105.9 521.5 102.1 519.1z"/>
<path class=b d="M94.2 507.8 97.9 509.6 105.8 507.7 102.1 505.8z"/>
<path class=y d="M94.1 499.4 97.9 501.5 105.8 499.1 102.1 496.8z"/>
<path class=g d="M74.7 524.2 78.3 525.9 86.3 524 82.6 522.2z"/>
<path class=b d="M74.6 509.5 78.2 510.7 86.2 509.4 82.5 508z"/>
<path class=y d="M74.6 501.4 78.2 503.1 86.2 501.3 82.5 499.4z"/>
<path class=g d="M55.1 525.8 58.7 527 66.7 525.8 63.1 524.5z"/>
<path class=b d="M55 510.6 58.6 511.3 66.6 510.6 63 509.6z"/>
<path class=y d="M55 503.5 58.5 504.6 66.6 503.1 63 501.7z"/>
<path class=g d="M243.2 492.6 247.5 499 255.2 493.8 250.9 487.3z"/>
<path class=b d="M243.3 485.1 247.5 491 255.2 486.1 251 480.1z"/>
<path class=y d="M243.3 462.3 247.6 468.7 255.3 461 251.1 454.5z"/>
<path class=g d="M223.6 497 227.8 502.8 235.5 497.8 231.3 491.9z"/>
<path class=b d="M223.6 489.1 227.8 494.4 235.5 489.9 231.3 484.4z"/>
<path class=y d="M223.7 469.2 227.9 475 235.6 469 231.4 463z"/>
<path class=g d="M204 501.6 208.1 506.8 215.9 502 211.7 496.6z"/>
<path class=b d="M204 492.9 208.1 497.7 215.9 493.5 211.7 488.6z"/>
<path class=y d="M204 474.7 208.1 480.1 215.9 474.8 211.8 469.4z"/>
<path class=g d="M184.3 506.1 188.4 510.7 196.2 506.3 192.1 501.4z"/>
<path class=b d="M184.4 496.5 188.4 500.7 196.2 497 192.1 492.6z"/>
<path class=y d="M184.4 479.3 188.4 484 196.2 479.6 192.2 474.7z"/>
<path class=g d="M164.7 510.5 168.7 514.6 176.5 510.5 172.5 506.2z"/>
<path class=b d="M164.7 499.9 168.7 503.6 176.5 500.2 172.5 496.3z"/>
<path class=y d="M164.7 483.2 168.7 487.3 176.6 483.5 172.5 479.2z"/>
<path class=g d="M145.1 514.6 149 518.1 156.9 514.4 152.9 510.7z"/>
<path class=b d="M145.1 502.9 149 506.1 156.9 503.1 152.9 499.8z"/>
<path class=y d="M145.1 488.6 149 492 156.9 487.5 152.9 483.8z"/>
<path class=g d="M125.5 518.3 129.3 521.3 137.2 518.1 133.4 514.9z"/>
<path class=b d="M125.5 505.5 129.3 508.2 137.2 505.7 133.4 502.9z"/>
<path class=y d="M125.5 495.5 129.3 498.2 137.2 494.2 133.3 491.2z"/>
<path class=g d="M105.9 521.5 109.7 524 117.6 521.3 113.8 518.6z"/>
<path class=b d="M105.8 507.7 109.6 509.9 117.6 507.9 113.8 505.6z"/>
<path class=y d="M105.8 499.1 109.6 501.4 117.5 498.7 113.7 496.3z"/>
<path class=g d="M86.3 524 90 526 98 524 94.2 521.8z"/>
<path class=b d="M86.2 509.4 89.9 511 97.9 509.6 94.2 507.8z"/>
<path class=y d="M86.2 501.3 89.9 503.3 97.9 501.5 94.1 499.4z"/>
<path class=g d="M66.7 525.8 70.3 527.3 78.3 525.9 74.7 524.2z"/>
<path class=b d="M66.6 510.6 70.2 511.7 78.2 510.7 74.6 509.5z"/>
<path class=y d="M66.6 503.1 70.2 504.6 78.2 503.1 74.6 501.4z"/>
<path class=g d="M235.5 497.8 239.8 504 247.5 499 243.2 492.6z"/>
<path class=b d="M235.5 489.9 239.8 495.6 247.5 491 243.3 485.1z"/>
<path class=y d="M235.6 469 239.9 475.3 247.6 468.7 243.3 462.3z"/>
<path class=g d="M215.9 502 220 507.6 227.8 502.8 223.6 497z"/>
<path class=b d="M215.9 493.5 220 498.7 227.8 494.4 223.6 489.1z"/>
<path class=y d="M215.9 474.8 220.1 480.6 227.9 475 223.7 469.2z"/>
<path class=g d="M196.2 506.3 200.3 511.3 208.1 506.8 204 501.6z"/>
<path class=b d="M196.2 497 200.3 501.6 208.1 497.7 204 492.9z"/>
<path class=y d="M196.2 479.6 200.3 484.8 208.1 480.1 204 474.7z"/>
<path class=g d="M176.5 510.5 180.6 514.9 188.4 510.7 184.3 506.1z"/>
<path class=b d="M176.5 500.2 180.6 504.2 188.4 500.7 184.4 496.5z"/>
<path class=y d="M176.6 483.5 180.6 488.1 188.4 484 184.4 479.3z"/>
<path class=g d="M156.9 514.4 160.9 518.4 168.7 514.6 164.7 510.5z"/>
<path class=b d="M156.9 503.1 160.8 506.6 168.7 503.6 164.7 499.9z"/>
<path class=y d="M156.9 487.5 160.8 491.3 168.7 487.3 164.7 483.2z"/>
<path class=g d="M137.2 518.1 141.1 521.5 149 518.1 145.1 514.6z"/>
<path class=b d="M137.2 505.7 141.1 508.7 149 506.1 145.1 502.9z"/>
<path class=y d="M137.2 494.2 141.1 497.2 149 492 145.1 488.6z"/>
<path class=g d="M117.6 521.3 121.4 524.1 129.3 521.3 125.5 518.3z"/>
<path class=b d="M117.6 507.9 121.4 510.3 129.3 508.2 125.5 505.5z"/>
<path class=y d="M117.5 498.7 121.4 501.3 129.3 498.2 125.5 495.5z"/>
<path class=g d="M98 524 101.7 526.2 109.7 524 105.9 521.5z"/>
<path class=b d="M97.9 509.6 101.7 511.5 109.6 509.9 105.8 507.7z"/>
<path class=y d="M97.9 501.5 101.6 503.7 109.6 501.4 105.8 499.1z"/>
<path class=g d="M78.3 525.9 82 527.6 90 526 86.3 524z"/>
<path class=b d="M78.2 510.7 81.9 512.2 89.9 511 86.2 509.4z"/>
<path class=y d="M78.2 503.1 81.9 504.9 89.9 503.3 86.2 501.3z"/>
<path class=g d="M58.7 527 62.3 528.2 70.3 527.3 66.7 525.8z"/>
<path class=b d="M58.6 511.3 62.2 512.2 70.2 511.7 66.6 510.6z"/>
<path class=y d="M58.5 504.6 62.2 505.8 70.2 504.6 66.6 503.1z"/>
<path class=g d="M247.5 499 251.8 505.6 259.5 500.6 255.2 493.8z"/>
<path class=b d="M247.5 491 251.8 497.1 259.5 492.4 255.2 486.1z"/>
<path class=y d="M247.6 468.7 251.9 475.4 259.6 467.8 255.3 461z"/>
<path class=g d="M227.8 502.8 232 508.9 239.8 504 235.5 497.8z"/>
<path class=b d="M227.8 494.4 232 500 239.8 495.6 235.5 489.9z"/>
<path class=y d="M227.9 475 232.1 481.2 239.9 475.3 235.6 469z"/>
<path class=g d="M208.1 506.8 212.2 512.2 220 507.6 215.9 502z"/>
<path class=b d="M208.1 497.7 212.3 502.7 220 498.7 215.9 493.5z"/>
<path class=y d="M208.1 480.1 212.3 485.6 220.1 480.6 215.9 474.8z"/>
<path class=g d="M188.4 510.7 192.5 515.6 200.3 511.3 196.2 506.3z"/>
<path class=b d="M188.4 500.7 192.5 505.2 200.3 501.6 196.2 497z"/>
<path class=y d="M188.4 484 192.5 489 200.3 484.8 196.2 479.6z"/>
<path class=g d="M168.7 514.6 172.7 518.8 180.6 514.9 176.5 510.5z"/>
<path class=b d="M168.7 503.6 172.7 507.5 180.6 504.2 176.5 500.2z"/>
<path class=y d="M168.7 487.3 172.7 491.7 180.6 488.1 176.6 483.5z"/>
<path class=g d="M149 518.1 153 521.8 160.9 518.4 156.9 514.4z"/>
<path class=b d="M149 506.1 153 509.4 160.8 506.6 156.9 503.1z"/>
<path class=y d="M149 492 153 495.5 160.8 491.3 156.9 487.5z"/>
<path class=g d="M129.3 521.3 133.2 524.5 141.1 521.5 137.2 518.1z"/>
<path class=b d="M129.3 508.2 133.2 511 141.1 508.7 137.2 505.7z"/>
<path class=y d="M129.3 498.2 133.2 501 141.1 497.2 137.2 494.2z"/>
<path class=g d="M109.7 524 113.5 526.6 121.4 524.1 117.6 521.3z"/>
<path class=b d="M109.6 509.9 113.4 512.2 121.4 510.3 117.6 507.9z"/>
<path class=y d="M109.6 501.4 113.4 503.8 121.4 501.3 117.5 498.7z"/>
<path class=g d="M90 526 93.7 528.1 101.7 526.2 98 524z"/>
<path class=b d="M89.9 511 93.7 512.8 101.7 511.5 97.9 509.6z"/>
<path class=y d="M89.9 503.3 93.6 505.3 101.6 503.7 97.9 501.5z"/>
<path class=g d="M70.3 527.3 74 528.8 82 527.6 78.3 525.9z"/>
<path class=b d="M70.2 511.7 73.9 512.9 81.9 512.2 78.2 510.7z"/>
<path class=y d="M70.2 504.6 73.9 506.1 81.9 504.9 78.2 503.1z"/>
<path class=g d="M239.8 504 244 510.5 251.8 505.6 247.5 499z"/>
<path class=b d="M239.8 495.6 244 501.5 251.8 497.1 247.5 491z"/>
<path class=y d="M239.9 475.3 244.1 481.9 251.9 475.4 247.6 468.7z"/>
<path class=g d="M220 507.6 224.2 513.5 232 508.9 227.8 502.8z"/>
<path class=b d="M220 498.7 224.2 504.1 232 500 227.8 494.4z"/>
<path class=y d="M220.1 480.6 224.3 486.5 232.1 481.2 227.9 475z"/>
<path class=g d="M200.3 511.3 204.4 516.6 212.2 512.2 208.1 506.8z"/>
<path class=b d="M200.3 501.6 204.4 506.4 212.3 502.7 208.1 497.7z"/>
<path class=y d="M200.3 484.8 204.5 490.2 212.3 485.6 208.1 480.1z"/>
<path class=g d="M180.6 514.9 184.6 519.6 192.5 515.6 188.4 510.7z"/>
<path class=b d="M180.6 504.2 184.6 508.5 192.5 505.2 188.4 500.7z"/>
<path class=y d="M180.6 488.1 184.7 492.9 192.5 489 188.4 484z"/>
<path class=g d="M160.9 518.4 164.8 522.5 172.7 518.8 168.7 514.6z"/>
<path class=b d="M160.8 506.6 164.8 510.4 172.7 507.5 168.7 503.6z"/>
<path class=y d="M160.8 491.3 164.8 495.5 172.7 491.7 168.7 487.3z"/>
<path class=g d="M141.1 521.5 145.1 525 153 521.8 149 518.1z"/>
<path class=b d="M141.1 508.7 145 511.9 153 509.4 149 506.1z"/>
<path class=y d="M141.1 497.2 145 500.4 153 495.5 149 492z"/>
<path class=g d="M121.4 524.1 125.3 527.1 133.2 524.5 129.3 521.3z"/>
<path class=b d="M121.4 510.3 125.2 513 133.2 511 129.3 508.2z"/>
<path class=y d="M121.4 501.3 125.2 503.9 133.2 501 129.3 498.2z"/>
<path class=g d="M101.7 526.2 105.5 528.7 113.5 526.6 109.7 524z"/>
<path class=b d="M101.7 511.5 105.4 513.6 113.4 512.2 109.6 509.9z"/>
<path class=y d="M101.6 503.7 105.4 506 113.4 503.8 109.6 501.4z"/>
<path class=g d="M82 527.6 85.7 529.5 93.7 528.1 90 526z"/>
<path class=b d="M81.9 512.2 85.6 513.8 93.7 512.8 89.9 511z"/>
<path class=y d="M81.9 504.9 85.6 506.7 93.6 505.3 89.9 503.3z"/>
<path class=g d="M62.3 528.2 65.9 529.5 74 528.8 70.3 527.3z"/>
<path class=b d="M62.2 512.2 65.8 513.3 73.9 512.9 70.2 511.7z"/>
<path class=y d="M62.2 505.8 65.8 507 73.9 506.1 70.2 504.6z"/>
<path class=g d="M251.8 505.6 256.1 512.5 263.8 507.7 259.5 500.6z"/>
<path class=b d="M251.8 497.1 256.1 503.5 263.9 498.9 259.5 492.4z"/>
<path class=y d="M251.9 475.4 256.2 482.1 264 474.6 259.6 467.8z"/>
<path class=g d="M232 508.9 236.2 515.1 244 510.5 239.8 504z"/>
<path class=b d="M232 500 236.3 505.8 244 501.5 239.8 495.6z"/>
<path class=y d="M232.1 481.2 236.3 487.6 244.1 481.9 239.9 475.3z"/>
<path class=g d="M212.2 512.2 216.4 517.9 224.2 513.5 220 507.6z"/>
<path class=b d="M212.3 502.7 216.4 507.9 224.2 504.1 220 498.7z"/>
<path class=y d="M212.3 485.6 216.5 491.4 224.3 486.5 220.1 480.6z"/>
<path class=g d="M192.5 515.6 196.6 520.6 204.4 516.6 200.3 511.3z"/>
<path class=b d="M192.5 505.2 196.6 509.9 204.4 506.4 200.3 501.6z"/>
<path class=y d="M192.5 489 196.6 494.3 204.5 490.2 200.3 484.8z"/>
<path class=g d="M172.7 518.8 176.8 523.3 184.6 519.6 180.6 514.9z"/>
<path class=b d="M172.7 507.5 176.8 511.6 184.6 508.5 180.6 504.2z"/>
<path class=y d="M172.7 491.7 176.8 496.4 184.7 492.9 180.6 488.1z"/>
<path class=g d="M153 521.8 156.9 525.7 164.8 522.5 160.9 518.4z"/>
<path class=b d="M153 509.4 156.9 513 164.8 510.4 160.8 506.6z"/>
<path class=y d="M153 495.5 156.9 499.5 164.8 495.5 160.8 491.3z"/>
<path class=g d="M133.2 524.5 137.1 527.8 145.1 525 141.1 521.5z"/>
<path class=b d="M133.2 511 137.1 514 145 511.9 141.1 508.7z"/>
<path class=y d="M133.2 501 137.1 504 145 500.4 141.1 497.2z"/>
<path class=g d="M113.5 526.6 117.3 529.4 125.3 527.1 121.4 524.1z"/>
<path class=b d="M113.4 512.2 117.3 514.6 125.2 513 121.4 510.3z"/>
<path class=y d="M113.4 503.8 117.2 506.3 125.2 503.9 121.4 501.3z"/>
<path class=g d="M93.7 528.1 97.5 530.3 105.5 528.7 101.7 526.2z"/>
<path class=b d="M93.7 512.8 97.4 514.8 105.4 513.6 101.7 511.5z"/>
<path class=y d="M93.6 505.3 97.4 507.4 105.4 506 101.6 503.7z"/>
<path class=g d="M74 528.8 77.6 530.5 85.7 529.5 82 527.6z"/>
<path class=b d="M73.9 512.9 77.6 514.3 85.6 513.8 81.9 512.2z"/>
<path class=y d="M73.9 506.1 77.6 507.7 85.6 506.7 81.9 504.9z"/>
<path class=g d="M244 510.5 248.3 517.1 256.1 512.5 251.8 505.6z"/>
<path class=b d="M244 501.5 248.3 507.8 256.1 503.5 251.8 497.1z"/>
<path class=y d="M244.1 481.9 248.4 488.4 256.2 482.1 251.9 475.4z"/>
<path class=g d="M224.2 513.5 228.4 519.5 236.2 515.1 232 508.9z"/>
<path class=b d="M224.2 504.1 228.5 509.7 236.3 505.8 232 500z"/>
<path class=y d="M224.3 486.5 228.5 492.8 236.3 487.6 232.1 481.2z"/>
<path class=g d="M204.4 516.6 208.6 522 216.4 517.9 212.2 512.2z"/>
<path class=b d="M204.4 506.4 208.6 511.5 216.4 507.9 212.3 502.7z"/>
<path class=y d="M204.5 490.2 208.6 495.8 216.5 491.4 212.3 485.6z"/>
<path class=g d="M184.6 519.6 188.7 524.5 196.6 520.6 192.5 515.6z"/>
<path class=b d="M184.6 508.5 188.7 513 196.6 509.9 192.5 505.2z"/>
<path class=y d="M184.7 492.9 188.8 498 196.6 494.3 192.5 489z"/>
<path class=g d="M164.8 522.5 168.9 526.7 176.8 523.3 172.7 518.8z"/>
<path class=b d="M164.8 510.4 168.9 514.3 176.8 511.6 172.7 507.5z"/>
<path class=y d="M164.8 495.5 168.9 500 176.8 496.4 172.7 491.7z"/>
<path class=g d="M145.1 525 149 528.7 156.9 525.7 153 521.8z"/>
<path class=b d="M145 511.9 149 515.3 156.9 513 153 509.4z"/>
<path class=y d="M145 500.4 149 504 156.9 499.5 153 495.5z"/>
<path class=g d="M125.3 527.1 129.2 530.3 137.1 527.8 133.2 524.5z"/>
<path class=b d="M125.2 513 129.1 515.8 137.1 514 133.2 511z"/>
<path class=y d="M125.2 503.9 129.1 506.7 137.1 504 133.2 501z"/>
<path class=g d="M105.5 528.7 109.3 531.2 117.3 529.4 113.5 526.6z"/>
<path class=b d="M105.4 513.6 109.3 515.9 117.3 514.6 113.4 512.2z"/>
<path class=y d="M105.4 506 109.2 508.3 117.2 506.3 113.4 503.8z"/>
<path class=g d="M85.7 529.5 89.4 531.5 97.5 530.3 93.7 528.1z"/>
<path class=b d="M85.6 513.8 89.4 515.5 97.4 514.8 93.7 512.8z"/>
<path class=y d="M85.6 506.7 89.4 508.6 97.4 507.4 93.6 505.3z"/>
<path class=g d="M65.9 529.5 69.6 531 77.6 530.5 74 528.8z"/>
<path class=b d="M65.8 513.3 69.5 514.5 77.6 514.3 73.9 512.9z"/>
<path class=y d="M65.8 507 69.5 508.2 77.6 507.7 73.9 506.1z"/>
<path class=g d="M256.1 512.5 260.4 519.6 268.2 515 263.8 507.7z"/>
<path class=b d="M256.1 503.5 260.4 510.1 268.2 505.7 263.9 498.9z"/>
<path class=y d="M256.2 482.1 260.5 488.9 268.3 481.5 264 474.6z"/>
<path class=g d="M236.2 515.1 240.5 521.6 248.3 517.1 244 510.5z"/>
<path class=b d="M236.3 505.8 240.5 511.8 248.3 507.8 244 501.5z"/>
<path class=y d="M236.3 487.6 240.6 494 248.4 488.4 244.1 481.9z"/>
<path class=g d="M216.4 517.9 220.6 523.7 228.4 519.5 224.2 513.5z"/>
<path class=b d="M216.4 507.9 220.6 513.4 228.5 509.7 224.2 504.1z"/>
<path class=y d="M216.5 491.4 220.7 497.5 228.5 492.8 224.3 486.5z"/>
<path class=g d="M196.6 520.6 200.7 525.9 208.6 522 204.4 516.6z"/>
<path class=b d="M196.6 509.9 200.7 514.8 208.6 511.5 204.4 506.4z"/>
<path class=y d="M196.6 494.3 200.8 499.7 208.6 495.8 204.5 490.2z"/>
<path class=g d="M176.8 523.3 180.8 528 188.7 524.5 184.6 519.6z"/>
<path class=b d="M176.8 511.6 180.8 515.9 188.7 513 184.6 508.5z"/>
<path class=y d="M176.8 496.4 180.9 501.3 188.8 498 184.7 492.9z"/>
<path class=g d="M156.9 525.7 160.9 529.8 168.9 526.7 164.8 522.5z"/>
<path class=b d="M156.9 513 160.9 516.8 168.9 514.3 164.8 510.4z"/>
<path class=y d="M156.9 499.5 160.9 503.7 168.9 500 164.8 495.5z"/>
<path class=g d="M137.1 527.8 141 531.3 149 528.7 145.1 525z"/>
<path class=b d="M137.1 514 141 517.3 149 515.3 145 511.9z"/>
<path class=y d="M137.1 504 141 507.3 149 504 145 500.4z"/>
<path class=g d="M117.3 529.4 121.2 532.3 129.2 530.3 125.3 527.1z"/>
<path class=b d="M117.3 514.6 121.1 517.3 129.1 515.8 125.2 513z"/>
<path class=y d="M117.2 506.3 121.1 508.9 129.1 506.7 125.2 503.9z"/>
<path class=g d="M97.5 530.3 101.3 532.7 109.3 531.2 105.5 528.7z"/>
<path class=b d="M97.4 514.8 101.2 516.9 109.3 515.9 105.4 513.6z"/>
<path class=y d="M97.4 507.4 101.2 509.6 109.2 508.3 105.4 506z"/>
<path class=g d="M77.6 530.5 81.4 532.3 89.4 531.5 85.7 529.5z"/>
<path class=b d="M77.6 514.3 81.3 515.9 89.4 515.5 85.6 513.8z"/>
<path class=y d="M77.6 507.7 81.3 509.3 89.4 508.6 85.6 506.7z"/>
<path class=g d="M248.3 517.1 252.6 524 260.4 519.6 256.1 512.5z"/>
<path class=b d="M248.3 507.8 252.7 514.2 260.4 510.1 256.1 503.5z"/>
<path class=y d="M248.4 488.4 252.7 495.1 260.5 488.9 256.2 482.1z"/>
<path class=g d="M228.4 519.5 232.7 525.8 240.5 521.6 236.2 515.1z"/>
<path class=b d="M228.5 509.7 232.7 515.6 240.5 511.8 236.3 505.8z"/>
<path class=y d="M228.5 492.8 232.8 499 240.6 494 236.3 487.6z"/>
<path class=g d="M208.6 522 212.8 527.7 220.6 523.7 216.4 517.9z"/>
<path class=b d="M208.6 511.5 212.8 516.8 220.6 513.4 216.4 507.9z"/>
<path class=y d="M208.6 495.8 212.8 501.6 220.7 497.5 216.5 491.4z"/>
<path class=g d="M188.7 524.5 192.8 529.5 200.7 525.9 196.6 520.6z"/>
<path class=b d="M188.7 513 192.9 517.8 200.7 514.8 196.6 509.9z"/>
<path class=y d="M188.8 498 192.9 503.2 200.8 499.7 196.6 494.3z"/>
<path class=g d="M168.9 526.7 172.9 531.2 180.8 528 176.8 523.3z"/>
<path class=b d="M168.9 514.3 172.9 518.5 180.8 515.9 176.8 511.6z"/>
<path class=y d="M168.9 500 172.9 504.7 180.9 501.3 176.8 496.4z"/>
<path class=g d="M149 528.7 153 532.6 160.9 529.8 156.9 525.7z"/>
<path class=b d="M149 515.3 153 518.9 160.9 516.8 156.9 513z"/>
<path class=y d="M149 504 153 507.9 160.9 503.7 156.9 499.5z"/>
<path class=g d="M129.2 530.3 133.1 533.6 141 531.3 137.1 527.8z"/>
<path class=b d="M129.1 515.8 133 518.9 141 517.3 137.1 514z"/>
<path class=y d="M129.1 506.7 133 509.9 141 507.3 137.1 504z"/>
<path class=g d="M109.3 531.2 113.1 534 121.2 532.3 117.3 529.4z"/>
<path class=b d="M109.3 515.9 113.1 518.4 121.1 517.3 117.3 514.6z"/>
<path class=y d="M109.2 508.3 113.1 510.7 121.1 508.9 117.2 506.3z"/>
<path class=g d="M89.4 531.5 93.2 533.7 101.3 532.7 97.5 530.3z"/>
<path class=b d="M89.4 515.5 93.1 517.5 101.2 516.9 97.4 514.8z"/>
<path class=y d="M89.4 508.6 93.1 510.5 101.2 509.6 97.4 507.4z"/>
<path class=g d="M69.6 531 73.3 532.6 81.4 532.3 77.6 530.5z"/>
<path class=b d="M69.5 514.5 73.2 515.9 81.3 515.9 77.6 514.3z"/>
<path class=y d="M69.5 508.2 73.2 509.5 81.3 509.3 77.6 507.7z"/>
<path class=g d="M260.4 519.6 264.8 527 272.5 522.5 268.2 515z"/>
<path class=b d="M260.4 510.1 264.8 517 272.6 512.8 268.2 505.7z"/>
<path class=y d="M260.5 488.9 264.9 498 272.7 490.7 268.3 481.5z"/>
<path class=g d="M240.5 521.6 244.8 528.3 252.6 524 248.3 517.1z"/>
<path class=b d="M240.5 511.8 244.8 518.1 252.7 514.2 248.3 507.8z"/>
<path class=y d="M240.6 494 244.9 500.6 252.7 495.1 248.4 488.4z"/>
<path class=g d="M220.6 523.7 224.8 529.8 232.7 525.8 228.4 519.5z"/>
<path class=b d="M220.6 513.4 224.9 519.1 232.7 515.6 228.5 509.7z"/>
<path class=y d="M220.7 497.5 224.9 503.6 232.8 499 228.5 492.8z"/>
<path class=g d="M200.7 525.9 204.9 531.4 212.8 527.7 208.6 522z"/>
<path class=b d="M200.7 514.8 204.9 519.9 212.8 516.8 208.6 511.5z"/>
<path class=y d="M200.8 499.7 204.9 505.4 212.8 501.6 208.6 495.8z"/>
<path class=g d="M180.8 528 184.9 532.9 192.8 529.5 188.7 524.5z"/>
<path class=b d="M180.8 515.9 184.9 520.5 192.9 517.8 188.7 513z"/>
<path class=y d="M180.9 501.3 185 506.4 192.9 503.2 188.8 498z"/>
<path class=g d="M160.9 529.8 165 534.1 172.9 531.2 168.9 526.7z"/>
<path class=b d="M160.9 516.8 165 520.8 172.9 518.5 168.9 514.3z"/>
<path class=y d="M160.9 503.7 165 508.2 172.9 504.7 168.9 500z"/>
<path class=g d="M141 531.3 145 535 153 532.6 149 528.7z"/>
<path class=b d="M141 517.3 145 520.7 153 518.9 149 515.3z"/>
<path class=y d="M141 507.3 145 511 153 507.9 149 504z"/>
<path class=g d="M121.2 532.3 125 535.4 133.1 533.6 129.2 530.3z"/>
<path class=b d="M121.1 517.3 125 520.2 133 518.9 129.1 515.8z"/>
<path class=y d="M121.1 508.9 125 512 133 509.9 129.1 506.7z"/>
<path class=g d="M101.3 532.7 105.1 535.2 113.1 534 109.3 531.2z"/>
<path class=b d="M101.2 516.9 105 519.2 113.1 518.4 109.3 515.9z"/>
<path class=y d="M101.2 509.6 105 511.9 113.1 510.7 109.2 508.3z"/>
<path class=g d="M81.4 532.3 85.1 534.3 93.2 533.7 89.4 531.5z"/>
<path class=b d="M81.3 515.9 85 517.7 93.1 517.5 89.4 515.5z"/>
<path class=y d="M81.3 509.3 85 511 93.1 510.5 89.4 508.6z"/>
<path class=g d="M252.6 524 257 531.2 264.8 527 260.4 519.6z"/>
<path class=b d="M252.7 514.2 257 521 264.8 517 260.4 510.1z"/>
<path class=y d="M252.7 495.1 257.1 504 264.9 498 260.5 488.9z"/>
<path class=g d="M232.7 525.8 237 532.4 244.8 528.3 240.5 521.6z"/>
<path class=b d="M232.7 515.6 237 521.7 244.8 518.1 240.5 511.8z"/>
<path class=y d="M232.8 499 237.1 505.5 244.9 500.6 240.6 494z"/>
<path class=g d="M212.8 527.7 217 533.6 224.8 529.8 220.6 523.7z"/>
<path class=b d="M212.8 516.8 217 522.4 224.9 519.1 220.6 513.4z"/>
<path class=y d="M212.8 501.6 217 507.6 224.9 503.6 220.7 497.5z"/>
<path class=g d="M192.8 529.5 197 534.8 204.9 531.4 200.7 525.9z"/>
<path class=b d="M192.9 517.8 197 522.8 204.9 519.9 200.7 514.8z"/>
<path class=y d="M192.9 503.2 197 508.7 204.9 505.4 200.8 499.7z"/>
<path class=g d="M172.9 531.2 177 535.9 184.9 532.9 180.8 528z"/>
<path class=b d="M172.9 518.5 177 522.9 184.9 520.5 180.8 515.9z"/>
<path class=y d="M172.9 504.7 177 509.6 185 506.4 180.9 501.3z"/>
<path class=g d="M153 532.6 157 536.7 165 534.1 160.9 529.8z"/>
<path class=b d="M153 518.9 157 522.7 165 520.8 160.9 516.8z"/>
<path class=y d="M153 507.9 157 512 165 508.2 160.9 503.7z"/>
<path class=g d="M133.1 533.6 137 537.1 145 535 141 531.3z"/>
<path class=b d="M133 518.9 137 522.2 145 520.7 141 517.3z"/>
<path class=y d="M133 509.9 137 513.4 145 511 141 507.3z"/>
<path class=g d="M113.1 534 117 536.9 125 535.4 121.2 532.3z"/>
<path class=b d="M113.1 518.4 117 521.1 125 520.2 121.1 517.3z"/>
<path class=y d="M113.1 510.7 116.9 513.6 125 512 121.1 508.9z"/>
<path class=g d="M93.2 533.7 97 536 105.1 535.2 101.3 532.7z"/>
<path class=b d="M93.1 517.5 96.9 519.6 105 519.2 101.2 516.9z"/>
<path class=y d="M93.1 510.5 96.9 512.6 105 511.9 101.2 509.6z"/>
<path class=g d="M73.3 532.6 77 534.4 85.1 534.3 81.4 532.3z"/>
<path class=b d="M73.2 515.9 76.9 517.5 85 517.7 81.3 515.9z"/>
<path class=y d="M73.2 509.5 76.9 510.9 85 511 81.3 509.3z"/>
<path class=g d="M264.8 527 269.2 534.6 277 530.3 272.5 522.5z"/>
<path class=b d="M264.8 517 269.2 524.2 277 520.1 272.6 512.8z"/>
<path class=y d="M264.9 498 269.2 516.3 277.1 509.5 272.7 490.7z"/>
<path class=g d="M244.8 528.3 249.1 535.3 257 531.2 252.6 524z"/>
<path class=b d="M244.8 518.1 249.2 524.7 257 521 252.7 514.2z"/>
<path class=y d="M244.9 500.6 249.2 509.2 257.1 504 252.7 495.1z"/>
<path class=g d="M224.8 529.8 229.1 536.2 237 532.4 232.7 525.8z"/>
<path class=b d="M224.9 519.1 229.1 525.1 237 521.7 232.7 515.6z"/>
<path class=y d="M224.9 503.6 229.2 509.9 237.1 505.5 232.8 499z"/>
<path class=g d="M204.9 531.4 209.1 537.1 217 533.6 212.8 527.7z"/>
<path class=b d="M204.9 519.9 209.1 525.3 217 522.4 212.8 516.8z"/>
<path class=y d="M204.9 505.4 209.1 511.2 217 507.6 212.8 501.6z"/>
<path class=g d="M184.9 532.9 189.1 538 197 534.8 192.8 529.5z"/>
<path class=b d="M184.9 520.5 189.1 525.3 197 522.8 192.9 517.8z"/>
<path class=y d="M185 506.4 189.1 511.7 197 508.7 192.9 503.2z"/>
<path class=g d="M165 534.1 169 538.6 177 535.9 172.9 531.2z"/>
<path class=b d="M165 520.8 169 525 177 522.9 172.9 518.5z"/>
<path class=y d="M165 508.2 169 512.8 177 509.6 172.9 504.7z"/>
<path class=g d="M145 535 149 538.9 157 536.7 153 532.6z"/>
<path class=b d="M145 520.7 149 524.4 157 522.7 153 518.9z"/>
<path class=y d="M145 511 149 515 157 512 153 507.9z"/>
<path class=g d="M125 535.4 129 538.7 137 537.1 133.1 533.6z"/>
<path class=b d="M125 520.2 128.9 523.3 137 522.2 133 518.9z"/>
<path class=y d="M125 512 128.9 515.4 137 513.4 133 509.9z"/>
<path class=g d="M105.1 535.2 108.9 537.9 117 536.9 113.1 534z"/>
<path class=b d="M105 519.2 108.9 521.7 117 521.1 113.1 518.4z"/>
<path class=y d="M105 511.9 108.9 514.6 116.9 513.6 113.1 510.7z"/>
<path class=g d="M85.1 534.3 88.9 536.4 97 536 93.2 533.7z"/>
<path class=b d="M85 517.7 88.8 519.6 96.9 519.6 93.1 517.5z"/>
<path class=y d="M85 511 88.8 512.8 96.9 512.6 93.1 510.5z"/>
<path class=g d="M257 531.2 261.3 538.7 269.2 534.6 264.8 527z"/>
<path class=b d="M257 521 261.4 528 269.2 524.2 264.8 517z"/>
<path class=y d="M257.1 504 261.4 521.7 269.2 516.3 264.9 498z"/>
<path class=g d="M237 532.4 241.3 539.2 249.1 535.3 244.8 528.3z"/>
<path class=b d="M237 521.7 241.3 528.1 249.2 524.7 244.8 518.1z"/>
<path class=y d="M237.1 505.5 241.4 513.9 249.2 509.2 244.9 500.6z"/>
<path class=g d="M217 533.6 221.2 539.8 229.1 536.2 224.8 529.8z"/>
<path class=b d="M217 522.4 221.3 528.2 229.1 525.1 224.9 519.1z"/>
<path class=y d="M217 507.6 221.3 513.8 229.2 509.9 224.9 503.6z"/>
<path class=g d="M197 534.8 201.2 540.4 209.1 537.1 204.9 531.4z"/>
<path class=b d="M197 522.8 201.2 528 209.1 525.3 204.9 519.9z"/>
<path class=y d="M197 508.7 201.2 514.4 209.1 511.2 204.9 505.4z"/>
<path class=g d="M177 535.9 181.1 540.8 189.1 538 184.9 532.9z"/>
<path class=b d="M177 522.9 181.1 527.6 189.1 525.3 184.9 520.5z"/>
<path class=y d="M177 509.6 181.1 514.7 189.1 511.7 185 506.4z"/>
<path class=g d="M157 536.7 161 541 169 538.6 165 534.1z"/>
<path class=b d="M157 522.7 161 526.8 169 525 165 520.8z"/>
<path class=y d="M157 512 161 516.3 169 512.8 165 508.2z"/>
<path class=g d="M137 537.1 141 540.8 149 538.9 145 535z"/>
<path class=b d="M137 522.2 140.9 525.6 149 524.4 145 520.7z"/>
<path class=y d="M137 513.4 140.9 517.2 149 515 145 511z"/>
<path class=g d="M117 536.9 120.9 540 129 538.7 125 535.4z"/>
<path class=b d="M117 521.1 120.9 524.1 128.9 523.3 125 520.2z"/>
<path class=y d="M116.9 513.6 120.8 516.9 128.9 515.4 125 512z"/>
<path class=g d="M97 536 100.8 538.5 108.9 537.9 105.1 535.2z"/>
<path class=b d="M96.9 519.6 100.8 522 108.9 521.7 105 519.2z"/>
<path class=y d="M96.9 512.6 100.7 515.2 108.9 514.6 105 511.9z"/>
<path class=g d="M77 534.4 80.7 536.3 88.9 536.4 85.1 534.3z"/>
<path class=b d="M76.9 517.5 80.6 519.3 88.8 519.6 85 517.7z"/>
<path class=y d="M76.9 510.9 80.6 512.4 88.8 512.8 85 511z"/>
<path class=g d="M249.1 535.3 253.5 542.6 261.3 538.7 257 531.2z"/>
<path class=b d="M249.2 524.7 253.5 531.5 261.4 528 257 521z"/>
<path class=y d="M249.2 509.2 253.6 526.3 261.4 521.7 257.1 504z"/>
<path class=g d="M229.1 536.2 233.4 542.8 241.3 539.2 237 532.4z"/>
<path class=b d="M229.1 525.1 233.4 531.3 241.3 528.1 237 521.7z"/>
<path class=y d="M229.2 509.9 233.5 518.1 241.4 513.9 237.1 505.5z"/>
<path class=g d="M209.1 537.1 213.3 543.1 221.2 539.8 217 533.6z"/>
<path class=b d="M209.1 525.3 213.3 531 221.3 528.2 217 522.4z"/>
<path class=y d="M209.1 511.2 213.4 517.2 221.3 513.8 217 507.6z"/>
<path class=g d="M189.1 538 193.2 543.3 201.2 540.4 197 534.8z"/>
<path class=b d="M189.1 525.3 193.2 530.4 201.2 528 197 522.8z"/>
<path class=y d="M189.1 511.7 193.2 517.2 201.2 514.4 197 508.7z"/>
<path class=g d="M169 538.6 173.1 543.3 181.1 540.8 177 535.9z"/>
<path class=b d="M169 525 173.1 529.5 181.1 527.6 177 522.9z"/>
<path class=y d="M169 512.8 173.1 517.6 181.1 514.7 177 509.6z"/>
<path class=g d="M149 538.9 153 543 161 541 157 536.7z"/>
<path class=b d="M149 524.4 153 528.2 161 526.8 157 522.7z"/>
<path class=y d="M149 515 153 519 161 516.3 157 512z"/>
<path class=g d="M129 538.7 132.9 542.2 141 540.8 137 537.1z"/>
<path class=b d="M128.9 523.3 132.9 526.6 140.9 525.6 137 522.2z"/>
<path class=y d="M128.9 515.4 132.9 519 140.9 517.2 137 513.4z"/>
<path class=g d="M108.9 537.9 112.8 540.8 120.9 540 117 536.9z"/>
<path class=b d="M108.9 521.7 112.7 524.5 120.9 524.1 117 521.1z"/>
<path class=y d="M108.9 514.6 112.7 517.8 120.8 516.9 116.9 513.6z"/>
<path class=g d="M88.9 536.4 92.7 538.7 100.8 538.5 97 536z"/>
<path class=b d="M88.8 519.6 92.6 521.8 100.8 522 96.9 519.6z"/>
<path class=y d="M88.8 512.8 92.6 515.1 100.7 515.2 96.9 512.6z"/>
<path class=g d="M241.3 539.2 245.6 546.3 253.5 542.6 249.1 535.3z"/>
<path class=b d="M241.3 528.1 245.7 534.8 253.5 531.5 249.2 524.7z"/>
<path class=y d="M241.4 513.9 245.7 530.4 253.6 526.3 249.2 509.2z"/>
<path class=g d="M221.2 539.8 225.5 546.2 233.4 542.8 229.1 536.2z"/>
<path class=b d="M221.3 528.2 225.5 534.3 233.4 531.3 229.1 525.1z"/>
<path class=y d="M221.3 513.8 225.6 521.8 233.5 518.1 229.2 509.9z"/>
<path class=g d="M201.2 540.4 205.4 546.2 213.3 543.1 209.1 537.1z"/>
<path class=b d="M201.2 528 205.4 533.5 213.3 531 209.1 525.3z"/>
<path class=y d="M201.2 514.4 205.4 520.2 213.4 517.2 209.1 511.2z"/>
<path class=g d="M181.1 540.8 185.2 546 193.2 543.3 189.1 538z"/>
<path class=b d="M181.1 527.6 185.2 532.4 193.2 530.4 189.1 525.3z"/>
<path class=y d="M181.1 514.7 185.3 519.9 193.2 517.2 189.1 511.7z"/>
<path class=g d="M161 541 165.1 545.5 173.1 543.3 169 538.6z"/>
<path class=b d="M161 526.8 165.1 531.1 173.1 529.5 169 525z"/>
<path class=y d="M161 516.3 165.1 520.8 173.1 517.6 169 512.8z"/>
<path class=g d="M141 540.8 145 544.7 153 543 149 538.9z"/>
<path class=b d="M140.9 525.6 144.9 529.4 153 528.2 149 524.4z"/>
<path class=y d="M140.9 517.2 144.9 521.1 153 519 149 515z"/>
<path class=g d="M120.9 540 124.8 543.3 132.9 542.2 129 538.7z"/>
<path class=b d="M120.9 524.1 124.8 527.2 132.9 526.6 128.9 523.3z"/>
<path class=y d="M120.8 516.9 124.8 520.5 132.9 519 128.9 515.4z"/>
<path class=g d="M100.8 538.5 104.7 541.2 112.8 540.8 108.9 537.9z"/>
<path class=b d="M100.8 522 104.6 524.5 112.7 524.5 108.9 521.7z"/>
<path class=y d="M100.7 515.2 104.6 518.1 112.7 517.8 108.9 514.6z"/>
<path class=g d="M80.7 536.3 84.5 538.4 92.7 538.7 88.9 536.4z"/>
<path class=b d="M80.6 519.3 84.4 521.3 92.6 521.8 88.8 519.6z"/>
<path class=y d="M80.6 512.4 84.4 514.3 92.6 515.1 88.8 512.8z"/>
<path class=g d="M233.4 542.8 237.7 549.7 245.6 546.3 241.3 539.2z"/>
<path class=b d="M233.4 531.3 237.8 537.9 245.7 534.8 241.3 528.1z"/>
<path class=y d="M233.5 518.1 237.8 534 245.7 530.4 241.4 513.9z"/>
<path class=g d="M213.3 543.1 217.6 549.3 225.5 546.2 221.2 539.8z"/>
<path class=b d="M213.3 531 217.6 536.9 225.5 534.3 221.3 528.2z"/>
<path class=y d="M213.4 517.2 217.6 525 225.6 521.8 221.3 513.8z"/>
<path class=g d="M193.2 543.3 197.4 548.9 205.4 546.2 201.2 540.4z"/>
<path class=b d="M193.2 530.4 197.4 535.7 205.4 533.5 201.2 528z"/>
<path class=y d="M193.2 517.2 197.4 522.9 205.4 520.2 201.2 514.4z"/>
<path class=g d="M173.1 543.3 177.2 548.3 185.2 546 181.1 540.8z"/>
<path class=b d="M173.1 529.5 177.2 534.2 185.2 532.4 181.1 527.6z"/>
<path class=y d="M173.1 517.6 177.2 522.6 185.3 519.9 181.1 514.7z"/>
<path class=g d="M153 543 157 547.3 165.1 545.5 161 541z"/>
<path class=b d="M153 528.2 157 532.4 165.1 531.1 161 526.8z"/>
<path class=y d="M153 519 157 523.3 165.1 520.8 161 516.3z"/>
<path class=g d="M132.9 542.2 136.9 545.9 145 544.7 141 540.8z"/>
<path class=b d="M132.9 526.6 136.8 530.1 144.9 529.4 140.9 525.6z"/>
<path class=y d="M132.9 519 136.8 522.8 144.9 521.1 140.9 517.2z"/>
<path class=g d="M112.8 540.8 116.7 543.9 124.8 543.3 120.9 540z"/>
<path class=b d="M112.7 524.5 116.6 527.4 124.8 527.2 120.9 524.1z"/>
<path class=y d="M112.7 517.8 116.6 521.2 124.8 520.5 120.8 516.9z"/>
<path class=g d="M92.7 538.7 96.5 541.2 104.7 541.2 100.8 538.5z"/>
<path class=b d="M92.6 521.8 96.4 524.2 104.6 524.5 100.8 522z"/>
<path class=y d="M92.6 515.1 96.4 517.8 104.6 518.1 100.7 515.2z"/>
<path class=g d="M225.5 546.2 229.8 552.9 237.7 549.7 233.4 542.8z"/>
<path class=b d="M225.5 534.3 229.8 540.6 237.8 537.9 233.4 531.3z"/>
<path class=y d="M225.6 521.8 229.8 537 237.8 534 233.5 518.1z"/>
<path class=g d="M205.4 546.2 209.6 552.2 217.6 549.3 213.3 543.1z"/>
<path class=b d="M205.4 533.5 209.6 539.2 217.6 536.9 213.3 531z"/>
<path class=y d="M205.4 520.2 209.6 527.8 217.6 525 213.4 517.2z"/>
<path class=g d="M185.2 546 189.4 551.4 197.4 548.9 193.2 543.3z"/>
<path class=b d="M185.2 532.4 189.4 537.6 197.4 535.7 193.2 530.4z"/>
<path class=y d="M185.3 519.9 189.4 525.5 197.4 522.9 193.2 517.2z"/>
<path class=g d="M165.1 545.5 169.2 550.3 177.2 548.3 173.1 543.3z"/>
<path class=b d="M165.1 531.1 169.2 535.6 177.2 534.2 173.1 529.5z"/>
<path class=y d="M165.1 520.8 169.2 525.5 177.2 522.6 173.1 517.6z"/>
<path class=g d="M145 544.7 149 548.8 157 547.3 153 543z"/>
<path class=b d="M144.9 529.4 149 533.3 157 532.4 153 528.2z"/>
<path class=y d="M144.9 521.1 149 525.2 157 523.3 153 519z"/>
<path class=g d="M124.8 543.3 128.8 546.8 136.9 545.9 132.9 542.2z"/>
<path class=b d="M124.8 527.2 128.7 530.5 136.8 530.1 132.9 526.6z"/>
<path class=y d="M124.8 520.5 128.7 524.1 136.8 522.8 132.9 519z"/>
<path class=g d="M104.7 541.2 108.5 544.1 116.7 543.9 112.8 540.8z"/>
<path class=b d="M104.6 524.5 108.5 527.3 116.6 527.4 112.7 524.5z"/>
<path class=y d="M104.6 518.1 108.5 521.4 116.6 521.2 112.7 517.8z"/>
<path class=g d="M84.5 538.4 88.3 540.6 96.5 541.2 92.7 538.7z"/>
<path class=b d="M84.4 521.3 88.2 523.5 96.4 524.2 92.6 521.8z"/>
<path class=y d="M84.4 514.3 88.2 516.8 96.4 517.8 92.6 515.1z"/>
<path class=g d="M217.6 549.3 221.8 555.8 229.8 552.9 225.5 546.2z"/>
<path class=b d="M217.6 536.9 221.9 543.1 229.8 540.6 225.5 534.3z"/>
<path class=y d="M217.6 525 221.9 539.5 229.8 537 225.6 521.8z"/>
<path class=g d="M197.4 548.9 201.6 554.8 209.6 552.2 205.4 546.2z"/>
<path class=b d="M197.4 535.7 201.6 541.3 209.6 539.2 205.4 533.5z"/>
<path class=y d="M197.4 522.9 201.6 530.3 209.6 527.8 205.4 520.2z"/>
<path class=g d="M177.2 548.3 181.4 553.5 189.4 551.4 185.2 546z"/>
<path class=b d="M177.2 534.2 181.4 539.2 189.4 537.6 185.2 532.4z"/>
<path class=y d="M177.2 522.6 181.4 528 189.4 525.5 185.3 519.9z"/>
<path class=g d="M157 547.3 161.1 551.9 169.2 550.3 165.1 545.5z"/>
<path class=b d="M157 532.4 161.1 536.7 169.2 535.6 165.1 531.1z"/>
<path class=y d="M157 523.3 161.1 527.8 169.2 525.5 165.1 520.8z"/>
<path class=g d="M136.9 545.9 140.9 549.8 149 548.8 145 544.7z"/>
<path class=b d="M136.8 530.1 140.9 533.9 149 533.3 144.9 529.4z"/>
<path class=y d="M136.8 522.8 140.8 526.7 149 525.2 144.9 521.1z"/>
<path class=g d="M116.7 543.9 120.6 547.2 128.8 546.8 124.8 543.3z"/>
<path class=b d="M116.6 527.4 120.6 530.6 128.7 530.5 124.8 527.2z"/>
<path class=y d="M116.6 521.2 120.6 524.6 128.7 524.1 124.8 520.5z"/>
<path class=g d="M96.5 541.2 100.3 543.8 108.5 544.1 104.7 541.2z"/>
<path class=b d="M96.4 524.2 100.3 526.8 108.5 527.3 104.6 524.5z"/>
<path class=y d="M96.4 517.8 100.3 520.8 108.5 521.4 104.6 518.1z"/>
<path class=g d="M209.6 552.2 213.9 558.5 221.8 555.8 217.6 549.3z"/>
<path class=b d="M209.6 539.2 213.9 545.2 221.9 543.1 217.6 536.9z"/>
<path class=y d="M209.6 527.8 213.9 541.7 221.9 539.5 217.6 525z"/>
<path class=g d="M189.4 551.4 193.6 557 201.6 554.8 197.4 548.9z"/>
<path class=b d="M189.4 537.6 193.6 543 201.6 541.3 197.4 535.7z"/>
<path class=y d="M189.4 525.5 193.6 532.6 201.6 530.3 197.4 522.9z"/>
<path class=g d="M169.2 550.3 173.3 555.3 181.4 553.5 177.2 548.3z"/>
<path class=b d="M169.2 535.6 173.3 540.4 181.4 539.2 177.2 534.2z"/>
<path class=y d="M169.2 525.5 173.3 530.5 181.4 528 177.2 522.6z"/>
<path class=g d="M149 548.8 153 553.1 161.1 551.9 157 547.3z"/>
<path class=b d="M149 533.3 153 537.5 161.1 536.7 157 532.4z"/>
<path class=y d="M149 525.2 153 529.5 161.1 527.8 157 523.3z"/>
<path class=g d="M128.8 546.8 132.7 550.5 140.9 549.8 136.9 545.9z"/>
<path class=b d="M128.7 530.5 132.7 534.1 140.9 533.9 136.8 530.1z"/>
<path class=y d="M128.7 524.1 132.7 527.9 140.8 526.7 136.8 522.8z"/>
<path class=g d="M108.5 544.1 112.4 547.2 120.6 547.2 116.7 543.9z"/>
<path class=b d="M108.5 527.3 112.4 530.3 120.6 530.6 116.6 527.4z"/>
<path class=y d="M108.5 521.4 112.4 524.6 120.6 524.6 116.6 521.2z"/>
<path class=g d="M88.3 540.6 92.1 543.1 100.3 543.8 96.5 541.2z"/>
<path class=b d="M88.2 523.5 92.1 525.9 100.3 526.8 96.4 524.2z"/>
<path class=y d="M88.2 516.8 92 519.5 100.3 520.8 96.4 517.8z"/>
<path class=g d="M201.6 554.8 205.8 560.9 213.9 558.5 209.6 552.2z"/>
<path class=b d="M201.6 541.3 205.9 547.1 213.9 545.2 209.6 539.2z"/>
<path class=y d="M201.6 530.3 205.9 543.5 213.9 541.7 209.6 527.8z"/>
<path class=g d="M181.4 553.5 185.5 558.9 193.6 557 189.4 551.4z"/>
<path class=b d="M181.4 539.2 185.6 544.4 193.6 543 189.4 537.6z"/>
<path class=y d="M181.4 528 185.6 534.7 193.6 532.6 189.4 525.5z"/>
<path class=g d="M161.1 551.9 165.2 556.7 173.3 555.3 169.2 550.3z"/>
<path class=b d="M161.1 536.7 165.2 541.4 173.3 540.4 169.2 535.6z"/>
<path class=y d="M161.1 527.8 165.2 532.7 173.3 530.5 169.2 525.5z"/>
<path class=g d="M140.9 549.8 144.9 554 153 553.1 149 548.8z"/>
<path class=b d="M140.9 533.9 144.9 537.9 153 537.5 149 533.3z"/>
<path class=y d="M140.8 526.7 144.9 530.9 153 529.5 149 525.2z"/>
<path class=g d="M120.6 547.2 124.6 550.7 132.7 550.5 128.8 546.8z"/>
<path class=b d="M120.6 530.6 124.5 534 132.7 534.1 128.7 530.5z"/>
<path class=y d="M120.6 524.6 124.5 528.3 132.7 527.9 128.7 524.1z"/>
<path class=g d="M100.3 543.8 104.2 546.7 112.4 547.2 108.5 544.1z"/>
<path class=b d="M100.3 526.8 104.2 529.6 112.4 530.3 108.5 527.3z"/>
<path class=y d="M100.3 520.8 104.2 523.8 112.4 524.6 108.5 521.4z"/>
<path class=g d="M193.6 557 197.8 562.9 205.8 560.9 201.6 554.8z"/>
<path class=b d="M193.6 543 197.8 548.7 205.9 547.1 201.6 541.3z"/>
<path class=y d="M193.6 532.6 197.8 545.2 205.9 543.5 201.6 530.3z"/>
<path class=g d="M173.3 555.3 177.5 560.5 185.5 558.9 181.4 553.5z"/>
<path class=b d="M173.3 540.4 177.5 545.5 185.6 544.4 181.4 539.2z"/>
<path class=y d="M173.3 530.5 177.5 536.9 185.6 534.7 181.4 528z"/>
<path class=g d="M153 553.1 157.1 557.7 165.2 556.7 161.1 551.9z"/>
<path class=b d="M153 537.5 157.1 541.9 165.2 541.4 161.1 536.7z"/>
<path class=y d="M153 529.5 157.1 534.3 165.2 532.7 161.1 527.8z"/>
<path class=g d="M132.7 550.5 136.7 554.4 144.9 554 140.9 549.8z"/>
<path class=b d="M132.7 534.1 136.7 538 144.9 537.9 140.9 533.9z"/>
<path class=y d="M132.7 527.9 136.7 532 144.9 530.9 140.8 526.7z"/>
<path class=g d="M112.4 547.2 116.4 550.5 124.6 550.7 120.6 547.2z"/>
<path class=b d="M112.4 530.3 116.3 533.5 124.5 534 120.6 530.6z"/>
<path class=y d="M112.4 524.6 116.3 528.1 124.5 528.3 120.6 524.6z"/>
<path class=g d="M92.1 543.1 96 545.7 104.2 546.7 100.3 543.8z"/>
<path class=b d="M92.1 525.9 95.9 528.5 104.2 529.6 100.3 526.8z"/>
<path class=y d="M92 519.5 95.9 522.2 104.2 523.8 100.3 520.8z"/>
<path class=g d="M185.5 558.9 189.7 564.7 197.8 562.9 193.6 557z"/>
<path class=b d="M185.6 544.4 189.8 549.9 197.8 548.7 193.6 543z"/>
<path class=y d="M185.6 534.7 189.8 546.6 197.8 545.2 193.6 532.6z"/>
<path class=g d="M165.2 556.7 169.4 561.7 177.5 560.5 173.3 555.3z"/>
<path class=b d="M165.2 541.4 169.4 546.2 177.5 545.5 173.3 540.4z"/>
<path class=y d="M165.2 532.7 169.4 538.8 177.5 536.9 173.3 530.5z"/>
<path class=g d="M144.9 554 149 558.4 157.1 557.7 153 553.1z"/>
<path class=b d="M144.9 537.9 148.9 542.2 157.1 541.9 153 537.5z"/>
<path class=y d="M144.9 530.9 148.9 535.6 157.1 534.3 153 529.5z"/>
<path class=g d="M124.6 550.7 128.6 554.4 136.7 554.4 132.7 550.5z"/>
<path class=b d="M124.5 534 128.5 537.6 136.7 538 132.7 534.1z"/>
<path class=y d="M124.5 528.3 128.5 532.3 136.7 532 132.7 527.9z"/>
<path class=g d="M104.2 546.7 108.1 549.8 116.4 550.5 112.4 547.2z"/>
<path class=b d="M104.2 529.6 108.1 532.6 116.3 533.5 112.4 530.3z"/>
<path class=y d="M104.2 523.8 108.1 527 116.3 528.1 112.4 524.6z"/>
<path class=g d="M177.5 560.5 181.6 566 189.7 564.7 185.5 558.9z"/>
<path class=b d="M177.5 545.5 181.7 550.8 189.8 549.9 185.6 544.4z"/>
<path class=y d="M177.5 536.9 181.7 547.9 189.8 546.6 185.6 534.7z"/>
<path class=g d="M157.1 557.7 161.2 562.6 169.4 561.7 165.2 556.7z"/>
<path class=b d="M157.1 541.9 161.2 546.6 169.4 546.2 165.2 541.4z"/>
<path class=y d="M157.1 534.3 161.2 540.2 169.4 538.8 165.2 532.7z"/>
<path class=g d="M136.7 554.4 140.8 558.6 149 558.4 144.9 554z"/>
<path class=b d="M136.7 538 140.8 542 148.9 542.2 144.9 537.9z"/>
<path class=y d="M136.7 532 140.8 536.6 148.9 535.6 144.9 530.9z"/>
<path class=g d="M116.4 550.5 120.3 554 128.6 554.4 124.6 550.7z"/>
<path class=b d="M116.3 533.5 120.3 537 128.5 537.6 124.5 534z"/>
<path class=y d="M116.3 528.1 120.3 531.9 128.5 532.3 124.5 528.3z"/>
<path class=g d="M96 545.7 99.9 548.6 108.1 549.8 104.2 546.7z"/>
<path class=b d="M95.9 528.5 99.8 531.3 108.1 532.6 104.2 529.6z"/>
<path class=y d="M95.9 522.2 99.8 525 108.1 527 104.2 523.8z"/>
<path class=g d="M169.4 561.7 173.5 567.1 181.6 566 177.5 560.5z"/>
<path class=b d="M169.4 546.2 173.5 551.4 181.7 550.8 177.5 545.5z"/>
<path class=y d="M169.4 538.8 173.5 549.1 181.7 547.9 177.5 536.9z"/>
<path class=g d="M149 558.4 153 563 161.2 562.6 157.1 557.7z"/>
<path class=b d="M148.9 542.2 153 546.7 161.2 546.6 157.1 541.9z"/>
<path class=y d="M148.9 535.6 153 541.3 161.2 540.2 157.1 534.3z"/>
<path class=g d="M128.6 554.4 132.6 558.4 140.8 558.6 136.7 554.4z"/>
<path class=b d="M128.5 537.6 132.5 541.5 140.8 542 136.7 538z"/>
<path class=y d="M128.5 532.3 132.5 536.7 140.8 536.6 136.7 532z"/>
<path class=g d="M108.1 549.8 112.1 553.1 120.3 554 116.4 550.5z"/>
<path class=b d="M108.1 532.6 112 535.9 120.3 537 116.3 533.5z"/>
<path class=y d="M108.1 527 112 530.5 120.3 531.9 116.3 528.1z"/>
<path class=g d="M161.2 562.6 165.4 567.7 173.5 567.1 169.4 561.7z"/>
<path class=b d="M161.2 546.6 165.4 551.6 173.5 551.4 169.4 546.2z"/>
<path class=y d="M161.2 540.2 165.4 549.9 173.5 549.1 169.4 538.8z"/>
<path class=g d="M140.8 558.6 144.8 563 153 563 149 558.4z"/>
<path class=b d="M140.8 542 144.8 546.4 153 546.7 148.9 542.2z"/>
<path class=y d="M140.8 536.6 144.8 542.1 153 541.3 148.9 535.6z"/>
<path class=g d="M120.3 554 124.3 557.8 132.6 558.4 128.6 554.4z"/>
<path class=b d="M120.3 537 124.3 540.7 132.5 541.5 128.5 537.6z"/>
<path class=y d="M120.3 531.9 124.3 536.2 132.5 536.7 128.5 532.3z"/>
<path class=g d="M99.9 548.6 103.8 551.7 112.1 553.1 108.1 549.8z"/>
<path class=b d="M99.8 531.3 103.7 534.4 112 535.9 108.1 532.6z"/>
<path class=y d="M99.8 525 103.7 528.3 112 530.5 108.1 527z"/>
<path class=g d="M153 563 157.2 567.9 165.4 567.7 161.2 562.6z"/>
<path class=b d="M153 546.7 157.2 551.5 165.4 551.6 161.2 546.6z"/>
<path class=y d="M153 541.3 157.2 550.3 165.4 549.9 161.2 540.2z"/>
<path class=g d="M132.6 558.4 136.6 562.6 144.8 563 140.8 558.6z"/>
<path class=b d="M132.5 541.5 136.6 545.7 144.8 546.4 140.8 542z"/>
<path class=y d="M132.5 536.7 136.6 542 144.8 542.1 140.8 536.6z"/>
<path class=g d="M112.1 553.1 116 556.6 124.3 557.8 120.3 554z"/>
<path class=b d="M112 535.9 116 539.4 124.3 540.7 120.3 537z"/>
<path class=y d="M112 530.5 116 534.6 124.3 536.2 120.3 531.9z"/>
<path class=g d="M144.8 563 148.9 567.7 157.2 567.9 153 563z"/>
<path class=b d="M144.8 546.4 148.9 551 157.2 551.5 153 546.7z"/>
<path class=y d="M144.8 542.1 148.9 550.6 157.2 550.3 153 541.3z"/>
<path class=g d="M124.3 557.8 128.3 561.8 136.6 562.6 132.6 558.4z"/>
<path class=b d="M124.3 540.7 128.3 544.6 136.6 545.7 132.5 541.5z"/>
<path class=y d="M124.3 536.2 128.3 541.3 136.6 542 132.5 536.7z"/>
<path class=g d="M103.8 551.7 107.7 555 116 556.6 112.1 553.1z"/>
<path class=b d="M103.7 534.4 107.7 537.7 116 539.4 112 535.9z"/>
<path class=y d="M103.7 528.3 107.7 532.1 116 534.6 112 530.5z"/>
<path class=g d="M136.6 562.6 140.7 567.1 148.9 567.7 144.8 563z"/>
<path class=b d="M136.6 545.7 140.7 550.1 148.9 551 144.8 546.4z"/>
<path class=y d="M136.6 542 140.7 549.9 148.9 550.6 144.8 542.1z"/>
<path class=g d="M116 556.6 120 560.4 128.3 561.8 124.3 557.8z"/>
<path class=b d="M116 539.4 120 543.2 128.3 544.6 124.3 540.7z"/>
<path class=y d="M116 534.6 120 539.4 128.3 541.3 124.3 536.2z"/>
<path class=g d="M128.3 561.8 132.4 566 140.7 567.1 136.6 562.6z"/>
<path class=b d="M128.3 544.6 132.4 548.9 140.7 550.1 136.6 545.7z"/>
<path class=y d="M128.3 541.3 132.4 548.4 140.7 549.9 136.6 542z"/>
<path class=g d="M107.7 555 111.7 558.6 120 560.4 116 556.6z"/>
<path class=b d="M107.7 537.7 111.7 541.3 120 543.2 116 539.4z"/>
<path class=y d="M107.7 532.1 111.7 536.5 120 539.4 116 534.6z"/>
<path class=g d="M120 560.4 124.1 564.5 132.4 566 128.3 561.8z"/>
<path class=b d="M120 543.2 124 547.2 132.4 548.9 128.3 544.6z"/>
<path class=y d="M120 539.4 124 545.8 132.4 548.4 128.3 541.3z"/>
<path class=g d="M111.7 558.6 115.7 562.4 124.1 564.5 120 560.4z"/>
<path class=b d="M111.7 541.3 115.7 545.2 124 547.2 120 543.2z"/>
<path class=y d="M111.7 536.5 115.7 542.1 124 545.8 120 539.4z"/>
</g>
<text x="0.6" y="358.6" font-size="19.5" font-weight="bold">c)</text>
<rect x="44" y="340" width="146" height="41.5" fill="#fff"/>
<rect x="77.7" y="348.6" width="25.5" height="5.2" fill="#fcf9aa" stroke="#505050" stroke-width="0.8"/>
<text x="110.1" y="355.1" font-size="11.2" font-weight="bold">%<tspan dx="1.5">Pent = 20%</tspan></text>
<rect x="77.7" y="364.1" width="25.5" height="5.2" fill="#9cf88f" stroke="#505050" stroke-width="0.8"/>
<text x="110.1" y="370.6" font-size="11.2" font-weight="bold">%<tspan dx="1.5">Pent = 40%</tspan></text>
<rect x="77.7" y="379.4" width="25.5" height="5.2" fill="#0000fc" stroke="#505050" stroke-width="0.8"/>
<text x="110.1" y="385.9" font-size="11.2" font-weight="bold">%<tspan dx="1.5">Pent = 60%</tspan></text>
<text x="35.5" y="549.0" font-size="7.8" fill="#2a2a3a" text-anchor="end" textLength="3.8" lengthAdjust="spacingAndGlyphs">0</text>
<text x="35.4" y="524.6" font-size="7.8" fill="#2a2a3a" text-anchor="end" textLength="3.8" lengthAdjust="spacingAndGlyphs">1</text>
<text x="35.3" y="500.1" font-size="7.8" fill="#2a2a3a" text-anchor="end" textLength="3.8" lengthAdjust="spacingAndGlyphs">2</text>
<text x="35.1" y="475.6" font-size="7.8" fill="#2a2a3a" text-anchor="end" textLength="3.8" lengthAdjust="spacingAndGlyphs">3</text>
<text x="35.0" y="451.0" font-size="7.8" fill="#2a2a3a" text-anchor="end" textLength="3.8" lengthAdjust="spacingAndGlyphs">4</text>
<text x="34.8" y="426.4" font-size="7.8" fill="#2a2a3a" text-anchor="end" textLength="3.8" lengthAdjust="spacingAndGlyphs">5</text>
<text x="34.7" y="401.7" font-size="7.8" fill="#2a2a3a" text-anchor="end" textLength="3.8" lengthAdjust="spacingAndGlyphs">6</text>
<text x="34.5" y="376.9" font-size="7.8" fill="#2a2a3a" text-anchor="end" textLength="3.8" lengthAdjust="spacingAndGlyphs">7</text>
<text x="35.9" y="570.0" font-size="7.3" fill="#2a2a3a" text-anchor="end" textLength="10.5" lengthAdjust="spacingAndGlyphs">160</text>
<text x="47.6" y="575.3" font-size="7.3" fill="#2a2a3a" text-anchor="end" textLength="10.5" lengthAdjust="spacingAndGlyphs">165</text>
<text x="59.5" y="580.6" font-size="7.3" fill="#2a2a3a" text-anchor="end" textLength="10.5" lengthAdjust="spacingAndGlyphs">170</text>
<text x="71.8" y="586.2" font-size="7.3" fill="#2a2a3a" text-anchor="end" textLength="10.5" lengthAdjust="spacingAndGlyphs">175</text>
<text x="84.3" y="591.8" font-size="7.3" fill="#2a2a3a" text-anchor="end" textLength="10.5" lengthAdjust="spacingAndGlyphs">180</text>
<text x="97.2" y="597.6" font-size="7.3" fill="#2a2a3a" text-anchor="end" textLength="10.5" lengthAdjust="spacingAndGlyphs">185</text>
<text x="110.4" y="603.5" font-size="7.3" fill="#2a2a3a" text-anchor="end" textLength="10.5" lengthAdjust="spacingAndGlyphs">190</text>
<text x="140.0" y="608.1" font-size="7.8" fill="#2a2a3a" text-anchor="middle" textLength="9.8" lengthAdjust="spacingAndGlyphs">1,4</text>
<text x="173.0" y="604.5" font-size="7.8" fill="#2a2a3a" text-anchor="middle" textLength="9.8" lengthAdjust="spacingAndGlyphs">1,2</text>
<text x="205.4" y="600.9" font-size="7.8" fill="#2a2a3a" text-anchor="middle" textLength="9.8" lengthAdjust="spacingAndGlyphs">1,0</text>
<text x="237.3" y="597.4" font-size="7.8" fill="#2a2a3a" text-anchor="middle" textLength="9.8" lengthAdjust="spacingAndGlyphs">0,8</text>
<text x="268.7" y="593.9" font-size="7.8" fill="#2a2a3a" text-anchor="middle" textLength="9.8" lengthAdjust="spacingAndGlyphs">0,6</text>
<text transform="translate(15.8,562.8) rotate(-90)" font-size="15.3" font-weight="bold"><tspan font-style="italic">y</tspan><tspan font-size="10" dy="3">3</tspan><tspan dy="-3">,(% Hemicellulose cont.)</tspan></text>
<text transform="translate(158,623.5) rotate(-7)" font-size="12.8" font-weight="bold">CatCh, g/100g</text>
<text transform="translate(41.5,599) rotate(30)" font-size="12.5" font-weight="bold"><tspan font-style="italic">T</tspan>, °C</text>
</g>
<g id="pd">
<path d="M405.0,591.0 L474.5,522.2" stroke="#c8c8c8" stroke-width="1.0" fill="none"/>
<path d="M445.4,595.6 L512.5,526.1" stroke="#c8c8c8" stroke-width="1.0" fill="none"/>
<path d="M486.2,600.2 L550.8,530.0" stroke="#c8c8c8" stroke-width="1.0" fill="none"/>
<path d="M527.6,604.9 L589.6,534.0" stroke="#c8c8c8" stroke-width="1.0" fill="none"/>
<path d="M569.5,609.6 L628.9,538.0" stroke="#c8c8c8" stroke-width="1.0" fill="none"/>
<path d="M394.3,579.7 L598.3,602.4" stroke="#c8c8c8" stroke-width="1.0" fill="none"/>
<path d="M403.6,570.7 L605.9,592.9" stroke="#c8c8c8" stroke-width="1.0" fill="none"/>
<path d="M412.7,561.9 L613.4,583.7" stroke="#c8c8c8" stroke-width="1.0" fill="none"/>
<path d="M421.6,553.3 L620.7,574.6" stroke="#c8c8c8" stroke-width="1.0" fill="none"/>
<path d="M430.3,544.8 L627.9,565.7" stroke="#c8c8c8" stroke-width="1.0" fill="none"/>
<path d="M438.9,536.5 L634.9,557.0" stroke="#c8c8c8" stroke-width="1.0" fill="none"/>
<path d="M447.4,528.4 L641.8,548.4" stroke="#c8c8c8" stroke-width="1.0" fill="none"/>
<path d="M384.5,570.5 L455.4,503.2" stroke="#c8c8c8" stroke-width="1.0" fill="none"/>
<path d="M384.1,552.2 L455.1,486.0" stroke="#c8c8c8" stroke-width="1.0" fill="none"/>
<path d="M383.6,533.8 L454.9,468.8" stroke="#c8c8c8" stroke-width="1.0" fill="none"/>
<path d="M383.2,515.3 L454.6,451.5" stroke="#c8c8c8" stroke-width="1.0" fill="none"/>
<path d="M382.8,496.8 L454.3,434.1" stroke="#c8c8c8" stroke-width="1.0" fill="none"/>
<path d="M382.3,478.1 L454.1,416.7" stroke="#c8c8c8" stroke-width="1.0" fill="none"/>
<path d="M381.9,459.4 L453.8,399.1" stroke="#c8c8c8" stroke-width="1.0" fill="none"/>
<path d="M381.4,440.7 L453.5,381.6" stroke="#c8c8c8" stroke-width="1.0" fill="none"/>
<path d="M381.0,421.8 L453.3,363.9" stroke="#c8c8c8" stroke-width="1.0" fill="none"/>
<path d="M394.3,579.7 L390.2,395.3" stroke="#c8c8c8" stroke-width="1.0" fill="none"/>
<path d="M403.6,570.7 L399.7,387.9" stroke="#c8c8c8" stroke-width="1.0" fill="none"/>
<path d="M412.7,561.9 L409.0,380.6" stroke="#c8c8c8" stroke-width="1.0" fill="none"/>
<path d="M421.6,553.3 L418.1,373.5" stroke="#c8c8c8" stroke-width="1.0" fill="none"/>
<path d="M430.3,544.8 L427.0,366.5" stroke="#c8c8c8" stroke-width="1.0" fill="none"/>
<path d="M438.9,536.5 L435.8,359.6" stroke="#c8c8c8" stroke-width="1.0" fill="none"/>
<path d="M447.4,528.4 L444.5,352.8" stroke="#c8c8c8" stroke-width="1.0" fill="none"/>
<path d="M455.4,503.2 L648.8,522.4" stroke="#c8c8c8" stroke-width="1.0" fill="none"/>
<path d="M455.1,486.0 L648.9,504.8" stroke="#c8c8c8" stroke-width="1.0" fill="none"/>
<path d="M454.9,468.8 L649.0,487.1" stroke="#c8c8c8" stroke-width="1.0" fill="none"/>
<path d="M454.6,451.5 L649.1,469.4" stroke="#c8c8c8" stroke-width="1.0" fill="none"/>
<path d="M454.3,434.1 L649.2,451.5" stroke="#c8c8c8" stroke-width="1.0" fill="none"/>
<path d="M454.1,416.7 L649.3,433.6" stroke="#c8c8c8" stroke-width="1.0" fill="none"/>
<path d="M453.8,399.1 L649.4,415.7" stroke="#c8c8c8" stroke-width="1.0" fill="none"/>
<path d="M453.5,381.6 L649.5,397.6" stroke="#c8c8c8" stroke-width="1.0" fill="none"/>
<path d="M453.3,363.9 L649.7,379.5" stroke="#c8c8c8" stroke-width="1.0" fill="none"/>
<path d="M474.5,522.2 L472.2,347.7" stroke="#c8c8c8" stroke-width="1.0" fill="none"/>
<path d="M512.5,526.1 L510.9,350.6" stroke="#c8c8c8" stroke-width="1.0" fill="none"/>
<path d="M550.8,530.0 L550.0,353.7" stroke="#c8c8c8" stroke-width="1.0" fill="none"/>
<path d="M589.6,534.0 L589.6,356.7" stroke="#c8c8c8" stroke-width="1.0" fill="none"/>
<path d="M628.9,538.0 L629.6,359.8" stroke="#c8c8c8" stroke-width="1.0" fill="none"/>
<path d="M384.9,588.8 L380.5,402.8" stroke="#404040" stroke-width="1.0" fill="none"/>
<path d="M380.5,402.8 L453.0,346.2" stroke="#404040" stroke-width="1.0" fill="none"/>
<path d="M453.0,346.2 L649.8,361.3" stroke="#404040" stroke-width="1.0" fill="none"/>
<path d="M649.8,361.3 L648.6,540.0" stroke="#404040" stroke-width="1.0" fill="none"/>
<path d="M455.7,520.3 L453.0,346.2" stroke="#404040" stroke-width="1.0" fill="none"/>
<path d="M384.9,588.8 L455.7,520.3" stroke="#404040" stroke-width="1.0" fill="none"/>
<path d="M455.7,520.3 L648.6,540.0" stroke="#404040" stroke-width="1.0" fill="none"/>
<path d="M384.9,588.8 L590.6,612.0" stroke="#2a2a2a" stroke-width="1.0" fill="none"/>
<path d="M590.6,612.0 L648.6,540.0" stroke="#2a2a2a" stroke-width="1.0" fill="none"/>
<path d="M405.0,591.0 l0,3" stroke="#2a2a2a" stroke-width="1"/>
<path d="M445.4,595.6 l0,3" stroke="#2a2a2a" stroke-width="1"/>
<path d="M486.2,600.2 l0,3" stroke="#2a2a2a" stroke-width="1"/>
<path d="M527.6,604.9 l0,3" stroke="#2a2a2a" stroke-width="1"/>
<path d="M569.5,609.6 l0,3" stroke="#2a2a2a" stroke-width="1"/>
<path d="M598.3,602.4 l3,1" stroke="#2a2a2a" stroke-width="1"/>
<path d="M605.9,592.9 l3,1" stroke="#2a2a2a" stroke-width="1"/>
<path d="M613.4,583.7 l3,1" stroke="#2a2a2a" stroke-width="1"/>
<path d="M620.7,574.6 l3,1" stroke="#2a2a2a" stroke-width="1"/>
<path d="M627.9,565.7 l3,1" stroke="#2a2a2a" stroke-width="1"/>
<path d="M634.9,557.0 l3,1" stroke="#2a2a2a" stroke-width="1"/>
<path d="M641.8,548.4 l3,1" stroke="#2a2a2a" stroke-width="1"/>
<path d="M384.9,588.8 l-3.5,0" stroke="#2a2a2a" stroke-width="1"/>
<path d="M384.5,570.5 l-3.5,0" stroke="#2a2a2a" stroke-width="1"/>
<path d="M384.1,552.2 l-3.5,0" stroke="#2a2a2a" stroke-width="1"/>
<path d="M383.6,533.8 l-3.5,0" stroke="#2a2a2a" stroke-width="1"/>
<path d="M383.2,515.3 l-3.5,0" stroke="#2a2a2a" stroke-width="1"/>
<path d="M382.8,496.8 l-3.5,0" stroke="#2a2a2a" stroke-width="1"/>
<path d="M382.3,478.1 l-3.5,0" stroke="#2a2a2a" stroke-width="1"/>
<path d="M381.9,459.4 l-3.5,0" stroke="#2a2a2a" stroke-width="1"/>
<path d="M381.4,440.7 l-3.5,0" stroke="#2a2a2a" stroke-width="1"/>
<path d="M381.0,421.8 l-3.5,0" stroke="#2a2a2a" stroke-width="1"/>
<path d="M380.5,402.8 l-3.5,0" stroke="#2a2a2a" stroke-width="1"/>
<g stroke="#30332a" stroke-width="0.8">
<path class=y d="M451.5 470.3 461 470.2 464.2 460 454.7 460.1z"/>
<path class=b d="M450.9 432 460.5 435.2 463.7 424.9 454.2 421.9z"/>
<path class=g d="M450.1 380.6 459.8 387.6 462.9 369.4 453.2 361.8z"/>
<path class=y d="M461 470.2 470.5 470.1 473.7 459.8 464.2 460z"/>
<path class=b d="M460.5 435.2 470.1 438.4 473.2 427.9 463.7 424.9z"/>
<path class=g d="M459.8 387.6 469.5 394.5 472.6 376.8 462.9 369.4z"/>
<path class=y d="M470.5 470.1 480 469.8 483.2 459.5 473.7 459.8z"/>
<path class=b d="M470.1 438.4 479.7 441.4 482.8 430.8 473.2 427.9z"/>
<path class=g d="M469.5 394.5 479.2 401.3 482.3 384.2 472.6 376.8z"/>
<path class=y d="M448.3 479.8 457.8 479.9 461 470.2 451.5 470.3z"/>
<path class=b d="M447.7 441.5 457.2 444.7 460.5 435.2 450.9 432z"/>
<path class=g d="M446.9 395.3 456.6 401.9 459.8 387.6 450.1 380.6z"/>
<path class=y d="M480 469.8 489.6 469.6 492.7 459.2 483.2 459.5z"/>
<path class=b d="M479.7 441.4 489.3 444.5 492.4 433.6 482.8 430.8z"/>
<path class=g d="M479.2 401.3 488.9 408 491.9 391.5 482.3 384.2z"/>
<path class=y d="M457.8 479.9 467.3 479.9 470.5 470.1 461 470.2z"/>
<path class=b d="M457.2 444.7 466.8 447.9 470.1 438.4 460.5 435.2z"/>
<path class=g d="M456.6 401.9 466.3 408.5 469.5 394.5 459.8 387.6z"/>
<path class=y d="M489.6 469.6 499.2 469.3 502.3 458.9 492.7 459.2z"/>
<path class=b d="M489.3 444.5 498.9 447.5 502 436.5 492.4 433.6z"/>
<path class=g d="M488.9 408 498.6 414.7 501.7 398.6 491.9 391.5z"/>
<path class=y d="M467.3 479.9 476.8 479.9 480 469.8 470.5 470.1z"/>
<path class=b d="M466.8 447.9 476.5 451.1 479.7 441.4 470.1 438.4z"/>
<path class=g d="M466.3 408.5 476 414.9 479.2 401.3 469.5 394.5z"/>
<path class=y d="M499.2 469.3 508.8 468.9 511.9 458.6 502.3 458.9z"/>
<path class=b d="M498.9 447.5 508.6 450.6 511.7 439.2 502 436.5z"/>
<path class=g d="M498.6 414.7 508.3 421 511.4 405.4 501.7 398.6z"/>
<path class=y d="M445 488.4 454.5 488.8 457.8 479.9 448.3 479.8z"/>
<path class=b d="M444.4 450 454 453.2 457.2 444.7 447.7 441.5z"/>
<path class=g d="M443.7 407.1 453.4 413.4 456.6 401.9 446.9 395.3z"/>
<path class=y d="M476.8 479.9 486.4 479.8 489.6 469.6 480 469.8z"/>
<path class=b d="M476.5 451.1 486.1 454.2 489.3 444.5 479.7 441.4z"/>
<path class=g d="M476 414.9 485.7 421.4 488.9 408 479.2 401.3z"/>
<path class=y d="M508.8 468.9 518.4 468.5 521.5 458.2 511.9 458.6z"/>
<path class=b d="M508.6 450.6 518.3 453.6 521.3 442 511.7 439.2z"/>
<path class=g d="M508.3 421 518.1 427.1 521.1 412 511.4 405.4z"/>
<path class=y d="M454.5 488.8 464.1 489.2 467.3 479.9 457.8 479.9z"/>
<path class=b d="M454 453.2 463.6 456.4 466.8 447.9 457.2 444.7z"/>
<path class=g d="M453.4 413.4 463.1 419.7 466.3 408.5 456.6 401.9z"/>
<path class=y d="M486.4 479.8 496 479.7 499.2 469.3 489.6 469.6z"/>
<path class=b d="M486.1 454.2 495.8 457.4 498.9 447.5 489.3 444.5z"/>
<path class=g d="M485.7 421.4 495.5 427.8 498.6 414.7 488.9 408z"/>
<path class=y d="M518.4 468.5 528.1 468.1 531.1 457.7 521.5 458.2z"/>
<path class=b d="M518.3 453.6 528 456.5 531 444.7 521.3 442z"/>
<path class=g d="M518.1 427.1 527.8 433 530.8 418.3 521.1 412z"/>
<path class=y d="M464.1 489.2 473.7 489.5 476.8 479.9 467.3 479.9z"/>
<path class=b d="M463.6 456.4 473.3 459.6 476.5 451.1 466.8 447.9z"/>
<path class=g d="M463.1 419.7 472.8 425.9 476 414.9 466.3 408.5z"/>
<path class=y d="M496 479.7 505.7 479.5 508.8 468.9 499.2 469.3z"/>
<path class=b d="M495.8 457.4 505.5 460.5 508.6 450.6 498.9 447.5z"/>
<path class=g d="M495.5 427.8 505.2 433.9 508.3 421 498.6 414.7z"/>
<path class=y d="M441.7 496.3 451.2 496.9 454.5 488.8 445 488.4z"/>
<path class=b d="M441 457.8 450.7 461 454 453.2 444.4 450z"/>
<path class=g d="M440.3 416.6 450.1 422.7 453.4 413.4 443.7 407.1z"/>
<path class=y d="M528.1 468.1 537.8 467.6 540.8 457.3 531.1 457.7z"/>
<path class=b d="M528 456.5 537.7 459.5 540.7 447.4 531 444.7z"/>
<path class=g d="M527.8 433 537.6 438.2 540.6 423.9 530.8 418.3z"/>
<path class=y d="M473.7 489.5 483.3 489.7 486.4 479.8 476.8 479.9z"/>
<path class=b d="M473.3 459.6 482.9 462.7 486.1 454.2 476.5 451.1z"/>
<path class=g d="M472.8 425.9 482.5 432.1 485.7 421.4 476 414.9z"/>
<path class=y d="M505.7 479.5 515.3 479.2 518.4 468.5 508.8 468.9z"/>
<path class=b d="M505.5 460.5 515.2 463.7 518.3 453.6 508.6 450.6z"/>
<path class=g d="M505.2 433.9 515 439.9 518.1 427.1 508.3 421z"/>
<path class=y d="M451.2 496.9 460.8 497.4 464.1 489.2 454.5 488.8z"/>
<path class=b d="M450.7 461 460.3 464.1 463.6 456.4 454 453.2z"/>
<path class=g d="M450.1 422.7 459.8 428.7 463.1 419.7 453.4 413.4z"/>
<path class=y d="M537.8 467.6 547.5 467.1 550.5 456.8 540.8 457.3z"/>
<path class=b d="M537.7 459.5 547.5 462.3 550.5 450 540.7 447.4z"/>
<path class=g d="M537.6 438.2 547.4 442.8 550.4 428.9 540.6 423.9z"/>
<path class=y d="M483.3 489.7 492.9 489.9 496 479.7 486.4 479.8z"/>
<path class=b d="M482.9 462.7 492.6 465.9 495.8 457.4 486.1 454.2z"/>
<path class=g d="M482.5 432.1 492.3 438.3 495.5 427.8 485.7 421.4z"/>
<path class=y d="M515.3 479.2 525 478.9 528.1 468.1 518.4 468.5z"/>
<path class=b d="M515.2 463.7 524.9 466.8 528 456.5 518.3 453.6z"/>
<path class=g d="M515 439.9 524.8 445.6 527.8 433 518.1 427.1z"/>
<path class=y d="M460.8 497.4 470.4 497.8 473.7 489.5 464.1 489.2z"/>
<path class=b d="M460.3 464.1 470 467.2 473.3 459.6 463.6 456.4z"/>
<path class=g d="M459.8 428.7 469.5 434.7 472.8 425.9 463.1 419.7z"/>
<path class=y d="M547.5 467.1 557.2 466.4 560.2 456.1 550.5 456.8z"/>
<path class=b d="M547.5 462.3 557.2 465.1 560.2 452.6 550.5 450z"/>
<path class=g d="M547.4 442.8 557.2 447.1 560.1 433.5 550.4 428.9z"/>
<path class=y d="M492.9 489.9 502.5 490 505.7 479.5 496 479.7z"/>
<path class=b d="M492.6 465.9 502.3 469 505.5 460.5 495.8 457.4z"/>
<path class=g d="M492.3 438.3 502.1 444.2 505.2 433.9 495.5 427.8z"/>
<path class=y d="M438.4 503.6 447.9 504.3 451.2 496.9 441.7 496.3z"/>
<path class=b d="M437.7 465 447.3 468.1 450.7 461 441 457.8z"/>
<path class=g d="M437 424.8 446.7 430.7 450.1 422.7 440.3 416.6z"/>
<path class=y d="M525 478.9 534.7 478.6 537.8 467.6 528.1 468.1z"/>
<path class=b d="M524.9 466.8 534.7 469.8 537.7 459.5 528 456.5z"/>
<path class=g d="M524.8 445.6 534.5 450.6 537.6 438.2 527.8 433z"/>
<path class=y d="M470.4 497.8 480 498.2 483.3 489.7 473.7 489.5z"/>
<path class=b d="M470 467.2 479.7 470.4 482.9 462.7 473.3 459.6z"/>
<path class=g d="M469.5 434.7 479.3 440.7 482.5 432.1 472.8 425.9z"/>
<path class=y d="M557.2 466.4 567 465.5 570 455.3 560.2 456.1z"/>
<path class=b d="M557.2 465.1 567 467.8 570 455 560.2 452.6z"/>
<path class=g d="M557.2 447.1 567 451.3 569.9 438.1 560.1 433.5z"/>
<path class=y d="M502.5 490 512.2 490 515.3 479.2 505.7 479.5z"/>
<path class=b d="M502.3 469 512.1 472.2 515.2 463.7 505.5 460.5z"/>
<path class=g d="M502.1 444.2 511.9 450.1 515 439.9 505.2 433.9z"/>
<path class=y d="M447.9 504.3 457.5 504.9 460.8 497.4 451.2 496.9z"/>
<path class=b d="M447.3 468.1 457 471.2 460.3 464.1 450.7 461z"/>
<path class=g d="M446.7 430.7 456.5 436.5 459.8 428.7 450.1 422.7z"/>
<path class=y d="M534.7 478.6 544.5 478.2 547.5 467.1 537.8 467.6z"/>
<path class=b d="M534.7 469.8 544.4 472.8 547.5 462.3 537.7 459.5z"/>
<path class=g d="M534.5 450.6 544.4 455.1 547.4 442.8 537.6 438.2z"/>
<path class=y d="M480 498.2 489.7 498.5 492.9 489.9 483.3 489.7z"/>
<path class=b d="M479.7 470.4 489.4 473.5 492.6 465.9 482.9 462.7z"/>
<path class=g d="M479.3 440.7 489.1 446.7 492.3 438.3 482.5 432.1z"/>
<path class=b d="M567 467.8 576.9 470.4 579.8 457.4 570 455z"/>
<path class=y d="M567 465.5 576.8 464.6 579.8 454.5 570 455.3z"/>
<path class=g d="M567 451.3 576.8 455.4 579.8 442.6 569.9 438.1z"/>
<path class=y d="M512.2 490 521.9 490 525 478.9 515.3 479.2z"/>
<path class=b d="M512.1 472.2 521.8 475.4 524.9 466.8 515.2 463.7z"/>
<path class=g d="M511.9 450.1 521.7 455.6 524.8 445.6 515 439.9z"/>
<path class=y d="M457.5 504.9 467.2 505.4 470.4 497.8 460.8 497.4z"/>
<path class=b d="M457 471.2 466.7 474.3 470 467.2 460.3 464.1z"/>
<path class=g d="M456.5 436.5 466.3 442.3 469.5 434.7 459.8 428.7z"/>
<path class=y d="M544.5 478.2 554.3 477.6 557.2 466.4 547.5 467.1z"/>
<path class=b d="M544.4 472.8 554.2 475.7 557.2 465.1 547.5 462.3z"/>
<path class=g d="M544.4 455.1 554.2 459.3 557.2 447.1 547.4 442.8z"/>
<path class=y d="M489.7 498.5 499.4 498.8 502.5 490 492.9 489.9z"/>
<path class=b d="M489.4 473.5 499.1 476.7 502.3 469 492.6 465.9z"/>
<path class=g d="M489.1 446.7 498.9 452.5 502.1 444.2 492.3 438.3z"/>
<path class=y d="M435 510.2 444.6 511 447.9 504.3 438.4 503.6z"/>
<path class=b d="M434.3 471.4 444 474.6 447.3 468.1 437.7 465z"/>
<path class=g d="M433.6 431.8 443.4 437.5 446.7 430.7 437 424.8z"/>
<path class=b d="M576.9 470.4 586.7 472.9 589.6 459.8 579.8 457.4z"/>
<path class=y d="M576.8 464.6 586.7 464 589.6 453.9 579.8 454.5z"/>
<path class=g d="M576.8 455.4 586.7 459.2 589.6 446.9 579.8 442.6z"/>
<path class=y d="M521.9 490 531.7 489.9 534.7 478.6 525 478.9z"/>
<path class=b d="M521.8 475.4 531.6 478.5 534.7 469.8 524.9 466.8z"/>
<path class=g d="M521.7 455.6 531.5 460.6 534.5 450.6 524.8 445.6z"/>
<path class=y d="M467.2 505.4 476.8 505.9 480 498.2 470.4 497.8z"/>
<path class=b d="M466.7 474.3 476.4 477.4 479.7 470.4 470 467.2z"/>
<path class=g d="M466.3 442.3 476.1 448.1 479.3 440.7 469.5 434.7z"/>
<path class=b d="M554.2 475.7 564.1 478.5 567 467.8 557.2 465.1z"/>
<path class=y d="M554.3 477.6 564.1 476.8 567 465.5 557.2 466.4z"/>
<path class=g d="M554.2 459.3 564 463.5 567 451.3 557.2 447.1z"/>
<path class=y d="M499.4 498.8 509.1 499 512.2 490 502.5 490z"/>
<path class=b d="M499.1 476.7 508.9 479.9 512.1 472.2 502.3 469z"/>
<path class=g d="M498.9 452.5 508.7 458.3 511.9 450.1 502.1 444.2z"/>
<path class=y d="M444.6 511 454.2 511.7 457.5 504.9 447.9 504.3z"/>
<path class=b d="M444 474.6 453.7 477.6 457 471.2 447.3 468.1z"/>
<path class=g d="M443.4 437.5 453.1 443.1 456.5 436.5 446.7 430.7z"/>
<path class=b d="M586.7 472.9 596.6 475.3 599.5 462 589.6 459.8z"/>
<path class=y d="M586.7 464 596.6 463.7 599.5 453.9 589.6 453.9z"/>
<path class=g d="M586.7 459.2 596.6 462.6 599.5 450.7 589.6 446.9z"/>
<path class=y d="M531.7 489.9 541.4 489.8 544.5 478.2 534.7 478.6z"/>
<path class=b d="M531.6 478.5 541.4 481.5 544.4 472.8 534.7 469.8z"/>
<path class=g d="M531.5 460.6 541.3 465 544.4 455.1 534.5 450.6z"/>
<path class=y d="M476.8 505.9 486.5 506.4 489.7 498.5 480 498.2z"/>
<path class=b d="M476.4 477.4 486.2 480.5 489.4 473.5 479.7 470.4z"/>
<path class=g d="M476.1 448.1 485.9 454 489.1 446.7 479.3 440.7z"/>
<path class=b d="M564.1 478.5 573.9 481.2 576.9 470.4 567 467.8z"/>
<path class=y d="M564.1 476.8 573.9 476.1 576.8 464.6 567 465.5z"/>
<path class=g d="M564 463.5 573.9 467.4 576.8 455.4 567 451.3z"/>
<path class=y d="M509.1 499 518.8 499 521.9 490 512.2 490z"/>
<path class=b d="M508.9 479.9 518.7 483.1 521.8 475.4 512.1 472.2z"/>
<path class=g d="M508.7 458.3 518.5 463.8 521.7 455.6 511.9 450.1z"/>
<path class=y d="M454.2 511.7 463.9 512.2 467.2 505.4 457.5 504.9z"/>
<path class=b d="M453.7 477.6 463.4 480.6 466.7 474.3 457 471.2z"/>
<path class=g d="M453.1 443.1 462.9 448.7 466.3 442.3 456.5 436.5z"/>
<path class=b d="M596.6 475.3 606.5 477.4 609.3 463.9 599.5 462z"/>
<path class=y d="M596.6 463.7 606.5 463.8 609.4 454.1 599.5 453.9z"/>
<path class=g d="M596.6 462.6 606.5 465.6 609.4 454.2 599.5 450.7z"/>
<path class=y d="M541.4 489.8 551.2 489.5 554.3 477.6 544.5 478.2z"/>
<path class=b d="M541.4 481.5 551.2 484.4 554.2 475.7 544.4 472.8z"/>
<path class=g d="M541.3 465 551.2 469.1 554.2 459.3 544.4 455.1z"/>
<path class=y d="M486.5 506.4 496.2 506.7 499.4 498.8 489.7 498.5z"/>
<path class=b d="M486.2 480.5 495.9 483.7 499.1 476.7 489.4 473.5z"/>
<path class=g d="M485.9 454 495.7 459.8 498.9 452.5 489.1 446.7z"/>
<path class=y d="M431.6 516.2 441.2 517.1 444.6 511 435 510.2z"/>
<path class=b d="M430.9 477.2 440.6 480.3 444 474.6 434.3 471.4z"/>
<path class=g d="M430.1 437.9 439.9 443.4 443.4 437.5 433.6 431.8z"/>
<path class=b d="M573.9 481.2 583.8 483.8 586.7 472.9 576.9 470.4z"/>
<path class=y d="M573.9 476.1 583.8 475.5 586.7 464 576.8 464.6z"/>
<path class=g d="M573.9 467.4 583.8 471 586.7 459.2 576.8 455.4z"/>
<path class=y d="M518.8 499 528.6 499.1 531.7 489.9 521.9 490z"/>
<path class=b d="M518.7 483.1 528.5 486.2 531.6 478.5 521.8 475.4z"/>
<path class=g d="M518.5 463.8 528.4 468.7 531.5 460.6 521.7 455.6z"/>
<path class=y d="M463.9 512.2 473.5 512.8 476.8 505.9 467.2 505.4z"/>
<path class=b d="M463.4 480.6 473.1 483.7 476.4 477.4 466.7 474.3z"/>
<path class=g d="M462.9 448.7 472.8 454.5 476.1 448.1 466.3 442.3z"/>
<path class=b d="M606.5 477.4 616.4 479.3 619.2 465.7 609.3 463.9z"/>
<path class=g d="M606.5 465.6 616.4 468.5 619.3 457.5 609.4 454.2z"/>
<path class=y d="M606.5 463.8 616.4 463.9 619.3 454.4 609.4 454.1z"/>
<path class=y d="M551.2 489.5 561.1 489 564.1 476.8 554.3 477.6z"/>
<path class=b d="M551.2 484.4 561.1 487.2 564.1 478.5 554.2 475.7z"/>
<path class=g d="M551.2 469.1 561 473.3 564 463.5 554.2 459.3z"/>
<path class=y d="M496.2 506.7 505.9 506.9 509.1 499 499.4 498.8z"/>
<path class=b d="M495.9 483.7 505.7 486.9 508.9 479.9 499.1 476.7z"/>
<path class=g d="M495.7 459.8 505.5 465.5 508.7 458.3 498.9 452.5z"/>
<path class=y d="M441.2 517.1 450.9 517.9 454.2 511.7 444.6 511z"/>
<path class=b d="M440.6 480.3 450.3 483.4 453.7 477.6 444 474.6z"/>
<path class=g d="M439.9 443.4 449.7 449 453.1 443.1 443.4 437.5z"/>
<path class=b d="M583.8 483.8 593.7 486.2 596.6 475.3 586.7 472.9z"/>
<path class=y d="M583.8 475.5 593.7 475.3 596.6 463.7 586.7 464z"/>
<path class=g d="M583.8 471 593.7 474.2 596.6 462.6 586.7 459.2z"/>
<path class=y d="M528.6 499.1 538.4 499 541.4 489.8 531.7 489.9z"/>
<path class=b d="M528.5 486.2 538.3 489.3 541.4 481.5 531.6 478.5z"/>
<path class=g d="M528.4 468.7 538.2 473.1 541.3 465 531.5 460.6z"/>
<path class=y d="M473.5 512.8 483.2 513.3 486.5 506.4 476.8 505.9z"/>
<path class=b d="M473.1 483.7 482.9 486.8 486.2 480.5 476.4 477.4z"/>
<path class=g d="M472.8 454.5 482.6 460.3 485.9 454 476.1 448.1z"/>
<path class=b d="M616.4 479.3 626.3 481.1 629.2 467.4 619.2 465.7z"/>
<path class=g d="M616.4 468.5 626.4 471.2 629.2 460.6 619.3 457.5z"/>
<path class=y d="M616.4 463.9 626.4 464 629.2 454.7 619.3 454.4z"/>
<path class=b d="M561.1 487.2 570.9 489.9 573.9 481.2 564.1 478.5z"/>
<path class=y d="M561.1 489 570.9 488.4 573.9 476.1 564.1 476.8z"/>
<path class=g d="M561 473.3 570.9 477 573.9 467.4 564 463.5z"/>
<path class=y d="M505.9 506.9 515.7 507.1 518.8 499 509.1 499z"/>
<path class=b d="M505.7 486.9 515.5 490.1 518.7 483.1 508.9 479.9z"/>
<path class=g d="M505.5 465.5 515.4 470.9 518.5 463.8 508.7 458.3z"/>
<path class=y d="M450.9 517.9 460.5 518.5 463.9 512.2 454.2 511.7z"/>
<path class=b d="M450.3 483.4 460.1 486.3 463.4 480.6 453.7 477.6z"/>
<path class=g d="M449.7 449 459.6 454.4 462.9 448.7 453.1 443.1z"/>
<path class=b d="M593.7 486.2 603.6 488.4 606.5 477.4 596.6 475.3z"/>
<path class=g d="M593.7 474.2 603.6 477.1 606.5 465.6 596.6 462.6z"/>
<path class=y d="M593.7 475.3 603.6 475.3 606.5 463.8 596.6 463.7z"/>
<path class=y d="M538.4 499 548.2 498.8 551.2 489.5 541.4 489.8z"/>
<path class=b d="M538.3 489.3 548.2 492.2 551.2 484.4 541.4 481.5z"/>
<path class=g d="M538.2 473.1 548.1 477.2 551.2 469.1 541.3 465z"/>
<path class=y d="M483.2 513.3 493 513.7 496.2 506.7 486.5 506.4z"/>
<path class=b d="M482.9 486.8 492.7 490 495.9 483.7 486.2 480.5z"/>
<path class=g d="M482.6 460.3 492.4 466 495.7 459.8 485.9 454z"/>
<path class=b d="M626.3 481.1 636.3 482.8 639.1 468.9 629.2 467.4z"/>
<path class=g d="M626.4 471.2 636.3 473.5 639.1 463.4 629.2 460.6z"/>
<path class=y d="M626.4 464 636.4 464.2 639.2 454.9 629.2 454.7z"/>
<path class=y d="M428.1 521.9 437.8 522.9 441.2 517.1 431.6 516.2z"/>
<path class=b d="M427.4 482.7 437.1 485.7 440.6 480.3 430.9 477.2z"/>
<path class=g d="M426.7 443.4 436.5 448.8 439.9 443.4 430.1 437.9z"/>
<path class=b d="M570.9 489.9 580.8 492.5 583.8 483.8 573.9 481.2z"/>
<path class=y d="M570.9 488.4 580.8 488.1 583.8 475.5 573.9 476.1z"/>
<path class=g d="M570.9 477 580.8 480.5 583.8 471 573.9 467.4z"/>
<path class=y d="M515.7 507.1 525.5 507.2 528.6 499.1 518.8 499z"/>
<path class=b d="M515.5 490.1 525.4 493.2 528.5 486.2 518.7 483.1z"/>
<path class=g d="M515.4 470.9 525.2 475.9 528.4 468.7 518.5 463.8z"/>
<path class=y d="M460.5 518.5 470.2 519.1 473.5 512.8 463.9 512.2z"/>
<path class=b d="M460.1 486.3 469.8 489.4 473.1 483.7 463.4 480.6z"/>
<path class=g d="M459.6 454.4 469.4 460.1 472.8 454.5 462.9 448.7z"/>
<path class=b d="M603.6 488.4 613.5 490.4 616.4 479.3 606.5 477.4z"/>
<path class=g d="M603.6 477.1 613.5 479.8 616.4 468.5 606.5 465.6z"/>
<path class=y d="M603.6 475.3 613.6 475.4 616.4 463.9 606.5 463.8z"/>
<path class=y d="M548.2 498.8 558.1 498.4 561.1 489 551.2 489.5z"/>
<path class=b d="M548.2 492.2 558.1 494.9 561.1 487.2 551.2 484.4z"/>
<path class=g d="M548.1 477.2 558 481.4 561 473.3 551.2 469.1z"/>
<path class=y d="M493 513.7 502.7 514 505.9 506.9 496.2 506.7z"/>
<path class=b d="M492.7 490 502.5 493.3 505.7 486.9 495.9 483.7z"/>
<path class=g d="M492.4 466 502.3 471.7 505.5 465.5 495.7 459.8z"/>
<path class=b d="M636.3 482.8 646.3 484.3 649.1 470.3 639.1 468.9z"/>
<path class=g d="M636.3 473.5 646.3 475.6 649.1 465.8 639.1 463.4z"/>
<path class=y d="M636.4 464.2 646.4 464.3 649.2 455.1 639.2 454.9z"/>
<path class=y d="M437.8 522.9 447.5 523.8 450.9 517.9 441.2 517.1z"/>
<path class=b d="M437.1 485.7 446.9 488.7 450.3 483.4 440.6 480.3z"/>
<path class=g d="M436.5 448.8 446.3 454.2 449.7 449 439.9 443.4z"/>
<path class=b d="M580.8 492.5 590.7 494.9 593.7 486.2 583.8 483.8z"/>
<path class=y d="M580.8 488.1 590.7 488.1 593.7 475.3 583.8 475.5z"/>
<path class=g d="M580.8 480.5 590.7 483.6 593.7 474.2 583.8 471z"/>
<path class=y d="M525.5 507.2 535.3 507.2 538.4 499 528.6 499.1z"/>
<path class=b d="M525.4 493.2 535.2 496.3 538.3 489.3 528.5 486.2z"/>
<path class=g d="M525.2 475.9 535.1 480.2 538.2 473.1 528.4 468.7z"/>
<path class=y d="M470.2 519.1 480 519.7 483.2 513.3 473.5 512.8z"/>
<path class=b d="M469.8 489.4 479.6 492.5 482.9 486.8 473.1 483.7z"/>
<path class=g d="M469.4 460.1 479.3 465.8 482.6 460.3 472.8 454.5z"/>
<path class=b d="M613.5 490.4 623.5 492.2 626.3 481.1 616.4 479.3z"/>
<path class=g d="M613.5 479.8 623.5 482.3 626.4 471.2 616.4 468.5z"/>
<path class=y d="M613.6 475.4 623.5 475.5 626.4 464 616.4 463.9z"/>
<path class=y d="M558.1 498.4 567.9 497.9 570.9 488.4 561.1 489z"/>
<path class=b d="M558.1 494.9 567.9 497.6 570.9 489.9 561.1 487.2z"/>
<path class=g d="M558 481.4 567.9 485.1 570.9 477 561 473.3z"/>
<path class=y d="M502.7 514 512.5 514.2 515.7 507.1 505.9 506.9z"/>
<path class=b d="M502.5 493.3 512.4 496.5 515.5 490.1 505.7 486.9z"/>
<path class=g d="M502.3 471.7 512.2 477.2 515.4 470.9 505.5 465.5z"/>
<path class=y d="M447.5 523.8 457.2 524.5 460.5 518.5 450.9 517.9z"/>
<path class=b d="M446.9 488.7 456.7 491.7 460.1 486.3 450.3 483.4z"/>
<path class=g d="M446.3 454.2 456.2 459.5 459.6 454.4 449.7 449z"/>
<path class=b d="M590.7 494.9 600.7 497 603.6 488.4 593.7 486.2z"/>
<path class=y d="M590.7 488.1 600.7 488.1 603.6 475.3 593.7 475.3z"/>
<path class=g d="M590.7 483.6 600.7 486.4 603.6 477.1 593.7 474.2z"/>
<path class=y d="M535.3 507.2 545.2 507 548.2 498.8 538.4 499z"/>
<path class=b d="M535.2 496.3 545.1 499.1 548.2 492.2 538.3 489.3z"/>
<path class=g d="M535.1 480.2 545 484.3 548.1 477.2 538.2 473.1z"/>
<path class=y d="M480 519.7 489.7 520.1 493 513.7 483.2 513.3z"/>
<path class=b d="M479.6 492.5 489.4 495.7 492.7 490 482.9 486.8z"/>
<path class=g d="M479.3 465.8 489.2 471.5 492.4 466 482.6 460.3z"/>
<path class=b d="M623.5 492.2 633.5 494 636.3 482.8 626.3 481.1z"/>
<path class=g d="M623.5 482.3 633.5 484.5 636.3 473.5 626.4 471.2z"/>
<path class=y d="M623.5 475.5 633.6 475.7 636.4 464.2 626.4 464z"/>
<path class=y d="M424.7 527.2 434.3 528.4 437.8 522.9 428.1 521.9z"/>
<path class=b d="M423.9 487.9 433.7 490.9 437.1 485.7 427.4 482.7z"/>
<path class=g d="M423.2 448.4 433 453.6 436.5 448.8 426.7 443.4z"/>
<path class=b d="M567.9 497.6 577.9 500.1 580.8 492.5 570.9 489.9z"/>
<path class=y d="M567.9 497.9 577.9 497.6 580.8 488.1 570.9 488.4z"/>
<path class=g d="M567.9 485.1 577.8 488.4 580.8 480.5 570.9 477z"/>
<path class=y d="M512.5 514.2 522.3 514.3 525.5 507.2 515.7 507.1z"/>
<path class=b d="M512.4 496.5 522.2 499.6 525.4 493.2 515.5 490.1z"/>
<path class=g d="M512.2 477.2 522.1 482.1 525.2 475.9 515.4 470.9z"/>
<path class=y d="M457.2 524.5 466.9 525.2 470.2 519.1 460.5 518.5z"/>
<path class=b d="M456.7 491.7 466.5 494.7 469.8 489.4 460.1 486.3z"/>
<path class=g d="M456.2 459.5 466.1 465 469.4 460.1 459.6 454.4z"/>
<path class=b d="M600.7 497 610.7 499 613.5 490.4 603.6 488.4z"/>
<path class=g d="M600.7 486.4 610.7 488.9 613.5 479.8 603.6 477.1z"/>
<path class=y d="M600.7 488.1 610.7 488.3 613.6 475.4 603.6 475.3z"/>
<path class=y d="M545.2 507 555 506.6 558.1 498.4 548.2 498.8z"/>
<path class=b d="M545.1 499.1 555 501.9 558.1 494.9 548.2 492.2z"/>
<path class=g d="M545 484.3 555 488.6 558 481.4 548.1 477.2z"/>
<path class=y d="M489.7 520.1 499.5 520.5 502.7 514 493 513.7z"/>
<path class=b d="M489.4 495.7 499.3 499 502.5 493.3 492.7 490z"/>
<path class=g d="M489.2 471.5 499.1 477.3 502.3 471.7 492.4 466z"/>
<path class=b d="M633.5 494 643.5 495.5 646.3 484.3 636.3 482.8z"/>
<path class=g d="M633.5 484.5 643.6 486.4 646.3 475.6 636.3 473.5z"/>
<path class=y d="M633.6 475.7 643.6 476 646.4 464.3 636.4 464.2z"/>
<path class=y d="M434.3 528.4 444.1 529.3 447.5 523.8 437.8 522.9z"/>
<path class=b d="M433.7 490.9 443.5 493.9 446.9 488.7 437.1 485.7z"/>
<path class=g d="M433 453.6 442.9 458.8 446.3 454.2 436.5 448.8z"/>
<path class=b d="M577.9 500.1 587.8 502.5 590.7 494.9 580.8 492.5z"/>
<path class=y d="M577.9 497.6 587.8 497.6 590.7 488.1 580.8 488.1z"/>
<path class=g d="M577.8 488.4 587.8 491.4 590.7 483.6 580.8 480.5z"/>
<path class=y d="M522.3 514.3 532.2 514.3 535.3 507.2 525.5 507.2z"/>
<path class=b d="M522.2 499.6 532.1 502.6 535.2 496.3 525.4 493.2z"/>
<path class=g d="M522.1 482.1 532 486.5 535.1 480.2 525.2 475.9z"/>
<path class=y d="M466.9 525.2 476.7 525.8 480 519.7 470.2 519.1z"/>
<path class=b d="M466.5 494.7 476.3 497.8 479.6 492.5 469.8 489.4z"/>
<path class=g d="M466.1 465 476 470.7 479.3 465.8 469.4 460.1z"/>
<path class=b d="M610.7 499 620.6 500.8 623.5 492.2 613.5 490.4z"/>
<path class=g d="M610.7 488.9 620.7 491.3 623.5 482.3 613.5 479.8z"/>
<path class=y d="M610.7 488.3 620.7 488.7 623.5 475.5 613.6 475.4z"/>
<path class=y d="M555 506.6 564.9 506.1 567.9 497.9 558.1 498.4z"/>
<path class=b d="M555 501.9 564.9 504.5 567.9 497.6 558.1 494.9z"/>
<path class=g d="M555 488.6 564.9 492.2 567.9 485.1 558 481.4z"/>
<path class=y d="M499.5 520.5 509.3 520.7 512.5 514.2 502.7 514z"/>
<path class=b d="M499.3 499 509.2 502.2 512.4 496.5 502.5 493.3z"/>
<path class=g d="M499.1 477.3 509 482.8 512.2 477.2 502.3 471.7z"/>
<path class=y d="M444.1 529.3 453.8 530.1 457.2 524.5 447.5 523.8z"/>
<path class=b d="M443.5 493.9 453.3 496.8 456.7 491.7 446.9 488.7z"/>
<path class=g d="M442.9 458.8 452.8 464 456.2 459.5 446.3 454.2z"/>
<path class=b d="M587.8 502.5 597.8 504.6 600.7 497 590.7 494.9z"/>
<path class=y d="M587.8 497.6 597.8 497.6 600.7 488.1 590.7 488.1z"/>
<path class=g d="M587.8 491.4 597.8 494.1 600.7 486.4 590.7 483.6z"/>
<path class=y d="M532.2 514.3 542.1 514.1 545.2 507 535.3 507.2z"/>
<path class=b d="M532.1 502.6 542 505.5 545.1 499.1 535.2 496.3z"/>
<path class=g d="M532 486.5 541.9 490.7 545 484.3 535.1 480.2z"/>
<path class=y d="M476.7 525.8 486.5 526.3 489.7 520.1 480 519.7z"/>
<path class=b d="M476.3 497.8 486.2 501 489.4 495.7 479.6 492.5z"/>
<path class=g d="M476 470.7 485.9 476.3 489.2 471.5 479.3 465.8z"/>
<path class=b d="M620.6 500.8 630.7 502.5 633.5 494 623.5 492.2z"/>
<path class=g d="M620.7 491.3 630.7 493.4 633.5 484.5 623.5 482.3z"/>
<path class=y d="M620.7 488.7 630.7 489.1 633.6 475.7 623.5 475.5z"/>
<path class=y d="M421.2 532.1 430.9 533.4 434.3 528.4 424.7 527.2z"/>
<path class=b d="M420.4 493 430.2 496 433.7 490.9 423.9 487.9z"/>
<path class=g d="M419.6 453 429.5 458 433 453.6 423.2 448.4z"/>
<path class=b d="M564.9 504.5 574.9 507 577.9 500.1 567.9 497.6z"/>
<path class=y d="M564.9 506.1 574.9 505.8 577.9 497.6 567.9 497.9z"/>
<path class=g d="M564.9 492.2 574.9 495.5 577.8 488.4 567.9 485.1z"/>
<path class=y d="M509.3 520.7 519.2 520.8 522.3 514.3 512.5 514.2z"/>
<path class=b d="M509.2 502.2 519.1 505.4 522.2 499.6 512.4 496.5z"/>
<path class=g d="M509 482.8 518.9 487.8 522.1 482.1 512.2 477.2z"/>
<path class=y d="M453.8 530.1 463.6 530.9 466.9 525.2 457.2 524.5z"/>
<path class=b d="M453.3 496.8 463.1 499.8 466.5 494.7 456.7 491.7z"/>
<path class=g d="M452.8 464 462.7 469.4 466.1 465 456.2 459.5z"/>
<path class=b d="M597.8 504.6 607.8 506.5 610.7 499 600.7 497z"/>
<path class=y d="M597.8 497.6 607.8 497.7 610.7 488.3 600.7 488.1z"/>
<path class=g d="M597.8 494.1 607.8 496.6 610.7 488.9 600.7 486.4z"/>
<path class=y d="M542.1 514.1 552 513.7 555 506.6 545.2 507z"/>
<path class=b d="M542 505.5 551.9 508.2 555 501.9 545.1 499.1z"/>
<path class=g d="M541.9 490.7 551.9 495.1 555 488.6 545 484.3z"/>
<path class=y d="M486.5 526.3 496.3 526.7 499.5 520.5 489.7 520.1z"/>
<path class=b d="M486.2 501 496 504.4 499.3 499 489.4 495.7z"/>
<path class=g d="M485.9 476.3 495.8 482.1 499.1 477.3 489.2 471.5z"/>
<path class=b d="M630.7 502.5 640.7 504 643.5 495.5 633.5 494z"/>
<path class=g d="M630.7 493.4 640.8 495.1 643.6 486.4 633.5 484.5z"/>
<path class=y d="M630.7 489.1 640.8 489.6 643.6 476 633.6 475.7z"/>
<path class=y d="M430.9 533.4 440.6 534.5 444.1 529.3 434.3 528.4z"/>
<path class=b d="M430.2 496 440 498.9 443.5 493.9 433.7 490.9z"/>
<path class=g d="M429.5 458 439.4 463.1 442.9 458.8 433 453.6z"/>
<path class=b d="M574.9 507 584.9 509.2 587.8 502.5 577.9 500.1z"/>
<path class=y d="M574.9 505.8 584.8 505.7 587.8 497.6 577.9 497.6z"/>
<path class=g d="M574.9 495.5 584.8 498.4 587.8 491.4 577.8 488.4z"/>
<path class=y d="M519.2 520.8 529.1 520.9 532.2 514.3 522.3 514.3z"/>
<path class=b d="M519.1 505.4 529 508.5 532.1 502.6 522.2 499.6z"/>
<path class=g d="M518.9 487.8 528.9 492.2 532 486.5 522.1 482.1z"/>
<path class=y d="M463.6 530.9 473.4 531.7 476.7 525.8 466.9 525.2z"/>
<path class=b d="M463.1 499.8 473 502.8 476.3 497.8 466.5 494.7z"/>
<path class=g d="M462.7 469.4 472.6 474.9 476 470.7 466.1 465z"/>
<path class=b d="M607.8 506.5 617.8 508.2 620.6 500.8 610.7 499z"/>
<path class=g d="M607.8 496.6 617.8 498.9 620.7 491.3 610.7 488.9z"/>
<path class=y d="M607.8 497.7 617.8 498.1 620.7 488.7 610.7 488.3z"/>
<path class=y d="M552 513.7 561.9 513.3 564.9 506.1 555 506.6z"/>
<path class=b d="M551.9 508.2 561.9 510.8 564.9 504.5 555 501.9z"/>
<path class=g d="M551.9 495.1 561.9 498.7 564.9 492.2 555 488.6z"/>
<path class=y d="M496.3 526.7 506.1 526.9 509.3 520.7 499.5 520.5z"/>
<path class=b d="M496 504.4 505.9 507.6 509.2 502.2 499.3 499z"/>
<path class=g d="M495.8 482.1 505.7 487.6 509 482.8 499.1 477.3z"/>
<path class=y d="M440.6 534.5 450.4 535.4 453.8 530.1 444.1 529.3z"/>
<path class=b d="M440 498.9 449.8 501.7 453.3 496.8 443.5 493.9z"/>
<path class=g d="M439.4 463.1 449.3 468.1 452.8 464 442.9 458.8z"/>
<path class=b d="M584.9 509.2 594.8 511.3 597.8 504.6 587.8 502.5z"/>
<path class=y d="M584.8 505.7 594.8 505.6 597.8 497.6 587.8 497.6z"/>
<path class=g d="M584.8 498.4 594.8 501.1 597.8 494.1 587.8 491.4z"/>
<path class=y d="M529.1 520.9 539 520.7 542.1 514.1 532.2 514.3z"/>
<path class=b d="M529 508.5 538.9 511.3 542 505.5 532.1 502.6z"/>
<path class=g d="M528.9 492.2 538.8 496.5 541.9 490.7 532 486.5z"/>
<path class=y d="M473.4 531.7 483.2 532.3 486.5 526.3 476.7 525.8z"/>
<path class=b d="M473 502.8 482.8 506.1 486.2 501 476.3 497.8z"/>
<path class=g d="M472.6 474.9 482.5 480.5 485.9 476.3 476 470.7z"/>
<path class=b d="M617.8 508.2 627.8 509.8 630.7 502.5 620.6 500.8z"/>
<path class=g d="M617.8 498.9 627.9 500.9 630.7 493.4 620.7 491.3z"/>
<path class=y d="M617.8 498.1 627.9 498.5 630.7 489.1 620.7 488.7z"/>
<path class=y d="M417.6 536.7 427.4 538.1 430.9 533.4 421.2 532.1z"/>
<path class=b d="M416.9 498 426.7 500.9 430.2 496 420.4 493z"/>
<path class=g d="M416.1 457.4 426 462.2 429.5 458 419.6 453z"/>
<path class=y d="M561.9 513.3 571.9 512.9 574.9 505.8 564.9 506.1z"/>
<path class=b d="M561.9 510.8 571.9 513.2 574.9 507 564.9 504.5z"/>
<path class=g d="M561.9 498.7 571.8 501.9 574.9 495.5 564.9 492.2z"/>
<path class=y d="M506.1 526.9 516 527.1 519.2 520.8 509.3 520.7z"/>
<path class=b d="M505.9 507.6 515.9 510.8 519.1 505.4 509.2 502.2z"/>
<path class=g d="M505.7 487.6 515.7 492.7 518.9 487.8 509 482.8z"/>
<path class=y d="M450.4 535.4 460.2 536.3 463.6 530.9 453.8 530.1z"/>
<path class=b d="M449.8 501.7 459.7 504.7 463.1 499.8 453.3 496.8z"/>
<path class=g d="M449.3 468.1 459.2 473.3 462.7 469.4 452.8 464z"/>
<path class=b d="M594.8 511.3 604.9 513.1 607.8 506.5 597.8 504.6z"/>
<path class=y d="M594.8 505.6 604.9 505.6 607.8 497.7 597.8 497.6z"/>
<path class=g d="M594.8 501.1 604.9 503.5 607.8 496.6 597.8 494.1z"/>
<path class=y d="M539 520.7 548.9 520.3 552 513.7 542.1 514.1z"/>
<path class=b d="M538.9 511.3 548.9 514.1 551.9 508.2 542 505.5z"/>
<path class=g d="M538.8 496.5 548.8 501 551.9 495.1 541.9 490.7z"/>
<path class=y d="M483.2 532.3 493 532.7 496.3 526.7 486.5 526.3z"/>
<path class=b d="M482.8 506.1 492.8 509.5 496 504.4 486.2 501z"/>
<path class=g d="M482.5 480.5 492.5 486.3 495.8 482.1 485.9 476.3z"/>
<path class=b d="M627.8 509.8 637.9 511.2 640.7 504 630.7 502.5z"/>
<path class=g d="M627.9 500.9 638 502.6 640.8 495.1 630.7 493.4z"/>
<path class=y d="M627.9 498.5 638 499.1 640.8 489.6 630.7 489.1z"/>
<path class=y d="M427.4 538.1 437.2 539.3 440.6 534.5 430.9 533.4z"/>
<path class=b d="M426.7 500.9 436.5 503.8 440 498.9 430.2 496z"/>
<path class=g d="M426 462.2 435.9 467 439.4 463.1 429.5 458z"/>
<path class=b d="M571.9 513.2 581.9 515.5 584.9 509.2 574.9 507z"/>
<path class=y d="M571.9 512.9 581.9 512.7 584.8 505.7 574.9 505.8z"/>
<path class=g d="M571.8 501.9 581.9 504.9 584.8 498.4 574.9 495.5z"/>
<path class=y d="M516 527.1 525.9 527.1 529.1 520.9 519.2 520.8z"/>
<path class=b d="M515.9 510.8 525.8 513.9 529 508.5 519.1 505.4z"/>
<path class=g d="M515.7 492.7 525.7 497.2 528.9 492.2 518.9 487.8z"/>
<path class=y d="M460.2 536.3 470 537.1 473.4 531.7 463.6 530.9z"/>
<path class=b d="M459.7 504.7 469.6 507.7 473 502.8 463.1 499.8z"/>
<path class=g d="M459.2 473.3 469.2 478.7 472.6 474.9 462.7 469.4z"/>
<path class=b d="M604.9 513.1 614.9 514.7 617.8 508.2 607.8 506.5z"/>
<path class=y d="M604.9 505.6 614.9 505.9 617.8 498.1 607.8 497.7z"/>
<path class=g d="M604.9 503.5 614.9 505.7 617.8 498.9 607.8 496.6z"/>
<path class=y d="M548.9 520.3 558.9 519.8 561.9 513.3 552 513.7z"/>
<path class=b d="M548.9 514.1 558.8 516.7 561.9 510.8 551.9 508.2z"/>
<path class=g d="M548.8 501 558.8 504.6 561.9 498.7 551.9 495.1z"/>
<path class=y d="M493 532.7 502.9 533 506.1 526.9 496.3 526.7z"/>
<path class=b d="M492.8 509.5 502.7 512.8 505.9 507.6 496 504.4z"/>
<path class=g d="M492.5 486.3 502.5 491.8 505.7 487.6 495.8 482.1z"/>
<path class=y d="M437.2 539.3 446.9 540.3 450.4 535.4 440.6 534.5z"/>
<path class=b d="M436.5 503.8 446.4 506.6 449.8 501.7 440 498.9z"/>
<path class=g d="M435.9 467 445.8 471.8 449.3 468.1 439.4 463.1z"/>
<path class=b d="M581.9 515.5 591.9 517.4 594.8 511.3 584.9 509.2z"/>
<path class=y d="M581.9 512.7 591.9 512.4 594.8 505.6 584.8 505.7z"/>
<path class=g d="M581.9 504.9 591.9 507.5 594.8 501.1 584.8 498.4z"/>
<path class=y d="M525.9 527.1 535.8 527 539 520.7 529.1 520.9z"/>
<path class=b d="M525.8 513.9 535.8 516.7 538.9 511.3 529 508.5z"/>
<path class=g d="M525.7 497.2 535.7 501.5 538.8 496.5 528.9 492.2z"/>
<path class=y d="M470 537.1 479.8 537.8 483.2 532.3 473.4 531.7z"/>
<path class=b d="M469.6 507.7 479.5 511 482.8 506.1 473 502.8z"/>
<path class=g d="M469.2 478.7 479.2 484.3 482.5 480.5 472.6 474.9z"/>
<path class=b d="M614.9 514.7 625 516.2 627.8 509.8 617.8 508.2z"/>
<path class=g d="M614.9 505.7 625 507.7 627.9 500.9 617.8 498.9z"/>
<path class=y d="M614.9 505.9 625 506.3 627.9 498.5 617.8 498.1z"/>
<path class=y d="M414.1 541.1 423.8 542.6 427.4 538.1 417.6 536.7z"/>
<path class=b d="M413.3 502.9 423.1 505.8 426.7 500.9 416.9 498z"/>
<path class=g d="M412.5 461.5 422.4 466 426 462.2 416.1 457.4z"/>
<path class=y d="M558.9 519.8 568.8 519.4 571.9 512.9 561.9 513.3z"/>
<path class=b d="M558.8 516.7 568.8 519 571.9 513.2 561.9 510.8z"/>
<path class=g d="M558.8 504.6 568.8 507.9 571.8 501.9 561.9 498.7z"/>
<path class=y d="M502.9 533 512.8 533.2 516 527.1 506.1 526.9z"/>
<path class=b d="M502.7 512.8 512.6 515.9 515.9 510.8 505.9 507.6z"/>
<path class=g d="M502.5 491.8 512.5 496.9 515.7 492.7 505.7 487.6z"/>
<path class=y d="M446.9 540.3 456.8 541.3 460.2 536.3 450.4 535.4z"/>
<path class=b d="M446.4 506.6 456.3 509.5 459.7 504.7 449.8 501.7z"/>
<path class=g d="M445.8 471.8 455.8 476.8 459.2 473.3 449.3 468.1z"/>
<path class=b d="M591.9 517.4 602 519.2 604.9 513.1 594.8 511.3z"/>
<path class=y d="M591.9 512.4 602 512.3 604.9 505.6 594.8 505.6z"/>
<path class=g d="M591.9 507.5 602 510 604.9 503.5 594.8 501.1z"/>
<path class=y d="M535.8 527 545.8 526.6 548.9 520.3 539 520.7z"/>
<path class=b d="M535.8 516.7 545.7 519.5 548.9 514.1 538.9 511.3z"/>
<path class=g d="M535.7 501.5 545.7 506.1 548.8 501 538.8 496.5z"/>
<path class=y d="M479.8 537.8 489.7 538.3 493 532.7 483.2 532.3z"/>
<path class=b d="M479.5 511 489.4 514.4 492.8 509.5 482.8 506.1z"/>
<path class=g d="M479.2 484.3 489.2 490 492.5 486.3 482.5 480.5z"/>
<path class=b d="M625 516.2 635.1 517.5 637.9 511.2 627.8 509.8z"/>
<path class=g d="M625 507.7 635.1 509.3 638 502.6 627.9 500.9z"/>
<path class=y d="M625 506.3 635.2 506.9 638 499.1 627.9 498.5z"/>
<path class=y d="M423.8 542.6 433.7 543.9 437.2 539.3 427.4 538.1z"/>
<path class=b d="M423.1 505.8 433 508.6 436.5 503.8 426.7 500.9z"/>
<path class=g d="M422.4 466 432.3 470.6 435.9 467 426 462.2z"/>
<path class=b d="M568.8 519 578.9 521.2 581.9 515.5 571.9 513.2z"/>
<path class=y d="M568.8 519.4 578.9 519.1 581.9 512.7 571.9 512.9z"/>
<path class=g d="M568.8 507.9 578.9 510.9 581.9 504.9 571.8 501.9z"/>
<path class=y d="M512.8 533.2 522.7 533.3 525.9 527.1 516 527.1z"/>
<path class=b d="M512.6 515.9 522.6 519 525.8 513.9 515.9 510.8z"/>
<path class=g d="M512.5 496.9 522.5 501.4 525.7 497.2 515.7 492.7z"/>
<path class=y d="M456.8 541.3 466.6 542.3 470 537.1 460.2 536.3z"/>
<path class=b d="M456.3 509.5 466.2 512.6 469.6 507.7 459.7 504.7z"/>
<path class=g d="M455.8 476.8 465.8 482.1 469.2 478.7 459.2 473.3z"/>
<path class=b d="M602 519.2 612 520.7 614.9 514.7 604.9 513.1z"/>
<path class=y d="M602 512.3 612 512.5 614.9 505.9 604.9 505.6z"/>
<path class=g d="M602 510 612 512.2 614.9 505.7 604.9 503.5z"/>
<path class=y d="M545.8 526.6 555.8 526.1 558.9 519.8 548.9 520.3z"/>
<path class=b d="M545.7 519.5 555.8 522.1 558.8 516.7 548.9 514.1z"/>
<path class=g d="M545.7 506.1 555.7 509.7 558.8 504.6 548.8 501z"/>
<path class=y d="M489.7 538.3 499.6 538.7 502.9 533 493 532.7z"/>
<path class=b d="M489.4 514.4 499.4 517.7 502.7 512.8 492.8 509.5z"/>
<path class=g d="M489.2 490 499.2 495.5 502.5 491.8 492.5 486.3z"/>
<path class=y d="M433.7 543.9 443.5 545 446.9 540.3 437.2 539.3z"/>
<path class=b d="M433 508.6 442.9 511.4 446.4 506.6 436.5 503.8z"/>
<path class=g d="M432.3 470.6 442.3 475.2 445.8 471.8 435.9 467z"/>
<path class=b d="M578.9 521.2 588.9 523.1 591.9 517.4 581.9 515.5z"/>
<path class=y d="M578.9 519.1 588.9 518.7 591.9 512.4 581.9 512.7z"/>
<path class=g d="M578.9 510.9 588.9 513.6 591.9 507.5 581.9 504.9z"/>
<path class=y d="M522.7 533.3 532.7 533.1 535.8 527 525.9 527.1z"/>
<path class=b d="M522.6 519 532.6 521.9 535.8 516.7 525.8 513.9z"/>
<path class=g d="M522.5 501.4 532.5 505.8 535.7 501.5 525.7 497.2z"/>
<path class=y d="M466.6 542.3 476.5 543 479.8 537.8 470 537.1z"/>
<path class=b d="M466.2 512.6 476.1 515.9 479.5 511 469.6 507.7z"/>
<path class=g d="M465.8 482.1 475.8 487.6 479.2 484.3 469.2 478.7z"/>
<path class=b d="M612 520.7 622.1 522.1 625 516.2 614.9 514.7z"/>
<path class=g d="M612 512.2 622.2 514.2 625 507.7 614.9 505.7z"/>
<path class=y d="M612 512.5 622.2 512.9 625 506.3 614.9 505.9z"/>
<path class=y d="M410.5 545 420.3 546.6 423.8 542.6 414.1 541.1z"/>
<path class=b d="M409.7 507.7 419.6 510.5 423.1 505.8 413.3 502.9z"/>
<path class=g d="M408.8 465.4 418.8 469.8 422.4 466 412.5 461.5z"/>
<path class=y d="M555.8 526.1 565.8 525.7 568.8 519.4 558.9 519.8z"/>
<path class=b d="M555.8 522.1 565.8 524.4 568.8 519 558.8 516.7z"/>
<path class=g d="M555.7 509.7 565.8 513 568.8 507.9 558.8 504.6z"/>
<path class=y d="M499.6 538.7 509.6 539 512.8 533.2 502.9 533z"/>
<path class=b d="M499.4 517.7 509.4 520.9 512.6 515.9 502.7 512.8z"/>
<path class=g d="M499.2 495.5 509.2 500.6 512.5 496.9 502.5 491.8z"/>
<path class=y d="M443.5 545 453.3 546.1 456.8 541.3 446.9 540.3z"/>
<path class=b d="M442.9 511.4 452.8 514.3 456.3 509.5 446.4 506.6z"/>
<path class=g d="M442.3 475.2 452.3 480.1 455.8 476.8 445.8 471.8z"/>
<path class=b d="M588.9 523.1 599 524.8 602 519.2 591.9 517.4z"/>
<path class=y d="M588.9 518.7 599 518.4 602 512.3 591.9 512.4z"/>
<path class=g d="M588.9 513.6 599 516 602 510 591.9 507.5z"/>
<path class=y d="M532.7 533.1 542.7 532.7 545.8 526.6 535.8 527z"/>
<path class=b d="M532.6 521.9 542.6 524.6 545.7 519.5 535.8 516.7z"/>
<path class=g d="M532.5 505.8 542.5 510.5 545.7 506.1 535.7 501.5z"/>
<path class=y d="M476.5 543 486.4 543.6 489.7 538.3 479.8 537.8z"/>
<path class=b d="M476.1 515.9 486.1 519.3 489.4 514.4 479.5 511z"/>
<path class=g d="M475.8 487.6 485.8 493.2 489.2 490 479.2 484.3z"/>
<path class=b d="M622.1 522.1 632.3 523.4 635.1 517.5 625 516.2z"/>
<path class=g d="M622.2 514.2 632.3 515.8 635.1 509.3 625 507.7z"/>
<path class=y d="M622.2 512.9 632.3 513.4 635.2 506.9 625 506.3z"/>
<path class=y d="M420.3 546.6 430.1 548 433.7 543.9 423.8 542.6z"/>
<path class=b d="M419.6 510.5 429.5 513.3 433 508.6 423.1 505.8z"/>
<path class=g d="M418.8 469.8 428.8 474.1 432.3 470.6 422.4 466z"/>
<path class=b d="M565.8 524.4 575.9 526.5 578.9 521.2 568.8 519z"/>
<path class=y d="M565.8 525.7 575.9 525.2 578.9 519.1 568.8 519.4z"/>
<path class=g d="M565.8 513 575.8 516 578.9 510.9 568.8 507.9z"/>
<path class=y d="M509.6 539 519.5 539.1 522.7 533.3 512.8 533.2z"/>
<path class=b d="M509.4 520.9 519.4 524 522.6 519 512.6 515.9z"/>
<path class=g d="M509.2 500.6 519.2 505.2 522.5 501.4 512.5 496.9z"/>
<path class=y d="M453.3 546.1 463.2 547.1 466.6 542.3 456.8 541.3z"/>
<path class=b d="M452.8 514.3 462.8 517.3 466.2 512.6 456.3 509.5z"/>
<path class=g d="M452.3 480.1 462.3 485.2 465.8 482.1 455.8 476.8z"/>
<path class=b d="M599 524.8 609.1 526.3 612 520.7 602 519.2z"/>
<path class=y d="M599 518.4 609.1 518.5 612 512.5 602 512.3z"/>
<path class=g d="M599 516 609.1 518.3 612 512.2 602 510z"/>
<path class=y d="M542.7 532.7 552.7 532.3 555.8 526.1 545.8 526.6z"/>
<path class=b d="M542.6 524.6 552.7 527.2 555.8 522.1 545.7 519.5z"/>
<path class=g d="M542.5 510.5 552.6 514 555.7 509.7 545.7 506.1z"/>
<path class=y d="M486.4 543.6 496.3 544.1 499.6 538.7 489.7 538.3z"/>
<path class=b d="M486.1 519.3 496.1 522.6 499.4 517.7 489.4 514.4z"/>
<path class=g d="M485.8 493.2 495.8 498.7 499.2 495.5 489.2 490z"/>
<path class=y d="M430.1 548 440 549.2 443.5 545 433.7 543.9z"/>
<path class=b d="M429.5 513.3 439.4 516.1 442.9 511.4 433 508.6z"/>
<path class=g d="M428.8 474.1 438.8 478.6 442.3 475.2 432.3 470.6z"/>
<path class=b d="M575.9 526.5 585.9 528.4 588.9 523.1 578.9 521.2z"/>
<path class=y d="M575.9 525.2 585.9 524.7 588.9 518.7 578.9 519.1z"/>
<path class=g d="M575.8 516 585.9 518.6 588.9 513.6 578.9 510.9z"/>
<path class=y d="M519.5 539.1 529.5 539 532.7 533.1 522.7 533.3z"/>
<path class=b d="M519.4 524 529.4 526.9 532.6 521.9 522.6 519z"/>
<path class=g d="M519.2 505.2 529.3 509.7 532.5 505.8 522.5 501.4z"/>
<path class=y d="M463.2 547.1 473.1 548 476.5 543 466.6 542.3z"/>
<path class=b d="M462.8 517.3 472.8 520.6 476.1 515.9 466.2 512.6z"/>
<path class=g d="M462.3 485.2 472.3 490.6 475.8 487.6 465.8 482.1z"/>
<path class=b d="M609.1 526.3 619.3 527.6 622.1 522.1 612 520.7z"/>
<path class=g d="M609.1 518.3 619.3 520.3 622.2 514.2 612 512.2z"/>
<path class=y d="M609.1 518.5 619.3 518.8 622.2 512.9 612 512.5z"/>
<path class=y d="M406.8 548.4 416.7 550.2 420.3 546.6 410.5 545z"/>
<path class=b d="M406.1 512.4 416 515.3 419.6 510.5 409.7 507.7z"/>
<path class=g d="M405.2 469.3 415.2 473.4 418.8 469.8 408.8 465.4z"/>
<path class=y d="M552.7 532.3 562.7 531.9 565.8 525.7 555.8 526.1z"/>
<path class=b d="M552.7 527.2 562.7 529.4 565.8 524.4 555.8 522.1z"/>
<path class=g d="M552.6 514 562.7 517.2 565.8 513 555.7 509.7z"/>
<path class=y d="M496.3 544.1 506.3 544.4 509.6 539 499.6 538.7z"/>
<path class=b d="M496.1 522.6 506.1 525.8 509.4 520.9 499.4 517.7z"/>
<path class=g d="M495.8 498.7 505.9 503.8 509.2 500.6 499.2 495.5z"/>
<path class=y d="M440 549.2 449.9 550.4 453.3 546.1 443.5 545z"/>
<path class=b d="M439.4 516.1 449.4 519 452.8 514.3 442.9 511.4z"/>
<path class=g d="M438.8 478.6 448.8 483.3 452.3 480.1 442.3 475.2z"/>
<path class=b d="M585.9 528.4 596.1 530 599 524.8 588.9 523.1z"/>
<path class=y d="M585.9 524.7 596.1 524.2 599 518.4 588.9 518.7z"/>
<path class=g d="M585.9 518.6 596.1 521.1 599 516 588.9 513.6z"/>
<path class=y d="M529.5 539 539.5 538.7 542.7 532.7 532.7 533.1z"/>
<path class=b d="M529.4 526.9 539.5 529.6 542.6 524.6 532.6 521.9z"/>
<path class=g d="M529.3 509.7 539.4 514.4 542.5 510.5 532.5 505.8z"/>
<path class=y d="M473.1 548 483.1 548.6 486.4 543.6 476.5 543z"/>
<path class=b d="M472.8 520.6 482.8 524.1 486.1 519.3 476.1 515.9z"/>
<path class=g d="M472.3 490.6 482.4 496.2 485.8 493.2 475.8 487.6z"/>
<path class=b d="M619.3 527.6 629.4 528.8 632.3 523.4 622.1 522.1z"/>
<path class=g d="M619.3 520.3 629.5 522 632.3 515.8 622.2 514.2z"/>
<path class=y d="M619.3 518.8 629.5 519.4 632.3 513.4 622.2 512.9z"/>
<path class=y d="M416.7 550.2 426.6 551.7 430.1 548 420.3 546.6z"/>
<path class=b d="M416 515.3 425.9 518 429.5 513.3 419.6 510.5z"/>
<path class=g d="M415.2 473.4 425.2 477.7 428.8 474.1 418.8 469.8z"/>
<path class=y d="M562.7 531.9 572.8 531.3 575.9 525.2 565.8 525.7z"/>
<path class=b d="M562.7 529.4 572.8 531.5 575.9 526.5 565.8 524.4z"/>
<path class=g d="M562.7 517.2 572.8 520.2 575.8 516 565.8 513z"/>
<path class=y d="M506.3 544.4 516.3 544.6 519.5 539.1 509.6 539z"/>
<path class=b d="M506.1 525.8 516.1 528.9 519.4 524 509.4 520.9z"/>
<path class=g d="M505.9 503.8 516 508.3 519.2 505.2 509.2 500.6z"/>
<path class=y d="M449.9 550.4 459.8 551.5 463.2 547.1 453.3 546.1z"/>
<path class=b d="M449.4 519 459.3 522 462.8 517.3 452.8 514.3z"/>
<path class=g d="M448.8 483.3 458.8 488.3 462.3 485.2 452.3 480.1z"/>
<path class=b d="M596.1 530 606.2 531.4 609.1 526.3 599 524.8z"/>
<path class=y d="M596.1 524.2 606.2 524.2 609.1 518.5 599 518.4z"/>
<path class=g d="M596.1 521.1 606.2 523.3 609.1 518.3 599 516z"/>
<path class=y d="M539.5 538.7 549.6 538.2 552.7 532.3 542.7 532.7z"/>
<path class=b d="M539.5 529.6 549.5 532.1 552.7 527.2 542.6 524.6z"/>
<path class=g d="M539.4 514.4 549.5 518 552.6 514 542.5 510.5z"/>
<path class=y d="M483.1 548.6 493 549.1 496.3 544.1 486.4 543.6z"/>
<path class=b d="M482.8 524.1 492.8 527.4 496.1 522.6 486.1 519.3z"/>
<path class=g d="M482.4 496.2 492.5 501.6 495.8 498.7 485.8 493.2z"/>
<path class=y d="M426.6 551.7 436.4 553 440 549.2 430.1 548z"/>
<path class=b d="M425.9 518 435.9 520.7 439.4 516.1 429.5 513.3z"/>
<path class=g d="M425.2 477.7 435.2 481.9 438.8 478.6 428.8 474.1z"/>
<path class=b d="M572.8 531.5 582.9 533.3 585.9 528.4 575.9 526.5z"/>
<path class=y d="M572.8 531.3 582.9 530.6 585.9 524.7 575.9 525.2z"/>
<path class=g d="M572.8 520.2 582.9 522.9 585.9 518.6 575.8 516z"/>
<path class=y d="M516.3 544.6 526.3 544.5 529.5 539 519.5 539.1z"/>
<path class=b d="M516.1 528.9 526.2 531.8 529.4 526.9 519.4 524z"/>
<path class=g d="M516 508.3 526.1 512.8 529.3 509.7 519.2 505.2z"/>
<path class=y d="M459.8 551.5 469.7 552.5 473.1 548 463.2 547.1z"/>
<path class=b d="M459.3 522 469.3 525.3 472.8 520.6 462.8 517.3z"/>
<path class=g d="M458.8 488.3 468.9 493.6 472.3 490.6 462.3 485.2z"/>
<path class=b d="M606.2 531.4 616.4 532.7 619.3 527.6 609.1 526.3z"/>
<path class=g d="M606.2 523.3 616.4 525.3 619.3 520.3 609.1 518.3z"/>
<path class=y d="M606.2 524.2 616.4 524.6 619.3 518.8 609.1 518.5z"/>
<path class=y d="M403.2 551.9 413.1 553.8 416.7 550.2 406.8 548.4z"/>
<path class=b d="M402.4 517.2 412.4 519.9 416 515.3 406.1 512.4z"/>
<path class=g d="M401.5 473 411.5 477 415.2 473.4 405.2 469.3z"/>
<path class=y d="M549.6 538.2 559.6 537.8 562.7 531.9 552.7 532.3z"/>
<path class=b d="M549.5 532.1 559.6 534.3 562.7 529.4 552.7 527.2z"/>
<path class=g d="M549.5 518 559.6 521.1 562.7 517.2 552.6 514z"/>
<path class=y d="M493 549.1 503 549.5 506.3 544.4 496.3 544.1z"/>
<path class=b d="M492.8 527.4 502.8 530.7 506.1 525.8 496.1 522.6z"/>
<path class=g d="M492.5 501.6 502.6 506.7 505.9 503.8 495.8 498.7z"/>
<path class=y d="M436.4 553 446.4 554.3 449.9 550.4 440 549.2z"/>
<path class=b d="M435.9 520.7 445.9 523.6 449.4 519 439.4 516.1z"/>
<path class=g d="M435.2 481.9 445.2 486.5 448.8 483.3 438.8 478.6z"/>
<path class=b d="M582.9 533.3 593.1 534.9 596.1 530 585.9 528.4z"/>
<path class=y d="M582.9 530.6 593.1 530.1 596.1 524.2 585.9 524.7z"/>
<path class=g d="M582.9 522.9 593.1 525.3 596.1 521.1 585.9 518.6z"/>
<path class=y d="M526.3 544.5 536.3 544.2 539.5 538.7 529.5 539z"/>
<path class=b d="M526.2 531.8 536.3 534.5 539.5 529.6 529.4 526.9z"/>
<path class=g d="M526.1 512.8 536.2 517.7 539.4 514.4 529.3 509.7z"/>
<path class=y d="M469.7 552.5 479.7 553.2 483.1 548.6 473.1 548z"/>
<path class=b d="M469.3 525.3 479.4 528.8 482.8 524.1 472.8 520.6z"/>
<path class=g d="M468.9 493.6 479 499.2 482.4 496.2 472.3 490.6z"/>
<path class=b d="M616.4 532.7 626.6 533.8 629.4 528.8 619.3 527.6z"/>
<path class=g d="M616.4 525.3 626.6 527.1 629.5 522 619.3 520.3z"/>
<path class=y d="M616.4 524.6 626.6 525.1 629.5 519.4 619.3 518.8z"/>
<path class=y d="M413.1 553.8 423 555.4 426.6 551.7 416.7 550.2z"/>
<path class=b d="M412.4 519.9 422.3 522.6 425.9 518 416 515.3z"/>
<path class=g d="M411.5 477 421.5 481 425.2 477.7 415.2 473.4z"/>
<path class=y d="M559.6 537.8 569.8 537.2 572.8 531.3 562.7 531.9z"/>
<path class=b d="M559.6 534.3 569.8 536.3 572.8 531.5 562.7 529.4z"/>
<path class=g d="M559.6 521.1 569.7 524.1 572.8 520.2 562.7 517.2z"/>
<path class=y d="M503 549.5 513 549.6 516.3 544.6 506.3 544.4z"/>
<path class=b d="M502.8 530.7 512.9 533.8 516.1 528.9 506.1 525.8z"/>
<path class=g d="M502.6 506.7 512.7 511.2 516 508.3 505.9 503.8z"/>
<path class=y d="M446.4 554.3 456.3 555.6 459.8 551.5 449.9 550.4z"/>
<path class=b d="M445.9 523.6 455.9 526.6 459.3 522 449.4 519z"/>
<path class=g d="M445.2 486.5 455.3 491.4 458.8 488.3 448.8 483.3z"/>
<path class=b d="M593.1 534.9 603.2 536.2 606.2 531.4 596.1 530z"/>
<path class=y d="M593.1 530.1 603.3 530 606.2 524.2 596.1 524.2z"/>
<path class=g d="M593.1 525.3 603.3 527.5 606.2 523.3 596.1 521.1z"/>
<path class=y d="M536.3 544.2 546.4 543.8 549.6 538.2 539.5 538.7z"/>
<path class=b d="M536.3 534.5 546.4 537 549.5 532.1 539.5 529.6z"/>
<path class=g d="M536.2 517.7 546.3 521.1 549.5 518 539.4 514.4z"/>
<path class=y d="M479.7 553.2 489.7 553.7 493 549.1 483.1 548.6z"/>
<path class=b d="M479.4 528.8 489.4 532.2 492.8 527.4 482.8 524.1z"/>
<path class=g d="M479 499.2 489.1 504.6 492.5 501.6 482.4 496.2z"/>
<path class=y d="M423 555.4 432.9 556.9 436.4 553 426.6 551.7z"/>
<path class=b d="M422.3 522.6 432.3 525.3 435.9 520.7 425.9 518z"/>
<path class=g d="M421.5 481 431.6 485.1 435.2 481.9 425.2 477.7z"/>
<path class=b d="M569.8 536.3 579.9 538.1 582.9 533.3 572.8 531.5z"/>
<path class=y d="M569.8 537.2 579.9 536.4 582.9 530.6 572.8 531.3z"/>
<path class=g d="M569.7 524.1 579.9 526.7 582.9 522.9 572.8 520.2z"/>
<path class=y d="M513 549.6 523.1 549.6 526.3 544.5 516.3 544.6z"/>
<path class=b d="M512.9 533.8 523 536.6 526.2 531.8 516.1 528.9z"/>
<path class=g d="M512.7 511.2 522.8 515.7 526.1 512.8 516 508.3z"/>
<path class=y d="M456.3 555.6 466.3 556.6 469.7 552.5 459.8 551.5z"/>
<path class=b d="M455.9 526.6 465.9 529.9 469.3 525.3 459.3 522z"/>
<path class=g d="M455.3 491.4 465.4 496.7 468.9 493.6 458.8 488.3z"/>
<path class=b d="M603.2 536.2 613.4 537.4 616.4 532.7 606.2 531.4z"/>
<path class=y d="M603.3 530 613.5 530.3 616.4 524.6 606.2 524.2z"/>
<path class=g d="M603.3 527.5 613.5 529.5 616.4 525.3 606.2 523.3z"/>
<path class=y d="M399.5 555.4 409.4 557.4 413.1 553.8 403.2 551.9z"/>
<path class=b d="M398.8 521.5 408.7 524.2 412.4 519.9 402.4 517.2z"/>
<path class=g d="M397.8 476.3 407.8 480.2 411.5 477 401.5 473z"/>
<path class=y d="M546.4 543.8 556.5 543.3 559.6 537.8 549.6 538.2z"/>
<path class=b d="M546.4 537 556.5 539.1 559.6 534.3 549.5 532.1z"/>
<path class=g d="M546.3 521.1 556.5 524.2 559.6 521.1 549.5 518z"/>
<path class=y d="M489.7 553.7 499.7 554.2 503 549.5 493 549.1z"/>
<path class=b d="M489.4 532.2 499.5 535.5 502.8 530.7 492.8 527.4z"/>
<path class=g d="M489.1 504.6 499.2 509.7 502.6 506.7 492.5 501.6z"/>
<path class=y d="M432.9 556.9 442.8 558.3 446.4 554.3 436.4 553z"/>
<path class=b d="M432.3 525.3 442.3 528 445.9 523.6 435.9 520.7z"/>
<path class=g d="M431.6 485.1 441.7 489.6 445.2 486.5 435.2 481.9z"/>
<path class=b d="M579.9 538.1 590.1 539.6 593.1 534.9 582.9 533.3z"/>
<path class=y d="M579.9 536.4 590.1 535.7 593.1 530.1 582.9 530.6z"/>
<path class=g d="M579.9 526.7 590.1 529.1 593.1 525.3 582.9 522.9z"/>
<path class=y d="M523.1 549.6 533.1 549.3 536.3 544.2 526.3 544.5z"/>
<path class=b d="M523 536.6 533.1 539.3 536.3 534.5 526.2 531.8z"/>
<path class=g d="M522.8 515.7 533 520.6 536.2 517.7 526.1 512.8z"/>
<path class=y d="M466.3 556.6 476.3 557.5 479.7 553.2 469.7 552.5z"/>
<path class=b d="M465.9 529.9 476 533.4 479.4 528.8 469.3 525.3z"/>
<path class=g d="M465.4 496.7 475.6 502.2 479 499.2 468.9 493.6z"/>
<path class=b d="M613.4 537.4 623.7 538.4 626.6 533.8 616.4 532.7z"/>
<path class=g d="M613.5 529.5 623.7 531.3 626.6 527.1 616.4 525.3z"/>
<path class=y d="M613.5 530.3 623.7 530.8 626.6 525.1 616.4 524.6z"/>
<path class=y d="M409.4 557.4 419.3 559.2 423 555.4 413.1 553.8z"/>
<path class=b d="M408.7 524.2 418.7 526.9 422.3 522.6 412.4 519.9z"/>
<path class=g d="M407.8 480.2 417.9 484.1 421.5 481 411.5 477z"/>
<path class=y d="M556.5 543.3 566.7 542.7 569.8 537.2 559.6 537.8z"/>
<path class=b d="M556.5 539.1 566.7 541 569.8 536.3 559.6 534.3z"/>
<path class=g d="M556.5 524.2 566.6 527.1 569.7 524.1 559.6 521.1z"/>
<path class=y d="M499.7 554.2 509.7 554.4 513 549.6 503 549.5z"/>
<path class=b d="M499.5 535.5 509.6 538.6 512.9 533.8 502.8 530.7z"/>
<path class=g d="M499.2 509.7 509.4 514.2 512.7 511.2 502.6 506.7z"/>
<path class=y d="M442.8 558.3 452.8 559.7 456.3 555.6 446.4 554.3z"/>
<path class=b d="M442.3 528 452.4 531 455.9 526.6 445.9 523.6z"/>
<path class=g d="M441.7 489.6 451.8 494.5 455.3 491.4 445.2 486.5z"/>
<path class=b d="M590.1 539.6 600.3 540.8 603.2 536.2 593.1 534.9z"/>
<path class=y d="M590.1 535.7 600.3 535.6 603.3 530 593.1 530.1z"/>
<path class=g d="M590.1 529.1 600.3 531.3 603.3 527.5 593.1 525.3z"/>
<path class=y d="M533.1 549.3 543.3 548.9 546.4 543.8 536.3 544.2z"/>
<path class=b d="M533.1 539.3 543.2 541.8 546.4 537 536.3 534.5z"/>
<path class=g d="M533 520.6 543.1 524 546.3 521.1 536.2 517.7z"/>
<path class=y d="M476.3 557.5 486.3 558.1 489.7 553.7 479.7 553.2z"/>
<path class=b d="M476 533.4 486 536.8 489.4 532.2 479.4 528.8z"/>
<path class=g d="M475.6 502.2 485.7 507.6 489.1 504.6 479 499.2z"/>
<path class=y d="M419.3 559.2 429.3 560.7 432.9 556.9 423 555.4z"/>
<path class=b d="M418.7 526.9 428.7 529.5 432.3 525.3 422.3 522.6z"/>
<path class=g d="M417.9 484.1 428 488.1 431.6 485.1 421.5 481z"/>
<path class=b d="M566.7 541 576.8 542.8 579.9 538.1 569.8 536.3z"/>
<path class=y d="M566.7 542.7 576.8 541.7 579.9 536.4 569.8 537.2z"/>
<path class=g d="M566.6 527.1 576.8 529.7 579.9 526.7 569.7 524.1z"/>
<path class=y d="M509.7 554.4 519.8 554.4 523.1 549.6 513 549.6z"/>
<path class=b d="M509.6 538.6 519.7 541.4 523 536.6 512.9 533.8z"/>
<path class=g d="M509.4 514.2 519.5 518.8 522.8 515.7 512.7 511.2z"/>
<path class=y d="M452.8 559.7 462.8 560.8 466.3 556.6 456.3 555.6z"/>
<path class=b d="M452.4 531 462.4 534.3 465.9 529.9 455.9 526.6z"/>
<path class=g d="M451.8 494.5 461.9 499.7 465.4 496.7 455.3 491.4z"/>
<path class=b d="M600.3 540.8 610.5 541.9 613.4 537.4 603.2 536.2z"/>
<path class=y d="M600.3 535.6 610.5 535.9 613.5 530.3 603.3 530z"/>
<path class=g d="M600.3 531.3 610.5 533.3 613.5 529.5 603.3 527.5z"/>
<path class=y d="M395.8 558.7 405.7 560.9 409.4 557.4 399.5 555.4z"/>
<path class=b d="M395 525.6 405 528.3 408.7 524.2 398.8 521.5z"/>
<path class=g d="M394 479.4 404.1 483.1 407.8 480.2 397.8 476.3z"/>
<path class=y d="M543.3 548.9 553.4 548.4 556.5 543.3 546.4 543.8z"/>
<path class=b d="M543.2 541.8 553.4 543.9 556.5 539.1 546.4 537z"/>
<path class=g d="M543.1 524 553.3 526.9 556.5 524.2 546.3 521.1z"/>
<path class=y d="M486.3 558.1 496.4 558.6 499.7 554.2 489.7 553.7z"/>
<path class=b d="M486 536.8 496.2 540.1 499.5 535.5 489.4 532.2z"/>
<path class=g d="M485.7 507.6 495.9 512.8 499.2 509.7 489.1 504.6z"/>
<path class=y d="M429.3 560.7 439.3 562.3 442.8 558.3 432.9 556.9z"/>
<path class=b d="M428.7 529.5 438.8 532.2 442.3 528 432.3 525.3z"/>
<path class=g d="M428 488.1 438.1 492.4 441.7 489.6 431.6 485.1z"/>
<path class=b d="M576.8 542.8 587.1 544.2 590.1 539.6 579.9 538.1z"/>
<path class=y d="M576.8 541.7 587.1 540.9 590.1 535.7 579.9 536.4z"/>
<path class=g d="M576.8 529.7 587 532 590.1 529.1 579.9 526.7z"/>
<path class=y d="M519.8 554.4 529.9 554.1 533.1 549.3 523.1 549.6z"/>
<path class=b d="M519.7 541.4 529.9 544.1 533.1 539.3 523 536.6z"/>
<path class=g d="M519.5 518.8 529.7 523.8 533 520.6 522.8 515.7z"/>
<path class=y d="M462.8 560.8 472.9 561.7 476.3 557.5 466.3 556.6z"/>
<path class=b d="M462.4 534.3 472.5 537.9 476 533.4 465.9 529.9z"/>
<path class=g d="M461.9 499.7 472.1 505.2 475.6 502.2 465.4 496.7z"/>
<path class=b d="M610.5 541.9 620.8 542.8 623.7 538.4 613.4 537.4z"/>
<path class=y d="M610.5 535.9 620.8 536.4 623.7 530.8 613.5 530.3z"/>
<path class=g d="M610.5 533.3 620.8 535 623.7 531.3 613.5 529.5z"/>
<path class=y d="M405.7 560.9 415.7 562.8 419.3 559.2 409.4 557.4z"/>
<path class=b d="M405 528.3 415.1 530.9 418.7 526.9 408.7 524.2z"/>
<path class=g d="M404.1 483.1 414.2 486.9 417.9 484.1 407.8 480.2z"/>
<path class=y d="M553.4 548.4 563.6 547.7 566.7 542.7 556.5 543.3z"/>
<path class=b d="M553.4 543.9 563.6 545.8 566.7 541 556.5 539.1z"/>
<path class=g d="M553.3 526.9 563.5 529.8 566.6 527.1 556.5 524.2z"/>
<path class=y d="M496.4 558.6 506.4 558.9 509.7 554.4 499.7 554.2z"/>
<path class=b d="M496.2 540.1 506.3 543.2 509.6 538.6 499.5 535.5z"/>
<path class=g d="M495.9 512.8 506 517.4 509.4 514.2 499.2 509.7z"/>
<path class=y d="M439.3 562.3 449.3 563.8 452.8 559.7 442.8 558.3z"/>
<path class=b d="M438.8 532.2 448.8 535.2 452.4 531 442.3 528z"/>
<path class=g d="M438.1 492.4 448.2 497.3 451.8 494.5 441.7 489.6z"/>
<path class=b d="M587.1 544.2 597.3 545.3 600.3 540.8 590.1 539.6z"/>
<path class=y d="M587.1 540.9 597.3 540.7 600.3 535.6 590.1 535.7z"/>
<path class=g d="M587 532 597.3 534.2 600.3 531.3 590.1 529.1z"/>
<path class=y d="M529.9 554.1 540.1 553.7 543.3 548.9 533.1 549.3z"/>
<path class=b d="M529.9 544.1 540 546.6 543.2 541.8 533.1 539.3z"/>
<path class=g d="M529.7 523.8 539.9 527.1 543.1 524 533 520.6z"/>
<path class=y d="M472.9 561.7 482.9 562.4 486.3 558.1 476.3 557.5z"/>
<path class=b d="M472.5 537.9 482.6 541.3 486 536.8 476 533.4z"/>
<path class=g d="M472.1 505.2 482.3 510.7 485.7 507.6 475.6 502.2z"/>
<path class=y d="M415.7 562.8 425.7 564.5 429.3 560.7 419.3 559.2z"/>
<path class=b d="M415.1 530.9 425.1 533.4 428.7 529.5 418.7 526.9z"/>
<path class=g d="M414.2 486.9 424.3 490.8 428 488.1 417.9 484.1z"/>
<path class=y d="M563.6 547.7 573.8 546.6 576.8 541.7 566.7 542.7z"/>
<path class=b d="M563.6 545.8 573.8 547.4 576.8 542.8 566.7 541z"/>
<path class=g d="M563.5 529.8 573.7 532.3 576.8 529.7 566.6 527.1z"/>
<path class=y d="M506.4 558.9 516.5 558.9 519.8 554.4 509.7 554.4z"/>
<path class=b d="M506.3 543.2 516.4 546.1 519.7 541.4 509.6 538.6z"/>
<path class=g d="M506 517.4 516.2 522 519.5 518.8 509.4 514.2z"/>
<path class=y d="M449.3 563.8 459.3 565 462.8 560.8 452.8 559.7z"/>
<path class=b d="M448.8 535.2 458.9 538.5 462.4 534.3 452.4 531z"/>
<path class=g d="M448.2 497.3 458.4 502.5 461.9 499.7 451.8 494.5z"/>
<path class=b d="M597.3 545.3 607.6 546.3 610.5 541.9 600.3 540.8z"/>
<path class=y d="M597.3 540.7 607.6 541 610.5 535.9 600.3 535.6z"/>
<path class=g d="M597.3 534.2 607.6 536.1 610.5 533.3 600.3 531.3z"/>
<path class=y d="M392 561.8 402 564.2 405.7 560.9 395.8 558.7z"/>
<path class=b d="M391.3 529.6 401.3 532.3 405 528.3 395 525.6z"/>
<path class=g d="M390.2 482.2 400.3 485.8 404.1 483.1 394 479.4z"/>
<path class=y d="M540.1 553.7 550.2 553.3 553.4 548.4 543.3 548.9z"/>
<path class=b d="M540 546.6 550.2 548.6 553.4 543.9 543.2 541.8z"/>
<path class=g d="M539.9 527.1 550.1 530 553.3 526.9 543.1 524z"/>
<path class=y d="M482.9 562.4 493 563 496.4 558.6 486.3 558.1z"/>
<path class=b d="M482.6 541.3 492.8 544.5 496.2 540.1 486 536.8z"/>
<path class=g d="M482.3 510.7 492.5 515.9 495.9 512.8 485.7 507.6z"/>
<path class=y d="M425.7 564.5 435.7 566.1 439.3 562.3 429.3 560.7z"/>
<path class=b d="M425.1 533.4 435.2 536.2 438.8 532.2 428.7 529.5z"/>
<path class=g d="M424.3 490.8 434.4 495 438.1 492.4 428 488.1z"/>
<path class=b d="M573.8 547.4 584 548.8 587.1 544.2 576.8 542.8z"/>
<path class=y d="M573.8 546.6 584 545.6 587.1 540.9 576.8 541.7z"/>
<path class=g d="M573.7 532.3 584 534.6 587 532 576.8 529.7z"/>
<path class=y d="M516.5 558.9 526.7 558.7 529.9 554.1 519.8 554.4z"/>
<path class=b d="M516.4 546.1 526.6 548.7 529.9 544.1 519.7 541.4z"/>
<path class=g d="M516.2 522 526.4 527.1 529.7 523.8 519.5 518.8z"/>
<path class=y d="M459.3 565 469.4 566 472.9 561.7 462.8 560.8z"/>
<path class=b d="M458.9 538.5 469.1 542.1 472.5 537.9 462.4 534.3z"/>
<path class=g d="M458.4 502.5 468.6 508 472.1 505.2 461.9 499.7z"/>
<path class=b d="M607.6 546.3 617.9 547.2 620.8 542.8 610.5 541.9z"/>
<path class=y d="M607.6 541 617.9 541.6 620.8 536.4 610.5 535.9z"/>
<path class=g d="M607.6 536.1 617.9 537.8 620.8 535 610.5 533.3z"/>
<path class=y d="M402 564.2 412 566.2 415.7 562.8 405.7 560.9z"/>
<path class=b d="M401.3 532.3 411.4 534.8 415.1 530.9 405 528.3z"/>
<path class=g d="M400.3 485.8 410.4 489.5 414.2 486.9 404.1 483.1z"/>
<path class=y d="M550.2 553.3 560.4 552.4 563.6 547.7 553.4 548.4z"/>
<path class=b d="M550.2 548.6 560.4 550.5 563.6 545.8 553.4 543.9z"/>
<path class=g d="M550.1 530 560.4 532.9 563.5 529.8 553.3 526.9z"/>
<path class=y d="M493 563 503.1 563.3 506.4 558.9 496.4 558.6z"/>
<path class=b d="M492.8 544.5 502.9 547.7 506.3 543.2 496.2 540.1z"/>
<path class=g d="M492.5 515.9 502.7 520.5 506 517.4 495.9 512.8z"/>
<path class=y d="M435.7 566.1 445.8 567.7 449.3 563.8 439.3 562.3z"/>
<path class=b d="M435.2 536.2 445.3 539.1 448.8 535.2 438.8 532.2z"/>
<path class=g d="M434.4 495 444.6 499.8 448.2 497.3 438.1 492.4z"/>
<path class=b d="M584 548.8 594.3 549.8 597.3 545.3 587.1 544.2z"/>
<path class=y d="M584 545.6 594.3 545.4 597.3 540.7 587.1 540.9z"/>
<path class=g d="M584 534.6 594.3 536.7 597.3 534.2 587 532z"/>
<path class=y d="M526.7 558.7 536.9 558.3 540.1 553.7 529.9 554.1z"/>
<path class=b d="M526.6 548.7 536.8 551.2 540 546.6 529.9 544.1z"/>
<path class=g d="M526.4 527.1 536.7 530.4 539.9 527.1 529.7 523.8z"/>
<path class=y d="M469.4 566 479.5 566.7 482.9 562.4 472.9 561.7z"/>
<path class=b d="M469.1 542.1 479.2 545.5 482.6 541.3 472.5 537.9z"/>
<path class=g d="M468.6 508 478.8 513.5 482.3 510.7 472.1 505.2z"/>
<path class=y d="M412 566.2 422 568 425.7 564.5 415.7 562.8z"/>
<path class=b d="M411.4 534.8 421.4 537.4 425.1 533.4 415.1 530.9z"/>
<path class=g d="M410.4 489.5 420.6 493.2 424.3 490.8 414.2 486.9z"/>
<path class=y d="M560.4 552.4 570.7 551.2 573.8 546.6 563.6 547.7z"/>
<path class=b d="M560.4 550.5 570.7 552.1 573.8 547.4 563.6 545.8z"/>
<path class=g d="M560.4 532.9 570.6 535.4 573.7 532.3 563.5 529.8z"/>
<path class=y d="M503.1 563.3 513.2 563.4 516.5 558.9 506.4 558.9z"/>
<path class=b d="M502.9 547.7 513.1 550.5 516.4 546.1 506.3 543.2z"/>
<path class=g d="M502.7 520.5 512.9 525.2 516.2 522 506 517.4z"/>
<path class=y d="M445.8 567.7 455.8 569.1 459.3 565 449.3 563.8z"/>
<path class=b d="M445.3 539.1 455.4 542.5 458.9 538.5 448.8 535.2z"/>
<path class=g d="M444.6 499.8 454.8 505 458.4 502.5 448.2 497.3z"/>
<path class=b d="M594.3 549.8 604.6 550.8 607.6 546.3 597.3 545.3z"/>
<path class=y d="M594.3 545.4 604.6 545.6 607.6 541 597.3 540.7z"/>
<path class=g d="M594.3 536.7 604.6 538.5 607.6 536.1 597.3 534.2z"/>
<path class=y d="M388.2 564.8 398.3 567.3 402 564.2 392 561.8z"/>
<path class=b d="M387.5 533.5 397.6 536.1 401.3 532.3 391.3 529.6z"/>
<path class=g d="M386.4 484.8 396.5 488.3 400.3 485.8 390.2 482.2z"/>
<path class=y d="M536.9 558.3 547.1 557.9 550.2 553.3 540.1 553.7z"/>
<path class=b d="M536.8 551.2 547 553.2 550.2 548.6 540 546.6z"/>
<path class=g d="M536.7 530.4 546.9 533.2 550.1 530 539.9 527.1z"/>
<path class=y d="M479.5 566.7 489.6 567.4 493 563 482.9 562.4z"/>
<path class=b d="M479.2 545.5 489.4 548.8 492.8 544.5 482.6 541.3z"/>
<path class=g d="M478.8 513.5 489 518.8 492.5 515.9 482.3 510.7z"/>
<path class=y d="M422 568 432.1 569.8 435.7 566.1 425.7 564.5z"/>
<path class=b d="M421.4 537.4 431.6 540.1 435.2 536.2 425.1 533.4z"/>
<path class=g d="M420.6 493.2 430.8 497.4 434.4 495 424.3 490.8z"/>
<path class=b d="M570.7 552.1 580.9 553.4 584 548.8 573.8 547.4z"/>
<path class=y d="M570.7 551.2 580.9 550.1 584 545.6 573.8 546.6z"/>
<path class=g d="M570.6 535.4 580.9 537.6 584 534.6 573.7 532.3z"/>
<path class=y d="M513.2 563.4 523.4 563.3 526.7 558.7 516.5 558.9z"/>
<path class=b d="M513.1 550.5 523.3 553.1 526.6 548.7 516.4 546.1z"/>
<path class=g d="M512.9 525.2 523.2 530.4 526.4 527.1 516.2 522z"/>
<path class=y d="M455.8 569.1 465.9 570.2 469.4 566 459.3 565z"/>
<path class=b d="M455.4 542.5 465.6 546.1 469.1 542.1 458.9 538.5z"/>
<path class=g d="M454.8 505 465.1 510.6 468.6 508 458.4 502.5z"/>
<path class=b d="M604.6 550.8 614.9 551.5 617.9 547.2 607.6 546.3z"/>
<path class=y d="M604.6 545.6 614.9 546.2 617.9 541.6 607.6 541z"/>
<path class=g d="M604.6 538.5 614.9 540.2 617.9 537.8 607.6 536.1z"/>
<path class=y d="M398.3 567.3 408.3 569.5 412 566.2 402 564.2z"/>
<path class=b d="M397.6 536.1 407.7 538.7 411.4 534.8 401.3 532.3z"/>
<path class=g d="M396.5 488.3 406.7 491.9 410.4 489.5 400.3 485.8z"/>
<path class=y d="M547.1 557.9 557.3 557 560.4 552.4 550.2 553.3z"/>
<path class=b d="M547 553.2 557.3 554.9 560.4 550.5 550.2 548.6z"/>
<path class=g d="M546.9 533.2 557.2 536.1 560.4 532.9 550.1 530z"/>
<path class=y d="M489.6 567.4 499.7 567.8 503.1 563.3 493 563z"/>
<path class=b d="M489.4 548.8 499.6 551.9 502.9 547.7 492.8 544.5z"/>
<path class=g d="M489 518.8 499.3 523.5 502.7 520.5 492.5 515.9z"/>
<path class=y d="M432.1 569.8 442.2 571.5 445.8 567.7 435.7 566.1z"/>
<path class=b d="M431.6 540.1 441.7 543.1 445.3 539.1 435.2 536.2z"/>
<path class=g d="M430.8 497.4 441 502.2 444.6 499.8 434.4 495z"/>
<path class=b d="M580.9 553.4 591.2 554.4 594.3 549.8 584 548.8z"/>
<path class=y d="M580.9 550.1 591.2 549.8 594.3 545.4 584 545.6z"/>
<path class=g d="M580.9 537.6 591.2 539.7 594.3 536.7 584 534.6z"/>
<path class=y d="M523.4 563.3 533.6 562.9 536.9 558.3 526.7 558.7z"/>
<path class=b d="M523.3 553.1 533.6 555.5 536.8 551.2 526.6 548.7z"/>
<path class=g d="M523.2 530.4 533.4 533.7 536.7 530.4 526.4 527.1z"/>
<path class=y d="M465.9 570.2 476 571 479.5 566.7 469.4 566z"/>
<path class=b d="M465.6 546.1 475.8 549.6 479.2 545.5 469.1 542.1z"/>
<path class=g d="M465.1 510.6 475.3 516.2 478.8 513.5 468.6 508z"/>
<path class=y d="M408.3 569.5 418.4 571.4 422 568 412 566.2z"/>
<path class=b d="M407.7 538.7 417.8 541.2 421.4 537.4 411.4 534.8z"/>
<path class=g d="M406.7 491.9 416.9 495.5 420.6 493.2 410.4 489.5z"/>
<path class=y d="M557.3 557 567.6 555.6 570.7 551.2 560.4 552.4z"/>
<path class=b d="M557.3 554.9 567.6 556.5 570.7 552.1 560.4 550.5z"/>
<path class=g d="M557.2 536.1 567.5 538.6 570.6 535.4 560.4 532.9z"/>
<path class=y d="M499.7 567.8 509.9 567.9 513.2 563.4 503.1 563.3z"/>
<path class=b d="M499.6 551.9 509.8 554.7 513.1 550.5 502.9 547.7z"/>
<path class=g d="M499.3 523.5 509.5 528.3 512.9 525.2 502.7 520.5z"/>
<path class=y d="M442.2 571.5 452.3 572.9 455.8 569.1 445.8 567.7z"/>
<path class=b d="M441.7 543.1 451.9 546.5 455.4 542.5 445.3 539.1z"/>
<path class=g d="M441 502.2 451.2 507.4 454.8 505 444.6 499.8z"/>
<path class=b d="M591.2 554.4 601.6 555.2 604.6 550.8 594.3 549.8z"/>
<path class=y d="M591.2 549.8 601.6 550.1 604.6 545.6 594.3 545.4z"/>
<path class=g d="M591.2 539.7 601.6 541.5 604.6 538.5 594.3 536.7z"/>
<path class=y d="M384.4 567.6 394.5 570.3 398.3 567.3 388.2 564.8z"/>
<path class=b d="M383.7 537.1 393.8 539.8 397.6 536.1 387.5 533.5z"/>
<path class=g d="M382.5 487.1 392.7 490.5 396.5 488.3 386.4 484.8z"/>
<path class=y d="M533.6 562.9 543.8 562.5 547.1 557.9 536.9 558.3z"/>
<path class=b d="M533.6 555.5 543.8 557.4 547 553.2 536.8 551.2z"/>
<path class=g d="M533.4 533.7 543.7 536.5 546.9 533.2 536.7 530.4z"/>
<path class=y d="M476 571 486.2 571.7 489.6 567.4 479.5 566.7z"/>
<path class=b d="M475.8 549.6 486 552.9 489.4 548.8 479.2 545.5z"/>
<path class=g d="M475.3 516.2 485.6 521.5 489 518.8 478.8 513.5z"/>
<path class=y d="M418.4 571.4 428.5 573.3 432.1 569.8 422 568z"/>
<path class=b d="M417.8 541.2 427.9 543.9 431.6 540.1 421.4 537.4z"/>
<path class=g d="M416.9 495.5 427.1 499.7 430.8 497.4 420.6 493.2z"/>
<path class=b d="M567.6 556.5 577.9 557.7 580.9 553.4 570.7 552.1z"/>
<path class=y d="M567.6 555.6 577.9 554.5 580.9 550.1 570.7 551.2z"/>
<path class=g d="M567.5 538.6 577.8 540.8 580.9 537.6 570.6 535.4z"/>
<path class=y d="M509.9 567.9 520.1 567.8 523.4 563.3 513.2 563.4z"/>
<path class=b d="M509.8 554.7 520 557.3 523.3 553.1 513.1 550.5z"/>
<path class=g d="M509.5 528.3 519.8 533.7 523.2 530.4 512.9 525.2z"/>
<path class=y d="M452.3 572.9 462.4 574.2 465.9 570.2 455.8 569.1z"/>
<path class=b d="M451.9 546.5 462.1 550.1 465.6 546.1 455.4 542.5z"/>
<path class=g d="M451.2 507.4 461.5 513.1 465.1 510.6 454.8 505z"/>
<path class=b d="M601.6 555.2 611.9 555.9 614.9 551.5 604.6 550.8z"/>
<path class=y d="M601.6 550.1 612 550.6 614.9 546.2 604.6 545.6z"/>
<path class=g d="M601.6 541.5 612 543.1 614.9 540.2 604.6 538.5z"/>
<path class=y d="M394.5 570.3 404.6 572.6 408.3 569.5 398.3 567.3z"/>
<path class=b d="M393.8 539.8 403.9 542.3 407.7 538.7 397.6 536.1z"/>
<path class=g d="M392.7 490.5 402.9 494 406.7 491.9 396.5 488.3z"/>
<path class=y d="M543.8 562.5 554.1 561.5 557.3 557 547.1 557.9z"/>
<path class=b d="M543.8 557.4 554.1 559.1 557.3 554.9 547 553.2z"/>
<path class=g d="M543.7 536.5 554 539.4 557.2 536.1 546.9 533.2z"/>
<path class=y d="M486.2 571.7 496.4 572.1 499.7 567.8 489.6 567.4z"/>
<path class=b d="M486 552.9 496.2 556 499.6 551.9 489.4 548.8z"/>
<path class=g d="M485.6 521.5 495.9 526.3 499.3 523.5 489 518.8z"/>
<path class=y d="M428.5 573.3 438.6 575.1 442.2 571.5 432.1 569.8z"/>
<path class=b d="M427.9 543.9 438.1 546.9 441.7 543.1 431.6 540.1z"/>
<path class=g d="M427.1 499.7 437.3 504.4 441 502.2 430.8 497.4z"/>
<path class=b d="M577.9 557.7 588.2 558.6 591.2 554.4 580.9 553.4z"/>
<path class=y d="M577.9 554.5 588.2 554.1 591.2 549.8 580.9 550.1z"/>
<path class=g d="M577.8 540.8 588.2 542.9 591.2 539.7 580.9 537.6z"/>
<path class=y d="M520.1 567.8 530.4 567.5 533.6 562.9 523.4 563.3z"/>
<path class=b d="M520 557.3 530.3 559.7 533.6 555.5 523.3 553.1z"/>
<path class=g d="M519.8 533.7 530.1 536.9 533.4 533.7 523.2 530.4z"/>
<path class=y d="M462.4 574.2 472.6 575.1 476 571 465.9 570.2z"/>
<path class=b d="M462.1 550.1 472.3 553.6 475.8 549.6 465.6 546.1z"/>
<path class=g d="M461.5 513.1 471.8 518.7 475.3 516.2 465.1 510.6z"/>
<path class=y d="M404.6 572.6 414.7 574.6 418.4 571.4 408.3 569.5z"/>
<path class=b d="M403.9 542.3 414.1 544.9 417.8 541.2 407.7 538.7z"/>
<path class=g d="M402.9 494 413.1 497.5 416.9 495.5 406.7 491.9z"/>
<path class=y d="M554.1 561.5 564.4 560 567.6 555.6 557.3 557z"/>
<path class=b d="M554.1 559.1 564.4 560.6 567.6 556.5 557.3 554.9z"/>
<path class=g d="M554 539.4 564.4 541.9 567.5 538.6 557.2 536.1z"/>
<path class=y d="M496.4 572.1 506.6 572.3 509.9 567.9 499.7 567.8z"/>
<path class=b d="M496.2 556 506.4 558.8 509.8 554.7 499.6 551.9z"/>
<path class=g d="M495.9 526.3 506.2 531.2 509.5 528.3 499.3 523.5z"/>
<path class=y d="M438.6 575.1 448.7 576.7 452.3 572.9 442.2 571.5z"/>
<path class=b d="M438.1 546.9 448.3 550.4 451.9 546.5 441.7 543.1z"/>
<path class=g d="M437.3 504.4 447.6 509.6 451.2 507.4 441 502.2z"/>
<path class=b d="M588.2 558.6 598.6 559.4 601.6 555.2 591.2 554.4z"/>
<path class=y d="M588.2 554.1 598.6 554.4 601.6 550.1 591.2 549.8z"/>
<path class=g d="M588.2 542.9 598.6 544.7 601.6 541.5 591.2 539.7z"/>
<path class=y d="M530.4 567.5 540.6 567 543.8 562.5 533.6 562.9z"/>
<path class=b d="M530.3 559.7 540.6 561.5 543.8 557.4 533.6 555.5z"/>
<path class=g d="M530.1 536.9 540.5 539.8 543.7 536.5 533.4 533.7z"/>
<path class=y d="M472.6 575.1 482.7 575.9 486.2 571.7 476 571z"/>
<path class=b d="M472.3 553.6 482.5 556.9 486 552.9 475.8 549.6z"/>
<path class=g d="M471.8 518.7 482.1 524.1 485.6 521.5 475.3 516.2z"/>
<path class=y d="M414.7 574.6 424.8 576.7 428.5 573.3 418.4 571.4z"/>
<path class=b d="M414.1 544.9 424.2 547.6 427.9 543.9 417.8 541.2z"/>
<path class=g d="M413.1 497.5 423.4 501.6 427.1 499.7 416.9 495.5z"/>
<path class=b d="M564.4 560.6 574.8 561.7 577.9 557.7 567.6 556.5z"/>
<path class=y d="M564.4 560 574.7 558.7 577.9 554.5 567.6 555.6z"/>
<path class=g d="M564.4 541.9 574.7 544.2 577.8 540.8 567.5 538.6z"/>
<path class=y d="M506.6 572.3 516.8 572.2 520.1 567.8 509.9 567.9z"/>
<path class=b d="M506.4 558.8 516.7 561.4 520 557.3 509.8 554.7z"/>
<path class=g d="M506.2 531.2 516.5 536.8 519.8 533.7 509.5 528.3z"/>
<path class=y d="M448.7 576.7 458.9 578 462.4 574.2 452.3 572.9z"/>
<path class=b d="M448.3 550.4 458.5 554.1 462.1 550.1 451.9 546.5z"/>
<path class=g d="M447.6 509.6 457.9 515.4 461.5 513.1 451.2 507.4z"/>
<path class=b d="M598.6 559.4 609 560 611.9 555.9 601.6 555.2z"/>
<path class=y d="M598.6 554.4 609 554.9 612 550.6 601.6 550.1z"/>
<path class=g d="M598.6 544.7 609 546.3 612 543.1 601.6 541.5z"/>
<path class=y d="M540.6 567 550.9 566 554.1 561.5 543.8 562.5z"/>
<path class=b d="M540.6 561.5 550.9 563.1 554.1 559.1 543.8 557.4z"/>
<path class=g d="M540.5 539.8 550.8 542.7 554 539.4 543.7 536.5z"/>
<path class=y d="M482.7 575.9 493 576.3 496.4 572.1 486.2 571.7z"/>
<path class=b d="M482.5 556.9 492.8 560.1 496.2 556 486 552.9z"/>
<path class=g d="M482.1 524.1 492.4 529 495.9 526.3 485.6 521.5z"/>
<path class=y d="M424.8 576.7 434.9 578.7 438.6 575.1 428.5 573.3z"/>
<path class=b d="M424.2 547.6 434.4 550.6 438.1 546.9 427.9 543.9z"/>
<path class=g d="M423.4 501.6 433.6 506.3 437.3 504.4 427.1 499.7z"/>
<path class=b d="M574.8 561.7 585.1 562.5 588.2 558.6 577.9 557.7z"/>
<path class=y d="M574.7 558.7 585.1 558.3 588.2 554.1 577.9 554.5z"/>
<path class=g d="M574.7 544.2 585.1 546.2 588.2 542.9 577.8 540.8z"/>
<path class=y d="M516.8 572.2 527.1 571.9 530.4 567.5 520.1 567.8z"/>
<path class=b d="M516.7 561.4 527 563.8 530.3 559.7 520 557.3z"/>
<path class=g d="M516.5 536.8 526.8 540.1 530.1 536.9 519.8 533.7z"/>
<path class=y d="M458.9 578 469.1 579 472.6 575.1 462.4 574.2z"/>
<path class=b d="M458.5 554.1 468.8 557.6 472.3 553.6 462.1 550.1z"/>
<path class=g d="M457.9 515.4 468.2 521 471.8 518.7 461.5 513.1z"/>
<path class=y d="M550.9 566 561.2 564.4 564.4 560 554.1 561.5z"/>
<path class=b d="M550.9 563.1 561.2 564.6 564.4 560.6 554.1 559.1z"/>
<path class=g d="M550.8 542.7 561.2 545.2 564.4 541.9 554 539.4z"/>
<path class=y d="M493 576.3 503.2 576.6 506.6 572.3 496.4 572.1z"/>
<path class=b d="M492.8 560.1 503 562.9 506.4 558.8 496.2 556z"/>
<path class=g d="M492.4 529 502.8 534.1 506.2 531.2 495.9 526.3z"/>
<path class=y d="M434.9 578.7 445.1 580.4 448.7 576.7 438.6 575.1z"/>
<path class=b d="M434.4 550.6 444.7 554.1 448.3 550.4 438.1 546.9z"/>
<path class=g d="M433.6 506.3 444 511.6 447.6 509.6 437.3 504.4z"/>
<path class=b d="M585.1 562.5 595.5 563.1 598.6 559.4 588.2 558.6z"/>
<path class=y d="M585.1 558.3 595.5 558.6 598.6 554.4 588.2 554.1z"/>
<path class=g d="M585.1 546.2 595.5 548 598.6 544.7 588.2 542.9z"/>
<path class=y d="M527.1 571.9 537.4 571.5 540.6 567 530.4 567.5z"/>
<path class=b d="M527 563.8 537.3 565.6 540.6 561.5 530.3 559.7z"/>
<path class=g d="M526.8 540.1 537.2 542.9 540.5 539.8 530.1 536.9z"/>
<path class=y d="M469.1 579 479.3 579.9 482.7 575.9 472.6 575.1z"/>
<path class=b d="M468.8 557.6 479 561 482.5 556.9 472.3 553.6z"/>
<path class=g d="M468.2 521 478.6 526.6 482.1 524.1 471.8 518.7z"/>
<path class=b d="M561.2 564.6 571.6 565.6 574.8 561.7 564.4 560.6z"/>
<path class=y d="M561.2 564.4 571.6 563 574.7 558.7 564.4 560z"/>
<path class=g d="M561.2 545.2 571.6 547.5 574.7 544.2 564.4 541.9z"/>
<path class=y d="M503.2 576.6 513.5 576.6 516.8 572.2 506.6 572.3z"/>
<path class=b d="M503 562.9 513.4 565.5 516.7 561.4 506.4 558.8z"/>
<path class=g d="M502.8 534.1 513.1 539.8 516.5 536.8 506.2 531.2z"/>
<path class=y d="M445.1 580.4 455.3 581.8 458.9 578 448.7 576.7z"/>
<path class=b d="M444.7 554.1 454.9 557.9 458.5 554.1 448.3 550.4z"/>
<path class=g d="M444 511.6 454.3 517.5 457.9 515.4 447.6 509.6z"/>
<path class=b d="M595.5 563.1 605.9 563.6 609 560 598.6 559.4z"/>
<path class=y d="M595.5 558.6 606 559.2 609 554.9 598.6 554.4z"/>
<path class=g d="M595.5 548 606 549.7 609 546.3 598.6 544.7z"/>
<path class=y d="M537.4 571.5 547.7 570.4 550.9 566 540.6 567z"/>
<path class=b d="M537.3 565.6 547.7 567.1 550.9 563.1 540.6 561.5z"/>
<path class=g d="M537.2 542.9 547.6 545.9 550.8 542.7 540.5 539.8z"/>
<path class=y d="M479.3 579.9 489.5 580.5 493 576.3 482.7 575.9z"/>
<path class=b d="M479 561 489.3 564.2 492.8 560.1 482.5 556.9z"/>
<path class=g d="M478.6 526.6 488.9 531.6 492.4 529 482.1 524.1z"/>
<path class=b d="M571.6 565.6 582 566.3 585.1 562.5 574.8 561.7z"/>
<path class=y d="M571.6 563 582 562.5 585.1 558.3 574.7 558.7z"/>
<path class=g d="M571.6 547.5 582 549.5 585.1 546.2 574.7 544.2z"/>
<path class=y d="M513.5 576.6 523.8 576.3 527.1 571.9 516.8 572.2z"/>
<path class=b d="M513.4 565.5 523.7 567.9 527 563.8 516.7 561.4z"/>
<path class=g d="M513.1 539.8 523.5 543.1 526.8 540.1 516.5 536.8z"/>
<path class=y d="M455.3 581.8 465.5 582.9 469.1 579 458.9 578z"/>
<path class=b d="M454.9 557.9 465.2 561.5 468.8 557.6 458.5 554.1z"/>
<path class=g d="M454.3 517.5 464.7 523.2 468.2 521 457.9 515.4z"/>
<path class=y d="M547.7 570.4 558.1 568.7 561.2 564.4 550.9 566z"/>
<path class=b d="M547.7 567.1 558.1 568.5 561.2 564.6 550.9 563.1z"/>
<path class=g d="M547.6 545.9 558 548.5 561.2 545.2 550.8 542.7z"/>
<path class=y d="M489.5 580.5 499.8 580.7 503.2 576.6 493 576.3z"/>
<path class=b d="M489.3 564.2 499.6 567.1 503 562.9 492.8 560.1z"/>
<path class=g d="M488.9 531.6 499.3 536.8 502.8 534.1 492.4 529z"/>
<path class=b d="M582 566.3 592.5 566.9 595.5 563.1 585.1 562.5z"/>
<path class=y d="M582 562.5 592.5 562.7 595.5 558.6 585.1 558.3z"/>
<path class=g d="M582 549.5 592.5 551.4 595.5 548 585.1 546.2z"/>
<path class=y d="M523.8 576.3 534.1 575.9 537.4 571.5 527.1 571.9z"/>
<path class=b d="M523.7 567.9 534 569.7 537.3 565.6 527 563.8z"/>
<path class=g d="M523.5 543.1 533.9 546 537.2 542.9 526.8 540.1z"/>
<path class=y d="M465.5 582.9 475.8 583.9 479.3 579.9 469.1 579z"/>
<path class=b d="M465.2 561.5 475.5 565 479 561 468.8 557.6z"/>
<path class=g d="M464.7 523.2 475 528.9 478.6 526.6 468.2 521z"/>
<path class=b d="M558.1 568.5 568.5 569.5 571.6 565.6 561.2 564.6z"/>
<path class=y d="M558.1 568.7 568.5 567.1 571.6 563 561.2 564.4z"/>
<path class=g d="M558 548.5 568.4 550.8 571.6 547.5 561.2 545.2z"/>
<path class=y d="M499.8 580.7 510.1 580.8 513.5 576.6 503.2 576.6z"/>
<path class=b d="M499.6 567.1 510 569.7 513.4 565.5 503 562.9z"/>
<path class=g d="M499.3 536.8 509.7 542.7 513.1 539.8 502.8 534.1z"/>
<path class=b d="M592.5 566.9 602.9 567.3 605.9 563.6 595.5 563.1z"/>
<path class=y d="M592.5 562.7 602.9 563.4 606 559.2 595.5 558.6z"/>
<path class=g d="M592.5 551.4 602.9 553.1 606 549.7 595.5 548z"/>
<path class=y d="M534.1 575.9 544.4 574.7 547.7 570.4 537.4 571.5z"/>
<path class=b d="M534 569.7 544.4 571.2 547.7 567.1 537.3 565.6z"/>
<path class=g d="M533.9 546 544.3 549 547.6 545.9 537.2 542.9z"/>
<path class=y d="M475.8 583.9 486 584.5 489.5 580.5 479.3 579.9z"/>
<path class=b d="M475.5 565 485.9 568.3 489.3 564.2 479 561z"/>
<path class=g d="M475 528.9 485.4 534.1 488.9 531.6 478.6 526.6z"/>
<path class=b d="M568.5 569.5 578.9 570.1 582 566.3 571.6 565.6z"/>
<path class=y d="M568.5 567.1 578.9 566.6 582 562.5 571.6 563z"/>
<path class=g d="M568.4 550.8 578.9 552.9 582 549.5 571.6 547.5z"/>
<path class=y d="M510.1 580.8 520.4 580.6 523.8 576.3 513.5 576.6z"/>
<path class=b d="M510 569.7 520.3 572.1 523.7 567.9 513.4 565.5z"/>
<path class=g d="M509.7 542.7 520.1 546.1 523.5 543.1 513.1 539.8z"/>
<path class=y d="M544.4 574.7 554.8 572.9 558.1 568.7 547.7 570.4z"/>
<path class=b d="M544.4 571.2 554.8 572.5 558.1 568.5 547.7 567.1z"/>
<path class=g d="M544.3 549 554.7 551.7 558 548.5 547.6 545.9z"/>
<path class=y d="M486 584.5 496.4 584.8 499.8 580.7 489.5 580.5z"/>
<path class=b d="M485.9 568.3 496.2 571.1 499.6 567.1 489.3 564.2z"/>
<path class=g d="M485.4 534.1 495.9 539.4 499.3 536.8 488.9 531.6z"/>
<path class=b d="M578.9 570.1 589.4 570.6 592.5 566.9 582 566.3z"/>
<path class=y d="M578.9 566.6 589.4 566.8 592.5 562.7 582 562.5z"/>
<path class=g d="M578.9 552.9 589.4 554.8 592.5 551.4 582 549.5z"/>
<path class=y d="M520.4 580.6 530.8 580.2 534.1 575.9 523.8 576.3z"/>
<path class=b d="M520.3 572.1 530.7 573.8 534 569.7 523.7 567.9z"/>
<path class=g d="M520.1 546.1 530.6 549 533.9 546 523.5 543.1z"/>
<path class=b d="M554.8 572.5 565.3 573.5 568.5 569.5 558.1 568.5z"/>
<path class=y d="M554.8 572.9 565.3 571.2 568.5 567.1 558.1 568.7z"/>
<path class=g d="M554.7 551.7 565.2 554 568.4 550.8 558 548.5z"/>
<path class=y d="M496.4 584.8 506.7 585 510.1 580.8 499.8 580.7z"/>
<path class=b d="M496.2 571.1 506.6 573.8 510 569.7 499.6 567.1z"/>
<path class=g d="M495.9 539.4 506.3 545.5 509.7 542.7 499.3 536.8z"/>
<path class=b d="M589.4 570.6 599.9 570.9 602.9 567.3 592.5 566.9z"/>
<path class=y d="M589.4 566.8 599.9 567.5 602.9 563.4 592.5 562.7z"/>
<path class=g d="M589.4 554.8 599.9 556.5 602.9 553.1 592.5 551.4z"/>
<path class=y d="M530.8 580.2 541.2 579 544.4 574.7 534.1 575.9z"/>
<path class=b d="M530.7 573.8 541.2 575.3 544.4 571.2 534 569.7z"/>
<path class=g d="M530.6 549 541 552.1 544.3 549 533.9 546z"/>
<path class=b d="M565.3 573.5 575.7 574 578.9 570.1 568.5 569.5z"/>
<path class=y d="M565.3 571.2 575.7 570.7 578.9 566.6 568.5 567.1z"/>
<path class=g d="M565.2 554 575.7 556.2 578.9 552.9 568.4 550.8z"/>
<path class=y d="M506.7 585 517.1 584.8 520.4 580.6 510.1 580.8z"/>
<path class=b d="M506.6 573.8 517 576.2 520.3 572.1 510 569.7z"/>
<path class=g d="M506.3 545.5 516.7 549 520.1 546.1 509.7 542.7z"/>
<path class=y d="M541.2 579 551.6 577 554.8 572.9 544.4 574.7z"/>
<path class=b d="M541.2 575.3 551.6 576.6 554.8 572.5 544.4 571.2z"/>
<path class=g d="M541 552.1 551.5 554.8 554.7 551.7 544.3 549z"/>
<path class=b d="M575.7 574 586.3 574.4 589.4 570.6 578.9 570.1z"/>
<path class=y d="M575.7 570.7 586.2 570.9 589.4 566.8 578.9 566.6z"/>
<path class=g d="M575.7 556.2 586.2 558.1 589.4 554.8 578.9 552.9z"/>
<path class=y d="M517.1 584.8 527.5 584.4 530.8 580.2 520.4 580.6z"/>
<path class=b d="M517 576.2 527.4 578 530.7 573.8 520.3 572.1z"/>
<path class=g d="M516.7 549 527.2 551.9 530.6 549 520.1 546.1z"/>
<path class=b d="M551.6 576.6 562.1 577.5 565.3 573.5 554.8 572.5z"/>
<path class=y d="M551.6 577 562.1 575.3 565.3 571.2 554.8 572.9z"/>
<path class=g d="M551.5 554.8 562 557.2 565.2 554 554.7 551.7z"/>
<path class=b d="M586.3 574.4 596.8 574.7 599.9 570.9 589.4 570.6z"/>
<path class=y d="M586.2 570.9 596.8 571.6 599.9 567.5 589.4 566.8z"/>
<path class=g d="M586.2 558.1 596.8 560 599.9 556.5 589.4 554.8z"/>
<path class=y d="M527.5 584.4 537.9 583.1 541.2 579 530.8 580.2z"/>
<path class=b d="M527.4 578 537.9 579.4 541.2 575.3 530.7 573.8z"/>
<path class=g d="M527.2 551.9 537.7 555.1 541 552.1 530.6 549z"/>
<path class=b d="M562.1 577.5 572.6 578 575.7 574 565.3 573.5z"/>
<path class=y d="M562.1 575.3 572.6 574.7 575.7 570.7 565.3 571.2z"/>
<path class=g d="M562 557.2 572.5 559.4 575.7 556.2 565.2 554z"/>
<path class=y d="M537.9 583.1 548.3 581.1 551.6 577 541.2 579z"/>
<path class=b d="M537.9 579.4 548.3 580.7 551.6 576.6 541.2 575.3z"/>
<path class=g d="M537.7 555.1 548.2 557.9 551.5 554.8 541 552.1z"/>
<path class=b d="M572.6 578 583.1 578.4 586.3 574.4 575.7 574z"/>
<path class=y d="M572.6 574.7 583.1 575 586.2 570.9 575.7 570.7z"/>
<path class=g d="M572.5 559.4 583.1 561.5 586.2 558.1 575.7 556.2z"/>
<path class=b d="M548.3 580.7 558.8 581.6 562.1 577.5 551.6 576.6z"/>
<path class=y d="M548.3 581.1 558.8 579.3 562.1 575.3 551.6 577z"/>
<path class=g d="M548.2 557.9 558.8 560.4 562 557.2 551.5 554.8z"/>
<path class=b d="M583.1 578.4 593.7 578.5 596.8 574.7 586.3 574.4z"/>
<path class=y d="M583.1 575 593.7 575.7 596.8 571.6 586.2 570.9z"/>
<path class=g d="M583.1 561.5 593.7 563.4 596.8 560 586.2 558.1z"/>
<path class=b d="M558.8 581.6 569.4 582 572.6 578 562.1 577.5z"/>
<path class=y d="M558.8 579.3 569.4 578.6 572.6 574.7 562.1 575.3z"/>
<path class=g d="M558.8 560.4 569.3 562.7 572.5 559.4 562 557.2z"/>
<path class=b d="M569.4 582 580 582.4 583.1 578.4 572.6 578z"/>
<path class=y d="M569.4 578.6 580 578.9 583.1 575 572.6 574.7z"/>
<path class=g d="M569.3 562.7 579.9 564.9 583.1 561.5 572.5 559.4z"/>
<path class=b d="M580 582.4 590.6 582.5 593.7 578.5 583.1 578.4z"/>
<path class=y d="M580 578.9 590.6 579.7 593.7 575.7 583.1 575z"/>
<path class=g d="M579.9 564.9 590.6 566.8 593.7 563.4 583.1 561.5z"/>
</g>
<text x="341.5" y="371.6" font-size="20" font-weight="bold">d)</text>
<rect x="546" y="352" width="125" height="64" fill="#fff"/>
<rect x="578.5" y="358.5" width="29" height="6.3" fill="#9cf88f" stroke="#505050" stroke-width="0.9"/>
<text x="614" y="366.5" font-size="12.5" font-weight="bold"><tspan font-style="italic">T</tspan>= 160ºC</text>
<rect x="578.5" y="378.5" width="29" height="6.3" fill="#0000fc" stroke="#505050" stroke-width="0.9"/>
<text x="614" y="386.5" font-size="12.5" font-weight="bold"><tspan font-style="italic">T</tspan>= 175ºC</text>
<rect x="578.5" y="398.3" width="29" height="6.3" fill="#fcf9aa" stroke="#505050" stroke-width="0.9"/>
<text x="614" y="406.3" font-size="12.5" font-weight="bold"><tspan font-style="italic">T</tspan>= 190ºC</text>
<text x="381.7" y="594.3" font-size="8.8" fill="#2a2a3a" text-anchor="end" textLength="4.6" lengthAdjust="spacingAndGlyphs">6</text>
<text x="381.3" y="576.0" font-size="8.8" fill="#2a2a3a" text-anchor="end" textLength="4.6" lengthAdjust="spacingAndGlyphs">8</text>
<text x="380.9" y="557.7" font-size="8.8" fill="#2a2a3a" text-anchor="end" textLength="9.2" lengthAdjust="spacingAndGlyphs">10</text>
<text x="380.4" y="539.3" font-size="8.8" fill="#2a2a3a" text-anchor="end" textLength="9.2" lengthAdjust="spacingAndGlyphs">12</text>
<text x="380.0" y="520.8" font-size="8.8" fill="#2a2a3a" text-anchor="end" textLength="9.2" lengthAdjust="spacingAndGlyphs">14</text>
<text x="379.6" y="502.3" font-size="8.8" fill="#2a2a3a" text-anchor="end" textLength="9.2" lengthAdjust="spacingAndGlyphs">16</text>
<text x="379.1" y="483.6" font-size="8.8" fill="#2a2a3a" text-anchor="end" textLength="9.2" lengthAdjust="spacingAndGlyphs">18</text>
<text x="378.7" y="464.9" font-size="8.8" fill="#2a2a3a" text-anchor="end" textLength="9.2" lengthAdjust="spacingAndGlyphs">20</text>
<text x="378.2" y="446.2" font-size="8.8" fill="#2a2a3a" text-anchor="end" textLength="9.2" lengthAdjust="spacingAndGlyphs">22</text>
<text x="377.8" y="427.3" font-size="8.8" fill="#2a2a3a" text-anchor="end" textLength="9.2" lengthAdjust="spacingAndGlyphs">24</text>
<text x="377.3" y="408.3" font-size="8.8" fill="#2a2a3a" text-anchor="end" textLength="9.2" lengthAdjust="spacingAndGlyphs">26</text>
<text x="396.6" y="601.8" font-size="8.8" fill="#2a2a3a" text-anchor="middle" textLength="11.2" lengthAdjust="spacingAndGlyphs">0,6</text>
<text x="437.0" y="606.4" font-size="8.8" fill="#2a2a3a" text-anchor="middle" textLength="11.2" lengthAdjust="spacingAndGlyphs">0,8</text>
<text x="477.8" y="611.0" font-size="8.8" fill="#2a2a3a" text-anchor="middle" textLength="11.2" lengthAdjust="spacingAndGlyphs">1,0</text>
<text x="519.2" y="615.7" font-size="8.8" fill="#2a2a3a" text-anchor="middle" textLength="11.2" lengthAdjust="spacingAndGlyphs">1,2</text>
<text x="561.1" y="620.4" font-size="8.8" fill="#2a2a3a" text-anchor="middle" textLength="11.2" lengthAdjust="spacingAndGlyphs">1,4</text>
<text x="595.1" y="616.9" font-size="8.6" fill="#2a2a3a" textLength="8.2" lengthAdjust="spacingAndGlyphs">60</text>
<text x="602.8" y="607.3" font-size="8.6" fill="#2a2a3a" textLength="8.2" lengthAdjust="spacingAndGlyphs">55</text>
<text x="610.4" y="597.8" font-size="8.6" fill="#2a2a3a" textLength="8.2" lengthAdjust="spacingAndGlyphs">50</text>
<text x="617.9" y="588.6" font-size="8.6" fill="#2a2a3a" textLength="8.2" lengthAdjust="spacingAndGlyphs">45</text>
<text x="625.2" y="579.5" font-size="8.6" fill="#2a2a3a" textLength="8.2" lengthAdjust="spacingAndGlyphs">40</text>
<text x="632.4" y="570.6" font-size="8.6" fill="#2a2a3a" textLength="8.2" lengthAdjust="spacingAndGlyphs">35</text>
<text x="639.4" y="561.9" font-size="8.6" fill="#2a2a3a" textLength="8.2" lengthAdjust="spacingAndGlyphs">30</text>
<text x="646.3" y="553.3" font-size="8.6" fill="#2a2a3a" textLength="8.2" lengthAdjust="spacingAndGlyphs">25</text>
<text x="653.1" y="544.9" font-size="8.6" fill="#2a2a3a" textLength="8.2" lengthAdjust="spacingAndGlyphs">20</text>
<text transform="translate(359.2,582.4) rotate(-90)" font-size="17.4" font-weight="bold"><tspan font-style="italic">y</tspan><tspan font-size="11" dy="3">4</tspan><tspan dy="-3">, (% Lignin Content)</tspan></text>
<text x="432.5" y="626" font-size="14.3" font-weight="bold">CatCh, g/100g</text>
<text transform="translate(632,613.5) rotate(-54.5)" font-size="13.8" font-weight="bold">% Pent,</text>
<text transform="translate(644,623.5) rotate(-54.5)" font-size="13.8" font-weight="bold">mL/100mL</text>
</g>
</svg></body></html>
